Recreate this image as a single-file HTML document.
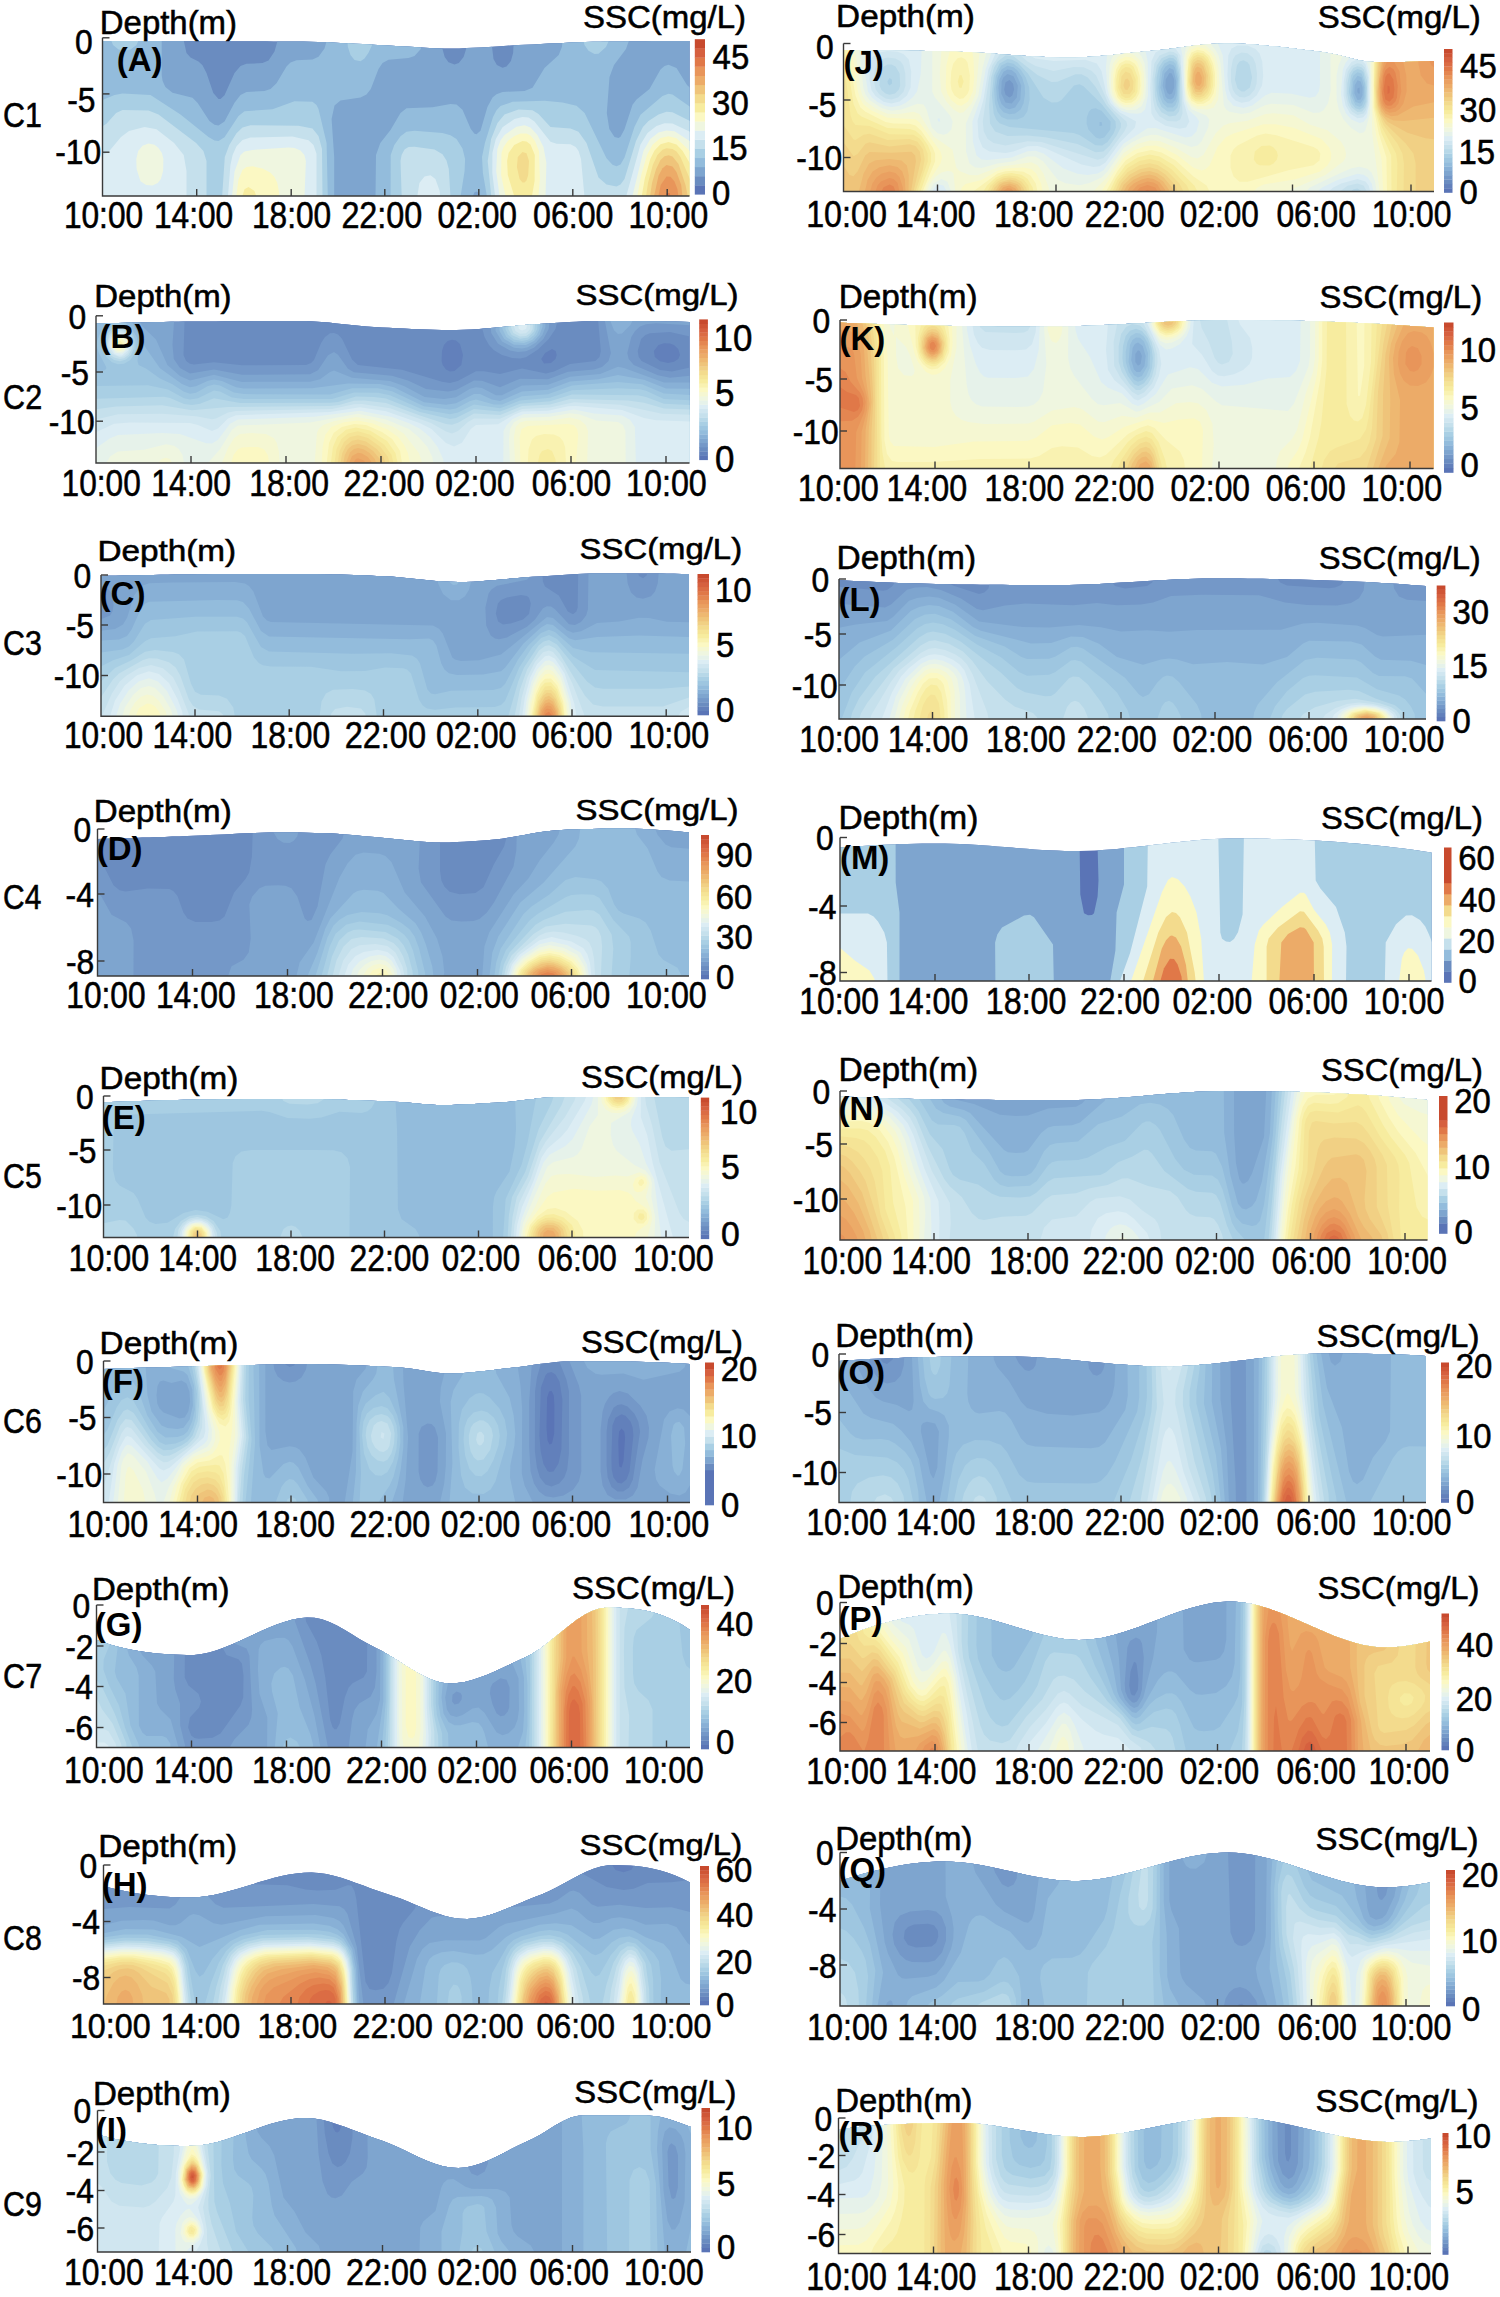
<!DOCTYPE html><html><head><meta charset="utf-8"><style>html,body{margin:0;padding:0;background:#fff}svg{display:block}text{font-family:"Liberation Sans",sans-serif}</style></head><body><svg width="1500" height="2297" viewBox="0 0 1500 2297" font-family="Liberation Sans, sans-serif" fill="#000"><clipPath id="cA"><path d="M102.5 41 109.9 41 117.4 41 124.8 41 132.2 41 139.7 41 147.1 41 154.5 41 161.9 41 169.4 41.1 176.8 41.1 184.2 41.1 191.7 41.1 199.1 41.1 206.5 41.1 214 41.1 221.4 41.2 228.8 41.2 236.2 41.2 243.7 41.2 251.1 41.3 258.5 41.3 266 41.3 273.4 41.4 280.8 41.4 288.3 41.4 295.7 41.5 303.1 41.5 310.6 41.7 318 41.9 325.4 42.1 332.8 42.5 340.3 42.9 347.7 43.3 355.1 43.7 362.6 44.1 370 44.5 377.4 44.9 384.9 45.2 392.3 45.7 399.7 46.2 407.1 46.6 414.6 47.1 422 47.6 429.4 48 436.9 48.3 444.3 48.5 451.7 48.5 459.2 48.4 466.6 48.1 474 47.8 481.4 47.4 488.9 46.9 496.3 46.4 503.7 45.9 511.2 45.5 518.6 45.1 526 44.7 533.5 44.4 540.9 44 548.3 43.6 555.8 43.2 563.2 42.9 570.6 42.6 578 42.3 585.5 42 592.9 41.8 600.3 41.7 607.8 41.6 615.2 41.5 622.6 41.4 630.1 41.3 637.5 41.3 644.9 41.2 652.3 41.1 659.8 41.1 667.2 41.1 674.6 41 682.1 41 689.5 41 689.5 196 102.5 196Z"/></clipPath>
<g clip-path="url(#cA)">
<rect x="102.5" y="39.0" width="588.0" height="158.0" fill="#5a74b6"/>
<path fill-rule="evenodd" fill="#6a8cc0" d="M690.5 197 102.5 197 102.5 39 690.5 39 690.5 197Z"/>
<path fill-rule="evenodd" fill="#7ea5cf" d="M690.5 197 102.5 197 102.5 39 183.4 39 186.5 53.1 190.5 57.6 198.5 61.5 202.5 65.3 206.5 72.9 213.3 93 218.5 99.1 220.5 99 224.5 95.2 234.5 73 240.5 66 246.5 63.8 262.5 63.1 268.5 60.5 274.5 51.5 278 39 442 39 442.5 49 444.7 57 448.5 62.3 454.5 64.5 458.8 63 463.6 57 466.1 49 466.8 39 491.1 39 493.5 59 496.9 65 502.5 67.7 506.5 66.6 510.9 61 513.1 53 513.9 39 690.5 39 690.5 197Z"/>
<path fill-rule="evenodd" fill="#93bcdc" d="M332.5 197 102.5 197 102.5 39 161.7 39 161.7 75 162.6 81 165.4 87 172.5 92.7 192.5 97.8 197.7 103 209.4 121 214.5 124.7 218.5 125.4 224.5 121.4 234.5 102.8 240.5 94.9 246.5 91.9 264.5 91.1 270.5 89.1 276.5 83.2 286.5 66.6 290.5 62.4 296.5 60.3 312.5 59.6 318.5 56.7 324.5 48.6 327.2 39 422.5 39 420.8 49 414.5 56.1 408.5 58.1 388.5 59.7 382.5 62.9 378.5 69 370.8 89 366.5 94.5 360.5 97.4 340.5 100.6 334.5 105.4 331.6 119 334.2 157 334.2 197 332.5 197ZM690.5 197 480 197 478.5 192.6 476.5 191.4 474.5 192.3 472.5 197 375.5 197 376 155 380.3 143 390.5 130 400.5 112.9 406.5 108.3 432.5 107.2 450.5 104 456.5 104.6 462.5 109.7 470.8 129 474.5 133.7 476.5 134.3 480.5 130.7 487.4 107 492.5 97.5 496.5 94.2 502.5 91.9 524.5 91 532.5 87.7 544.5 68.1 558.7 55 561.9 47 562.8 39 629.5 39 626 49 614 65 609.5 77 606.8 113 609.3 129 614.5 137 618.5 138.1 620.5 136.8 624.5 129.2 632.5 104.7 636.5 99.4 649.5 89 660.5 69.6 664.5 66 668.5 64.8 676.5 68.1 687 85 690.5 88.2 690.5 197Z"/>
<path fill-rule="evenodd" fill="#a9cfe4" d="M130.5 49.6 124.5 50.7 118.5 49.4 113 45 110.6 39 139.1 39 136.5 45.1 130.5 49.6ZM360.5 61.2 354.5 59.9 350.5 55 347.9 47 347.2 39 373.2 39 372.1 45 368.5 52.8 364.5 58.5 360.5 61.2ZM598.5 53.7 594.5 54.1 588.5 50.8 584.5 45 583 39 609.6 39 606 47 598.5 53.7ZM326.5 197 102.5 197 102.5 99.9 114.5 95.1 122.5 93.5 150.5 95.1 180.5 114.4 208.5 137.1 214.5 140.5 218.5 141 224.5 137.3 238.5 115.9 244.5 111.2 272.5 109.2 294.5 101.3 312.5 101.7 316.5 105 318.5 109 326.6 143 327.8 197 326.5 197ZM690.5 197 487 197 482.9 173 482 157 484.9 143 493 117 496.5 110.2 500.5 106 512.5 101.8 544.5 100.7 562.5 102.5 576.5 105.7 584.6 113 606.5 158.2 612.5 164.8 616.5 166.3 620.5 164.4 624.5 157.4 634.5 126.8 640.5 114.8 662.5 96 668.5 93.8 672.5 94.6 690.5 107.1 690.5 197ZM460.5 197 390.6 197 390.7 155 394.3 145 400.5 136.2 406.5 131.8 414.5 130.7 442.5 133 450.5 135.2 456.5 139 462.5 148.5 465.1 159 464.6 171 460.5 197Z"/>
<path fill-rule="evenodd" fill="#c5e0ec" d="M690.5 197 491.3 197 487.7 161 491.1 139 497.5 123 504.5 114.4 518.5 109.4 532.5 110.2 538.5 114 550.5 126.9 570.5 128.5 578.5 131.7 586.5 143.1 598.5 177.4 606.5 184.5 616.5 186.5 620.5 184.5 624.5 179 636 141 642.9 127 648.5 121 658.5 114.5 666.5 111.8 672.5 112.3 690.5 121.3 690.5 197ZM206.5 197 102.5 197 102.5 126.3 106.5 123.7 116.1 113 122.5 109.9 148.5 110.4 158.5 114.5 196.1 143 203.4 151 206.5 161 206.5 197ZM322.5 197 222.1 197 224.8 157 229.3 145 236.5 133.2 242.5 127.4 250.5 125.3 298.5 125.8 312.5 128.6 318.5 136.1 322 149 322.5 197ZM450.5 197 401.7 197 400.5 161 401.6 155 404.5 149.6 408.5 147 414.5 146.7 434.5 149.6 442.5 154.2 446.5 160.6 448.8 169 450.5 197Z"/>
<path fill-rule="evenodd" fill="#dcedf4" d="M584.5 197 495.2 197 492.3 173 492.4 153 495.8 139 502.5 127.3 514.5 118.9 522.5 117 528.5 117.6 534.5 121.6 550.5 141.7 556.5 143.7 570.5 144.3 575.7 147 578.6 151 581 159 584.5 197ZM690.5 197 626 197 640.5 144.5 647.5 133 656.5 125.9 664.5 123.3 672.5 123.5 690.5 132.1 690.5 197ZM186.5 197 102.5 197 102.5 154.9 108.5 151.9 121 137 129 131 144.5 126.9 156.5 129.3 174.1 143 183.7 155 186.5 171 186.5 197ZM316.5 197 227.9 197 230.4 165 232.6 155 236.5 146.3 242.5 139.9 250.5 137.6 292.5 136.4 308.5 140.2 313.5 145 316.5 153.7 316.5 197ZM438.5 197 417.2 197 419.4 183 424.5 176.4 430.5 175.3 435.4 179 439.7 191 440.2 197 438.5 197Z"/>
<path fill-rule="evenodd" fill="#eff6e0" d="M544.5 197 499.7 197 496.2 171 497.3 149 500.5 140.6 504.5 134.9 516.5 126.8 524.5 125.3 530.5 127.4 537.4 135 543.5 147 546.4 163 545.5 197 544.5 197ZM690.5 197 632.2 197 643.4 151 650.3 139 658.5 132.5 666.5 130.4 674.5 131.3 690.5 141.5 690.5 197ZM152.5 185.4 146.2 185 140.5 181.2 136.6 169 136.3 159 138.2 151 142.5 145.7 148.5 143.4 154.5 144.8 158.5 147.9 161.9 153 163.4 159 163.1 171 160.9 179 157.8 183 152.5 185.4ZM304.5 197 232 197 234.5 171.8 240.5 155.1 244.5 151.6 252.5 149.9 288.5 147.5 294.5 148 300.5 150.5 304.4 155 305.9 161 304.5 197Z"/>
<path fill-rule="evenodd" fill="#fbf8c3" d="M536.5 197 505.7 197 501.1 175 501.5 153 503.6 147 507.8 141 514.5 135.9 520.5 133.4 526.5 133.4 530.5 135.6 535 141 539 151 539.9 179 538.4 197 536.5 197ZM690.5 197 637.1 197 641.2 175 647 155 652.5 144.7 660.5 138 668.5 136.3 676.5 138.3 690.5 151.6 690.5 197ZM278.5 197 236.1 197 238.5 179.6 242.5 170.1 246.5 166.9 252.5 166.3 262.5 168.6 270.5 172.8 274.5 177 277.3 183 279.2 193 278.5 197Z"/>
<path fill-rule="evenodd" fill="#f7ec9f" d="M530.5 197 514.5 197 507.8 175 507.1 161 508.6 153 514.2 145 522.5 141 526.5 141.4 530.5 144.4 534.8 155 534.6 181 531.8 197 530.5 197ZM690.5 197 641.6 197 644.7 179 650.3 159 654.5 150.4 660.5 144.3 668.5 142.1 676.5 144.6 682.5 150.8 690.5 164.4 690.5 197ZM256.5 197 242.1 197 244.5 189.3 248.5 187.1 254.5 191 256.5 197Z"/>
<path fill-rule="evenodd" fill="#f3db8d" d="M690.5 197 645.9 197 648 183 652.8 165 657.4 155 662.5 149.7 666.5 148.2 672.5 149 676.5 151.6 680.5 156.9 690.5 180.5 690.5 197ZM524.5 182.6 522.5 182.5 519.6 179 516.9 167 517.8 157 522.5 152 526.5 153.2 529 161 528.2 175 526.5 180.6 524.5 182.6Z"/>
<path fill-rule="evenodd" fill="#efc47a" d="M686.5 197 650 197 652 183 656.1 169 660.5 160.1 664.5 156.3 668.5 155.3 672.5 156.6 678.5 163.9 685.5 185 687.5 195 687.6 197 686.5 197Z"/>
<path fill-rule="evenodd" fill="#ecab68" d="M682.5 197 653.9 197 658.5 175.8 662.5 168.2 666.5 165 672.5 166.5 676.5 171.9 681.2 185 682.5 197Z"/>
<path fill-rule="evenodd" fill="#e8955a" d="M678.5 197 658.2 197 660.7 185 666.5 176.6 670.5 176.8 674.5 181.6 677.4 189 678.5 197Z"/>
<path fill-rule="evenodd" fill="#e07848" d="M670.5 197 665.2 197 666.5 193.1 669.6 193 670.5 197Z"/>
</g>
<path d="M102.5 37.8V196H689.5" fill="none" stroke="#3a3a3a" stroke-width="1.4"/>
<path d="M102.5 37.8h7" stroke="#3a3a3a" stroke-width="1.4"/>
<path d="M102.5 93.9h7" stroke="#3a3a3a" stroke-width="1.4"/>
<path d="M102.5 152.2h7" stroke="#3a3a3a" stroke-width="1.4"/>
<path d="M196.7 196v-7" stroke="#3a3a3a" stroke-width="1.4"/>
<path d="M291.2 196v-7" stroke="#3a3a3a" stroke-width="1.4"/>
<path d="M384.8 196v-7" stroke="#3a3a3a" stroke-width="1.4"/>
<path d="M478.8 196v-7" stroke="#3a3a3a" stroke-width="1.4"/>
<path d="M572.8 196v-7" stroke="#3a3a3a" stroke-width="1.4"/>
<path d="M667.2 196v-7" stroke="#3a3a3a" stroke-width="1.4"/>
<rect x="694.8" y="185.2" width="10.2" height="9.4" fill="#5a74b6"/>
<rect x="694.8" y="176.1" width="10.2" height="9.4" fill="#6a8cc0"/>
<rect x="694.8" y="166.9" width="10.2" height="9.4" fill="#7ea5cf"/>
<rect x="694.8" y="157.8" width="10.2" height="9.4" fill="#93bcdc"/>
<rect x="694.8" y="148.7" width="10.2" height="9.4" fill="#a9cfe4"/>
<rect x="694.8" y="139.6" width="10.2" height="9.4" fill="#c5e0ec"/>
<rect x="694.8" y="130.4" width="10.2" height="9.4" fill="#dcedf4"/>
<rect x="694.8" y="121.3" width="10.2" height="9.4" fill="#eff6e0"/>
<rect x="694.8" y="112.2" width="10.2" height="9.4" fill="#fbf8c3"/>
<rect x="694.8" y="103.1" width="10.2" height="9.4" fill="#f7ec9f"/>
<rect x="694.8" y="93.9" width="10.2" height="9.4" fill="#f3db8d"/>
<rect x="694.8" y="84.8" width="10.2" height="9.4" fill="#efc47a"/>
<rect x="694.8" y="75.7" width="10.2" height="9.4" fill="#ecab68"/>
<rect x="694.8" y="66.6" width="10.2" height="9.4" fill="#e8955a"/>
<rect x="694.8" y="57.4" width="10.2" height="9.4" fill="#e07848"/>
<rect x="694.8" y="48.3" width="10.2" height="9.4" fill="#d6603f"/>
<rect x="694.8" y="39.2" width="10.2" height="9.4" fill="#c84a2e"/>
<text x="63.9" y="227.9" font-size="36.2" textLength="79.2" lengthAdjust="spacingAndGlyphs" stroke="#000" stroke-width="0.55">10:00</text>
<text x="154.0" y="227.9" font-size="36.2" textLength="79.2" lengthAdjust="spacingAndGlyphs" stroke="#000" stroke-width="0.55">14:00</text>
<text x="252.0" y="227.9" font-size="36.2" textLength="79.2" lengthAdjust="spacingAndGlyphs" stroke="#000" stroke-width="0.55">18:00</text>
<text x="341.4" y="227.9" font-size="36.2" textLength="80.9" lengthAdjust="spacingAndGlyphs" stroke="#000" stroke-width="0.55">22:00</text>
<text x="437.5" y="227.9" font-size="36.2" textLength="79.5" lengthAdjust="spacingAndGlyphs" stroke="#000" stroke-width="0.55">02:00</text>
<text x="533.1" y="227.9" font-size="36.2" textLength="80.4" lengthAdjust="spacingAndGlyphs" stroke="#000" stroke-width="0.55">06:00</text>
<text x="628.6" y="227.9" font-size="36.2" textLength="79.7" lengthAdjust="spacingAndGlyphs" stroke="#000" stroke-width="0.55">10:00</text>
<text x="75.1" y="54.1" font-size="34.2" textLength="17.7" lengthAdjust="spacingAndGlyphs" stroke="#000" stroke-width="0.55">0</text>
<text x="67.2" y="111.6" font-size="34.2" textLength="28.3" lengthAdjust="spacingAndGlyphs" stroke="#000" stroke-width="0.55">-5</text>
<text x="55.3" y="163.7" font-size="34.2" textLength="45.9" lengthAdjust="spacingAndGlyphs" stroke="#000" stroke-width="0.55">-10</text>
<text x="712.6" y="68.5" font-size="34.6" textLength="36.6" lengthAdjust="spacingAndGlyphs" stroke="#000" stroke-width="0.55">45</text>
<text x="712.1" y="114.7" font-size="34.6" textLength="36.6" lengthAdjust="spacingAndGlyphs" stroke="#000" stroke-width="0.55">30</text>
<text x="710.9" y="160.2" font-size="34.6" textLength="36.6" lengthAdjust="spacingAndGlyphs" stroke="#000" stroke-width="0.55">15</text>
<text x="712.1" y="205.4" font-size="34.6" textLength="18.3" lengthAdjust="spacingAndGlyphs" stroke="#000" stroke-width="0.55">0</text>
<text x="99.8" y="33.5" font-size="32.4" textLength="137.2" lengthAdjust="spacingAndGlyphs" stroke="#000" stroke-width="0.55">Depth(m)</text>
<text x="582.9" y="27.6" font-size="31.5" textLength="163.1" lengthAdjust="spacingAndGlyphs" stroke="#000" stroke-width="0.55">SSC(mg/L)</text>
<text x="3.1" y="127.0" font-size="34.2" textLength="38.9" lengthAdjust="spacingAndGlyphs" stroke="#000" stroke-width="0.55">C1</text>
<text x="116.8" y="70.9" font-size="33.0" font-weight="bold">(A)</text>
<clipPath id="cB"><path d="M96 323.5 103.5 323.3 111 323.1 118.5 322.9 126.1 322.7 133.6 322.6 141.1 322.4 148.6 322.2 156.1 322.1 163.6 322 171.1 321.8 178.6 321.7 186.2 321.6 193.7 321.6 201.2 321.5 208.7 321.4 216.2 321.4 223.7 321.3 231.2 321.3 238.7 321.2 246.3 321.2 253.8 321.1 261.3 321.1 268.8 321.1 276.3 321 283.8 321 291.3 321 298.8 321 306.4 321.1 313.9 321.4 321.4 322 328.9 322.6 336.4 323.4 343.9 324.2 351.4 325 358.9 325.8 366.5 326.4 374 326.9 381.5 327.4 389 327.8 396.5 328.2 404 328.6 411.5 329 419 329.3 426.6 329.6 434.1 329.8 441.6 329.9 449.1 330 456.6 329.9 464.1 329.7 471.6 329.4 479.1 328.9 486.7 328.3 494.2 327.7 501.7 327.1 509.2 326.4 516.7 325.7 524.2 325.1 531.7 324.5 539.2 324 546.8 323.6 554.3 323.1 561.8 322.6 569.3 322.1 576.8 321.7 584.3 321.3 591.8 321.1 599.3 321 606.9 321 614.4 321 621.9 321 629.4 321 636.9 321.1 644.4 321.1 651.9 321.2 659.4 321.3 667 321.4 674.5 321.6 682 321.8 689.5 322 689.5 463 96 463Z"/></clipPath>
<g clip-path="url(#cB)">
<rect x="96.0" y="319.0" width="594.0" height="144.0" fill="#5a74b6"/>
<path fill-rule="evenodd" fill="#6280bb" d="M690 463 96 463 96 319 690 319 690 463Z"/>
<path fill-rule="evenodd" fill="#6a8cc0" d="M690 463 96 463 96 319 690 319 690 463ZM454.5 371 461.3 365 463 355 460 343.9 456 340.5 452 339.7 447.6 341 443.9 345 442 351 441.6 361 442.6 365 446 369.5 450 371.4 454.5 371ZM668.2 363 674 361.8 678.3 359 680 355 678.3 349 674 345.1 670 343.6 664 343.3 658.5 345 653.8 351 654.8 357 660 361.3 668.2 363ZM551 363 555.5 359 556.7 355 555.7 351 552 349.1 545.1 353 541.2 359 544 363.4 551 363Z"/>
<path fill-rule="evenodd" fill="#7498c8" d="M690 463 96 463 96 319 184.6 319 183.5 355 186.1 361 190 363.7 194 364.4 214 362.2 242 365.3 306 365 311.1 363 314 359.9 321.1 343 325 337 330 333.2 334 332.9 338 334.6 342 338.8 352 359.6 357.9 365 402 369.8 442 381.8 450 383 457.7 381 476 371.3 484 371.3 500 374.1 522 368.5 546 373.4 554 371.5 570 364.1 595.3 361 599.5 357 600.8 351 598 319 690 319 690 336.6 670 331.9 650 333.2 645.4 335 641.1 339 637.7 351 638.7 357 641.6 361 660 370.1 672 371.5 690 367.6 690 463ZM526 357.3 520 358.6 512 357.9 502 354.9 494 350.2 489 345 484.5 337 482.4 329 482.3 319 557.9 319 555.5 329 548.7 339 538 349.6 526 357.3Z"/>
<path fill-rule="evenodd" fill="#7ea5cf" d="M690 463 96 463 96 319 174.2 319 172.5 345 173.8 359 180 368 190 373.5 214 369.5 242 374.8 310 374.3 318 370.2 328 355.2 334 352.1 338 354.8 348 368.7 354 372.2 392 375.8 408 380.6 426 389 448 391.6 456 390 474 380.5 482 380.7 500 387.2 520 378.7 548 379.3 568 371.8 594 369.4 602 367 608.5 361 610.9 353 604.5 319 690 319 690 325.3 656 323.3 646 324.2 640 326.6 635.1 331 631.3 337 627.3 353 628.7 359 633.8 365 658 375.3 670 377.7 690 375.8 690 463ZM526 351.3 518 352 510 350.5 498 343.7 491.2 333 490.2 319 549.8 319 548.7 329 543.3 339 534 347.7 526 351.3Z"/>
<path fill-rule="evenodd" fill="#88b0d6" d="M690 463 96 463 96 319 138.7 319 142 326.1 156 339.6 167.4 365 180 375.9 190 380.6 214 374.8 242 381.9 310 381.7 320 379.2 330 371.9 334 370.6 352 377.8 390 380.9 404 385.9 424.7 397 444 399 456 397.3 470 388.8 476 387.2 482 388.1 496 395.3 502 395.3 522 385.4 548 384.7 570 376.7 600 373.9 618 366.8 624 367.9 664 382.6 690 382.5 690 463ZM528 347.2 522 348.4 514 347.7 502 341.5 495.6 331 495.4 319 545.6 319 545.4 327 542.4 335 536 342.6 528 347.2ZM622 333.4 618 333.9 614 330.3 609.6 319 633.5 319 630.4 325 622 333.4Z"/>
<path fill-rule="evenodd" fill="#93bcdc" d="M690 463 96 463 96 319 130.5 319 146 348.3 160 368.2 182 383.9 190 387.2 196 386.3 208 380.7 214 379.6 222 381 236 387.3 244 388.4 312 388.3 348 383.4 380 384.1 394 387.2 424 402.2 446 404.7 456 403.3 474 393.9 480 394.1 492 399.6 500 401 522 391.4 548 389.7 570 381.4 598 379.3 618 375.1 644 379.8 666 388.5 690 388.8 690 463ZM526 345.1 514 344.7 504.2 339 499.5 331 499.5 319 542.6 319 542.5 327 539.5 335 534 341.1 526 345.1ZM622 319.3 620 320.5 617.9 319 622 319.3Z"/>
<path fill-rule="evenodd" fill="#9ec6e0" d="M690 463 96 463 96 371.3 104 370.4 106.2 369 106.2 367 98.8 353 97 347 97.1 341 101 331 106 324.7 112.9 319 122 319.1 132 329 136.6 337 138.8 347 137.5 361 138.6 365 146 368.5 160 378.4 172 384 184 391.8 190 393.7 196 392.7 208 386.1 214 384.6 220 385.6 234 392.6 244 394.1 330 394.4 352 388.3 378 388.3 392 391.3 424 406.3 450 409.5 456 408.4 470 401 476 399.4 494 404.5 502 404.5 522 396.2 548 394.2 572 385.6 618 381.9 642 384.2 664 393.6 690 394.9 690 463ZM524 343.1 514 342 506.3 337 502.4 329 503 319 540 319 539.6 329 536.8 335 532 339.9 524 343.1Z"/>
<path fill-rule="evenodd" fill="#a9cfe4" d="M522 341.1 514 339.5 508 334.8 505.4 329 506.2 319 537.7 319 537.3 329 534.2 335 528 339.7 522 341.1ZM124 363.8 118 364.2 112 362.2 106.3 357 102.6 349 102.3 341 105.1 333 110 327.6 116 324.6 122 324.8 128 328.2 133.3 335 135.4 341 135.7 349 133.9 355 130 360.3 124 363.8ZM690 463 96 463 96 386 148 385.3 168 389.4 184 398.2 190 399.6 198 398.2 214 390.5 220 391.6 232 397.4 244 398.9 332 399.1 354 392.6 378 392.8 390 395.3 422 409.3 450 414.2 458 412.4 474 404.6 500 408.3 520 400.5 550 397.8 572 390.2 618 388.3 640 389.3 646 390.7 664 398.9 690 400.2 690 463Z"/>
<path fill-rule="evenodd" fill="#b7d8e8" d="M528 337.4 520 338.8 511.6 335 508.3 329 509.2 319 535.4 319 534.3 331 528 337.4ZM120 361.2 114 360 109.8 357 105.8 351 104.5 345 105.2 339 108.2 333 112 329.3 118 327.1 124 328.1 128 330.8 132.3 337 133.9 343 133.5 349 131 355 126 359.6 120 361.2ZM690 463 96 463 96 398.7 164 396.8 170 398 184 404 192 405 200 403.7 214 398.3 240 403 330 402.8 338 402 356 396.6 374 396.9 386 398.6 420 412.1 450 419.1 456 418.1 474 409.1 500 411.6 520 403.7 550 401.3 572 394.6 638 395.3 646 396.9 664 403.8 690 404.9 690 463Z"/>
<path fill-rule="evenodd" fill="#c5e0ec" d="M526 335.9 520 336.5 513.3 333 510.9 327 512.2 319 532.9 319 532.7 329 530.3 333 526 335.9ZM120 359 114 357.6 110.6 355 107.9 351 106.4 345 109.1 335 113.1 331 118 329.1 124 330.1 127.9 333 130.7 337 132.3 343 131.8 349 128.5 355 124 358.2 120 359ZM690 463 96 463 96 409.3 116 406.5 162 405.3 192 410.3 228 407 330 406 339.2 405 354 400.8 364 400.4 386 403 420 415.5 446 424 452 424.8 458 422.8 474 413.6 500 414.9 522 406.1 550 404.4 570 398.9 628 400.5 644 402.7 664 408.6 690 409.6 690 463Z"/>
<path fill-rule="evenodd" fill="#d0e6f0" d="M526 333.2 520 333.8 515.5 331 514 327 515.6 319 530.1 319 530.1 329 526 333.2ZM120 357.3 112 354.1 108.7 349 107.9 345 108.8 339 111.1 335 116 331.4 120 330.7 124 331.8 128 335.3 131 345 128 353.1 124 356.3 120 357.3ZM690 463 96 463 96 419.6 118 414.3 162 413.7 196 416.3 212 419.3 216 418.6 228 412.5 236 411 332 408.9 354 404.3 362 404 390 408.3 431 423 446 431.6 452 433.4 458 431 468 421.9 474 418.6 500 418.7 522 408.9 550 407.5 574 402.2 620 404.8 662 413.7 690 414.7 690 463Z"/>
<path fill-rule="evenodd" fill="#dcedf4" d="M526 329.1 522 330.6 518.9 329 518.1 325 521 319 525.2 319 526 320.5 527.3 325 526 329.1ZM122 355.4 118 355.6 114 353.8 109.6 347 109.6 341 111.4 337 118 332.4 124 333.5 127.6 337 129.3 341 129.4 347 128 350.6 122 355.4ZM690 463 96 463 96 432.2 114 423.8 130 422.6 190 423.1 197.9 425 212 431.1 218 428.5 228 418.5 236 415.2 330 411.9 360 407.3 386 411.2 419.6 423 431.5 429 446 443.1 454 446.6 462 442.7 470.7 429 476 425.1 498 424.3 514 414.7 522 411.6 548 410.7 568 406.3 576 405.9 622 409.9 644 417.9 656 420.2 690 421.6 690 463Z"/>
<path fill-rule="evenodd" fill="#e6f2ea" d="M122 353.8 115.4 353 111 347 111.7 339 118 333.9 124 335.1 128.1 341 127.4 349 122 353.8ZM442 463 96 463 96 448.2 110 438.3 118 435.1 162 432.9 180 434.1 206 443.3 212 443.6 218 439.8 230 423.7 238 419.6 314 416.7 360 410.7 392 417 408.7 423 420.4 429 430 436.9 437.6 447 443.1 459 443.7 463 442 463ZM634 463 503.3 463 503.5 431 506.7 425 512.7 419 524 414.1 548 413.7 574 409.5 594 413.4 622 415.5 630 419.7 634.9 427 635.9 463 634 463Z"/>
<path fill-rule="evenodd" fill="#eff6e0" d="M124 351.2 118 352.6 113.3 349 112 342.6 116 336.2 122 335.6 126 339.2 127.2 345 124 351.2ZM432 463 207.9 463 220 449.3 232 429.8 238 425.6 310 422.6 358 413.8 386 419.4 408.9 429 418.6 437 427.4 447 432.3 457 433.3 463 432 463ZM624 463 509.9 463 509 439 510 429 514 422.3 522 417.7 550 416.8 570 413.3 580 414.5 596 420.4 618 422.1 622.9 425 625.4 431 625.7 463 624 463ZM184 463 106.3 463 110 456.4 118 451.4 144 449.7 166 444.2 174 445.7 178.7 449 182.5 455 184 463Z"/>
<path fill-rule="evenodd" fill="#f5f7d2" d="M120 351.2 116 350 113.3 345 115 339 120 336.7 124 338.7 125.9 343 124.2 349 120 351.2ZM420 463 314.7 463 316.9 433 318.8 429 323.2 425 334.4 421 356 417.1 374 420 393.8 427 404 433.7 418.9 453 421.6 461 421.8 463 420 463ZM586 463 515 463 513.9 437 515.7 427 520 422.5 526 420.7 550 420.6 570 417.6 580 420 585.7 425 588 431 587.2 463 586 463ZM278 463 221.8 463 228 447.9 234 438.3 240 434.1 252 433.1 266 433.9 274 438.2 276.8 443 278.8 451 279.6 463 278 463ZM172 463 158.3 463 161.5 459 166 457.8 170 459.1 172 463Z"/>
<path fill-rule="evenodd" fill="#fbf8c3" d="M120 349.6 116 347.8 114.8 343 116 340.2 120 338.3 122 339 124.5 343 123.8 347 120 349.6ZM408 463 321.7 463 322.6 447 325.2 435 331.3 427 344 422.3 358 420.4 372 423.2 388 429.7 398.1 437 404.1 445 407.9 453 409.9 463 408 463ZM576 463 520.4 463 519.7 437 521.6 429 528 425.9 568 423.9 574 425.2 577.1 429 578.2 435 576 463ZM268 463 231.2 463 233.5 455 238 449.2 242 447.4 250 446.9 258 447.1 264 449.3 268 455.6 269.1 463 268 463Z"/>
<path fill-rule="evenodd" fill="#f9f2b1" d="M120 347.4 118 347 116.7 343 120 340.5 122.6 343 122 346.1 120 347.4ZM402 463 326.7 463 329 443 333.6 433 341.8 427 354 423.9 366 425.1 382 431.9 392.2 439 400.1 451 402 463ZM566 463 527.8 463 528.6 449 532 439.5 536 436.1 544 434.1 554 434.6 559.6 437 563 441 565.1 447 566 463Z"/>
<path fill-rule="evenodd" fill="#f7ec9f" d="M396 463 330.9 463 332.9 447 337.3 437 346 429.7 356 427.4 370 430.5 387.1 441 395.5 453 397.6 463 396 463ZM554 463 537.9 463 539.5 455 542 451 548 448.9 552 451.1 555.4 459 555.9 463 554 463Z"/>
<path fill-rule="evenodd" fill="#f5e496" d="M392 463 334.5 463 336.5 449 341.4 439 348 433.4 358 431.2 370 434.8 384 444.4 391.6 455 393.4 463 392 463Z"/>
<path fill-rule="evenodd" fill="#f3db8d" d="M388 463 337.7 463 339.6 451 344 442.1 350 437 358 435.2 368 438.1 380.5 447 388 457 389.5 463 388 463Z"/>
<path fill-rule="evenodd" fill="#f1d084" d="M384 463 340.5 463 342.3 453 346 445.7 352 440.7 358 439.4 366 441.5 376.7 449 383.4 457 385.4 463 384 463Z"/>
<path fill-rule="evenodd" fill="#efc47a" d="M380 463 343.3 463 344.8 455 348 449.1 352 445.4 358 443.7 366 445.9 373.1 451 379.8 459 381.1 463 380 463Z"/>
<path fill-rule="evenodd" fill="#eeb871" d="M376 463 346 463 350 452.4 354 449.1 358 448.1 364 449.5 369.5 453 374.9 459 376 463Z"/>
<path fill-rule="evenodd" fill="#ecab68" d="M370 463 349.1 463 352 456 358 452.8 362 453.4 367.9 457 370.9 461 371.5 463 370 463Z"/>
<path fill-rule="evenodd" fill="#eaa061" d="M364 463 353.3 463 355.8 459 358 458.2 364 460.4 365.6 463 364 463Z"/>
</g>
<path d="M96 315.8V463H689.5" fill="none" stroke="#3a3a3a" stroke-width="1.4"/>
<path d="M96 315.8h7" stroke="#3a3a3a" stroke-width="1.4"/>
<path d="M96 372h7" stroke="#3a3a3a" stroke-width="1.4"/>
<path d="M96 421.2h7" stroke="#3a3a3a" stroke-width="1.4"/>
<path d="M191 463v-7" stroke="#3a3a3a" stroke-width="1.4"/>
<path d="M286 463v-7" stroke="#3a3a3a" stroke-width="1.4"/>
<path d="M381 463v-7" stroke="#3a3a3a" stroke-width="1.4"/>
<path d="M476 463v-7" stroke="#3a3a3a" stroke-width="1.4"/>
<path d="M571 463v-7" stroke="#3a3a3a" stroke-width="1.4"/>
<path d="M666 463v-7" stroke="#3a3a3a" stroke-width="1.4"/>
<rect x="699.2" y="455.5" width="8.7" height="4.6" fill="#5a74b6"/>
<rect x="699.2" y="451.3" width="8.7" height="4.6" fill="#6280bb"/>
<rect x="699.2" y="447" width="8.7" height="4.6" fill="#6a8cc0"/>
<rect x="699.2" y="442.8" width="8.7" height="4.6" fill="#7498c8"/>
<rect x="699.2" y="438.5" width="8.7" height="4.6" fill="#7ea5cf"/>
<rect x="699.2" y="434.3" width="8.7" height="4.6" fill="#88b0d6"/>
<rect x="699.2" y="430" width="8.7" height="4.6" fill="#93bcdc"/>
<rect x="699.2" y="425.8" width="8.7" height="4.6" fill="#9ec6e0"/>
<rect x="699.2" y="421.5" width="8.7" height="4.6" fill="#a9cfe4"/>
<rect x="699.2" y="417.3" width="8.7" height="4.6" fill="#b7d8e8"/>
<rect x="699.2" y="413" width="8.7" height="4.6" fill="#c5e0ec"/>
<rect x="699.2" y="408.7" width="8.7" height="4.6" fill="#d0e6f0"/>
<rect x="699.2" y="404.5" width="8.7" height="4.6" fill="#dcedf4"/>
<rect x="699.2" y="400.2" width="8.7" height="4.6" fill="#e6f2ea"/>
<rect x="699.2" y="396" width="8.7" height="4.6" fill="#eff6e0"/>
<rect x="699.2" y="391.7" width="8.7" height="4.6" fill="#f5f7d2"/>
<rect x="699.2" y="387.5" width="8.7" height="4.6" fill="#fbf8c3"/>
<rect x="699.2" y="383.2" width="8.7" height="4.6" fill="#f9f2b1"/>
<rect x="699.2" y="379" width="8.7" height="4.6" fill="#f7ec9f"/>
<rect x="699.2" y="374.7" width="8.7" height="4.6" fill="#f5e496"/>
<rect x="699.2" y="370.5" width="8.7" height="4.6" fill="#f3db8d"/>
<rect x="699.2" y="366.2" width="8.7" height="4.6" fill="#f1d084"/>
<rect x="699.2" y="361.9" width="8.7" height="4.6" fill="#efc47a"/>
<rect x="699.2" y="357.7" width="8.7" height="4.6" fill="#eeb871"/>
<rect x="699.2" y="353.4" width="8.7" height="4.6" fill="#ecab68"/>
<rect x="699.2" y="349.2" width="8.7" height="4.6" fill="#eaa061"/>
<rect x="699.2" y="344.9" width="8.7" height="4.6" fill="#e8955a"/>
<rect x="699.2" y="340.7" width="8.7" height="4.6" fill="#e48651"/>
<rect x="699.2" y="336.4" width="8.7" height="4.6" fill="#e07848"/>
<rect x="699.2" y="332.2" width="8.7" height="4.6" fill="#db6c44"/>
<rect x="699.2" y="327.9" width="8.7" height="4.6" fill="#d6603f"/>
<rect x="699.2" y="323.7" width="8.7" height="4.6" fill="#cf5536"/>
<rect x="699.2" y="319.4" width="8.7" height="4.6" fill="#c84a2e"/>
<text x="61.6" y="495.9" font-size="37.6" textLength="79.2" lengthAdjust="spacingAndGlyphs" stroke="#000" stroke-width="0.55">10:00</text>
<text x="151.2" y="495.9" font-size="37.6" textLength="79.8" lengthAdjust="spacingAndGlyphs" stroke="#000" stroke-width="0.55">14:00</text>
<text x="249.2" y="495.9" font-size="37.6" textLength="79.8" lengthAdjust="spacingAndGlyphs" stroke="#000" stroke-width="0.55">18:00</text>
<text x="343.4" y="495.9" font-size="37.6" textLength="81.2" lengthAdjust="spacingAndGlyphs" stroke="#000" stroke-width="0.55">22:00</text>
<text x="435.2" y="495.9" font-size="37.6" textLength="79.5" lengthAdjust="spacingAndGlyphs" stroke="#000" stroke-width="0.55">02:00</text>
<text x="531.8" y="495.9" font-size="37.6" textLength="79.5" lengthAdjust="spacingAndGlyphs" stroke="#000" stroke-width="0.55">06:00</text>
<text x="626.1" y="495.9" font-size="37.6" textLength="80.7" lengthAdjust="spacingAndGlyphs" stroke="#000" stroke-width="0.55">10:00</text>
<text x="68.6" y="328.5" font-size="34.2" textLength="17.7" lengthAdjust="spacingAndGlyphs" stroke="#000" stroke-width="0.55">0</text>
<text x="60.7" y="384.8" font-size="34.2" textLength="28.3" lengthAdjust="spacingAndGlyphs" stroke="#000" stroke-width="0.55">-5</text>
<text x="48.8" y="434.0" font-size="34.2" textLength="45.9" lengthAdjust="spacingAndGlyphs" stroke="#000" stroke-width="0.55">-10</text>
<text x="713.6" y="350.6" font-size="36.7" textLength="38.8" lengthAdjust="spacingAndGlyphs" stroke="#000" stroke-width="0.55">10</text>
<text x="714.9" y="405.9" font-size="36.7" textLength="19.4" lengthAdjust="spacingAndGlyphs" stroke="#000" stroke-width="0.55">5</text>
<text x="714.9" y="471.6" font-size="36.7" textLength="19.4" lengthAdjust="spacingAndGlyphs" stroke="#000" stroke-width="0.55">0</text>
<text x="94.3" y="307.2" font-size="30.9" textLength="137.3" lengthAdjust="spacingAndGlyphs" stroke="#000" stroke-width="0.55">Depth(m)</text>
<text x="575.5" y="305.4" font-size="29.5" textLength="163.0" lengthAdjust="spacingAndGlyphs" stroke="#000" stroke-width="0.55">SSC(mg/L)</text>
<text x="3.1" y="409.3" font-size="34.2" textLength="39.0" lengthAdjust="spacingAndGlyphs" stroke="#000" stroke-width="0.55">C2</text>
<text x="99.6" y="347.7" font-size="33.0" font-weight="bold">(B)</text>
<clipPath id="cC"><path d="M101 576 108.4 575.8 115.9 575.7 123.3 575.5 130.8 575.3 138.2 575.2 145.7 575.1 153.1 574.9 160.5 574.8 168 574.7 175.4 574.6 182.9 574.5 190.3 574.4 197.8 574.3 205.2 574.2 212.6 574.1 220.1 574.1 227.5 574.1 235 574 242.4 574 249.9 574 257.3 574 264.7 574 272.2 574 279.6 574 287.1 574 294.5 574 302 574 309.4 574 316.8 574.1 324.3 574.2 331.7 574.4 339.2 574.6 346.6 574.8 354.1 575.1 361.5 575.3 368.9 575.6 376.4 575.9 383.8 576.2 391.3 576.6 398.7 577.2 406.2 577.9 413.6 578.7 421.1 579.5 428.5 580.2 435.9 580.9 443.4 581.4 450.8 581.8 458.3 582 465.7 581.9 473.2 581.7 480.6 581.2 488 580.6 495.5 580 502.9 579.3 510.4 578.6 517.8 577.9 525.3 577.3 532.7 576.8 540.1 576.4 547.6 575.9 555 575.4 562.5 574.9 569.9 574.5 577.4 574.1 584.8 573.8 592.2 573.6 599.7 573.5 607.1 573.5 614.6 573.5 622 573.5 629.5 573.5 636.9 573.5 644.3 573.6 651.8 573.6 659.2 573.6 666.7 573.7 674.1 573.8 681.6 573.9 689 574 689 716.2 101 716.2Z"/></clipPath>
<g clip-path="url(#cC)">
<rect x="101.0" y="571.5" width="588.0" height="146.0" fill="#5a74b6"/>
<path fill-rule="evenodd" fill="#6280bb" d="M689 717.5 101 717.5 101 571.5 689 571.5 689 717.5Z"/>
<path fill-rule="evenodd" fill="#6a8cc0" d="M689 717.5 101 717.5 101 571.5 689 571.5 689 717.5Z"/>
<path fill-rule="evenodd" fill="#7498c8" d="M689 717.5 101 717.5 101 571.5 542.3 571.5 542.9 581.5 545 586.6 558.8 595.5 567.8 611.5 573 614.3 576.4 611.5 577.7 607.5 578.2 571.5 637.6 571.5 639 575.9 643 578.3 646.6 575.5 647.8 571.5 689 571.5 689 717.5ZM510.6 623.5 523 619.5 529 614 530.8 603.5 529 597.8 527 595.9 521 595.1 506.8 597.5 501 599.9 497.9 603.5 495.8 613.5 498.1 621.5 503 624.5 510.6 623.5Z"/>
<path fill-rule="evenodd" fill="#7ea5cf" d="M689 717.5 101 717.5 101 619.3 110 615.5 112.5 611.5 113.5 605.5 112.8 597.5 110.5 591.5 106.4 587.5 101 585.9 101 571.5 531.7 571.5 530.8 575.5 527 579.7 497 585.8 491.4 589.5 488.6 593.5 485.4 607.5 486.2 625.5 490.7 635.5 495 638.4 499 639.2 507 637.4 527 626.8 535 619.5 543 608.3 547 606.2 551 606.6 555 609.3 569 624.2 575 625.1 581 622 586.1 615.5 587.9 609.5 588.5 571.5 626.4 571.5 627.7 583.5 631 592.5 636.5 597.5 643 598.8 651 596.3 655 591.5 657.7 583.5 658.9 571.5 689 571.5 689 717.5Z"/>
<path fill-rule="evenodd" fill="#88b0d6" d="M459 600.3 451 600.3 443 593.9 438.1 583.5 437 571.5 471.6 571.5 471.1 581.5 469 589.7 465 596.2 459 600.3ZM689 717.5 101 717.5 101 630.7 115 628.9 123 624.5 127.2 617.5 134 595.5 141 586.2 149 583.3 171 582.6 235 582.1 245 583.5 249 585.9 253.4 591.5 263 616.5 267 620.6 271 622 433 625.4 439 628.8 442.8 633.5 452.3 657.5 455 659.6 461 660.9 479 660.3 501 654.6 547 617.1 553 617.9 567 630.2 573 632.7 581 631.3 597 622.9 619 621.6 639 617.8 649 618.1 667 621.8 689 622.3 689 717.5Z"/>
<path fill-rule="evenodd" fill="#93bcdc" d="M457 584.6 453 585.1 449 581.5 447.3 571.5 461.3 571.5 460.5 579.5 457 584.6ZM689 717.5 101 717.5 101 640.4 119 639.6 127 635.9 131.6 629.5 141 608.4 145 603.8 149 601.7 217 600.1 237 600.2 243 601.9 249 608.4 261 631.1 269 636.5 409 639.3 429 638.6 433 640.6 436.4 645.5 441.3 663.5 444.4 669.5 449 673.2 457 675 483 674.5 501 671.2 505 667.7 523.5 643.5 541 627.4 547 624.1 553 624.9 569 638.3 575 640.3 597 637.1 639 635.4 689 637.1 689 717.5Z"/>
<path fill-rule="evenodd" fill="#9ec6e0" d="M689 717.5 101 717.5 101 652.4 122.4 649.5 129 646.6 133.9 641.5 145 623.8 151 619.9 195 616.7 237 616.7 243 618.5 247 622.2 261 647.1 269 651.6 353 653.8 391 653.2 412.1 655.5 417 658.8 420 663.5 427.4 689.5 431 693.4 435 694.2 451 690.8 493 690 501 687.9 505 683.9 518 659.5 528.3 645.5 541 632.9 549 629.7 555 631.9 573 648 591 652.3 689 653.8 689 717.5Z"/>
<path fill-rule="evenodd" fill="#a9cfe4" d="M689 717.5 101 717.5 101 666.5 113 660.3 129 655 145 641.2 151 638.2 175 636.2 197 631.4 237 631.3 241 632.5 245 636.1 254 657.5 259 663.2 263 665.2 271 666.5 311 666.8 341 671.3 365 671.1 385 667.6 403 668.2 407 669.5 411 673.5 419 699.5 422.7 705.5 427 708.5 435 709.7 455 707.4 495 707 501 705.1 505 701.1 519.2 667.5 532 647.5 541 638.1 549 635 557 639 573 656.4 595 670 689 672.2 689 717.5Z"/>
<path fill-rule="evenodd" fill="#b7d8e8" d="M689 717.5 507.9 717.5 518.2 681.5 524 667.5 538.6 645.5 543.6 641.5 549 640.1 557 644.6 587 681.4 595 687.5 603 688.7 661 688.8 689 686.4 689 717.5ZM235 717.5 101 717.5 101 681.4 115 667.9 131 660.5 145 651.8 155 650 173 651.9 179 654.2 184 659.5 191 683.7 195 691.7 201 694.7 219 695.6 227 698.8 233.3 707.5 235 717.5ZM377 717.5 319.4 717.5 321.5 701.5 325.9 693.5 333 689.8 353 689.1 365 690.4 371 694 374.3 699.5 377 717.5Z"/>
<path fill-rule="evenodd" fill="#c5e0ec" d="M689 717.5 514.3 717.5 520 689.5 527.1 669.5 539 650.6 545 645.9 549 645.2 555 648.2 559.6 653.5 585 695.7 593 704.4 603 706.6 663 706.5 689 697.5 689 717.5ZM223 717.5 101 717.5 101 697.3 112.9 679.5 119 673.4 143 659.9 149 658.2 157 658.5 169 662.2 175.7 667.5 180.2 675.5 188.9 699.5 193 705.8 199 709.4 219 711.2 223 714.6 224.1 717.5 223 717.5ZM365 717.5 330.4 717.5 331.3 713.5 335 708.9 347 706.8 361 708.6 365.2 713.5 366.2 717.5 365 717.5Z"/>
<path fill-rule="evenodd" fill="#d0e6f0" d="M583 717.5 518.7 717.5 521.7 697.5 527.2 677.5 535 661.7 543 652.3 549 650.4 553 651.9 562.5 663.5 572.4 683.5 583.8 713.5 584.6 717.5 583 717.5ZM189 717.5 101.2 717.5 111.9 693.5 119.7 681.5 126.6 675.5 139 667.9 151 664.9 163 668.2 173 677 179 689 188.6 713.5 189 717.5ZM689 717.5 677.5 717.5 681 711.4 689 707.1 689 717.5Z"/>
<path fill-rule="evenodd" fill="#dcedf4" d="M575 717.5 522 717.5 524.8 697.5 530.2 677.5 537 664.2 545 656.2 549 655.4 555 658.7 564.6 673.5 574.3 703.5 576.7 717.5 575 717.5ZM183 717.5 109.6 717.5 115 700.5 124.7 685.5 137 675.3 149 671.3 159 674 169 683 177.7 699.5 182.2 711.5 183 717.5Z"/>
<path fill-rule="evenodd" fill="#e6f2ea" d="M571 717.5 524.6 717.5 526.4 701.5 531.5 681.5 537.1 669.5 545 661.1 549 660.2 553 661.9 558.1 667.5 562.6 675.5 570.6 701.5 572.8 717.5 571 717.5ZM177 717.5 115.6 717.5 120.2 703.5 129 690.1 139 681.2 149 678.2 158 681.5 167 691.1 176.5 709.5 178.5 717.5 177 717.5Z"/>
<path fill-rule="evenodd" fill="#eff6e0" d="M569 717.5 526.6 717.5 528.5 701.5 533.2 683.5 539 671.7 545 665.8 549 664.9 553 666.6 561 677.8 568.3 701.5 570.3 715.5 570.4 717.5 569 717.5ZM173 717.5 121.9 717.5 124.9 707.5 133 695 141 688 149 686 155 688.1 163 696 171 709.4 173 717.5Z"/>
<path fill-rule="evenodd" fill="#f5f7d2" d="M567 717.5 528.3 717.5 529.9 703.5 534 687.5 539 676.7 545 670.3 549 669.4 553 671.2 560.2 681.5 566.7 703.5 568.5 717.5 567 717.5ZM167 717.5 128.3 717.5 130.7 709.5 135 702.6 141 696.8 147 694.4 153 695.7 159 700.9 165.8 711.5 167 717.5Z"/>
<path fill-rule="evenodd" fill="#fbf8c3" d="M565 717.5 529.8 717.5 531.6 703.5 535 690.5 539 681.4 545 674.6 549 673.6 553 675.5 559 684.1 565.8 707.5 566.9 717.5 565 717.5ZM161 717.5 134.9 717.5 139 708.3 147 703.4 151 704 155 706.5 159 711.5 161 717.5Z"/>
<path fill-rule="evenodd" fill="#f9f2b1" d="M565 717.5 531.1 717.5 535.9 693.5 540.6 683.5 545 678.8 551 678.4 557.3 685.5 563.1 701.5 565 717.5ZM151 717.5 144.3 717.5 145.6 715.5 149 714.7 151 717.5Z"/>
<path fill-rule="evenodd" fill="#f7ec9f" d="M563 717.5 532.4 717.5 537 695.3 541 687.1 545 682.8 551 682.3 557 689.3 562.6 705.5 564.3 717.5 563 717.5Z"/>
<path fill-rule="evenodd" fill="#f5e496" d="M563 717.5 533.6 717.5 538 697.5 545 686.6 551 686.1 555.9 691.5 560.7 703.5 563 717.5Z"/>
<path fill-rule="evenodd" fill="#f3db8d" d="M561 717.5 534.7 717.5 538.1 701.5 545 690.2 551 689.7 555 693.9 560.4 707.5 561.8 715.5 561 717.5Z"/>
<path fill-rule="evenodd" fill="#f1d084" d="M559 717.5 535.9 717.5 539.8 701.5 543 695.8 547 692.7 551 693.2 556 699.5 560.4 713.5 560.8 717.5 559 717.5Z"/>
<path fill-rule="evenodd" fill="#efc47a" d="M559 717.5 537 717.5 539.8 705.5 545 697.2 549 695.8 553.8 699.5 558.3 709.5 559 717.5Z"/>
<path fill-rule="evenodd" fill="#eeb871" d="M557 717.5 538.2 717.5 540.5 707.5 545 700.5 549 699 553 701.8 557.5 711.5 558.5 717.5 557 717.5Z"/>
<path fill-rule="evenodd" fill="#ecab68" d="M557 717.5 539.4 717.5 541 710.2 545 703.7 549 702.2 553 705.1 556.1 711.5 557 717.5Z"/>
<path fill-rule="evenodd" fill="#eaa061" d="M555 717.5 540.8 717.5 542.2 711.5 545 706.9 547 705.5 551 706.2 555 712.6 555.9 717.5 555 717.5Z"/>
<path fill-rule="evenodd" fill="#e8955a" d="M553 717.5 542.3 717.5 545 710.2 547 708.6 551 709.4 554.1 715.5 554.4 717.5 553 717.5Z"/>
<path fill-rule="evenodd" fill="#e48651" d="M551 717.5 544.2 717.5 545.6 713.5 549 711.7 552.1 715.5 552.6 717.5 551 717.5Z"/>
</g>
<path d="M101 575V716.2H689" fill="none" stroke="#3a3a3a" stroke-width="1.4"/>
<path d="M101 575h7" stroke="#3a3a3a" stroke-width="1.4"/>
<path d="M101 625h7" stroke="#3a3a3a" stroke-width="1.4"/>
<path d="M101 675.5h7" stroke="#3a3a3a" stroke-width="1.4"/>
<path d="M195 716.2v-7" stroke="#3a3a3a" stroke-width="1.4"/>
<path d="M289.2 716.2v-7" stroke="#3a3a3a" stroke-width="1.4"/>
<path d="M383.5 716.2v-7" stroke="#3a3a3a" stroke-width="1.4"/>
<path d="M477.8 716.2v-7" stroke="#3a3a3a" stroke-width="1.4"/>
<path d="M572 716.2v-7" stroke="#3a3a3a" stroke-width="1.4"/>
<path d="M666.2 716.2v-7" stroke="#3a3a3a" stroke-width="1.4"/>
<rect x="697.5" y="710.7" width="11.5" height="4.6" fill="#5a74b6"/>
<rect x="697.5" y="706.5" width="11.5" height="4.6" fill="#6280bb"/>
<rect x="697.5" y="702.2" width="11.5" height="4.6" fill="#6a8cc0"/>
<rect x="697.5" y="697.9" width="11.5" height="4.6" fill="#7498c8"/>
<rect x="697.5" y="693.6" width="11.5" height="4.6" fill="#7ea5cf"/>
<rect x="697.5" y="689.4" width="11.5" height="4.6" fill="#88b0d6"/>
<rect x="697.5" y="685.1" width="11.5" height="4.6" fill="#93bcdc"/>
<rect x="697.5" y="680.8" width="11.5" height="4.6" fill="#9ec6e0"/>
<rect x="697.5" y="676.5" width="11.5" height="4.6" fill="#a9cfe4"/>
<rect x="697.5" y="672.3" width="11.5" height="4.6" fill="#b7d8e8"/>
<rect x="697.5" y="668" width="11.5" height="4.6" fill="#c5e0ec"/>
<rect x="697.5" y="663.7" width="11.5" height="4.6" fill="#d0e6f0"/>
<rect x="697.5" y="659.5" width="11.5" height="4.6" fill="#dcedf4"/>
<rect x="697.5" y="655.2" width="11.5" height="4.6" fill="#e6f2ea"/>
<rect x="697.5" y="650.9" width="11.5" height="4.6" fill="#eff6e0"/>
<rect x="697.5" y="646.6" width="11.5" height="4.6" fill="#f5f7d2"/>
<rect x="697.5" y="642.4" width="11.5" height="4.6" fill="#fbf8c3"/>
<rect x="697.5" y="638.1" width="11.5" height="4.6" fill="#f9f2b1"/>
<rect x="697.5" y="633.8" width="11.5" height="4.6" fill="#f7ec9f"/>
<rect x="697.5" y="629.5" width="11.5" height="4.6" fill="#f5e496"/>
<rect x="697.5" y="625.3" width="11.5" height="4.6" fill="#f3db8d"/>
<rect x="697.5" y="621" width="11.5" height="4.6" fill="#f1d084"/>
<rect x="697.5" y="616.7" width="11.5" height="4.6" fill="#efc47a"/>
<rect x="697.5" y="612.5" width="11.5" height="4.6" fill="#eeb871"/>
<rect x="697.5" y="608.2" width="11.5" height="4.6" fill="#ecab68"/>
<rect x="697.5" y="603.9" width="11.5" height="4.6" fill="#eaa061"/>
<rect x="697.5" y="599.6" width="11.5" height="4.6" fill="#e8955a"/>
<rect x="697.5" y="595.4" width="11.5" height="4.6" fill="#e48651"/>
<rect x="697.5" y="591.1" width="11.5" height="4.6" fill="#e07848"/>
<rect x="697.5" y="586.8" width="11.5" height="4.6" fill="#db6c44"/>
<rect x="697.5" y="582.5" width="11.5" height="4.6" fill="#d6603f"/>
<rect x="697.5" y="578.3" width="11.5" height="4.6" fill="#cf5536"/>
<rect x="697.5" y="574" width="11.5" height="4.6" fill="#c84a2e"/>
<text x="63.9" y="748.3" font-size="36.9" textLength="79.2" lengthAdjust="spacingAndGlyphs" stroke="#000" stroke-width="0.55">10:00</text>
<text x="152.6" y="748.3" font-size="36.9" textLength="79.7" lengthAdjust="spacingAndGlyphs" stroke="#000" stroke-width="0.55">14:00</text>
<text x="250.6" y="748.3" font-size="36.9" textLength="79.7" lengthAdjust="spacingAndGlyphs" stroke="#000" stroke-width="0.55">18:00</text>
<text x="344.7" y="748.3" font-size="36.9" textLength="81.3" lengthAdjust="spacingAndGlyphs" stroke="#000" stroke-width="0.55">22:00</text>
<text x="436.0" y="748.3" font-size="36.9" textLength="80.4" lengthAdjust="spacingAndGlyphs" stroke="#000" stroke-width="0.55">02:00</text>
<text x="531.7" y="748.3" font-size="36.9" textLength="80.9" lengthAdjust="spacingAndGlyphs" stroke="#000" stroke-width="0.55">06:00</text>
<text x="628.5" y="748.3" font-size="36.9" textLength="80.7" lengthAdjust="spacingAndGlyphs" stroke="#000" stroke-width="0.55">10:00</text>
<text x="73.6" y="587.8" font-size="34.2" textLength="17.7" lengthAdjust="spacingAndGlyphs" stroke="#000" stroke-width="0.55">0</text>
<text x="65.7" y="637.8" font-size="34.2" textLength="28.3" lengthAdjust="spacingAndGlyphs" stroke="#000" stroke-width="0.55">-5</text>
<text x="53.8" y="688.3" font-size="34.2" textLength="45.9" lengthAdjust="spacingAndGlyphs" stroke="#000" stroke-width="0.55">-10</text>
<text x="714.9" y="601.9" font-size="34.6" textLength="36.6" lengthAdjust="spacingAndGlyphs" stroke="#000" stroke-width="0.55">10</text>
<text x="716.1" y="656.9" font-size="34.6" textLength="18.3" lengthAdjust="spacingAndGlyphs" stroke="#000" stroke-width="0.55">5</text>
<text x="716.1" y="721.9" font-size="34.6" textLength="18.3" lengthAdjust="spacingAndGlyphs" stroke="#000" stroke-width="0.55">0</text>
<text x="97.4" y="561.3" font-size="29.7" textLength="138.8" lengthAdjust="spacingAndGlyphs" stroke="#000" stroke-width="0.55">Depth(m)</text>
<text x="579.6" y="559.0" font-size="29.0" textLength="162.5" lengthAdjust="spacingAndGlyphs" stroke="#000" stroke-width="0.55">SSC(mg/L)</text>
<text x="3.1" y="654.8" font-size="34.2" textLength="38.8" lengthAdjust="spacingAndGlyphs" stroke="#000" stroke-width="0.55">C3</text>
<text x="99.6" y="605.2" font-size="33.0" font-weight="bold">(C)</text>
<clipPath id="cD"><path d="M97.5 839 105 838.8 112.5 838.6 120 838.3 127.4 838.1 134.9 837.9 142.4 837.6 149.9 837.4 157.4 837.1 164.9 836.9 172.4 836.6 179.9 836.4 187.3 836.1 194.8 835.8 202.3 835.5 209.8 835.1 217.3 834.8 224.8 834.4 232.3 834 239.8 833.6 247.2 833.3 254.7 833 262.2 832.8 269.7 832.6 277.2 832.5 284.7 832.5 292.2 832.6 299.7 832.6 307.1 832.8 314.6 832.9 322.1 833.1 329.6 833.3 337.1 833.8 344.6 834.4 352.1 835 359.6 835.7 367 836.4 374.5 837 382 837.7 389.5 838.4 397 839.2 404.5 840 412 840.8 419.5 841.5 426.9 842.1 434.4 842.4 441.9 842.5 449.4 842.4 456.9 842.1 464.4 841.7 471.9 841.3 479.4 840.8 486.8 840.2 494.3 839.6 501.8 838.7 509.3 837.6 516.8 836.3 524.3 834.9 531.8 833.5 539.3 832.2 546.7 831.2 554.2 830.4 561.7 829.9 569.2 829.6 576.7 829.4 584.2 829.1 591.7 828.9 599.2 828.7 606.6 828.6 614.1 828.5 621.6 828.5 629.1 828.6 636.6 828.8 644.1 829.1 651.6 829.4 659.1 829.9 666.5 830.5 674 831.1 681.5 831.8 689 832.5 689 976 97.5 976Z"/></clipPath>
<g clip-path="url(#cD)">
<rect x="97.5" y="826.5" width="592.0" height="150.0" fill="#5a74b6"/>
<path fill-rule="evenodd" fill="#6280bb" d="M689.5 976.5 97.5 976.5 97.5 826.5 689.5 826.5 689.5 976.5Z"/>
<path fill-rule="evenodd" fill="#6a8cc0" d="M689.5 976.5 97.5 976.5 97.5 826.5 689.5 826.5 689.5 976.5Z"/>
<path fill-rule="evenodd" fill="#7498c8" d="M689.5 976.5 97.5 976.5 97.5 859.2 103 864.5 113.5 885.2 119.5 890.3 125.5 891.4 147.5 888.5 169.5 889.1 173.5 891.2 177.5 896 183.4 912.5 187.5 918.6 195.5 922.1 211.5 922 219.5 920.5 224.5 916.5 234.1 892.5 245.5 879.1 249.2 872.5 251.9 856.5 252.9 826.5 440 826.5 440 870.5 441.4 880.5 444.3 886.5 449.5 891.7 459.5 894.2 475.5 893 483.5 887.3 493.8 864.5 504.1 846.5 506.3 838.5 506.8 826.5 689.5 826.5 689.5 976.5Z"/>
<path fill-rule="evenodd" fill="#7ea5cf" d="M289.5 843 283.5 842.8 277.5 839 273.6 832.5 272.6 826.5 299.6 826.5 297.2 836.5 293.5 840.9 289.5 843ZM689.5 976.5 227.9 976.5 231.5 966.2 243.5 959.8 248.7 952.5 250.7 938.5 249.3 904.5 252.2 896.5 259.5 888.3 265.5 885.8 277.5 885.3 285.5 885.8 291.5 888.3 297.3 896.5 304.7 918.5 307.5 921.1 311.5 919.9 317.5 906.5 325.5 864.3 330.3 854.5 342.6 838.5 345.6 826.5 420.4 826.5 418.6 868.5 421 882.5 445.5 916.5 451.5 920.4 461.5 921.5 473.5 920.9 479.5 918.9 486.9 912.5 494 902.5 513.5 866.5 516.3 850.5 517 826.5 617.5 826.5 689.5 826.5 689.5 976.5ZM133.5 976.5 97.5 976.5 97.5 892.8 101.5 896.8 111.5 914.8 126.3 922.5 131.1 928.5 133.6 940.5 133.5 976.5Z"/>
<path fill-rule="evenodd" fill="#88b0d6" d="M689.5 976.5 482.2 976.5 484.4 946.5 489.2 932.5 513.5 894.6 528.4 878.5 539.6 860.5 553.8 842.5 558.5 834.5 560.6 826.5 617.5 826.5 654.3 826.5 657.5 834.8 665.5 844.6 671.5 847.3 689.5 848.8 689.5 976.5ZM443.5 976.5 296.3 976.5 299.6 962.5 313.5 942.7 339.5 877.5 347.5 863.6 355.5 854.7 363.5 852.4 379.5 853.7 385.5 855.9 391.5 861.9 404.7 892.5 425 916.5 437 938.5 442.5 956.5 444.3 972.5 443.5 976.5Z"/>
<path fill-rule="evenodd" fill="#93bcdc" d="M689.5 976.5 489.4 976.5 492.3 952.5 498.3 936.5 520.3 902.5 543.7 882.5 575.3 846.5 579 838.5 580.5 826.5 615.5 826.5 634.5 826.5 637 834.5 647.7 848.5 657.5 871.4 661.5 876.9 669.5 880.4 689.5 881.6 689.5 976.5ZM433.5 976.5 307.3 976.5 317.5 952.4 325.3 928.5 330.3 918.5 353.5 893.3 357.5 890.9 363.5 889.8 377.5 890.7 383.5 892.9 398.4 908.5 415.5 923.3 421.2 932.5 425.9 944.5 432.3 966.5 433.5 976.5Z"/>
<path fill-rule="evenodd" fill="#9ec6e0" d="M679.5 976.5 494.3 976.5 496.2 962.5 500.7 948.5 523.5 913.9 531.5 906.4 549.4 894.5 565.5 879.9 575.5 877.1 595.5 879.3 601.5 881.4 608.1 888.5 614.2 904.5 618.4 910.5 623.5 913.5 639.5 918.5 645.7 922.5 650.7 930.5 658.5 954.5 663.5 960 677.5 967.7 681 974.5 681.3 976.5 679.5 976.5ZM423.5 976.5 315.3 976.5 327.5 937.2 333.5 925.6 339.5 919.7 347.5 914.9 361.5 912 379.5 913.2 387.5 915.2 401.5 923 409.5 929.3 414.6 936.5 419.1 948.5 425 972.5 425.4 976.5 423.5 976.5Z"/>
<path fill-rule="evenodd" fill="#a9cfe4" d="M627.5 976.5 498.2 976.5 500.8 962.5 505.7 950.5 529.5 920.4 537.5 914.1 565.5 897.2 571.5 895 581.5 894.3 593.5 894.8 599.5 898 613.5 920.2 629.2 936.5 630.8 942.5 630.8 956.5 629.3 976.5 627.5 976.5ZM417.5 976.5 321.4 976.5 329.5 947 335.5 933.8 346.4 924.5 359.5 921.6 387.5 924.8 395.7 928.5 404 934.5 408.8 940.5 413 950.5 418 970.5 418.6 976.5 417.5 976.5Z"/>
<path fill-rule="evenodd" fill="#b7d8e8" d="M611.5 976.5 501.4 976.5 503.8 964.5 509.5 952.4 535.5 924.8 543.5 920 565.5 911.7 587.5 910 593.5 910.6 599.5 914.5 611.7 934.5 613.3 948.5 611.5 976.5ZM411.5 976.5 326.9 976.5 331.9 956.5 339.1 940.5 347.5 932.4 353.5 929.9 359.5 929.4 385.5 931.9 397.9 938.5 403.5 944.9 408.1 954.5 412.4 970.5 413 976.5 411.5 976.5Z"/>
<path fill-rule="evenodd" fill="#c5e0ec" d="M599.5 976.5 504 976.5 506.1 966.5 511.5 955.5 533.5 933.9 545.5 926.6 565.5 923.7 591.5 925.6 595.5 927.2 598.5 930.5 601.1 936.5 602.1 946.5 600.9 976.5 599.5 976.5ZM407.5 976.5 332.4 976.5 336.4 960.5 343.5 946.5 351.5 939.1 361.5 937 383.5 938.4 393.5 943 398.8 948.5 403.2 956.5 407.1 968.5 407.5 976.5Z"/>
<path fill-rule="evenodd" fill="#d0e6f0" d="M593.5 976.5 506.2 976.5 509.5 964.4 517.5 952.9 539.5 935.4 545.5 932.7 553.5 931.5 563.5 932.4 577.5 935.9 585.5 939.2 589.2 942.5 592 948.5 594 958.5 595.1 976.5 593.5 976.5ZM403.5 976.5 338.2 976.5 343.2 960.5 351.5 949 359.5 945.2 375.5 944 387.5 946.1 395.5 952.5 402.5 966.5 404.2 974.5 403.5 976.5Z"/>
<path fill-rule="evenodd" fill="#dcedf4" d="M589.5 976.5 508.1 976.5 511.9 964.5 519.5 954.8 539.5 940.3 551.5 937.1 571.5 941.5 583.5 948.3 587.4 954.5 589.9 962.5 591.5 976.5 589.5 976.5ZM399.5 976.5 344.2 976.5 348.3 964.5 355.5 955.9 363.5 952 377.5 949.8 387.5 951.9 393.5 956.9 400.1 970.5 401.1 976.5 399.5 976.5Z"/>
<path fill-rule="evenodd" fill="#e6f2ea" d="M587.5 976.5 510 976.5 513.5 965.8 521.5 956.3 539.5 944.2 551.5 941.4 567.5 945.3 580.4 952.5 586.9 964.5 588.7 974.5 588.8 976.5 587.5 976.5ZM397.5 976.5 350.4 976.5 353.3 968.5 359.5 961.6 369.3 956.5 379.5 954.8 385.5 956.1 391.5 960.5 396.3 968.5 397.5 976.5Z"/>
<path fill-rule="evenodd" fill="#eff6e0" d="M585.5 976.5 511.7 976.5 515.3 966.5 522.4 958.5 539.5 947.4 549.5 945 563.5 947.7 577.5 955.1 584.6 966.5 586.4 974.5 586.5 976.5 585.5 976.5ZM395.5 976.5 356.7 976.5 359 970.5 365 964.5 371.5 961 379.5 959.5 385.5 960.8 389.5 963.7 393.5 969.4 395.5 976.5Z"/>
<path fill-rule="evenodd" fill="#f5f7d2" d="M583.5 976.5 513.4 976.5 516.2 968.5 523.5 960.3 537.5 951.1 549.5 948 563.5 951 575.5 957.6 582 966.5 584.3 974.5 583.5 976.5ZM391.5 976.5 362.5 976.5 367.7 968.5 373.5 965.1 379.5 963.8 385.5 965.2 389.4 968.5 392.4 974.5 392.7 976.5 391.5 976.5Z"/>
<path fill-rule="evenodd" fill="#fbf8c3" d="M581.5 976.5 515.1 976.5 518.2 968.5 525.5 961.2 539.5 952.7 549.5 950.6 561.5 953.1 573.5 959.6 580.4 968.5 582.3 974.5 582.5 976.5 581.5 976.5ZM389.5 976.5 368.1 976.5 372.4 970.5 379.5 968 386.4 970.5 389.5 976.5Z"/>
<path fill-rule="evenodd" fill="#f9f2b1" d="M579.5 976.5 516.8 976.5 519.5 969.7 527.5 962 539.5 955 549.5 953 559.5 955 571.5 961.2 578 968.5 580.3 974.5 580.5 976.5 579.5 976.5ZM383.5 976.5 374.6 976.5 379.5 973 383.5 974.1 385.1 976.5 383.5 976.5Z"/>
<path fill-rule="evenodd" fill="#f7ec9f" d="M577.5 976.5 518.5 976.5 521.5 969.8 529.5 962.8 539.5 957.1 549.5 955.2 559.5 957.3 569.5 962.6 576.8 970.5 578.6 976.5 577.5 976.5Z"/>
<path fill-rule="evenodd" fill="#f5e496" d="M575.5 976.5 520.3 976.5 523.2 970.5 531.5 963.5 541.5 958.5 549.5 957.3 559.5 959.6 568.4 964.5 574.4 970.5 576.6 976.5 575.5 976.5Z"/>
<path fill-rule="evenodd" fill="#f3db8d" d="M573.5 976.5 522.3 976.5 525.4 970.5 533.5 964.2 541.5 960.4 549.5 959.2 557.5 960.9 567.5 966.3 573.2 972.5 574.5 976.5 573.5 976.5Z"/>
<path fill-rule="evenodd" fill="#f1d084" d="M571.5 976.5 524.3 976.5 527.5 970.9 533.5 966.2 541.5 962.3 549.5 961.1 557.5 962.9 565.5 967.2 570.8 972.5 571.5 976.5Z"/>
<path fill-rule="evenodd" fill="#efc47a" d="M569.5 976.5 526.4 976.5 528.5 972.5 533.5 968.1 541.5 964.1 547.5 962.9 553.5 963.5 561.5 966.8 568.3 972.5 569.5 976.5Z"/>
<path fill-rule="evenodd" fill="#eeb871" d="M567.5 976.5 528.7 976.5 530.9 972.5 535.5 968.8 547.5 964.7 553.5 965.4 560.8 968.5 565.6 972.5 567.5 976.5Z"/>
<path fill-rule="evenodd" fill="#ecab68" d="M563.5 976.5 531.1 976.5 533.5 972.5 537.5 969.5 547.5 966.5 553.5 967.2 559.5 969.8 564.4 974.5 565.1 976.5 563.5 976.5Z"/>
<path fill-rule="evenodd" fill="#eaa061" d="M561.5 976.5 533.6 976.5 539.3 970.5 547.5 968.2 557.5 970.8 561.7 974.5 562.5 976.5 561.5 976.5Z"/>
<path fill-rule="evenodd" fill="#e8955a" d="M559.5 976.5 536.4 976.5 539.7 972.5 547.5 970.1 555.5 971.9 559.5 976.5Z"/>
<path fill-rule="evenodd" fill="#e48651" d="M555.5 976.5 539.6 976.5 541.5 974.2 547.5 972.2 553.5 973.5 556.4 976.5 555.5 976.5Z"/>
<path fill-rule="evenodd" fill="#e07848" d="M551.5 976.5 544.6 976.5 547.5 975.3 551.5 976.5Z"/>
</g>
<path d="M97.5 829V976H689" fill="none" stroke="#3a3a3a" stroke-width="1.4"/>
<path d="M97.5 829h7" stroke="#3a3a3a" stroke-width="1.4"/>
<path d="M97.5 894h7" stroke="#3a3a3a" stroke-width="1.4"/>
<path d="M97.5 961h7" stroke="#3a3a3a" stroke-width="1.4"/>
<path d="M192.5 976v-7" stroke="#3a3a3a" stroke-width="1.4"/>
<path d="M287.5 976v-7" stroke="#3a3a3a" stroke-width="1.4"/>
<path d="M382.5 976v-7" stroke="#3a3a3a" stroke-width="1.4"/>
<path d="M477.5 976v-7" stroke="#3a3a3a" stroke-width="1.4"/>
<path d="M571.5 976v-7" stroke="#3a3a3a" stroke-width="1.4"/>
<path d="M666.5 976v-7" stroke="#3a3a3a" stroke-width="1.4"/>
<rect x="701" y="974.6" width="8" height="4.7" fill="#5a74b6"/>
<rect x="701" y="970.3" width="8" height="4.7" fill="#6280bb"/>
<rect x="701" y="965.9" width="8" height="4.7" fill="#6a8cc0"/>
<rect x="701" y="961.5" width="8" height="4.7" fill="#7498c8"/>
<rect x="701" y="957.2" width="8" height="4.7" fill="#7ea5cf"/>
<rect x="701" y="952.8" width="8" height="4.7" fill="#88b0d6"/>
<rect x="701" y="948.5" width="8" height="4.7" fill="#93bcdc"/>
<rect x="701" y="944.1" width="8" height="4.7" fill="#9ec6e0"/>
<rect x="701" y="939.7" width="8" height="4.7" fill="#a9cfe4"/>
<rect x="701" y="935.4" width="8" height="4.7" fill="#b7d8e8"/>
<rect x="701" y="931" width="8" height="4.7" fill="#c5e0ec"/>
<rect x="701" y="926.6" width="8" height="4.7" fill="#d0e6f0"/>
<rect x="701" y="922.3" width="8" height="4.7" fill="#dcedf4"/>
<rect x="701" y="917.9" width="8" height="4.7" fill="#e6f2ea"/>
<rect x="701" y="913.5" width="8" height="4.7" fill="#eff6e0"/>
<rect x="701" y="909.2" width="8" height="4.7" fill="#f5f7d2"/>
<rect x="701" y="904.8" width="8" height="4.7" fill="#fbf8c3"/>
<rect x="701" y="900.5" width="8" height="4.7" fill="#f9f2b1"/>
<rect x="701" y="896.1" width="8" height="4.7" fill="#f7ec9f"/>
<rect x="701" y="891.7" width="8" height="4.7" fill="#f5e496"/>
<rect x="701" y="887.4" width="8" height="4.7" fill="#f3db8d"/>
<rect x="701" y="883" width="8" height="4.7" fill="#f1d084"/>
<rect x="701" y="878.6" width="8" height="4.7" fill="#efc47a"/>
<rect x="701" y="874.3" width="8" height="4.7" fill="#eeb871"/>
<rect x="701" y="869.9" width="8" height="4.7" fill="#ecab68"/>
<rect x="701" y="865.5" width="8" height="4.7" fill="#eaa061"/>
<rect x="701" y="861.2" width="8" height="4.7" fill="#e8955a"/>
<rect x="701" y="856.8" width="8" height="4.7" fill="#e48651"/>
<rect x="701" y="852.5" width="8" height="4.7" fill="#e07848"/>
<rect x="701" y="848.1" width="8" height="4.7" fill="#db6c44"/>
<rect x="701" y="843.7" width="8" height="4.7" fill="#d6603f"/>
<rect x="701" y="839.4" width="8" height="4.7" fill="#cf5536"/>
<rect x="701" y="835" width="8" height="4.7" fill="#c84a2e"/>
<text x="66.3" y="1007.9" font-size="36.2" textLength="79.2" lengthAdjust="spacingAndGlyphs" stroke="#000" stroke-width="0.55">10:00</text>
<text x="155.9" y="1007.9" font-size="36.2" textLength="79.7" lengthAdjust="spacingAndGlyphs" stroke="#000" stroke-width="0.55">14:00</text>
<text x="253.9" y="1007.9" font-size="36.2" textLength="79.7" lengthAdjust="spacingAndGlyphs" stroke="#000" stroke-width="0.55">18:00</text>
<text x="348.0" y="1007.9" font-size="36.2" textLength="80.3" lengthAdjust="spacingAndGlyphs" stroke="#000" stroke-width="0.55">22:00</text>
<text x="439.8" y="1007.9" font-size="36.2" textLength="79.1" lengthAdjust="spacingAndGlyphs" stroke="#000" stroke-width="0.55">02:00</text>
<text x="530.4" y="1007.9" font-size="36.2" textLength="79.9" lengthAdjust="spacingAndGlyphs" stroke="#000" stroke-width="0.55">06:00</text>
<text x="626.1" y="1007.9" font-size="36.2" textLength="80.7" lengthAdjust="spacingAndGlyphs" stroke="#000" stroke-width="0.55">10:00</text>
<text x="73.6" y="841.8" font-size="34.2" textLength="17.7" lengthAdjust="spacingAndGlyphs" stroke="#000" stroke-width="0.55">0</text>
<text x="65.6" y="906.8" font-size="34.2" textLength="28.3" lengthAdjust="spacingAndGlyphs" stroke="#000" stroke-width="0.55">-4</text>
<text x="66.0" y="973.8" font-size="34.2" textLength="28.3" lengthAdjust="spacingAndGlyphs" stroke="#000" stroke-width="0.55">-8</text>
<text x="715.9" y="866.9" font-size="34.6" textLength="36.6" lengthAdjust="spacingAndGlyphs" stroke="#000" stroke-width="0.55">90</text>
<text x="715.7" y="909.4" font-size="34.6" textLength="36.6" lengthAdjust="spacingAndGlyphs" stroke="#000" stroke-width="0.55">60</text>
<text x="716.1" y="949.4" font-size="34.6" textLength="36.6" lengthAdjust="spacingAndGlyphs" stroke="#000" stroke-width="0.55">30</text>
<text x="716.1" y="989.4" font-size="34.6" textLength="18.3" lengthAdjust="spacingAndGlyphs" stroke="#000" stroke-width="0.55">0</text>
<text x="93.8" y="822.2" font-size="30.9" textLength="137.9" lengthAdjust="spacingAndGlyphs" stroke="#000" stroke-width="0.55">Depth(m)</text>
<text x="575.5" y="820.4" font-size="29.5" textLength="163.0" lengthAdjust="spacingAndGlyphs" stroke="#000" stroke-width="0.55">SSC(mg/L)</text>
<text x="3.1" y="909.3" font-size="34.2" textLength="38.3" lengthAdjust="spacingAndGlyphs" stroke="#000" stroke-width="0.55">C4</text>
<text x="96.8" y="859.9" font-size="33.0" font-weight="bold">(D)</text>
<clipPath id="cE"><path d="M103.5 1102.5 110.9 1102.1 118.3 1101.8 125.7 1101.5 133.1 1101.2 140.6 1101 148 1100.7 155.4 1100.5 162.8 1100.3 170.2 1100.1 177.6 1100 185 1099.8 192.4 1099.7 199.8 1099.6 207.3 1099.5 214.7 1099.4 222.1 1099.3 229.5 1099.2 236.9 1099.2 244.3 1099.1 251.7 1099.1 259.1 1099.1 266.6 1099 274 1099 281.4 1099 288.8 1099 296.2 1099 303.6 1099 311 1099.1 318.4 1099.1 325.8 1099.3 333.3 1099.4 340.7 1099.6 348.1 1099.9 355.5 1100.1 362.9 1100.4 370.3 1100.7 377.7 1101 385.1 1101.3 392.5 1101.7 400 1102 407.4 1102.5 414.8 1103.2 422.2 1103.9 429.6 1104.6 437 1105 444.4 1105 451.8 1104.9 459.2 1104.6 466.7 1104.3 474.1 1104 481.5 1103.6 488.9 1103.1 496.3 1102.7 503.7 1102.3 511.1 1101.6 518.5 1100.7 525.9 1099.8 533.4 1098.9 540.8 1098.1 548.2 1097.4 555.6 1097.1 563 1097 570.4 1097 577.8 1097 585.2 1097 592.7 1097 600.1 1097 607.5 1097 614.9 1097 622.3 1097.1 629.7 1097.1 637.1 1097.1 644.5 1097.1 651.9 1097.2 659.4 1097.2 666.8 1097.3 674.2 1097.3 681.6 1097.4 689 1097.5 689 1237.5 103.5 1237.5Z"/></clipPath>
<g clip-path="url(#cE)">
<rect x="103.5" y="1095.0" width="586.0" height="144.0" fill="#5a74b6"/>
<path fill-rule="evenodd" fill="#6280bb" d="M689.5 1239 103.5 1239 103.5 1095 689.5 1095 689.5 1239Z"/>
<path fill-rule="evenodd" fill="#6a8cc0" d="M689.5 1239 103.5 1239 103.5 1095 689.5 1095 689.5 1239Z"/>
<path fill-rule="evenodd" fill="#7498c8" d="M689.5 1239 103.5 1239 103.5 1095 689.5 1095 689.5 1239Z"/>
<path fill-rule="evenodd" fill="#7ea5cf" d="M689.5 1239 103.5 1239 103.5 1095 689.5 1095 689.5 1239Z"/>
<path fill-rule="evenodd" fill="#88b0d6" d="M689.5 1239 103.5 1239 103.5 1095 689.5 1095 689.5 1239Z"/>
<path fill-rule="evenodd" fill="#93bcdc" d="M689.5 1239 103.5 1239 103.5 1095 689.5 1095 689.5 1239Z"/>
<path fill-rule="evenodd" fill="#9ec6e0" d="M419.5 1239 103.5 1239 103.5 1095 395.2 1095 397.1 1131 397.9 1209 401.5 1219 415.5 1229.1 419 1235 419.5 1239ZM689.5 1239 492.8 1239 492.9 1207 494.2 1197 496.7 1191 509.5 1171.5 514.6 1147 516 1129 515 1095 689.5 1095 689.5 1239Z"/>
<path fill-rule="evenodd" fill="#a9cfe4" d="M349.5 1239 103.5 1239 103.5 1095 375.7 1095 374.4 1103 371.5 1108 367.5 1111.2 361.5 1113 339.5 1111.8 321.5 1117.5 309.5 1118.8 287.5 1118.1 269.5 1111.9 261.5 1110.8 131.5 1114.6 123.5 1116 119.5 1118.3 115.8 1123 113.5 1130.5 112.9 1169 115.5 1180.8 119.5 1185.6 133.6 1193 137.7 1199 145.5 1217.4 149.5 1221.8 155.5 1223.9 167.5 1222.8 183.5 1213.1 195.5 1210.1 207.5 1211.7 223.5 1219.3 227.5 1217.6 229.9 1213 231.4 1205 232.7 1163 235.5 1156.2 241.5 1151.4 251.5 1150 315.5 1150 333.5 1150.3 341.5 1152.2 347.5 1158.2 350 1167 349.5 1239ZM689.5 1239 503 1239 505.6 1199 521.5 1164.9 527.5 1142.7 536.7 1095 689.5 1095 689.5 1239Z"/>
<path fill-rule="evenodd" fill="#b7d8e8" d="M317.5 1103.3 307.5 1104.5 289.5 1103.7 283.5 1100.9 279.8 1095 325.8 1095 323.5 1099.6 317.5 1103.3ZM689.5 1239 507.5 1239 508.9 1215 512 1197 525.5 1171.2 538.7 1129 551.5 1102.9 554 1095 689.5 1095 689.5 1239ZM221.5 1239 172.7 1239 175 1229 180.8 1221 189.5 1215.9 197.5 1214.7 205.5 1216 213.7 1221 220.4 1231 221.5 1239ZM137.5 1239 103.5 1239 103.5 1223.3 119.5 1220.1 125.5 1220.6 133.5 1228.4 137 1235 137.5 1239ZM301.5 1239 279.4 1239 283.5 1229.1 287.5 1226.3 291.5 1225.6 295.5 1226.8 299.5 1230.4 302.4 1237 302.6 1239 301.5 1239Z"/>
<path fill-rule="evenodd" fill="#c5e0ec" d="M689.5 1239 510.7 1239 512.5 1217 516.8 1197 527.7 1177 539.5 1142.4 561.7 1105 565.4 1095 653.7 1095 662.2 1137 665.5 1146.6 671.5 1150.7 689.5 1149.2 689.5 1239ZM215.5 1239 177 1239 178.6 1229 182.7 1223 189.5 1218.5 197.5 1217.1 207.5 1219.7 213.5 1225 217 1233 217.5 1239 215.5 1239Z"/>
<path fill-rule="evenodd" fill="#d0e6f0" d="M689.5 1239 513.4 1239 514.4 1225 519.1 1203 530.7 1179 539.5 1152.5 545.5 1142.1 565 1117 574.3 1101 576.3 1095 644.9 1095 646.1 1105 652 1125 659.5 1162 679.5 1212.9 683.6 1219 689.5 1222.4 689.5 1239ZM213.5 1239 179.4 1239 179.8 1233 182.1 1227 187.5 1221.6 193.5 1219.2 201.5 1219.3 207.5 1221.9 212.5 1227 215 1235 215.1 1239 213.5 1239Z"/>
<path fill-rule="evenodd" fill="#dcedf4" d="M673.5 1239 515.8 1239 517.1 1225 522 1207 533.5 1181 541.5 1157.4 547.5 1148.4 561 1137 567.5 1129.5 584.6 1101 586.7 1095 640.9 1095 640.8 1117 647.2 1135 652.7 1163 673.5 1239ZM211.5 1239 181.2 1239 182.1 1231 185.5 1225.2 189.5 1222.2 195.5 1220.3 201.5 1220.8 207.5 1223.8 211.6 1229 213.3 1239 211.5 1239Z"/>
<path fill-rule="evenodd" fill="#e6f2ea" d="M661.5 1239 518.2 1239 520.9 1221 543.5 1162.6 549.5 1154.8 565.5 1146.1 572.7 1139 591.5 1104.6 593.7 1095 638.2 1095 637 1105 631.4 1119 630.9 1125 632.5 1131 639.5 1144.1 645.9 1163 654 1179 661.5 1239ZM211.5 1239 182.7 1239 183.1 1233 185.5 1227.4 189.5 1223.7 199.5 1221.7 205.5 1224 208.8 1227 211.4 1233 211.5 1239Z"/>
<path fill-rule="evenodd" fill="#eff6e0" d="M653.5 1239 520.4 1239 523 1223 547.5 1166.4 553.5 1162 573.5 1157 577.5 1154.3 581.4 1149 589.5 1126.2 597.9 1115 597.9 1095 636.1 1095 634.1 1105 629.5 1111.9 611.1 1123 610.7 1135 613.1 1145 616.8 1151 634.3 1165 645.5 1170.6 650.5 1177 651.9 1183 651.3 1197 655.2 1217 654.5 1239 653.5 1239ZM209.5 1239 184.1 1239 185 1231 187.4 1227 191.5 1223.9 195.5 1222.8 201.5 1223.4 208.6 1229 210.3 1235 210.4 1239 209.5 1239Z"/>
<path fill-rule="evenodd" fill="#f5f7d2" d="M619.5 1113.2 611.5 1112.8 605.5 1109.3 601.8 1103 600.8 1095 634.3 1095 633.4 1101 630.2 1107 625.5 1111.1 619.5 1113.2ZM645.5 1239 522.6 1239 523.1 1231 525.5 1223.6 535.1 1207 545.5 1183.4 551.5 1175.9 557.5 1174.4 569.5 1174.1 595.5 1177.1 615.5 1175.5 627.5 1176.4 639.5 1172.3 646.2 1175 649.5 1183 645.9 1197 651.3 1211 652.2 1219 647.1 1239 645.5 1239ZM207.5 1239 185.3 1239 186.3 1231 191.9 1225 197.5 1223.8 201.5 1224.5 205.5 1227 208.2 1231 209.2 1239 207.5 1239Z"/>
<path fill-rule="evenodd" fill="#fbf8c3" d="M623.5 1109.3 615.5 1110.4 609.5 1108.2 604.9 1103 603.1 1095 632.6 1095 630.6 1103 623.5 1109.3ZM641.5 1191.4 637.5 1192.2 634.6 1191 632.8 1185 635.5 1178.3 641.5 1175.6 645.5 1177.8 647.2 1183 645.5 1188 641.5 1191.4ZM633.5 1239 524.7 1239 525.4 1231 527.5 1224.9 547.5 1196.7 553.5 1192.5 573.5 1188.8 595.5 1190.7 619.5 1190 627.5 1192.2 631.5 1194.9 635.7 1201 647.3 1209 649.8 1217 647.5 1224.1 637.5 1231.2 635.5 1234 634.8 1239 633.5 1239ZM207.5 1239 186.5 1239 187.6 1231 193.5 1225.5 201.5 1225.7 206.9 1231 207.5 1239Z"/>
<path fill-rule="evenodd" fill="#f9f2b1" d="M623.5 1107.1 617.5 1108.3 611.5 1106.6 606.5 1101 605.2 1095 631 1095 628.5 1103 623.5 1107.1ZM641.5 1186 639.5 1185.6 638.1 1183 639.5 1179.9 641.5 1179.1 643.5 1180.3 644.2 1183 641.5 1186ZM581.5 1239 526.8 1239 527 1235 530 1225 537.5 1216.2 547.5 1209 555.5 1208 565.5 1211.4 577.8 1221 583.1 1231 583.4 1239 581.5 1239ZM643.5 1223.5 637.5 1223.6 633.6 1219 633.9 1213 637.5 1209.4 643.5 1209.5 646.7 1213 647.1 1219 643.5 1223.5ZM205.5 1239 187.7 1239 188.8 1231 193.5 1226.6 201.5 1226.8 206.4 1233 206.8 1239 205.5 1239Z"/>
<path fill-rule="evenodd" fill="#f7ec9f" d="M623.5 1105.1 617.5 1106.3 612.9 1105 608.8 1101 607.1 1095 629.5 1095 627.8 1101 623.5 1105.1ZM643.5 1219.3 641.5 1220.2 638.8 1219 637.9 1217 639.5 1213.2 643.5 1213.7 644.6 1217 643.5 1219.3ZM573.5 1239 528.9 1239 529 1235 531.3 1227 537.5 1219.7 545.5 1214.9 553.5 1214 563.5 1217.5 572 1225 575.1 1233 575.2 1239 573.5 1239ZM205.5 1239 188.8 1239 190.2 1231 195.5 1227.1 201.5 1228.1 205.2 1233 205.5 1239Z"/>
<path fill-rule="evenodd" fill="#f5e496" d="M623.5 1103 619.5 1104.4 613.5 1103.1 609.9 1099 609 1095 627.9 1095 626.9 1099 623.5 1103ZM569.5 1239 531 1239 531.4 1233 533.7 1227 539.5 1221.1 545.5 1218.1 553.5 1217.6 561.5 1220.5 567.5 1225.7 570.6 1233 570.8 1239 569.5 1239ZM203.5 1239 190 1239 191.6 1231 195.5 1228.3 201.5 1229.5 203.9 1233 204.5 1239 203.5 1239Z"/>
<path fill-rule="evenodd" fill="#f3db8d" d="M621.5 1101.9 617.5 1102.5 614 1101 610.9 1095 626.2 1095 624.9 1099 621.5 1101.9ZM565.5 1239 533 1239 533.4 1233 536.1 1227 541.5 1222.3 547.5 1220.3 553.5 1220.4 559.5 1222.6 564.7 1227 567.4 1235 567.4 1239 565.5 1239ZM201.5 1239 191.3 1239 193.3 1231 197.5 1229.4 201.2 1231 203.2 1237 203.2 1239 201.5 1239Z"/>
<path fill-rule="evenodd" fill="#f1d084" d="M621.5 1099.5 615.5 1099.3 613.1 1095 624.2 1095 621.5 1099.5ZM563.5 1239 535.1 1239 535.6 1233 537.5 1228.6 541.5 1224.8 547.5 1222.6 553.5 1222.8 558.7 1225 562.8 1229 564.5 1235 564.5 1239 563.5 1239ZM201.5 1239 192.8 1239 193.7 1233 197.1 1231 199.5 1231.7 201.6 1235 201.5 1239Z"/>
<path fill-rule="evenodd" fill="#efc47a" d="M619.5 1097 616.3 1095 621.2 1095 619.5 1097ZM561.5 1239 537.3 1239 537.8 1233 539.9 1229 543.5 1226.1 547.5 1224.8 553.5 1225.2 557.5 1227.1 560.8 1231 561.5 1239ZM199.5 1239 195 1239 195.5 1234.6 197.5 1233.5 199.2 1235 199.5 1239Z"/>
<path fill-rule="evenodd" fill="#eeb871" d="M557.5 1239 539.7 1239 540.4 1233 545.5 1227.7 553.5 1227.8 558.5 1233 559 1239 557.5 1239Z"/>
<path fill-rule="evenodd" fill="#ecab68" d="M555.5 1239 542.7 1239 543.6 1233 547.5 1230.1 553.1 1231 555.5 1234.8 555.5 1239Z"/>
</g>
<path d="M103.5 1096V1237.5H689" fill="none" stroke="#3a3a3a" stroke-width="1.4"/>
<path d="M103.5 1096h7" stroke="#3a3a3a" stroke-width="1.4"/>
<path d="M103.5 1150h7" stroke="#3a3a3a" stroke-width="1.4"/>
<path d="M103.5 1205h7" stroke="#3a3a3a" stroke-width="1.4"/>
<path d="M197.5 1237.5v-7" stroke="#3a3a3a" stroke-width="1.4"/>
<path d="M291 1237.5v-7" stroke="#3a3a3a" stroke-width="1.4"/>
<path d="M384.5 1237.5v-7" stroke="#3a3a3a" stroke-width="1.4"/>
<path d="M478.5 1237.5v-7" stroke="#3a3a3a" stroke-width="1.4"/>
<path d="M572 1237.5v-7" stroke="#3a3a3a" stroke-width="1.4"/>
<path d="M666 1237.5v-7" stroke="#3a3a3a" stroke-width="1.4"/>
<rect x="700.8" y="1234.5" width="8.4" height="4.6" fill="#5a74b6"/>
<rect x="700.8" y="1230.2" width="8.4" height="4.6" fill="#6280bb"/>
<rect x="700.8" y="1226" width="8.4" height="4.6" fill="#6a8cc0"/>
<rect x="700.8" y="1221.7" width="8.4" height="4.6" fill="#7498c8"/>
<rect x="700.8" y="1217.4" width="8.4" height="4.6" fill="#7ea5cf"/>
<rect x="700.8" y="1213.1" width="8.4" height="4.6" fill="#88b0d6"/>
<rect x="700.8" y="1208.8" width="8.4" height="4.6" fill="#93bcdc"/>
<rect x="700.8" y="1204.6" width="8.4" height="4.6" fill="#9ec6e0"/>
<rect x="700.8" y="1200.3" width="8.4" height="4.6" fill="#a9cfe4"/>
<rect x="700.8" y="1196" width="8.4" height="4.6" fill="#b7d8e8"/>
<rect x="700.8" y="1191.7" width="8.4" height="4.6" fill="#c5e0ec"/>
<rect x="700.8" y="1187.5" width="8.4" height="4.6" fill="#d0e6f0"/>
<rect x="700.8" y="1183.2" width="8.4" height="4.6" fill="#dcedf4"/>
<rect x="700.8" y="1178.9" width="8.4" height="4.6" fill="#e6f2ea"/>
<rect x="700.8" y="1174.6" width="8.4" height="4.6" fill="#eff6e0"/>
<rect x="700.8" y="1170.3" width="8.4" height="4.6" fill="#f5f7d2"/>
<rect x="700.8" y="1166.1" width="8.4" height="4.6" fill="#fbf8c3"/>
<rect x="700.8" y="1161.8" width="8.4" height="4.6" fill="#f9f2b1"/>
<rect x="700.8" y="1157.5" width="8.4" height="4.6" fill="#f7ec9f"/>
<rect x="700.8" y="1153.2" width="8.4" height="4.6" fill="#f5e496"/>
<rect x="700.8" y="1148.9" width="8.4" height="4.6" fill="#f3db8d"/>
<rect x="700.8" y="1144.7" width="8.4" height="4.6" fill="#f1d084"/>
<rect x="700.8" y="1140.4" width="8.4" height="4.6" fill="#efc47a"/>
<rect x="700.8" y="1136.1" width="8.4" height="4.6" fill="#eeb871"/>
<rect x="700.8" y="1131.8" width="8.4" height="4.6" fill="#ecab68"/>
<rect x="700.8" y="1127.6" width="8.4" height="4.6" fill="#eaa061"/>
<rect x="700.8" y="1123.3" width="8.4" height="4.6" fill="#e8955a"/>
<rect x="700.8" y="1119" width="8.4" height="4.6" fill="#e48651"/>
<rect x="700.8" y="1114.7" width="8.4" height="4.6" fill="#e07848"/>
<rect x="700.8" y="1110.4" width="8.4" height="4.6" fill="#db6c44"/>
<rect x="700.8" y="1106.2" width="8.4" height="4.6" fill="#d6603f"/>
<rect x="700.8" y="1101.9" width="8.4" height="4.6" fill="#cf5536"/>
<rect x="700.8" y="1097.6" width="8.4" height="4.6" fill="#c84a2e"/>
<text x="68.5" y="1270.9" font-size="37.6" textLength="80.7" lengthAdjust="spacingAndGlyphs" stroke="#000" stroke-width="0.55">10:00</text>
<text x="158.2" y="1270.9" font-size="37.6" textLength="78.7" lengthAdjust="spacingAndGlyphs" stroke="#000" stroke-width="0.55">14:00</text>
<text x="255.3" y="1270.9" font-size="37.6" textLength="79.7" lengthAdjust="spacingAndGlyphs" stroke="#000" stroke-width="0.55">18:00</text>
<text x="349.4" y="1270.9" font-size="37.6" textLength="79.9" lengthAdjust="spacingAndGlyphs" stroke="#000" stroke-width="0.55">22:00</text>
<text x="441.8" y="1270.9" font-size="37.6" textLength="78.4" lengthAdjust="spacingAndGlyphs" stroke="#000" stroke-width="0.55">02:00</text>
<text x="537.8" y="1270.9" font-size="37.6" textLength="79.1" lengthAdjust="spacingAndGlyphs" stroke="#000" stroke-width="0.55">06:00</text>
<text x="633.1" y="1270.9" font-size="37.6" textLength="80.7" lengthAdjust="spacingAndGlyphs" stroke="#000" stroke-width="0.55">10:00</text>
<text x="76.1" y="1108.8" font-size="34.2" textLength="17.7" lengthAdjust="spacingAndGlyphs" stroke="#000" stroke-width="0.55">0</text>
<text x="68.2" y="1162.8" font-size="34.2" textLength="28.3" lengthAdjust="spacingAndGlyphs" stroke="#000" stroke-width="0.55">-5</text>
<text x="56.3" y="1217.8" font-size="34.2" textLength="45.9" lengthAdjust="spacingAndGlyphs" stroke="#000" stroke-width="0.55">-10</text>
<text x="719.8" y="1124.1" font-size="35.6" textLength="37.6" lengthAdjust="spacingAndGlyphs" stroke="#000" stroke-width="0.55">10</text>
<text x="721.0" y="1179.1" font-size="35.6" textLength="18.8" lengthAdjust="spacingAndGlyphs" stroke="#000" stroke-width="0.55">5</text>
<text x="721.1" y="1246.3" font-size="35.6" textLength="18.8" lengthAdjust="spacingAndGlyphs" stroke="#000" stroke-width="0.55">0</text>
<text x="99.6" y="1089.0" font-size="30.8" textLength="138.8" lengthAdjust="spacingAndGlyphs" stroke="#000" stroke-width="0.55">Depth(m)</text>
<text x="581.0" y="1087.7" font-size="30.8" textLength="162.0" lengthAdjust="spacingAndGlyphs" stroke="#000" stroke-width="0.55">SSC(mg/L)</text>
<text x="3.1" y="1187.8" font-size="34.2" textLength="38.7" lengthAdjust="spacingAndGlyphs" stroke="#000" stroke-width="0.55">C5</text>
<text x="101.8" y="1128.9" font-size="33.0" font-weight="bold">(E)</text>
<clipPath id="cF"><path d="M103.5 1369 110.9 1368.8 118.3 1368.5 125.8 1368.3 133.2 1368.1 140.6 1367.8 148 1367.6 155.5 1367.4 162.9 1367.2 170.3 1367 177.7 1366.8 185.2 1366.6 192.6 1366.4 200 1366.2 207.4 1366 214.9 1365.8 222.3 1365.6 229.7 1365.5 237.1 1365.3 244.6 1365.1 252 1365 259.4 1364.8 266.8 1364.6 274.3 1364.4 281.7 1364.2 289.1 1364.1 296.5 1364 303.9 1364 311.4 1364.1 318.8 1364.2 326.2 1364.3 333.6 1364.5 341.1 1364.7 348.5 1365 355.9 1365.3 363.3 1365.6 370.8 1365.9 378.2 1366.3 385.6 1366.7 393 1367.1 400.5 1367.5 407.9 1368.2 415.3 1369.3 422.7 1370.5 430.2 1371.7 437.6 1372.7 445 1373.4 452.4 1373.5 459.9 1373.2 467.3 1372.7 474.7 1372.1 482.1 1371.3 489.6 1370.4 497 1369.5 504.4 1368.6 511.8 1367.8 519.2 1366.9 526.7 1365.9 534.1 1364.8 541.5 1363.8 548.9 1362.9 556.4 1362.1 563.8 1361.6 571.2 1361.5 578.6 1361.5 586.1 1361.5 593.5 1361.5 600.9 1361.5 608.3 1361.5 615.8 1361.5 623.2 1361.5 630.6 1361.6 638 1361.7 645.5 1361.9 652.9 1362.2 660.3 1362.5 667.7 1362.8 675.2 1363.2 682.6 1363.6 690 1364 690 1502.5 103.5 1502.5Z"/></clipPath>
<g clip-path="url(#cF)">
<rect x="103.5" y="1359.5" width="588.0" height="144.0" fill="#5a74b6"/>
<path fill-rule="evenodd" fill="#6280bb" d="M691.5 1503.5 103.5 1503.5 103.5 1359.5 691.5 1359.5 691.5 1503.5ZM552 1443.5 554.2 1433.5 554.4 1405.5 553.8 1395.5 551.5 1390.8 549.1 1391.5 547.1 1397.5 546.5 1427.5 547.5 1440.4 549.5 1444.6 552 1443.5ZM621.6 1467.5 623.5 1461 625.1 1437.5 624.3 1431.5 621.5 1428.5 619.1 1431.5 618.3 1441.5 618.9 1463.5 619.5 1466.8 621.6 1467.5Z"/>
<path fill-rule="evenodd" fill="#6a8cc0" d="M691.5 1503.5 103.5 1503.5 103.5 1359.5 691.5 1359.5 691.5 1503.5ZM553.5 1471.5 558.5 1463.5 561.4 1449.5 562.4 1399.5 559.5 1381.5 555.5 1374.5 551.5 1372 547.5 1373.1 545.5 1375.2 540.9 1387.5 539.4 1435.5 540.7 1451.5 543.5 1463.9 547.5 1471 549.5 1472.1 553.5 1471.5ZM621.6 1483.5 626.5 1479.5 629.5 1471.5 633.4 1435.5 632.7 1427.5 630.5 1421.5 625.5 1415.7 621.5 1414.3 615.5 1417.8 612.4 1425.5 611.4 1457.5 611.7 1469.5 613.5 1477.4 617.5 1482.7 621.6 1483.5Z"/>
<path fill-rule="evenodd" fill="#7498c8" d="M691.5 1503.5 103.5 1503.5 103.5 1359.5 283.6 1359.5 285.5 1364.5 289.5 1366.9 294.2 1365.5 296.9 1359.5 542.1 1359.5 537 1377.5 535 1391.5 534.9 1451.5 536.9 1467.5 539.9 1477.5 545.5 1484.6 551.5 1486.5 559.2 1483.5 564.3 1477.5 567.2 1469.5 568.9 1453.5 569 1391.5 566.4 1379.5 558.5 1359.5 691.5 1359.5 691.5 1503.5ZM623.2 1491.5 629.1 1487.5 632.9 1479.5 640.1 1431.5 638.3 1421.5 634.3 1413.5 627.5 1406.5 621.5 1404.2 617.5 1404.9 613.5 1407.8 608.1 1419.5 606.6 1431.5 606.6 1465.5 607.7 1477.5 611.5 1487.1 617.5 1491.5 623.2 1491.5Z"/>
<path fill-rule="evenodd" fill="#7ea5cf" d="M691.5 1503.5 103.5 1503.5 103.5 1359.5 272.9 1359.5 274.3 1369.5 277.5 1376.3 283.5 1381.1 289.5 1382.5 295.5 1381.6 301.5 1377.5 306 1369.5 307.7 1359.5 532.1 1359.5 529.2 1401.5 529.2 1447.5 530.6 1471.5 534 1483.5 539.1 1491.5 545.5 1496.2 553.5 1497.6 563.5 1495.4 573.3 1489.5 578.8 1481.5 581.3 1471.5 581.1 1395.5 578.9 1385.5 568.7 1359.5 691.5 1359.5 691.5 1503.5ZM625.7 1499.5 632.9 1495.5 637.6 1487.5 642.5 1459.5 648.5 1437.5 649 1427.5 646.5 1415.5 640.2 1405.5 627.9 1393.5 619.5 1390.9 613.5 1393 609.5 1396.5 605.1 1403.5 602.6 1411.5 600.6 1429.5 600.6 1471.5 602.6 1485.5 607.5 1495.1 615.5 1499.6 625.7 1499.5ZM432.7 1485.5 435.5 1480.8 437.5 1471.5 438 1437.5 434.9 1427.5 431.5 1424.1 427.5 1423.4 421.5 1426.8 418.7 1433.5 418.6 1471.5 420.3 1479.5 423.5 1485 427.5 1487.3 432.7 1485.5Z"/>
<path fill-rule="evenodd" fill="#88b0d6" d="M329.5 1503.5 103.5 1503.5 103.5 1359.5 265.3 1359.5 265.4 1431.5 267.5 1445.6 271.5 1449.9 289.5 1446.3 295.5 1447.3 299.5 1449.6 305.4 1457.5 313.4 1477.5 326.3 1491.5 329 1497.5 329.5 1503.5ZM401.5 1503.5 344.5 1503.5 352.5 1451.5 353.2 1391.5 356.5 1379.5 365.5 1368.7 368 1359.5 402.8 1359.5 403.5 1383.4 408.1 1437.5 405.7 1479.5 402.5 1503.5 401.5 1503.5ZM533.5 1503.5 439.8 1503.5 444.2 1483.5 445.8 1465.5 446 1433.5 439.9 1401.5 440.8 1387.5 444.8 1371.5 445.5 1359.5 516.6 1359.5 520.5 1385.5 522.2 1409.5 521.8 1473.5 524.6 1485.5 533.5 1503.5ZM643.5 1379.7 623.5 1373.4 601.5 1374.8 595.5 1373.8 587.5 1368 583.1 1359.5 687.2 1359.5 684.6 1367.5 679.5 1371.8 643.5 1379.7ZM184.7 1417.5 188.3 1411.5 190.1 1401.5 189.4 1391.5 186.5 1383.5 181.5 1380.4 171.5 1382.9 163.5 1380.5 159.8 1381.5 157.5 1385.9 156.5 1395.5 157.3 1403.5 159.5 1408.6 163.5 1412.6 179.5 1418.6 184.7 1417.5ZM679.5 1495.6 670.2 1493.5 659.6 1485.5 656.1 1479.5 654.6 1469.5 664 1419.5 669.5 1411.6 677.5 1408.2 683.5 1409.6 691.5 1417.5 691.5 1482.8 685.5 1492.4 679.5 1495.6Z"/>
<path fill-rule="evenodd" fill="#93bcdc" d="M317.5 1503.5 103.5 1503.5 103.5 1359.5 145.2 1359.5 147.5 1395.5 151.5 1411.5 161.5 1425.4 167.5 1428 177.5 1429 183.5 1427.8 189.6 1419.5 192.9 1405.5 192.3 1389.5 187.5 1375.1 183.5 1371.4 171.5 1368.2 169.3 1365.5 167.8 1359.5 259.1 1359.5 259.5 1445.5 263.5 1473.6 265.5 1477.4 269.5 1478.6 283.5 1464 289.5 1461.8 293.5 1462.7 298.3 1467.5 307.5 1485.8 317.4 1499.5 318.7 1503.5 317.5 1503.5ZM391.5 1503.5 352.7 1503.5 355.9 1471.5 356.5 1423.5 358.2 1405.5 362.9 1391.5 372.9 1379.5 376.2 1373.5 378.4 1359.5 392.5 1359.5 394 1379.5 403.4 1427.5 403.3 1447.5 400.7 1469.5 397.5 1485.5 391.5 1503.5ZM515.5 1503.5 449.4 1503.5 452.4 1463.5 450.7 1401.5 453.5 1389.9 463.5 1373.5 464.9 1359.5 494.1 1359.5 496.3 1373.5 509.5 1397.5 513.7 1415.5 515.3 1433.5 514.4 1445.5 510.3 1465.5 510 1477.5 515.5 1503.5ZM677.5 1475.7 674.1 1471.5 672.5 1465.5 671 1435.5 673.5 1425.1 675.5 1422.7 679.5 1421.7 684.1 1427.5 685.2 1443.5 682.4 1469.5 679.5 1475.3 677.5 1475.7Z"/>
<path fill-rule="evenodd" fill="#9ec6e0" d="M249.5 1503.5 103.5 1503.5 103.5 1410.8 116.3 1385.5 121.3 1381.5 125.5 1380.2 129.5 1380.5 133.5 1382.8 137.9 1389.5 147.3 1415.5 157.5 1431.8 165.5 1437.6 177.5 1437.1 183.5 1435.1 187.5 1431.4 192.2 1421.5 194.9 1409.5 194 1385.5 186.2 1359.5 253.3 1359.5 255 1443.5 250.9 1503.5 249.5 1503.5ZM377.5 1503.5 359.5 1503.5 361 1473.5 359.3 1427.5 361.5 1412.4 365.5 1403.8 375.5 1395.3 383.5 1391.7 389.5 1397.8 397.3 1415.5 400 1427.5 400.4 1441.5 398.4 1457.5 393.5 1476.7 389.5 1485.7 377.5 1503.5ZM483.5 1493.9 472.5 1493.5 464.9 1487.5 461.1 1475.5 458.5 1447.5 458.9 1423.5 461.9 1409.5 469.5 1398.3 475.5 1394.1 479.5 1393 483.5 1393.6 489.5 1397.2 499.5 1408.4 504.8 1419.5 507.2 1433.5 505.9 1445.5 495.4 1481.5 490.7 1489.5 483.5 1493.9ZM307.5 1503.5 275.2 1503.5 281.5 1486.8 285.5 1481.4 289.5 1478.9 293.5 1479.8 297.5 1484 307.3 1499.5 308.6 1503.5 307.5 1503.5Z"/>
<path fill-rule="evenodd" fill="#a9cfe4" d="M243.5 1503.5 103.5 1503.5 103.5 1435.1 107.5 1429.5 116.6 1407.5 121.5 1400 127.5 1397.2 133.5 1400.9 149.5 1429 159.5 1442 165.5 1444.7 175.5 1443.5 183.5 1440.3 188.9 1435.5 193.1 1427.5 195.9 1417.5 196.9 1393.5 190.6 1359.5 248.9 1359.5 248.6 1399.5 251.6 1439.5 245.4 1503.5 243.5 1503.5ZM381.5 1475.8 375.5 1475.2 369.5 1469.3 364 1453.5 362 1435.5 363.4 1421.5 366.9 1413.5 373.5 1408.1 381.5 1406.1 387.5 1408.2 393.1 1415.5 396.6 1425.5 397.6 1435.5 396.4 1449.5 393.1 1461.5 387.5 1471.9 381.5 1475.8ZM481.5 1476.3 475.5 1475.8 469.5 1468.9 465.1 1455.5 463.5 1439.5 464.5 1427.5 467.5 1419.1 473.5 1412.6 481.5 1410.5 487.5 1412.3 493.8 1417.5 498.1 1425.5 499.8 1435.5 498.5 1445.5 493.5 1459.9 487.5 1471.2 481.5 1476.3ZM297.5 1503.5 286 1503.5 287.5 1499.3 291.5 1496.8 295.5 1498.7 297.5 1503.5Z"/>
<path fill-rule="evenodd" fill="#b7d8e8" d="M241.5 1503.5 103.5 1503.5 103.5 1450 107.5 1445.3 117.5 1419.9 123.5 1410.9 127.5 1409.3 133.5 1412.8 151.1 1439.5 157.5 1446.6 163.5 1450.2 171.5 1449.8 181.5 1445.5 187.6 1441.5 192.6 1435.5 197.5 1421.8 199 1405.5 197.9 1387.5 193.1 1359.5 246.1 1359.5 245.3 1399.5 248.8 1437.5 244 1475.5 242.5 1503.5 241.5 1503.5ZM383.5 1461.8 377.5 1460.6 371.5 1455.2 367.5 1447.1 365.7 1435.5 366.5 1427.5 369.5 1420.3 375.1 1415.5 381.5 1413.9 387.5 1415.9 390.6 1419.5 393.5 1426.2 394.6 1433.5 394.1 1443.5 391.5 1453.3 387.5 1459.7 383.5 1461.8ZM483.5 1459.5 477.5 1460.6 473.8 1457.5 470.7 1451.5 469 1443.5 468.8 1435.5 470.8 1427.5 473.5 1423.4 479.5 1420.3 483.5 1420.6 488.1 1423.5 491.5 1428.6 493 1435.5 490.4 1449.5 483.5 1459.5Z"/>
<path fill-rule="evenodd" fill="#c5e0ec" d="M239.5 1503.5 103.5 1503.5 103.5 1463.7 109.5 1453.1 120.3 1425.5 125.5 1419.1 131.5 1420 148.9 1443.5 157.5 1452.4 163.5 1455.9 169.5 1455.6 175.5 1452.8 187.5 1445.3 194.7 1437.5 199.4 1425.5 200.7 1409.5 199.8 1391.5 194.9 1359.5 244.1 1359.5 243 1399.5 246.3 1437.5 241.9 1469.5 239.5 1503.5ZM383.5 1452 379.5 1451.3 375.1 1447.5 371.9 1441.5 370.9 1435.5 373.7 1425.5 377.5 1422.2 381.5 1421 387.5 1423.5 391.2 1433.5 389.5 1445.9 387.5 1449.5 383.5 1452ZM481.5 1444.9 479.5 1445.4 477.5 1443.9 476.1 1439.5 477.3 1433.5 479.5 1431.8 481.5 1431.9 484.2 1435.5 483.9 1441.5 481.5 1444.9Z"/>
<path fill-rule="evenodd" fill="#d0e6f0" d="M237.5 1503.5 103.5 1503.5 103.5 1486.4 115.1 1449.5 121.5 1433.3 125.5 1427.8 127.5 1427 131.5 1428.6 144.7 1445.5 157.5 1458.5 163.5 1462.2 167.5 1462 173.5 1458.8 191.3 1445.5 198.6 1437.5 202.1 1427.5 202.5 1411.5 201.4 1393.5 196.5 1359.5 242.6 1359.5 241 1399.5 244.1 1435.5 239.8 1467.5 237.5 1503.5ZM383.5 1438.9 380.6 1437.5 381.5 1432.1 384.5 1433.5 383.5 1438.9Z"/>
<path fill-rule="evenodd" fill="#dcedf4" d="M235.5 1503.5 108.5 1503.5 114.2 1463.5 119.5 1447.7 125.5 1437 127.5 1435.9 131.5 1437.4 159.5 1468.4 163.5 1470.5 169.5 1467.7 203.6 1437.5 205.3 1431.5 205.1 1421.5 197.8 1359.5 241.2 1359.5 239.4 1401.5 242.1 1435.5 237.7 1467.5 236.7 1503.5 235.5 1503.5Z"/>
<path fill-rule="evenodd" fill="#e6f2ea" d="M233.5 1503.5 113.1 1503.5 117.4 1465.5 121.5 1452.4 125.5 1445.9 127.5 1444.7 131.5 1445.8 147.3 1461.5 157.5 1478.6 161.5 1482.4 167.5 1478.6 183.5 1458 204.6 1443.5 207.5 1439.8 208.8 1429.5 199 1359.5 240 1359.5 237.8 1401.5 240 1435.5 235.6 1467.5 235.1 1503.5 233.5 1503.5Z"/>
<path fill-rule="evenodd" fill="#eff6e0" d="M233.5 1503.5 163 1503.5 168.7 1487.5 182 1463.5 193.5 1453.7 207.5 1446.7 211.7 1439.5 211.9 1429.5 207.3 1409.5 200.1 1359.5 238.9 1359.5 236.3 1401.5 237.8 1435.5 233.7 1465.5 233.5 1503.5ZM155.5 1503.5 117.7 1503.5 121.3 1465.5 123.5 1458.6 127.5 1453.6 129.5 1453.4 133.5 1456.1 146 1471.5 154.5 1493.5 156.4 1501.5 156.6 1503.5 155.5 1503.5Z"/>
<path fill-rule="evenodd" fill="#f5f7d2" d="M231.5 1503.5 169 1503.5 173.1 1487.5 183.5 1466 193.5 1457 209.5 1450.4 213.3 1445.5 215.3 1439.5 215.3 1431.5 208.5 1407.5 201.1 1359.5 237.8 1359.5 234.9 1401.5 235.2 1435.5 231.5 1463.5 231.5 1503.5ZM143.5 1503.5 123.8 1503.5 125.5 1475.6 127.5 1467.7 129.5 1466.4 133.5 1470.2 142.9 1489.5 145.3 1501.5 145.4 1503.5 143.5 1503.5Z"/>
<path fill-rule="evenodd" fill="#fbf8c3" d="M229.5 1503.5 172.6 1503.5 177.2 1485.5 185.9 1467.5 195.5 1459.5 207.5 1456.3 212.5 1453.5 217.1 1447.5 219.9 1439.5 219.3 1431.5 209.6 1405.5 202.1 1359.5 236.8 1359.5 232 1429.5 228.9 1453.5 230.7 1503.5 229.5 1503.5Z"/>
<path fill-rule="evenodd" fill="#f9f2b1" d="M225.5 1426.5 219.5 1423.7 212.8 1411.5 204.2 1371.5 203 1359.5 235.9 1359.5 230.9 1413.5 229.2 1421.5 225.5 1426.5ZM227.5 1503.5 175.8 1503.5 181 1483.5 189.5 1468 197.5 1462.6 209.5 1460.4 219.5 1455.2 222.2 1455.5 225.3 1463.5 227.5 1480.9 229.2 1503.5 227.5 1503.5Z"/>
<path fill-rule="evenodd" fill="#f7ec9f" d="M223.5 1420.2 217.5 1416.6 213.1 1407.5 205.1 1371.5 203.9 1359.5 234.9 1359.5 229.6 1409.5 227.5 1416.5 223.5 1420.2ZM227.5 1503.5 178.8 1503.5 183.5 1484.8 191.5 1471.3 199.5 1466.7 215.5 1464.8 219.5 1465.6 223.5 1473.5 227.5 1503.5Z"/>
<path fill-rule="evenodd" fill="#f5e496" d="M221.5 1415.5 217.5 1412.4 213.5 1403.7 206.1 1371.5 204.9 1359.5 234 1359.5 228.6 1405.5 225.5 1413.6 221.5 1415.5ZM225.5 1503.5 181.8 1503.5 185 1489.5 191.5 1477.7 197.5 1472.9 207.5 1471.3 215.5 1472.4 219.5 1475.6 223.8 1487.5 225.5 1503.5Z"/>
<path fill-rule="evenodd" fill="#f3db8d" d="M223.5 1410.7 219.5 1410.5 215.1 1403.5 207.5 1373.5 205.8 1359.5 233 1359.5 228.1 1399.5 225.8 1407.5 223.5 1410.7ZM223.5 1503.5 185.2 1503.5 187.5 1492.8 193.5 1482.6 199.5 1478.5 207.5 1477.2 215.1 1479.5 219.5 1484.4 223.5 1496.4 223.5 1503.5Z"/>
<path fill-rule="evenodd" fill="#f1d084" d="M223.5 1406.1 219.5 1406.4 215.5 1399.7 208.1 1371.5 206.8 1359.5 232.1 1359.5 227.5 1395 223.5 1406.1ZM221.5 1503.5 189.4 1503.5 191.2 1495.5 195.5 1488.7 201.5 1484.5 207.5 1483.3 213.5 1485.1 217.5 1488.8 221.4 1497.5 221.5 1503.5Z"/>
<path fill-rule="evenodd" fill="#efc47a" d="M221.5 1402.6 217.6 1399.5 215.5 1394.6 209.2 1371.5 207.8 1359.5 231.1 1359.5 226.7 1391.5 224.2 1399.5 221.5 1402.6ZM219.5 1503.5 194.9 1503.5 196.6 1497.5 199.4 1493.5 207.5 1489.5 211.5 1490.3 215.5 1493.2 218.2 1497.5 219.5 1503.5Z"/>
<path fill-rule="evenodd" fill="#eeb871" d="M221.5 1397.6 219.5 1397.1 215.5 1389.5 209.8 1369.5 208.8 1359.5 230.1 1359.5 226 1387.5 223.5 1395.4 221.5 1397.6ZM215.5 1503.5 201.2 1503.5 204.6 1497.5 209.5 1496.1 213.5 1498.2 215.5 1503.5Z"/>
<path fill-rule="evenodd" fill="#ecab68" d="M221.5 1392.1 219.5 1391.9 215.5 1384.5 211 1369.5 209.9 1359.5 229 1359.5 225.5 1383.5 221.5 1392.1Z"/>
<path fill-rule="evenodd" fill="#eaa061" d="M221.5 1386.5 219.5 1386.5 215.5 1379.5 211.9 1367.5 211.1 1359.5 227.9 1359.5 225.5 1377.2 221.5 1386.5Z"/>
<path fill-rule="evenodd" fill="#e8955a" d="M221.5 1380.9 219.5 1381.1 215.5 1374.6 212.5 1359.5 226.6 1359.5 225.5 1370.5 221.5 1380.9Z"/>
<path fill-rule="evenodd" fill="#e48651" d="M219.5 1375.6 215.5 1369 214.1 1359.5 225.2 1359.5 223.5 1371.2 221.5 1375.1 219.5 1375.6Z"/>
<path fill-rule="evenodd" fill="#e07848" d="M219.5 1369.5 217.5 1367 216.2 1359.5 223.2 1359.5 221.8 1367.5 219.5 1369.5Z"/>
</g>
<path d="M103.5 1361V1502.5H690" fill="none" stroke="#3a3a3a" stroke-width="1.4"/>
<path d="M103.5 1361h7" stroke="#3a3a3a" stroke-width="1.4"/>
<path d="M103.5 1417.5h7" stroke="#3a3a3a" stroke-width="1.4"/>
<path d="M103.5 1474h7" stroke="#3a3a3a" stroke-width="1.4"/>
<path d="M197.5 1502.5v-7" stroke="#3a3a3a" stroke-width="1.4"/>
<path d="M291 1502.5v-7" stroke="#3a3a3a" stroke-width="1.4"/>
<path d="M385 1502.5v-7" stroke="#3a3a3a" stroke-width="1.4"/>
<path d="M479 1502.5v-7" stroke="#3a3a3a" stroke-width="1.4"/>
<path d="M572.5 1502.5v-7" stroke="#3a3a3a" stroke-width="1.4"/>
<path d="M667.5 1502.5v-7" stroke="#3a3a3a" stroke-width="1.4"/>
<rect x="705" y="1470" width="9" height="35.3" fill="#5a74b6"/>
<rect x="705" y="1463.3" width="9" height="7" fill="#6a8cc0"/>
<rect x="705" y="1456.6" width="9" height="7" fill="#7ea5cf"/>
<rect x="705" y="1449.9" width="9" height="7" fill="#93bcdc"/>
<rect x="705" y="1443.2" width="9" height="7" fill="#a9cfe4"/>
<rect x="705" y="1436.4" width="9" height="7" fill="#c5e0ec"/>
<rect x="705" y="1429.7" width="9" height="7" fill="#dcedf4"/>
<rect x="705" y="1423" width="9" height="7" fill="#eff6e0"/>
<rect x="705" y="1416.3" width="9" height="7" fill="#fbf8c3"/>
<rect x="705" y="1409.6" width="9" height="7" fill="#f7ec9f"/>
<rect x="705" y="1402.8" width="9" height="7" fill="#f3db8d"/>
<rect x="705" y="1396.1" width="9" height="7" fill="#efc47a"/>
<rect x="705" y="1389.4" width="9" height="7" fill="#ecab68"/>
<rect x="705" y="1382.7" width="9" height="7" fill="#e8955a"/>
<rect x="705" y="1375.9" width="9" height="7" fill="#e07848"/>
<rect x="705" y="1369.2" width="9" height="7" fill="#d6603f"/>
<rect x="705" y="1362.5" width="9" height="7" fill="#c84a2e"/>
<text x="67.5" y="1536.9" font-size="37.6" textLength="80.7" lengthAdjust="spacingAndGlyphs" stroke="#000" stroke-width="0.55">10:00</text>
<text x="158.2" y="1536.9" font-size="37.6" textLength="79.8" lengthAdjust="spacingAndGlyphs" stroke="#000" stroke-width="0.55">14:00</text>
<text x="255.3" y="1536.9" font-size="37.6" textLength="79.7" lengthAdjust="spacingAndGlyphs" stroke="#000" stroke-width="0.55">18:00</text>
<text x="349.4" y="1536.9" font-size="37.6" textLength="80.9" lengthAdjust="spacingAndGlyphs" stroke="#000" stroke-width="0.55">22:00</text>
<text x="440.8" y="1536.9" font-size="37.6" textLength="79.5" lengthAdjust="spacingAndGlyphs" stroke="#000" stroke-width="0.55">02:00</text>
<text x="531.8" y="1536.9" font-size="37.6" textLength="79.5" lengthAdjust="spacingAndGlyphs" stroke="#000" stroke-width="0.55">06:00</text>
<text x="628.5" y="1536.9" font-size="37.6" textLength="80.7" lengthAdjust="spacingAndGlyphs" stroke="#000" stroke-width="0.55">10:00</text>
<text x="76.1" y="1373.8" font-size="34.2" textLength="17.7" lengthAdjust="spacingAndGlyphs" stroke="#000" stroke-width="0.55">0</text>
<text x="68.2" y="1430.3" font-size="34.2" textLength="28.3" lengthAdjust="spacingAndGlyphs" stroke="#000" stroke-width="0.55">-5</text>
<text x="56.3" y="1486.8" font-size="34.2" textLength="45.9" lengthAdjust="spacingAndGlyphs" stroke="#000" stroke-width="0.55">-10</text>
<text x="720.7" y="1380.7" font-size="34.6" textLength="36.6" lengthAdjust="spacingAndGlyphs" stroke="#000" stroke-width="0.55">20</text>
<text x="719.9" y="1448.4" font-size="34.6" textLength="36.6" lengthAdjust="spacingAndGlyphs" stroke="#000" stroke-width="0.55">10</text>
<text x="721.1" y="1517.4" font-size="34.6" textLength="18.3" lengthAdjust="spacingAndGlyphs" stroke="#000" stroke-width="0.55">0</text>
<text x="99.6" y="1354.0" font-size="30.8" textLength="138.8" lengthAdjust="spacingAndGlyphs" stroke="#000" stroke-width="0.55">Depth(m)</text>
<text x="581.0" y="1352.7" font-size="30.8" textLength="162.0" lengthAdjust="spacingAndGlyphs" stroke="#000" stroke-width="0.55">SSC(mg/L)</text>
<text x="3.1" y="1432.8" font-size="34.2" textLength="38.8" lengthAdjust="spacingAndGlyphs" stroke="#000" stroke-width="0.55">C6</text>
<text x="101.8" y="1392.9" font-size="33.0" font-weight="bold">(F)</text>
<clipPath id="cG"><path d="M96.5 1640 104 1642.6 111.5 1644.9 119 1647 126.6 1648.7 134.1 1650.3 141.6 1651.5 149.1 1652.6 156.6 1653.4 164.1 1654.1 171.6 1654.6 179.1 1654.8 186.7 1655 194.2 1654.9 201.7 1654 209.2 1652.4 216.7 1650.3 224.2 1647.6 231.7 1644.6 239.2 1641.2 246.8 1637.8 254.3 1634.3 261.8 1630.8 269.3 1627.5 276.8 1624.5 284.3 1621.9 291.8 1619.8 299.3 1618.3 306.9 1617.6 314.4 1617.8 321.9 1619.3 329.4 1622 336.9 1625.6 344.4 1629.8 351.9 1634.3 359.4 1638.9 367 1643.3 374.5 1647.2 382 1651.1 389.5 1655.5 397 1660.1 404.5 1664.9 412 1669.6 419.5 1674 427.1 1677.7 434.6 1680.7 442.1 1682.7 449.6 1683.5 457.1 1683.1 464.6 1681.9 472.1 1680.1 479.6 1677.6 487.2 1674.8 494.7 1671.5 502.2 1668.1 509.7 1664.6 517.2 1661 524.7 1657.6 532.2 1653.8 539.7 1648.9 547.3 1643.3 554.8 1637.3 562.3 1631.2 569.8 1625.2 577.3 1619.6 584.8 1614.8 592.3 1610.9 599.8 1608.4 607.4 1607.5 614.9 1607.6 622.4 1607.9 629.9 1608.4 637.4 1609.3 644.9 1610.6 652.4 1612.3 659.9 1614.6 667.5 1617.4 675 1620.9 682.5 1625.1 690 1630 690 1747.5 96.5 1747.5Z"/></clipPath>
<g clip-path="url(#cG)">
<rect x="96.5" y="1605.5" width="594.0" height="142.0" fill="#5a74b6"/>
<path fill-rule="evenodd" fill="#6280bb" d="M690.5 1747.5 96.5 1747.5 96.5 1605.5 690.5 1605.5 690.5 1747.5Z"/>
<path fill-rule="evenodd" fill="#6a8cc0" d="M690.5 1747.5 96.5 1747.5 96.5 1605.5 690.5 1605.5 690.5 1747.5Z"/>
<path fill-rule="evenodd" fill="#7498c8" d="M690.5 1747.5 96.5 1747.5 96.5 1605.5 185.2 1605.5 184.7 1677.5 188.5 1685.5 198.5 1693.8 201 1701.5 199.1 1707.5 189.9 1717.5 188.1 1727.5 191.2 1735.5 194.5 1738 198.5 1738.8 212.5 1737.7 220.5 1733.5 240.4 1705.5 243.2 1697.5 243.5 1675.5 241.9 1663.5 238.5 1659.3 226.5 1654.9 222.5 1647.5 221.5 1605.5 304 1605.5 306 1621.5 316.7 1641.5 321.4 1655.5 325.3 1677.5 330.1 1719.5 332.5 1727.1 334.5 1729.3 336.5 1729.2 339.7 1723.5 344.8 1697.5 348.5 1687.8 352.5 1683.2 363.5 1677.5 366.9 1671.5 367.7 1605.5 690.5 1605.5 690.5 1747.5Z"/>
<path fill-rule="evenodd" fill="#7ea5cf" d="M184.5 1747.5 96.5 1747.5 96.5 1605.5 175 1605.5 173.8 1679.5 175.3 1689.5 180 1703.5 180.2 1725.5 185.1 1745.5 184.5 1747.5ZM326.5 1747.5 229.6 1747.5 234.3 1739.5 248.5 1724.8 251.3 1717.5 252.1 1709.5 249.4 1655.5 246.5 1648.6 234.6 1643.5 232.5 1639.8 231.8 1605.5 293.7 1605.5 295 1621.5 310.1 1663.5 315.7 1683.5 327.6 1745.5 327.9 1747.5 326.5 1747.5ZM690.5 1747.5 348.6 1747.5 352.1 1719.5 354.5 1710.1 359.1 1703.5 370.5 1696.7 374.9 1687.5 376.5 1671.5 376.5 1605.5 690.5 1605.5 690.5 1747.5ZM504.4 1715.5 507.8 1711.5 509.2 1707.5 509.6 1687.5 506.5 1679.8 500.5 1678.3 492.6 1683.5 490.6 1687.5 489.9 1693.5 492.5 1704.3 496.5 1713.3 500.5 1716.2 504.4 1715.5ZM458.8 1703.5 461.6 1699.5 461.9 1695.5 460.5 1693 456.5 1691.5 452.5 1694.7 452.1 1701.5 454.5 1704.5 458.8 1703.5Z"/>
<path fill-rule="evenodd" fill="#88b0d6" d="M178.5 1747.5 96.5 1747.5 96.5 1605.5 138 1605.5 138.1 1641.5 139.2 1649.5 142.5 1655.6 151.9 1665.5 155.3 1671.5 157 1703.5 160.5 1709.4 170.7 1719.5 178.5 1747.5ZM690.5 1747.5 365.5 1747.5 367.7 1729.5 376.5 1713.9 380 1699.5 380.8 1605.5 449.6 1605.5 449.5 1675.5 445.2 1697.5 446.9 1709.5 450.5 1715.2 456.5 1717 462.5 1715 472.5 1708.5 478.5 1707.6 484.5 1712.8 496.5 1732.2 502.5 1735.2 508.5 1733.3 514.5 1727.5 517.6 1719.5 519 1709.5 518.5 1678.2 510 1657.5 509.7 1605.5 690.5 1605.5 690.5 1747.5ZM320.5 1747.5 267.1 1747.5 267.3 1717.5 259.4 1693.5 257.9 1669.5 258.7 1649.5 260.5 1644.7 264.5 1640.9 276.5 1637.9 284.5 1637.7 288.5 1640.3 292.5 1646.3 304.8 1679.5 314.5 1715.8 320.5 1747.5Z"/>
<path fill-rule="evenodd" fill="#93bcdc" d="M170.5 1747.5 96.5 1747.5 96.5 1605.5 126.6 1605.5 127.2 1649.5 129 1655.5 136.5 1667.5 138.7 1675.5 138.9 1725.5 142.5 1732.8 146.5 1735.9 162.5 1736 166.5 1737.8 170.3 1743.5 170.5 1747.5ZM486.5 1747.5 376.8 1747.5 383.3 1701.5 383.5 1605.5 443.7 1605.5 443.6 1675.5 441.5 1697.5 443.5 1713.5 448.5 1722 454.5 1725.3 460.5 1725.2 472.5 1721.9 478.5 1722.9 482.2 1727.5 484.5 1733.3 487.7 1745.5 488 1747.5 486.5 1747.5ZM690.5 1747.5 517.9 1747.5 523 1731.5 524.2 1711.5 523.9 1677.5 519.4 1653.5 519.3 1605.5 690.5 1605.5 690.5 1747.5ZM312.5 1747.5 274.8 1747.5 277.8 1713.5 272 1691.5 271.3 1683.5 274.2 1673.5 280.5 1667.7 284.5 1666.8 288.5 1668.5 293 1675.5 299.7 1707.5 310.5 1734.5 313.3 1745.5 312.5 1747.5Z"/>
<path fill-rule="evenodd" fill="#9ec6e0" d="M138.5 1747.5 96.5 1747.5 96.5 1605.5 118.3 1605.5 118.1 1643.5 114.8 1671.5 116.5 1678 125.4 1693.5 130.4 1725.5 138.3 1743.5 139.4 1747.5 138.5 1747.5ZM448.5 1747.5 381.9 1747.5 385.7 1701.5 385.7 1605.5 439.8 1605.5 438.5 1703.5 440.5 1716.3 448.1 1733.5 448.5 1747.5ZM690.5 1747.5 525.3 1747.5 527.5 1725.5 527.5 1685.5 525 1653.5 524.8 1605.5 690.5 1605.5 690.5 1747.5ZM298.5 1747.5 282.8 1747.5 286.1 1739.5 290.5 1737.6 297 1741.5 300 1747.5 298.5 1747.5Z"/>
<path fill-rule="evenodd" fill="#a9cfe4" d="M132.5 1747.5 96.5 1747.5 96.5 1605.5 111.3 1605.5 110.9 1641.5 103.7 1659.5 103.4 1669.5 108.5 1684.1 119 1705.5 125 1727.5 132.5 1747.5ZM442.5 1747.5 385.2 1747.5 387.6 1701.5 387.6 1605.5 436.5 1605.5 435.8 1703.5 437 1715.5 442.1 1733.5 442.5 1747.5ZM690.5 1747.5 529.1 1747.5 530.2 1685.5 528.6 1605.5 679.4 1605.5 679.8 1627.5 682.7 1655.5 686.1 1665.5 690.5 1669.3 690.5 1747.5Z"/>
<path fill-rule="evenodd" fill="#b7d8e8" d="M436.5 1747.5 387.8 1747.5 389.4 1701.5 389.4 1605.5 433.7 1605.5 433.3 1703.5 434.1 1715.5 438.1 1735.5 438.4 1747.5 436.5 1747.5ZM652.5 1747.5 531.9 1747.5 531.6 1605.5 655.4 1605.5 654.5 1612.3 651.8 1617.5 636.5 1630 633.8 1637.5 632.9 1647.5 633 1673.5 634.2 1683.5 638.5 1690.9 648.5 1700.2 652.5 1709.5 652.5 1747.5ZM126.5 1747.5 96.5 1747.5 96.5 1680.3 101.3 1685.5 114.7 1713.5 126.3 1743.5 126.5 1747.5Z"/>
<path fill-rule="evenodd" fill="#c5e0ec" d="M434.5 1747.5 390.1 1747.5 391.1 1605.5 431.2 1605.5 431 1705.5 434.3 1731.5 434.5 1747.5ZM628.5 1747.5 534.4 1747.5 534.2 1605.5 628.5 1605.5 624.5 1627.5 623.9 1651.5 624.4 1687.5 629.2 1715.5 628.5 1747.5ZM120.5 1747.5 96.5 1747.5 96.5 1697.8 102.2 1709.5 112.6 1723.5 121 1743.5 121.8 1747.5 120.5 1747.5Z"/>
<path fill-rule="evenodd" fill="#d0e6f0" d="M430.5 1747.5 392.4 1747.5 392.9 1605.5 428.9 1605.5 428.8 1705.5 431.3 1733.5 430.5 1747.5ZM618.5 1747.5 536.7 1747.5 536.5 1605.5 619.8 1605.5 619.8 1747.5 618.5 1747.5ZM114.5 1747.5 96.5 1747.5 96.5 1729.5 104.5 1729.2 108.5 1731.3 115.6 1743.5 116.5 1747.5 114.5 1747.5Z"/>
<path fill-rule="evenodd" fill="#dcedf4" d="M426.5 1747.5 394.6 1747.5 394.6 1605.5 426.7 1605.5 426.7 1707.5 428.6 1735.5 428.4 1747.5 426.5 1747.5ZM614.5 1747.5 538.8 1747.5 538.7 1605.5 616.3 1605.5 616.3 1747.5 614.5 1747.5ZM108.5 1747.5 96.5 1747.5 96.5 1742.5 104.5 1742.6 108.3 1745.5 108.5 1747.5Z"/>
<path fill-rule="evenodd" fill="#e6f2ea" d="M424.5 1747.5 397.1 1747.5 396.5 1605.5 424.6 1605.5 424.6 1707.5 426 1733.5 425.5 1747.5 424.5 1747.5ZM612.5 1747.5 540.9 1747.5 540.8 1605.5 613.8 1605.5 613.8 1747.5 612.5 1747.5Z"/>
<path fill-rule="evenodd" fill="#eff6e0" d="M420.5 1747.5 399.9 1747.5 398.7 1723.5 398.7 1605.5 422.4 1605.5 423.4 1731.5 422.5 1747.5 420.5 1747.5ZM610.5 1747.5 542.8 1747.5 542.8 1605.5 611.7 1605.5 611.7 1747.5 610.5 1747.5Z"/>
<path fill-rule="evenodd" fill="#f5f7d2" d="M418.5 1747.5 403.7 1747.5 402.3 1737.5 401.4 1605.5 419.8 1605.5 420.5 1729.5 418.5 1747.5ZM608.5 1747.5 544.7 1747.5 544.8 1605.5 609.8 1605.5 609.7 1747.5 608.5 1747.5Z"/>
<path fill-rule="evenodd" fill="#fbf8c3" d="M412.5 1738.4 408.5 1737.2 405.7 1725.5 405.6 1605.5 415.8 1605.5 416.2 1727.5 414.7 1735.5 412.5 1738.4ZM606.5 1747.5 546.4 1747.5 546.7 1605.5 608 1605.5 607.9 1747.5 606.5 1747.5Z"/>
<path fill-rule="evenodd" fill="#f9f2b1" d="M604.5 1747.5 548.1 1747.5 548.6 1605.5 606.2 1605.5 606 1747.5 604.5 1747.5Z"/>
<path fill-rule="evenodd" fill="#f7ec9f" d="M602.5 1747.5 549.7 1747.5 550.6 1605.5 604.4 1605.5 604.1 1747.5 602.5 1747.5Z"/>
<path fill-rule="evenodd" fill="#f5e496" d="M600.5 1747.5 551.3 1747.5 552.5 1605.5 602.5 1605.5 602.2 1747.5 600.5 1747.5Z"/>
<path fill-rule="evenodd" fill="#f3db8d" d="M598.5 1747.5 552.8 1747.5 554.5 1605.5 600.4 1605.5 600.3 1747.5 598.5 1747.5Z"/>
<path fill-rule="evenodd" fill="#f1d084" d="M596.5 1747.5 554.3 1747.5 556.5 1605.5 598.1 1605.5 598.4 1747.5 596.5 1747.5Z"/>
<path fill-rule="evenodd" fill="#efc47a" d="M594.5 1747.5 555.9 1747.5 555.9 1693.5 558.6 1661.5 558.7 1605.5 595.4 1605.5 596.4 1747.5 594.5 1747.5Z"/>
<path fill-rule="evenodd" fill="#eeb871" d="M594.5 1747.5 557.4 1747.5 557.6 1691.5 560.9 1657.5 561 1605.5 591.9 1605.5 594.5 1747.5Z"/>
<path fill-rule="evenodd" fill="#ecab68" d="M592.5 1747.5 558.9 1747.5 559.3 1691.5 563.4 1657.5 563.5 1605.5 586.9 1605.5 587.2 1649.5 592.3 1701.5 592.5 1747.5Z"/>
<path fill-rule="evenodd" fill="#eaa061" d="M590.5 1747.5 560.5 1747.5 561.2 1691.5 566.3 1657.5 566.5 1605.5 581.2 1605.5 581.6 1651.5 587.3 1675.5 590.2 1701.5 590.5 1747.5Z"/>
<path fill-rule="evenodd" fill="#e8955a" d="M588.5 1747.5 562.2 1747.5 563.6 1689.5 566.5 1674.7 572.5 1656.5 574.5 1656.8 581 1669.5 586.5 1690.5 588.4 1709.5 588.5 1747.5Z"/>
<path fill-rule="evenodd" fill="#e48651" d="M584.5 1747.5 564 1747.5 564.1 1711.5 565.9 1691.5 570.5 1675.9 574.5 1673.2 580.5 1682 585.3 1701.5 586.4 1747.5 584.5 1747.5Z"/>
<path fill-rule="evenodd" fill="#e07848" d="M582.5 1747.5 566 1747.5 566.5 1707.5 568.5 1694.7 572.5 1686.3 574.5 1686 578.5 1691 582.5 1703.5 583.7 1747.5 582.5 1747.5Z"/>
<path fill-rule="evenodd" fill="#db6c44" d="M578.5 1747.5 568.6 1747.5 569.1 1711.5 570.6 1703.5 572.5 1699.9 574.5 1699.2 578.5 1705.1 580 1713.5 580.3 1747.5 578.5 1747.5Z"/>
</g>
<path d="M96.5 1605V1747.5H690" fill="none" stroke="#3a3a3a" stroke-width="1.4"/>
<path d="M96.5 1605h7" stroke="#3a3a3a" stroke-width="1.4"/>
<path d="M96.5 1646h7" stroke="#3a3a3a" stroke-width="1.4"/>
<path d="M96.5 1686.5h7" stroke="#3a3a3a" stroke-width="1.4"/>
<path d="M96.5 1727.5h7" stroke="#3a3a3a" stroke-width="1.4"/>
<path d="M191.5 1747.5v-7" stroke="#3a3a3a" stroke-width="1.4"/>
<path d="M286.5 1747.5v-7" stroke="#3a3a3a" stroke-width="1.4"/>
<path d="M381.5 1747.5v-7" stroke="#3a3a3a" stroke-width="1.4"/>
<path d="M476.5 1747.5v-7" stroke="#3a3a3a" stroke-width="1.4"/>
<path d="M571.5 1747.5v-7" stroke="#3a3a3a" stroke-width="1.4"/>
<path d="M666.5 1747.5v-7" stroke="#3a3a3a" stroke-width="1.4"/>
<rect x="701" y="1744.6" width="8" height="4.7" fill="#5a74b6"/>
<rect x="701" y="1740.3" width="8" height="4.7" fill="#6280bb"/>
<rect x="701" y="1735.9" width="8" height="4.7" fill="#6a8cc0"/>
<rect x="701" y="1731.5" width="8" height="4.7" fill="#7498c8"/>
<rect x="701" y="1727.2" width="8" height="4.7" fill="#7ea5cf"/>
<rect x="701" y="1722.8" width="8" height="4.7" fill="#88b0d6"/>
<rect x="701" y="1718.5" width="8" height="4.7" fill="#93bcdc"/>
<rect x="701" y="1714.1" width="8" height="4.7" fill="#9ec6e0"/>
<rect x="701" y="1709.7" width="8" height="4.7" fill="#a9cfe4"/>
<rect x="701" y="1705.4" width="8" height="4.7" fill="#b7d8e8"/>
<rect x="701" y="1701" width="8" height="4.7" fill="#c5e0ec"/>
<rect x="701" y="1696.6" width="8" height="4.7" fill="#d0e6f0"/>
<rect x="701" y="1692.3" width="8" height="4.7" fill="#dcedf4"/>
<rect x="701" y="1687.9" width="8" height="4.7" fill="#e6f2ea"/>
<rect x="701" y="1683.5" width="8" height="4.7" fill="#eff6e0"/>
<rect x="701" y="1679.2" width="8" height="4.7" fill="#f5f7d2"/>
<rect x="701" y="1674.8" width="8" height="4.7" fill="#fbf8c3"/>
<rect x="701" y="1670.5" width="8" height="4.7" fill="#f9f2b1"/>
<rect x="701" y="1666.1" width="8" height="4.7" fill="#f7ec9f"/>
<rect x="701" y="1661.7" width="8" height="4.7" fill="#f5e496"/>
<rect x="701" y="1657.4" width="8" height="4.7" fill="#f3db8d"/>
<rect x="701" y="1653" width="8" height="4.7" fill="#f1d084"/>
<rect x="701" y="1648.6" width="8" height="4.7" fill="#efc47a"/>
<rect x="701" y="1644.3" width="8" height="4.7" fill="#eeb871"/>
<rect x="701" y="1639.9" width="8" height="4.7" fill="#ecab68"/>
<rect x="701" y="1635.5" width="8" height="4.7" fill="#eaa061"/>
<rect x="701" y="1631.2" width="8" height="4.7" fill="#e8955a"/>
<rect x="701" y="1626.8" width="8" height="4.7" fill="#e48651"/>
<rect x="701" y="1622.5" width="8" height="4.7" fill="#e07848"/>
<rect x="701" y="1618.1" width="8" height="4.7" fill="#db6c44"/>
<rect x="701" y="1613.7" width="8" height="4.7" fill="#d6603f"/>
<rect x="701" y="1609.4" width="8" height="4.7" fill="#cf5536"/>
<rect x="701" y="1605" width="8" height="4.7" fill="#c84a2e"/>
<text x="63.9" y="1782.9" font-size="37.6" textLength="79.8" lengthAdjust="spacingAndGlyphs" stroke="#000" stroke-width="0.55">10:00</text>
<text x="154.0" y="1782.9" font-size="37.6" textLength="79.2" lengthAdjust="spacingAndGlyphs" stroke="#000" stroke-width="0.55">14:00</text>
<text x="252.0" y="1782.9" font-size="37.6" textLength="79.2" lengthAdjust="spacingAndGlyphs" stroke="#000" stroke-width="0.55">18:00</text>
<text x="346.1" y="1782.9" font-size="37.6" textLength="80.8" lengthAdjust="spacingAndGlyphs" stroke="#000" stroke-width="0.55">22:00</text>
<text x="437.5" y="1782.9" font-size="37.6" textLength="79.5" lengthAdjust="spacingAndGlyphs" stroke="#000" stroke-width="0.55">02:00</text>
<text x="529.4" y="1782.9" font-size="37.6" textLength="79.5" lengthAdjust="spacingAndGlyphs" stroke="#000" stroke-width="0.55">06:00</text>
<text x="623.9" y="1782.9" font-size="37.6" textLength="79.8" lengthAdjust="spacingAndGlyphs" stroke="#000" stroke-width="0.55">10:00</text>
<text x="72.6" y="1617.8" font-size="34.2" textLength="17.7" lengthAdjust="spacingAndGlyphs" stroke="#000" stroke-width="0.55">0</text>
<text x="65.2" y="1658.8" font-size="34.2" textLength="28.3" lengthAdjust="spacingAndGlyphs" stroke="#000" stroke-width="0.55">-2</text>
<text x="64.6" y="1699.3" font-size="34.2" textLength="28.3" lengthAdjust="spacingAndGlyphs" stroke="#000" stroke-width="0.55">-4</text>
<text x="65.0" y="1740.3" font-size="34.2" textLength="28.3" lengthAdjust="spacingAndGlyphs" stroke="#000" stroke-width="0.55">-6</text>
<text x="716.6" y="1635.9" font-size="34.6" textLength="36.6" lengthAdjust="spacingAndGlyphs" stroke="#000" stroke-width="0.55">40</text>
<text x="715.7" y="1692.9" font-size="34.6" textLength="36.6" lengthAdjust="spacingAndGlyphs" stroke="#000" stroke-width="0.55">20</text>
<text x="716.1" y="1754.4" font-size="34.6" textLength="18.3" lengthAdjust="spacingAndGlyphs" stroke="#000" stroke-width="0.55">0</text>
<text x="92.0" y="1600.4" font-size="30.9" textLength="137.5" lengthAdjust="spacingAndGlyphs" stroke="#000" stroke-width="0.55">Depth(m)</text>
<text x="572.0" y="1599.0" font-size="30.8" textLength="163.0" lengthAdjust="spacingAndGlyphs" stroke="#000" stroke-width="0.55">SSC(mg/L)</text>
<text x="3.1" y="1687.8" font-size="34.2" textLength="39.0" lengthAdjust="spacingAndGlyphs" stroke="#000" stroke-width="0.55">C7</text>
<text x="94.8" y="1636.4" font-size="33.0" font-weight="bold">(G)</text>
<clipPath id="cH"><path d="M103.5 1886 110.9 1888 118.3 1889.7 125.8 1891.3 133.2 1892.7 140.6 1893.9 148 1894.9 155.5 1895.8 162.9 1896.4 170.3 1896.9 177.7 1897.3 185.2 1897.5 192.6 1897.5 200 1897 207.4 1896.1 214.9 1894.7 222.3 1893 229.7 1891.1 237.1 1889 244.6 1886.7 252 1884.4 259.4 1882.1 266.8 1879.9 274.3 1877.8 281.7 1876 289.1 1874.5 296.5 1873.4 303.9 1872.7 311.4 1872.5 318.8 1873 326.2 1874.1 333.6 1875.8 341.1 1877.8 348.5 1880.2 355.9 1882.9 363.3 1885.6 370.8 1888.4 378.2 1891.1 385.6 1893.6 393 1896 400.5 1898.6 407.9 1901.6 415.3 1904.7 422.7 1907.8 430.2 1910.9 437.6 1913.6 445 1916 452.4 1917.7 459.9 1918.8 467.3 1919 474.7 1918.3 482.1 1916.9 489.6 1914.9 497 1912.5 504.4 1909.6 511.8 1906.6 519.2 1903.4 526.7 1900.3 534.1 1897.2 541.5 1894.4 548.9 1891.3 556.4 1887.6 563.8 1883.6 571.2 1879.4 578.6 1875.5 586.1 1871.8 593.5 1868.8 600.9 1866.5 608.3 1865.2 615.8 1865 623.2 1865.2 630.6 1865.6 638 1866.3 645.5 1867.3 652.9 1868.7 660.3 1870.5 667.7 1872.7 675.2 1875.4 682.6 1878.7 690 1882.5 690 2004 103.5 2004Z"/></clipPath>
<g clip-path="url(#cH)">
<rect x="103.5" y="1863.0" width="588.0" height="142.0" fill="#5a74b6"/>
<path fill-rule="evenodd" fill="#6280bb" d="M691.5 2005 103.5 2005 103.5 1863 691.5 1863 691.5 2005Z"/>
<path fill-rule="evenodd" fill="#6a8cc0" d="M691.5 2005 103.5 2005 103.5 1863 304.9 1863 306 1867 309.5 1871.2 319.5 1873.8 335.5 1871.7 339.5 1868.3 341.6 1863 539.6 1863 542.2 1869 547.5 1872 553.5 1869.9 557.7 1863 610.8 1863 615.5 1869.9 623.5 1872.2 631.5 1869.8 635 1863 691.5 1863 691.5 2005Z"/>
<path fill-rule="evenodd" fill="#7498c8" d="M691.5 2005 103.5 2005 103.5 1883 129.5 1884.6 163.5 1883.4 171.5 1881.1 183.5 1871.2 193.5 1869.6 205.5 1871.8 221.5 1881.6 235.5 1883.7 287.5 1885.2 305.5 1889.5 317.5 1890.6 335.5 1889.8 347.5 1885.2 351.5 1885.5 354.5 1891 356.3 1899 365.5 1981.8 369.5 1989.1 375.5 1990.3 383.5 1988.8 388.5 1983 391.9 1973 396.4 1941 399.6 1929 403 1923 414.6 1909 424.4 1887 431.5 1880.5 439.5 1879.3 481.5 1879.5 523.5 1884.7 539.5 1889.2 547.5 1889.9 555.5 1886.8 569.5 1873.9 575.5 1872 583.5 1874.2 606.6 1887 623.5 1889.9 633.5 1888.8 647.5 1883 671.5 1882.2 691.5 1879.7 691.5 2005Z"/>
<path fill-rule="evenodd" fill="#7ea5cf" d="M361.5 2005 103.5 2005 103.5 1909.1 129.5 1906.9 169.5 1908.4 175.5 1904.4 185.5 1889.5 193.5 1887 201.5 1889.6 215.5 1904.3 223.5 1907.8 313.5 1904.1 339.5 1906.2 344.1 1909 347.5 1914.1 356.8 1947 363.3 2003 363.4 2005 361.5 2005ZM691.5 2005 393.4 2005 409.6 1947 419.5 1930.4 431.5 1917.8 437.5 1916.3 475.5 1915.7 501.5 1908.1 549.5 1903.4 557.5 1900.1 569.5 1891.5 573.5 1890.5 579.5 1892.8 591.5 1904.3 597.5 1906.7 619.5 1904.7 645.5 1908 671.5 1907.3 691.5 1912.5 691.5 2005Z"/>
<path fill-rule="evenodd" fill="#88b0d6" d="M691.5 2005 403.6 2005 416.9 1959 422.4 1949 429.4 1943 445.5 1940.2 479.5 1940.5 485.5 1938.2 499 1927 505.5 1923.8 555.5 1913.5 571.5 1908.6 577.5 1910.9 587.5 1919.8 593.5 1922.9 599.5 1922.9 611.5 1918.3 619.5 1917.3 631.5 1919.2 645.5 1924.8 667.5 1923.8 676.5 1927 687.5 1943 691.5 1946.2 691.5 2005ZM359.5 2005 103.5 2005 103.5 1925.2 121.5 1920.7 143.5 1920 153.5 1920.5 169.5 1925.2 175.5 1925.3 180.7 1923 189.5 1915.4 193.5 1914.1 199.5 1915.2 213.5 1923.2 221.5 1924.7 265.5 1916.2 315.5 1915.1 333.5 1917.9 339.5 1921.1 343.5 1925.5 354.5 1949 357.3 1965 359.5 2005Z"/>
<path fill-rule="evenodd" fill="#93bcdc" d="M357.5 2005 103.5 2005 103.5 1933.2 125.5 1929 153.5 1929.4 181.5 1936.7 199.5 1947.1 239.5 1930.3 259.5 1924.8 313.5 1923.5 329.5 1925.7 337.5 1929.2 343.5 1934.3 352.2 1949 356 1969 357.5 2005ZM691.5 2005 419.6 2005 425.6 1967 429.4 1959 433.5 1955.4 441.5 1952.3 453.5 1951 475.5 1954.7 483.5 1954.2 491.5 1950.2 505.5 1937.4 513.5 1932.7 539.5 1924.8 555.5 1923.2 571.5 1925.3 593.5 1939.2 599.5 1938.6 613.5 1929.7 623.5 1928.3 633.5 1930.4 645.5 1937.3 663.5 1943.8 669.9 1951 680.6 1979 685.5 1983.4 691.5 1984.8 691.5 2005Z"/>
<path fill-rule="evenodd" fill="#9ec6e0" d="M355.5 2005 103.5 2005 103.5 1937.4 123.5 1934.4 147.5 1934.4 177.5 1940.6 186.7 1949 195.5 1970.9 199.5 1976.7 203.5 1974 212.3 1959 220.8 1949 230.6 1941 241.5 1935.8 267.5 1929.9 313.5 1929.7 329.5 1931.8 337.5 1934.7 343.5 1939 351 1951 354.7 1971 356.5 2003 356.6 2005 355.5 2005ZM659.5 2005 488.3 2005 489.2 1989 492.2 1973 508 1945 513.5 1940 521.5 1936.3 539.5 1931.3 549.5 1930 559.5 1931.3 567.5 1934.4 591.5 1953.7 595.5 1955.3 601.5 1952.8 611.5 1942.6 619.5 1937.7 629.5 1936.3 637.5 1939.6 653.7 1953 658.9 1961 661.1 1979 660.8 2005 659.5 2005ZM471.5 2005 436.8 2005 438.8 1975 440.8 1969 444.4 1965 451.5 1962.3 457.5 1962.4 463.5 1965 467.3 1969 470.3 1977 471.8 1987 472.7 2005 471.5 2005Z"/>
<path fill-rule="evenodd" fill="#a9cfe4" d="M353.5 2005 204.7 2005 210.9 1983 218.7 1963 226.1 1951 233.5 1944.1 243.5 1939.3 261.5 1934.9 307.5 1934 321.5 1934.5 335.5 1937.4 341.5 1940.6 347.1 1947 350.7 1955 353.1 1967 355.2 2003 355.2 2005 353.5 2005ZM653.5 2005 497.5 2005 498.7 1989 502.4 1969 506.2 1957 510.5 1949 515.5 1944 523.5 1940 539.5 1935.9 549.5 1934.9 561.5 1937.7 571.9 1945 580.8 1955 591.5 1972.7 595.5 1976.5 599.5 1974.7 610.9 1955 619.5 1945.3 627.5 1941.7 635.5 1943.5 644.9 1953 651.2 1965 653.1 1979 653.5 2005ZM195.5 2005 103.5 2005 103.5 1940.3 123.5 1937.8 147.5 1938 169.5 1941.5 178.3 1945 184.8 1953 188.4 1963 195.5 2005ZM461.5 2005 447.3 2005 449.2 1991 453.5 1984.6 457.5 1985.6 459.7 1989 461.7 1997 461.5 2005Z"/>
<path fill-rule="evenodd" fill="#b7d8e8" d="M353.5 2005 212.6 2005 216.2 1987 222.8 1965 229.1 1953 235.5 1946.7 245.5 1941.9 261.5 1938.2 307.5 1937.1 333.5 1939.6 339.5 1942 345.5 1947.7 349.5 1956 351.9 1967 353.5 2005ZM589.5 2005 502 2005 506.1 1969 508.9 1959 513.2 1951 517.5 1946.8 523.5 1943.5 541.5 1939 553.5 1939.1 563.5 1943.3 572.8 1953 580.6 1967 588.4 1993 590.2 2003 589.5 2005ZM189.5 2005 103.5 2005 103.5 1942.7 125.5 1940.4 147.5 1940.9 169.5 1944.2 177.5 1947.7 183 1955 186.6 1967 191.1 2001 191.2 2005 189.5 2005ZM647.5 2005 602.2 2005 606.3 1985 613.3 1963 620.5 1951 627.5 1946.2 633.5 1946.6 637.5 1949.5 645.5 1963 649.1 1989 649.5 2005 647.5 2005Z"/>
<path fill-rule="evenodd" fill="#c5e0ec" d="M351.5 2005 217.7 2005 220.6 1987 226.2 1965 231.2 1955 237.5 1948.7 247.5 1944.1 263.5 1940.5 309.5 1939.6 333.5 1942 340.3 1945 345.5 1950.5 349.1 1959 351 1969 353.1 2003 353.1 2005 351.5 2005ZM187.5 2005 103.5 2005 103.5 1944.8 125.5 1942.6 145.5 1943.1 165.5 1945.7 175.5 1949.1 180.7 1955 184.2 1965 188.3 1997 188.7 2005 187.5 2005ZM581.5 2005 504.7 2005 508.7 1969 511.7 1959 515.2 1953 523.5 1946.6 539.5 1942.2 551.5 1941.7 561.5 1945.7 569.9 1955 576.3 1969 582.7 1997 583.4 2005 581.5 2005ZM645.5 2005 609.2 2005 611.2 1989 616.4 1967 621.5 1955.9 627.5 1950.3 631.5 1949.8 635.5 1951.8 642.3 1963 646 1987 646.7 2005 645.5 2005Z"/>
<path fill-rule="evenodd" fill="#d0e6f0" d="M351.5 2005 221.4 2005 224.1 1985 228.2 1967 232.9 1957 238.7 1951 249.5 1945.9 263.5 1942.8 309.5 1941.7 333.5 1944 339.5 1946.6 344 1951 347.9 1959 350 1969 351.5 2005ZM185.5 2005 103.5 2005 103.5 1946.7 125.5 1944.6 145.5 1945.3 167.5 1948.3 175.5 1951.8 179.7 1957 183 1967 186.5 1997 186.9 2005 185.5 2005ZM577.5 2005 506.9 2005 510.5 1971 513.4 1961 517.5 1954.1 527.5 1947.8 543.5 1944.2 553.5 1944.8 561.5 1949.1 567.8 1957 572.7 1969 578.3 1997 578.9 2005 577.5 2005ZM643.5 2005 613.4 2005 615 1989 619.7 1967 623.5 1958.5 629.5 1953.5 635.5 1955.9 640.9 1967 644.1 1991 644.6 2005 643.5 2005Z"/>
<path fill-rule="evenodd" fill="#dcedf4" d="M349.5 2005 224.1 2005 230 1969 234.4 1959 239.9 1953 249.5 1948.2 263.5 1944.9 309.5 1943.6 333.5 1946 339.5 1948.6 343.7 1953 347.3 1961 349.5 1973 351.3 2005 349.5 2005ZM183.5 2005 103.5 2005 103.5 1948.6 123.5 1946.6 139.5 1946.9 163.5 1949.6 173.5 1952.8 178.8 1959 181.9 1969 185.2 2001 185.3 2005 183.5 2005ZM575.5 2005 508.6 2005 512.4 1971 515.5 1961.4 519.5 1955.4 527.5 1950.3 543.5 1946.5 553.5 1947.3 560.1 1951 566.2 1959 570 1969 574.4 1991 575.5 2005ZM641.5 2005 616.3 2005 621.2 1971 625.2 1961 629.5 1957.3 633.5 1958.1 635.5 1960.1 639.3 1969 642.6 1995 642.9 2005 641.5 2005Z"/>
<path fill-rule="evenodd" fill="#e6f2ea" d="M349.5 2005 226.4 2005 228.3 1987 232.2 1969 235.7 1961 241.5 1954.6 251.5 1949.7 263.5 1946.9 309.5 1945.4 333.5 1947.8 339.5 1950.6 343.5 1955 346.8 1963 348.6 1973 350.4 1999 350.5 2005 349.5 2005ZM183.5 2005 103.5 2005 103.5 1950.4 123.5 1948.4 139.5 1948.7 163.5 1951.7 173.5 1955.2 177.5 1960.1 180.5 1969 183.1 1989 183.5 2005ZM571.5 2005 510.2 2005 514.3 1971 516.9 1963 521.1 1957 529.5 1952 543.5 1948.7 553.5 1949.7 559.5 1953.4 564.9 1961 568.9 1973 572.9 1999 573.2 2005 571.5 2005ZM639.5 2005 618.5 2005 623 1973 625.5 1965.8 629.5 1961.3 634.2 1963 638.3 1973 641.3 1999 641.5 2005 639.5 2005Z"/>
<path fill-rule="evenodd" fill="#eff6e0" d="M349.5 2005 228.4 2005 230.2 1987 233.7 1971 237.5 1962.1 243.5 1955.9 253.5 1951.2 265.5 1948.5 309.5 1947.1 331.5 1949 337.5 1951.2 341.8 1955 345.5 1962.3 347.4 1971 349.5 2005ZM181.5 2005 103.5 2005 103.5 1952.2 121.5 1950.2 135.5 1950.3 159.5 1953 171.5 1956.3 176.1 1961 179.5 1971 182.5 1997 182.8 2005 181.5 2005ZM569.5 2005 511.6 2005 515.1 1975 517.5 1966.5 521.5 1959.7 529.5 1954.4 543.5 1950.9 551.5 1951.3 558.3 1955 563.5 1962.3 567 1973 571 1999 571.2 2005 569.5 2005ZM639.5 2005 620.3 2005 623.6 1979 626 1971 629.5 1965.8 633.5 1966.9 636.8 1975 639.6 1993 639.5 2005Z"/>
<path fill-rule="evenodd" fill="#f5f7d2" d="M347.5 2005 230.2 2005 232.1 1987 235.7 1971 239.5 1962.9 245.5 1957.1 255.5 1952.5 265.5 1950.3 309.5 1948.7 331.5 1950.7 337.5 1953 341.7 1957 345.2 1965 347 1975 348.9 2003 348.9 2005 347.5 2005ZM181.5 2005 103.5 2005 103.5 1954 121.5 1951.9 135.5 1952.1 161.5 1955.5 171.5 1958.8 175.5 1963.3 178.1 1971 181.5 2005ZM569.5 2005 513 2005 516.8 1975 519.5 1966.6 523.3 1961 531.5 1955.9 543.5 1952.9 551.5 1953.5 557.5 1956.9 561.9 1963 565.3 1973 569.5 2005ZM637.5 2005 621.9 2005 625.5 1979.4 628.1 1973 631.5 1970.7 634.6 1975 637.1 1985 638.9 2005 637.5 2005Z"/>
<path fill-rule="evenodd" fill="#fbf8c3" d="M347.5 2005 232 2005 233.5 1989 237.2 1973 240.8 1965 246.6 1959 255.5 1954.6 265.5 1952.1 309.5 1950.3 331.5 1952.3 337.5 1954.8 341.5 1959 346.2 1975 347.5 2005ZM179.5 2005 103.5 2005 103.5 1955.9 121.5 1953.7 135.5 1953.9 161.5 1957.7 170.8 1961 175.3 1967 177.5 1974.8 180.2 1997 180.5 2005 179.5 2005ZM567.5 2005 514.3 2005 518 1977 520.6 1969 524.5 1963 531.5 1958.3 543.5 1955 551.5 1955.6 556.9 1959 561 1965 564.2 1975 567.3 1993 567.5 2005ZM637.5 2005 623.4 2005 626.8 1983 629.5 1977.1 631.5 1976.6 635.5 1985.3 637.5 2005Z"/>
<path fill-rule="evenodd" fill="#f9f2b1" d="M345.5 2005 233.7 2005 235.3 1989 238.7 1975 242.2 1967 247.6 1961 255.5 1956.7 265.5 1953.9 311.5 1951.9 333.5 1954.6 337.5 1956.7 341.3 1961 344.2 1969 346.5 1985 347.5 2005 345.5 2005ZM177.5 2005 103.5 2005 103.5 1957.9 121.5 1955.5 133.5 1955.6 159.5 1959.7 169.5 1962.9 173.5 1967.5 176.8 1979 179.3 2003 179.3 2005 177.5 2005ZM565.5 2005 515.6 2005 519.1 1979 521.8 1971 525.7 1965 533.5 1959.9 543.5 1957.1 549.5 1957.2 555.5 1960.3 560.1 1967 563.2 1977 566.6 1999 566.9 2005 565.5 2005ZM635.5 2005 625 2005 627.5 1988.2 629.5 1983.9 631.5 1983.2 635.5 1994.7 635.5 2005Z"/>
<path fill-rule="evenodd" fill="#f7ec9f" d="M345.5 2005 235.5 2005 237.2 1989 241 1975 245 1967 251.5 1961.1 259.5 1957.3 267.5 1955.5 311.5 1953.5 331.5 1955.7 339.7 1961 343.2 1969 345 1979 346.7 2003 346.8 2005 345.5 2005ZM177.5 2005 103.5 2005 103.5 1960.1 119.5 1957.6 131.5 1957.4 153.2 1961 167.5 1965 171.7 1969 175.3 1979 177.7 1995 177.5 2005ZM565.5 2005 516.9 2005 520.3 1981 523.5 1972.2 527.5 1966.5 533.5 1962.4 543.5 1959.3 549.5 1959.4 555.5 1963 559.5 1969.6 562.3 1979 565.5 2005ZM633.5 2005 626.7 2005 628.2 1995 629.5 1991.5 631.5 1990.7 634.2 1999 634.8 2005 633.5 2005Z"/>
<path fill-rule="evenodd" fill="#f5e496" d="M345.5 2005 237.3 2005 238.8 1991 241.9 1979 246.8 1969 252.9 1963 261 1959 269.5 1957.2 311.5 1955.1 331.5 1957.4 339.5 1963 344.1 1979 345.5 2005ZM175.5 2005 103.5 2005 103.5 1962.6 121.5 1959.5 133.5 1959.6 156.9 1965 167.3 1969 171.5 1974.1 174.4 1983 176.7 2001 176.8 2005 175.5 2005ZM563.5 2005 518.2 2005 521.5 1983 525.5 1973.1 529.5 1968.1 535.5 1964.1 543.5 1961.5 549.5 1961.7 554.7 1965 558.3 1971 561.5 1981.3 564.3 1999 564.6 2005 563.5 2005ZM631.5 2005 629.2 2005 629.5 2001.9 631.5 2000.3 631.5 2005Z"/>
<path fill-rule="evenodd" fill="#f3db8d" d="M343.5 2005 239.2 2005 240.5 1993 243.8 1981 248.8 1971 255.5 1964.3 261.9 1961 271.2 1959 311.5 1956.8 331.5 1959.3 335.5 1961.1 339.1 1965 342 1973 344.3 1987 345.3 2005 343.5 2005ZM173.5 2005 103.5 2005 103.5 1965.8 119.5 1962.1 131.5 1961.8 145 1965 164.8 1973 169.5 1977.4 173.5 1987.8 175.4 2005 173.5 2005ZM563.5 2005 519.6 2005 523.5 1982.7 527.1 1975 531.5 1969.7 543.5 1963.9 549.5 1964.2 553.5 1966.7 557.5 1973 560.1 1981 563.5 2005Z"/>
<path fill-rule="evenodd" fill="#f1d084" d="M343.5 2005 241.4 2005 242.8 1993 246.8 1981 252.6 1971 259.3 1965 273 1961 311.5 1958.6 329.5 1960.6 337.5 1965.4 340.9 1973 342.9 1983 344.6 2003 344.6 2005 343.5 2005ZM171.5 2005 103.5 2005 103.5 1970.6 115.5 1965.9 123.5 1964.5 133.1 1965 141.5 1967.9 167.5 1982.9 172.5 1995 173.4 2005 171.5 2005ZM561.5 2005 521 2005 524.8 1985 528.7 1977 533.5 1971.6 539.5 1967.8 545.5 1966.3 549.5 1966.8 553.5 1969.8 559.7 1985 562.3 2001 562.5 2005 561.5 2005Z"/>
<path fill-rule="evenodd" fill="#efc47a" d="M343.5 2005 244 2005 245.5 1993.4 249.3 1983 255.4 1973 261.5 1967.3 273.5 1963.5 311.5 1960.5 329.5 1962.7 334.5 1965 337.5 1968.2 342 1983 343.5 2005ZM169.5 2005 103.5 2005 103.5 1980.4 113.5 1972.1 119.5 1969.2 127.5 1968.3 133.5 1969.6 139 1973 151.5 1986.7 166.1 1993 169.4 1999 169.5 2005ZM559.5 2005 522.5 2005 523.8 1995 527.5 1983.9 531.5 1977.6 537.5 1972.1 543.5 1969.3 547.5 1969.1 553.5 1973.2 557.2 1981 559.8 1991 561.4 2005 559.5 2005Z"/>
<path fill-rule="evenodd" fill="#eeb871" d="M341.5 2005 247.2 2005 248.5 1995 251.5 1986.8 257.5 1976.6 263.5 1970.4 275.5 1966.3 313.5 1962.7 329.5 1965 333.6 1967 337.1 1971 342 1989 343.1 2005 341.5 2005ZM559.5 2005 524.2 2005 527.7 1989 531.5 1982 537.5 1975.6 543.5 1972.5 547.5 1972.2 553.5 1976.9 558.5 1991 559.5 2005ZM143.5 2005 104.1 2005 107.1 1995 113.5 1983.1 119.5 1977.3 125.5 1975.5 131.5 1977.2 137.5 1984.1 142.3 1995 143.5 2005Z"/>
<path fill-rule="evenodd" fill="#ecab68" d="M341.5 2005 251.2 2005 252.2 1997 255.5 1988.2 261.5 1979 267.5 1973.6 281.5 1969.3 313.5 1965.1 327.5 1967 335.5 1972 340.7 1987 341.5 2005ZM557.5 2005 526 2005 530.3 1989 539.5 1977.8 547.5 1975.5 553.5 1980.8 558.5 1997 559.3 2005 557.5 2005ZM133.5 2005 116.2 2005 117.7 1997 121.5 1991.4 125.5 1989.8 129.5 1991.7 132.4 1997 133.5 2005Z"/>
<path fill-rule="evenodd" fill="#eaa061" d="M339.5 2005 256.3 2005 259.9 1991 263.9 1985 269.5 1980 277.5 1976.4 296.6 1971 313.5 1968.2 327.5 1970.2 335.5 1975.9 340.5 1993 341.5 2005 339.5 2005ZM557.5 2005 528 2005 529.5 1996.9 533.5 1988.4 539.5 1981.7 545.5 1978.9 549.5 1979.9 553.5 1984.9 557.2 1997 557.5 2005Z"/>
<path fill-rule="evenodd" fill="#e8955a" d="M339.5 2005 263.4 2005 266.1 1995 273.5 1987.5 302.1 1975 315.5 1972.3 329.5 1974.9 335.5 1980.2 339.5 1993.1 340.4 2005 339.5 2005ZM555.5 2005 530.3 2005 531.5 1998.5 535.5 1990.3 540.4 1985 545.5 1982.6 549.5 1983.7 553.5 1989.3 556.6 2001 556.9 2005 555.5 2005Z"/>
<path fill-rule="evenodd" fill="#e48651" d="M337.5 2005 278.7 2005 283.2 1997 299.5 1984.1 309.5 1978.9 319.5 1977.5 329.5 1979.3 335.5 1985 339 1999 339.4 2005 337.5 2005ZM555.5 2005 532.7 2005 537.1 1993 541.5 1988.3 545.5 1986.5 549.5 1987.7 551.5 1990.1 554.3 1997 555.5 2005Z"/>
<path fill-rule="evenodd" fill="#e07848" d="M337.5 2005 297.3 2005 299.5 1997 306.1 1989 313.5 1984.9 323.5 1983.4 329.5 1984.4 333.5 1987.2 337.3 1997 337.5 2005ZM553.5 2005 535.5 2005 539.5 1995 545.5 1990.7 549.5 1992.1 551.5 1994.8 553.6 2001 553.5 2005Z"/>
<path fill-rule="evenodd" fill="#db6c44" d="M335.5 2005 308.6 2005 310.2 1999 313.3 1995 319.5 1991.3 325.5 1990 329.5 1990.4 333.5 1993.7 335.5 1999 335.5 2005ZM551.5 2005 538.7 2005 540.8 1999 545.5 1995.3 549.5 1997 551.5 2001 551.5 2005Z"/>
<path fill-rule="evenodd" fill="#d6603f" d="M331.5 2005 324.4 2005 327 2001 329.5 2000.6 331.5 2002.5 331.5 2005ZM547.5 2005 543.1 2005 545.5 2001.5 548.3 2003 549 2005 547.5 2005Z"/>
</g>
<path d="M103.5 1865V2004H690" fill="none" stroke="#3a3a3a" stroke-width="1.4"/>
<path d="M103.5 1865h7" stroke="#3a3a3a" stroke-width="1.4"/>
<path d="M103.5 1921.5h7" stroke="#3a3a3a" stroke-width="1.4"/>
<path d="M103.5 1977.5h7" stroke="#3a3a3a" stroke-width="1.4"/>
<path d="M196.5 2004v-7" stroke="#3a3a3a" stroke-width="1.4"/>
<path d="M291 2004v-7" stroke="#3a3a3a" stroke-width="1.4"/>
<path d="M385 2004v-7" stroke="#3a3a3a" stroke-width="1.4"/>
<path d="M479 2004v-7" stroke="#3a3a3a" stroke-width="1.4"/>
<path d="M572.5 2004v-7" stroke="#3a3a3a" stroke-width="1.4"/>
<path d="M666.5 2004v-7" stroke="#3a3a3a" stroke-width="1.4"/>
<rect x="700" y="2000.8" width="9" height="4.5" fill="#5a74b6"/>
<rect x="700" y="1996.6" width="9" height="4.5" fill="#6280bb"/>
<rect x="700" y="1992.4" width="9" height="4.5" fill="#6a8cc0"/>
<rect x="700" y="1988.2" width="9" height="4.5" fill="#7498c8"/>
<rect x="700" y="1983.9" width="9" height="4.5" fill="#7ea5cf"/>
<rect x="700" y="1979.7" width="9" height="4.5" fill="#88b0d6"/>
<rect x="700" y="1975.5" width="9" height="4.5" fill="#93bcdc"/>
<rect x="700" y="1971.3" width="9" height="4.5" fill="#9ec6e0"/>
<rect x="700" y="1967.1" width="9" height="4.5" fill="#a9cfe4"/>
<rect x="700" y="1962.9" width="9" height="4.5" fill="#b7d8e8"/>
<rect x="700" y="1958.7" width="9" height="4.5" fill="#c5e0ec"/>
<rect x="700" y="1954.5" width="9" height="4.5" fill="#d0e6f0"/>
<rect x="700" y="1950.2" width="9" height="4.5" fill="#dcedf4"/>
<rect x="700" y="1946" width="9" height="4.5" fill="#e6f2ea"/>
<rect x="700" y="1941.8" width="9" height="4.5" fill="#eff6e0"/>
<rect x="700" y="1937.6" width="9" height="4.5" fill="#f5f7d2"/>
<rect x="700" y="1933.4" width="9" height="4.5" fill="#fbf8c3"/>
<rect x="700" y="1929.2" width="9" height="4.5" fill="#f9f2b1"/>
<rect x="700" y="1925" width="9" height="4.5" fill="#f7ec9f"/>
<rect x="700" y="1920.8" width="9" height="4.5" fill="#f5e496"/>
<rect x="700" y="1916.5" width="9" height="4.5" fill="#f3db8d"/>
<rect x="700" y="1912.3" width="9" height="4.5" fill="#f1d084"/>
<rect x="700" y="1908.1" width="9" height="4.5" fill="#efc47a"/>
<rect x="700" y="1903.9" width="9" height="4.5" fill="#eeb871"/>
<rect x="700" y="1899.7" width="9" height="4.5" fill="#ecab68"/>
<rect x="700" y="1895.5" width="9" height="4.5" fill="#eaa061"/>
<rect x="700" y="1891.3" width="9" height="4.5" fill="#e8955a"/>
<rect x="700" y="1887.1" width="9" height="4.5" fill="#e48651"/>
<rect x="700" y="1882.8" width="9" height="4.5" fill="#e07848"/>
<rect x="700" y="1878.6" width="9" height="4.5" fill="#db6c44"/>
<rect x="700" y="1874.4" width="9" height="4.5" fill="#d6603f"/>
<rect x="700" y="1870.2" width="9" height="4.5" fill="#cf5536"/>
<rect x="700" y="1866" width="9" height="4.5" fill="#c84a2e"/>
<text x="69.9" y="2037.7" font-size="35.7" textLength="80.7" lengthAdjust="spacingAndGlyphs" stroke="#000" stroke-width="0.55">10:00</text>
<text x="160.6" y="2037.7" font-size="35.7" textLength="79.7" lengthAdjust="spacingAndGlyphs" stroke="#000" stroke-width="0.55">14:00</text>
<text x="257.6" y="2037.7" font-size="35.7" textLength="79.7" lengthAdjust="spacingAndGlyphs" stroke="#000" stroke-width="0.55">18:00</text>
<text x="352.6" y="2037.7" font-size="35.7" textLength="80.4" lengthAdjust="spacingAndGlyphs" stroke="#000" stroke-width="0.55">22:00</text>
<text x="444.5" y="2037.7" font-size="35.7" textLength="79.0" lengthAdjust="spacingAndGlyphs" stroke="#000" stroke-width="0.55">02:00</text>
<text x="536.4" y="2037.7" font-size="35.7" textLength="78.6" lengthAdjust="spacingAndGlyphs" stroke="#000" stroke-width="0.55">06:00</text>
<text x="630.8" y="2037.7" font-size="35.7" textLength="80.7" lengthAdjust="spacingAndGlyphs" stroke="#000" stroke-width="0.55">10:00</text>
<text x="79.6" y="1877.8" font-size="34.2" textLength="17.7" lengthAdjust="spacingAndGlyphs" stroke="#000" stroke-width="0.55">0</text>
<text x="71.6" y="1934.3" font-size="34.2" textLength="28.3" lengthAdjust="spacingAndGlyphs" stroke="#000" stroke-width="0.55">-4</text>
<text x="72.0" y="1990.3" font-size="34.2" textLength="28.3" lengthAdjust="spacingAndGlyphs" stroke="#000" stroke-width="0.55">-8</text>
<text x="715.7" y="1881.9" font-size="34.6" textLength="36.6" lengthAdjust="spacingAndGlyphs" stroke="#000" stroke-width="0.55">60</text>
<text x="716.6" y="1926.9" font-size="34.6" textLength="36.6" lengthAdjust="spacingAndGlyphs" stroke="#000" stroke-width="0.55">40</text>
<text x="715.7" y="1974.4" font-size="34.6" textLength="36.6" lengthAdjust="spacingAndGlyphs" stroke="#000" stroke-width="0.55">20</text>
<text x="716.1" y="2016.9" font-size="34.6" textLength="18.3" lengthAdjust="spacingAndGlyphs" stroke="#000" stroke-width="0.55">0</text>
<text x="98.3" y="1857.0" font-size="30.8" textLength="138.8" lengthAdjust="spacingAndGlyphs" stroke="#000" stroke-width="0.55">Depth(m)</text>
<text x="579.6" y="1854.8" font-size="29.5" textLength="162.5" lengthAdjust="spacingAndGlyphs" stroke="#000" stroke-width="0.55">SSC(mg/L)</text>
<text x="3.1" y="1950.3" font-size="34.2" textLength="38.8" lengthAdjust="spacingAndGlyphs" stroke="#000" stroke-width="0.55">C8</text>
<text x="101.8" y="1896.4" font-size="33.0" font-weight="bold">(H)</text>
<clipPath id="cI"><path d="M97.5 2134.5 105 2136.5 112.5 2138.4 120 2139.9 127.6 2141.3 135.1 2142.5 142.6 2143.4 150.1 2144.2 157.6 2144.9 165.1 2145.4 172.6 2145.7 180.1 2145.9 187.7 2146 195.2 2145.8 202.7 2145.1 210.2 2143.7 217.7 2141.9 225.2 2139.7 232.7 2137.3 240.2 2134.6 247.8 2131.9 255.3 2129.2 262.8 2126.6 270.3 2124.1 277.8 2122 285.3 2120.2 292.8 2118.9 300.3 2118.1 307.9 2118.1 315.4 2118.7 322.9 2120.1 330.4 2122 337.9 2124.4 345.4 2127 352.9 2129.9 360.4 2132.8 368 2135.7 375.5 2138.5 383 2141 390.5 2143.9 398 2147.3 405.5 2150.8 413 2154.4 420.5 2158 428.1 2161.2 435.6 2164 443.1 2166.2 450.6 2167.6 458.1 2168 465.6 2167.4 473.1 2165.8 480.6 2163.4 488.2 2160.4 495.7 2156.9 503.2 2153.2 510.7 2149.3 518.2 2145.5 525.7 2141.9 533.2 2138.5 540.7 2134.4 548.3 2129.8 555.8 2125.1 563.3 2120.9 570.8 2117.6 578.3 2115.7 585.8 2115.5 593.3 2115.5 600.8 2115.5 608.4 2115.5 615.9 2115.5 623.4 2115.5 630.9 2115.5 638.4 2115.5 645.9 2115.5 653.4 2115.9 660.9 2117.1 668.5 2119.1 676 2121.5 683.5 2124.2 691 2127 691 2252 97.5 2252Z"/></clipPath>
<g clip-path="url(#cI)">
<rect x="97.5" y="2113.5" width="594.0" height="140.0" fill="#5a74b6"/>
<path fill-rule="evenodd" fill="#6280bb" d="M691.5 2253.5 97.5 2253.5 97.5 2113.5 691.5 2113.5 691.5 2253.5Z"/>
<path fill-rule="evenodd" fill="#6a8cc0" d="M691.5 2253.5 97.5 2253.5 97.5 2113.5 331.1 2113.5 333 2127.5 335.5 2131.9 337.5 2132.5 339.5 2130.9 341.5 2125.6 342.2 2113.5 691.5 2113.5 691.5 2253.5Z"/>
<path fill-rule="evenodd" fill="#7498c8" d="M691.5 2253.5 97.5 2253.5 97.5 2113.5 323.4 2113.5 324.8 2133.5 328.5 2153.5 332.4 2163.5 337.5 2167.2 341.5 2165.8 345.5 2162.1 349.8 2153.5 352.4 2137.5 352.9 2113.5 691.5 2113.5 691.5 2253.5Z"/>
<path fill-rule="evenodd" fill="#7ea5cf" d="M691.5 2253.5 97.5 2253.5 97.5 2113.5 316.2 2113.5 318.5 2153.5 322.6 2181.5 327.5 2193.9 331.5 2197.4 335.5 2198.3 341.9 2195.5 351.5 2182.1 362.9 2173.5 366.6 2167.5 367.7 2157.5 367.1 2113.5 466.4 2113.5 467.1 2165.5 471.4 2173.5 477.5 2175.8 484.7 2171.5 487.9 2163.5 488.6 2113.5 691.5 2113.5 691.5 2253.5ZM675.4 2197.5 677.9 2187.5 678 2155.5 675.5 2146.2 671.5 2143.3 669.1 2145.5 667.5 2151.6 668.6 2185.5 671.5 2198.2 673.5 2199.1 675.4 2197.5Z"/>
<path fill-rule="evenodd" fill="#88b0d6" d="M319.5 2253.5 97.5 2253.5 97.5 2113.5 255.8 2113.5 257.5 2131.7 261.2 2137.5 269.5 2145.9 274.3 2155.5 283.5 2197.5 294.5 2211.5 305.5 2232.5 318.7 2245.5 321.1 2253.5 319.5 2253.5ZM691.5 2253.5 561.9 2253.5 561.9 2113.5 691.5 2113.5 691.5 2253.5ZM675 2229.5 679.5 2222.6 684.6 2201.5 685.4 2153.5 684.1 2143.5 681.2 2135.5 675.5 2128.9 669.5 2127.2 664.8 2131.5 662 2143.5 663.5 2190.7 667.5 2220.7 671.5 2229.6 675 2229.5ZM533.5 2253.5 419.4 2253.5 420.2 2227.5 423.2 2221.5 435.5 2211.1 441.3 2187.5 443.5 2183.1 447.5 2179.6 453.5 2179.1 465.5 2186.7 471.5 2188.8 497.5 2189 505.5 2192.1 509.7 2197.5 511.5 2225.1 513.5 2231.5 517.5 2236.2 530.8 2245.5 534.1 2251.5 534.5 2253.5 533.5 2253.5Z"/>
<path fill-rule="evenodd" fill="#93bcdc" d="M297.5 2253.5 97.5 2253.5 97.5 2113.5 245.2 2113.5 245.7 2137.5 248.6 2153.5 251.7 2159.5 261.5 2168.4 265.5 2174.1 268.6 2183.5 271.8 2205.5 274.6 2215.5 295.7 2247.5 297.5 2253.5ZM663.5 2253.5 583.4 2253.5 583.4 2149.5 581.6 2113.5 661.1 2113.5 657.9 2131.5 657 2149.5 664.8 2251.5 664.9 2253.5 663.5 2253.5ZM691.5 2134.9 686.6 2123.5 685.2 2113.5 691.5 2113.5 691.5 2134.9ZM509.5 2253.5 441.5 2253.5 441.5 2231.5 449.2 2205.5 452.6 2199.5 457.5 2197 481.5 2196.1 487.5 2196.9 492.2 2199.5 496 2207.5 497.6 2233.5 501.5 2241.5 509.5 2251.5 509.5 2253.5ZM691.5 2253.5 685.8 2253.5 691.5 2224.1 691.5 2253.5Z"/>
<path fill-rule="evenodd" fill="#9ec6e0" d="M273.5 2253.5 97.5 2253.5 97.5 2113.5 234 2113.5 233 2159.5 234.3 2169.5 238 2175.5 248.6 2183.5 251.7 2187.5 253.4 2195.5 252.3 2217.5 253.4 2225.5 257.9 2233.5 271.9 2247.5 274.8 2253.5 273.5 2253.5ZM657.5 2253.5 607.2 2253.5 605.9 2143.5 607.5 2136.9 610.6 2131.5 626.4 2123.5 629.1 2119.5 630.5 2113.5 650.6 2113.5 650.6 2149.5 655.9 2183.5 657.5 2253.5ZM493.5 2253.5 459 2253.5 462.4 2231.5 462.6 2213.5 464.2 2209.5 467.5 2206.6 477.5 2204.1 481.5 2204.9 484.3 2207.5 486.5 2231.5 494.6 2251.5 494.9 2253.5 493.5 2253.5Z"/>
<path fill-rule="evenodd" fill="#a9cfe4" d="M249.5 2253.5 97.5 2253.5 97.5 2113.5 221.9 2113.5 221.4 2165.5 223.1 2183.5 230 2203.5 236.1 2231.5 249.5 2253.5ZM649.5 2253.5 629 2253.5 629.5 2180.1 633.5 2169.9 639.5 2167.1 645.5 2170.2 649.7 2181.5 650.5 2253.5 649.5 2253.5ZM483.5 2253.5 470.6 2253.5 473.5 2247.6 477.5 2246.2 481.5 2248.4 483.5 2253.5Z"/>
<path fill-rule="evenodd" fill="#b7d8e8" d="M231.5 2253.5 97.5 2253.5 97.5 2113.5 212.9 2113.5 214.4 2201.5 216.9 2211.5 231.9 2249.5 232.8 2253.5 231.5 2253.5Z"/>
<path fill-rule="evenodd" fill="#c5e0ec" d="M221.5 2253.5 97.5 2253.5 97.5 2113.5 106.9 2113.5 107 2161.5 110.4 2173.5 115.5 2179.7 121.5 2183.1 141.5 2185.4 151.5 2182.6 155.5 2178.8 158.2 2173.5 159.3 2113.5 207.1 2113.5 207.4 2145.5 210.8 2175.5 208.3 2199.5 208.5 2209.5 211.5 2223.8 221.5 2253.5Z"/>
<path fill-rule="evenodd" fill="#d0e6f0" d="M207.5 2253.5 97.5 2253.5 97.5 2183.3 101.5 2186.5 111.5 2201.4 119.5 2205.8 143.5 2207.5 149.5 2205.8 155.5 2201.6 167.5 2187.8 171.3 2177.5 173.8 2153.5 174 2113.5 203.6 2113.5 204 2145.5 208.7 2175.5 207.9 2185.5 203 2207.5 206.9 2229.5 207.1 2243.5 209 2253.5 207.5 2253.5Z"/>
<path fill-rule="evenodd" fill="#dcedf4" d="M193.5 2253.5 158.6 2253.5 159.6 2223.5 162.1 2217.5 173.5 2201.5 175.3 2195.5 175.8 2173.5 180 2149.5 180.4 2113.5 201.2 2113.5 201.5 2145.5 206.9 2171.5 206.3 2185.5 198.1 2207.5 203.3 2225.5 204 2233.5 200.6 2243.5 194.8 2253.5 193.5 2253.5Z"/>
<path fill-rule="evenodd" fill="#e6f2ea" d="M191.5 2204.5 187.5 2204.8 183.5 2200.3 179.9 2193.5 177.7 2183.5 178 2171.5 183.4 2147.5 183.8 2113.5 199.1 2113.5 199.5 2145.5 205.9 2173.5 205.4 2183.5 202.9 2191.5 197.5 2199.3 191.5 2204.5ZM185.5 2253.5 175.5 2253.5 175.3 2229.5 176.5 2223.5 180.6 2215.5 185.5 2210 189.5 2208.4 199.5 2221.3 202.2 2231.5 199.5 2239.9 187.8 2249.5 185.5 2253.5Z"/>
<path fill-rule="evenodd" fill="#eff6e0" d="M195.5 2198 189.5 2199.1 185.5 2196.9 180.7 2189.5 179 2181.5 179.9 2169.5 185.8 2147.5 186.4 2113.5 197 2113.5 197.6 2145.5 204.9 2173.5 203.3 2187.5 199.5 2194.4 195.5 2198ZM193.5 2242.3 185.5 2242.2 182.7 2239.5 180.5 2233.5 182.1 2223.5 185.5 2219.1 189.5 2217.1 193.5 2218 197.4 2221.5 200.7 2229.5 198.8 2237.5 193.5 2242.3Z"/>
<path fill-rule="evenodd" fill="#f5f7d2" d="M195.5 2195.9 189.5 2196.7 185.5 2194.2 182.3 2189.5 180.1 2181.5 181 2169.5 189 2143.5 189.3 2113.5 194.3 2113.5 194.9 2143.5 202.9 2167.5 204.2 2175.5 202.3 2187.5 195.5 2195.9ZM193.5 2240.1 187.5 2239.8 183.1 2233.5 184 2225.5 189.5 2220.3 195.5 2222 198.9 2227.5 198.3 2235.5 193.5 2240.1Z"/>
<path fill-rule="evenodd" fill="#fbf8c3" d="M195.5 2194.3 189.5 2194.9 185.5 2192.1 182.7 2187.5 180.9 2179.5 182.5 2167.5 191.5 2149.3 193.5 2149.9 197.5 2157 203.3 2173.5 202.1 2185.5 199.5 2190.6 195.5 2194.3ZM193.5 2238.2 187.9 2237.5 185.1 2233.5 185.2 2227.5 189.5 2222.7 193.5 2222.8 197.6 2227.5 197.7 2233.5 193.5 2238.2Z"/>
<path fill-rule="evenodd" fill="#f9f2b1" d="M193.5 2193.7 189.5 2193.4 185.5 2190.3 181.8 2179.5 184.2 2165.5 191.5 2154.3 195.5 2156.5 198.6 2161.5 202.8 2175.5 200.4 2187.5 197.5 2191.5 193.5 2193.7ZM193.5 2236.4 189.5 2236.4 186.4 2231.5 187.5 2226.7 191.5 2224.2 195.5 2226.4 196.8 2229.5 196.2 2233.5 193.5 2236.4Z"/>
<path fill-rule="evenodd" fill="#f7ec9f" d="M195.5 2191.8 191.5 2192.7 187.5 2191 183.8 2185.5 182.5 2179.5 184.3 2167.5 187.5 2161.3 191.5 2157.2 193.5 2157.3 197.5 2161.6 202 2173.5 200.5 2185.5 195.5 2191.8ZM193.5 2234.4 189.5 2234.1 188.1 2231.5 189.2 2227.5 191.5 2226.2 195.3 2229.5 193.5 2234.4Z"/>
<path fill-rule="evenodd" fill="#f5e496" d="M191.5 2191.6 187.5 2189.7 184.6 2185.5 183.1 2175.5 187.5 2163.1 191.5 2159.3 193.5 2159.4 199.5 2167 201.5 2177.5 198.7 2187.5 195.5 2190.7 191.5 2191.6ZM191.5 2232.1 191.5 2229.1 192.7 2231.5 191.5 2232.1Z"/>
<path fill-rule="evenodd" fill="#f3db8d" d="M195.5 2189.6 191.5 2190.6 187.5 2188.5 183.8 2179.5 185.5 2168.5 191.5 2161 193.5 2161 197.5 2164.8 200.7 2173.5 199.9 2183.5 195.5 2189.6Z"/>
<path fill-rule="evenodd" fill="#f1d084" d="M193.5 2189.6 187.5 2187.3 184.4 2179.5 185.8 2169.5 191.5 2162.4 193.5 2162.4 197.5 2166.2 200.4 2175.5 198.3 2185.5 193.5 2189.6Z"/>
<path fill-rule="evenodd" fill="#efc47a" d="M195.5 2187.7 189.5 2188 187.1 2185.5 185 2179.5 186.5 2169.5 191.5 2163.7 195.5 2165 199.6 2173.5 199.3 2181.5 195.5 2187.7Z"/>
<path fill-rule="evenodd" fill="#eeb871" d="M193.5 2187.8 188 2185.5 185.6 2179.5 187.2 2169.5 191.5 2164.9 193.5 2164.9 196.5 2167.5 199.3 2175.5 197.9 2183.5 193.5 2187.8Z"/>
<path fill-rule="evenodd" fill="#ecab68" d="M195.5 2185.8 193.5 2186.9 189.5 2186 186.2 2179.5 187 2171.5 191.5 2166 195.5 2167.3 198.5 2173.5 198.6 2179.5 195.5 2185.8Z"/>
<path fill-rule="evenodd" fill="#eaa061" d="M193.5 2186 189.5 2185 186.8 2179.5 187.5 2172 191.5 2167.1 195.5 2168.5 198.2 2175.5 197.5 2181.5 193.5 2186Z"/>
<path fill-rule="evenodd" fill="#e8955a" d="M195.5 2183.7 191.5 2185.2 187.5 2180 187.6 2173.5 191.5 2168.2 195.5 2169.7 197.3 2173.5 197.5 2179.5 195.5 2183.7Z"/>
<path fill-rule="evenodd" fill="#e48651" d="M193.5 2184.2 189.5 2182.8 187.8 2177.5 189.2 2171.5 191.5 2169.3 195.5 2171 197 2175.5 196.1 2181.5 193.5 2184.2Z"/>
<path fill-rule="evenodd" fill="#e07848" d="M193.5 2183.1 191.5 2183.2 188.8 2179.5 189.1 2173.5 191.5 2170.4 194.7 2171.5 196.4 2175.5 195.5 2181.1 193.5 2183.1Z"/>
<path fill-rule="evenodd" fill="#db6c44" d="M193.5 2182 191.5 2182 189.5 2179.5 189.5 2174.6 191.5 2171.7 193.5 2171.7 195.7 2175.5 195.4 2179.5 193.5 2182Z"/>
<path fill-rule="evenodd" fill="#d6603f" d="M193.5 2180.5 191.5 2180.6 190.1 2177.5 191.5 2173.2 193.5 2173.2 194.7 2175.5 193.5 2180.5Z"/>
<path fill-rule="evenodd" fill="#cf5536" d="M193.5 2178 191.5 2178.1 191.5 2175.5 193.5 2175.5 193.5 2178Z"/>
</g>
<path d="M97.5 2110.5V2252H691" fill="none" stroke="#3a3a3a" stroke-width="1.4"/>
<path d="M97.5 2110.5h7" stroke="#3a3a3a" stroke-width="1.4"/>
<path d="M97.5 2152h7" stroke="#3a3a3a" stroke-width="1.4"/>
<path d="M97.5 2190.5h7" stroke="#3a3a3a" stroke-width="1.4"/>
<path d="M97.5 2228h7" stroke="#3a3a3a" stroke-width="1.4"/>
<path d="M192.5 2252v-7" stroke="#3a3a3a" stroke-width="1.4"/>
<path d="M287.5 2252v-7" stroke="#3a3a3a" stroke-width="1.4"/>
<path d="M382.5 2252v-7" stroke="#3a3a3a" stroke-width="1.4"/>
<path d="M477.5 2252v-7" stroke="#3a3a3a" stroke-width="1.4"/>
<path d="M572.5 2252v-7" stroke="#3a3a3a" stroke-width="1.4"/>
<path d="M667.5 2252v-7" stroke="#3a3a3a" stroke-width="1.4"/>
<rect x="701.5" y="2247.6" width="8.5" height="4.7" fill="#5a74b6"/>
<rect x="701.5" y="2243.3" width="8.5" height="4.7" fill="#6280bb"/>
<rect x="701.5" y="2238.9" width="8.5" height="4.7" fill="#6a8cc0"/>
<rect x="701.5" y="2234.5" width="8.5" height="4.7" fill="#7498c8"/>
<rect x="701.5" y="2230.2" width="8.5" height="4.7" fill="#7ea5cf"/>
<rect x="701.5" y="2225.8" width="8.5" height="4.7" fill="#88b0d6"/>
<rect x="701.5" y="2221.5" width="8.5" height="4.7" fill="#93bcdc"/>
<rect x="701.5" y="2217.1" width="8.5" height="4.7" fill="#9ec6e0"/>
<rect x="701.5" y="2212.7" width="8.5" height="4.7" fill="#a9cfe4"/>
<rect x="701.5" y="2208.4" width="8.5" height="4.7" fill="#b7d8e8"/>
<rect x="701.5" y="2204" width="8.5" height="4.7" fill="#c5e0ec"/>
<rect x="701.5" y="2199.6" width="8.5" height="4.7" fill="#d0e6f0"/>
<rect x="701.5" y="2195.3" width="8.5" height="4.7" fill="#dcedf4"/>
<rect x="701.5" y="2190.9" width="8.5" height="4.7" fill="#e6f2ea"/>
<rect x="701.5" y="2186.5" width="8.5" height="4.7" fill="#eff6e0"/>
<rect x="701.5" y="2182.2" width="8.5" height="4.7" fill="#f5f7d2"/>
<rect x="701.5" y="2177.8" width="8.5" height="4.7" fill="#fbf8c3"/>
<rect x="701.5" y="2173.5" width="8.5" height="4.7" fill="#f9f2b1"/>
<rect x="701.5" y="2169.1" width="8.5" height="4.7" fill="#f7ec9f"/>
<rect x="701.5" y="2164.7" width="8.5" height="4.7" fill="#f5e496"/>
<rect x="701.5" y="2160.4" width="8.5" height="4.7" fill="#f3db8d"/>
<rect x="701.5" y="2156" width="8.5" height="4.7" fill="#f1d084"/>
<rect x="701.5" y="2151.6" width="8.5" height="4.7" fill="#efc47a"/>
<rect x="701.5" y="2147.3" width="8.5" height="4.7" fill="#eeb871"/>
<rect x="701.5" y="2142.9" width="8.5" height="4.7" fill="#ecab68"/>
<rect x="701.5" y="2138.5" width="8.5" height="4.7" fill="#eaa061"/>
<rect x="701.5" y="2134.2" width="8.5" height="4.7" fill="#e8955a"/>
<rect x="701.5" y="2129.8" width="8.5" height="4.7" fill="#e48651"/>
<rect x="701.5" y="2125.5" width="8.5" height="4.7" fill="#e07848"/>
<rect x="701.5" y="2121.1" width="8.5" height="4.7" fill="#db6c44"/>
<rect x="701.5" y="2116.7" width="8.5" height="4.7" fill="#d6603f"/>
<rect x="701.5" y="2112.4" width="8.5" height="4.7" fill="#cf5536"/>
<rect x="701.5" y="2108" width="8.5" height="4.7" fill="#c84a2e"/>
<text x="63.9" y="2284.9" font-size="37.6" textLength="79.8" lengthAdjust="spacingAndGlyphs" stroke="#000" stroke-width="0.55">10:00</text>
<text x="154.0" y="2284.9" font-size="37.6" textLength="79.2" lengthAdjust="spacingAndGlyphs" stroke="#000" stroke-width="0.55">14:00</text>
<text x="252.0" y="2284.9" font-size="37.6" textLength="79.2" lengthAdjust="spacingAndGlyphs" stroke="#000" stroke-width="0.55">18:00</text>
<text x="346.1" y="2284.9" font-size="37.6" textLength="80.8" lengthAdjust="spacingAndGlyphs" stroke="#000" stroke-width="0.55">22:00</text>
<text x="437.5" y="2284.9" font-size="37.6" textLength="79.5" lengthAdjust="spacingAndGlyphs" stroke="#000" stroke-width="0.55">02:00</text>
<text x="529.4" y="2284.9" font-size="37.6" textLength="79.5" lengthAdjust="spacingAndGlyphs" stroke="#000" stroke-width="0.55">06:00</text>
<text x="623.9" y="2284.9" font-size="37.6" textLength="79.8" lengthAdjust="spacingAndGlyphs" stroke="#000" stroke-width="0.55">10:00</text>
<text x="73.6" y="2123.3" font-size="34.2" textLength="17.7" lengthAdjust="spacingAndGlyphs" stroke="#000" stroke-width="0.55">0</text>
<text x="66.2" y="2164.8" font-size="34.2" textLength="28.3" lengthAdjust="spacingAndGlyphs" stroke="#000" stroke-width="0.55">-2</text>
<text x="65.6" y="2203.3" font-size="34.2" textLength="28.3" lengthAdjust="spacingAndGlyphs" stroke="#000" stroke-width="0.55">-4</text>
<text x="66.0" y="2240.8" font-size="34.2" textLength="28.3" lengthAdjust="spacingAndGlyphs" stroke="#000" stroke-width="0.55">-6</text>
<text x="715.9" y="2140.4" font-size="34.6" textLength="36.6" lengthAdjust="spacingAndGlyphs" stroke="#000" stroke-width="0.55">10</text>
<text x="717.1" y="2196.4" font-size="34.6" textLength="18.3" lengthAdjust="spacingAndGlyphs" stroke="#000" stroke-width="0.55">5</text>
<text x="717.1" y="2258.9" font-size="34.6" textLength="18.3" lengthAdjust="spacingAndGlyphs" stroke="#000" stroke-width="0.55">0</text>
<text x="92.9" y="2105.4" font-size="32.7" textLength="137.9" lengthAdjust="spacingAndGlyphs" stroke="#000" stroke-width="0.55">Depth(m)</text>
<text x="574.3" y="2102.7" font-size="30.8" textLength="162.0" lengthAdjust="spacingAndGlyphs" stroke="#000" stroke-width="0.55">SSC(mg/L)</text>
<text x="3.1" y="2216.3" font-size="34.2" textLength="38.9" lengthAdjust="spacingAndGlyphs" stroke="#000" stroke-width="0.55">C9</text>
<text x="95.8" y="2140.9" font-size="33.0" font-weight="bold">(I)</text>
<clipPath id="cJ"><path d="M843.5 50 851 50 858.4 50 865.9 50.1 873.4 50.2 880.9 50.2 888.3 50.3 895.8 50.4 903.3 50.6 910.8 50.7 918.2 50.8 925.7 51 933.2 51.1 940.7 51.3 948.1 51.5 955.6 51.6 963.1 51.9 970.6 52.3 978 52.7 985.5 53.1 993 53.6 1000.5 54.2 1007.9 54.7 1015.4 55.2 1022.9 55.7 1030.4 56.2 1037.8 56.6 1045.3 56.9 1052.8 57.2 1060.3 57.4 1067.7 57.5 1075.2 57.4 1082.7 57.2 1090.2 56.8 1097.6 56.3 1105.1 55.6 1112.6 54.9 1120.1 54.1 1127.5 53.3 1135 52.5 1142.5 51.7 1150 51 1157.4 50.3 1164.9 49.4 1172.4 48.4 1179.9 47.4 1187.3 46.4 1194.8 45.5 1202.3 44.7 1209.8 44.1 1217.2 43.7 1224.7 43.5 1232.2 43.6 1239.7 43.8 1247.1 44.1 1254.6 44.6 1262.1 45.2 1269.6 45.9 1277 46.6 1284.5 47.4 1292 48.3 1299.5 49.2 1306.9 50.2 1314.4 51.1 1321.9 52.1 1329.4 53.2 1336.8 54.7 1344.3 56.6 1351.8 58.5 1359.3 60.2 1366.7 61.5 1374.2 62 1381.7 62 1389.2 62 1396.6 62 1404.1 61.9 1411.6 61.8 1419.1 61.6 1426.5 61.3 1434 61 1434 191.5 843.5 191.5Z"/></clipPath>
<g clip-path="url(#cJ)">
<rect x="843.5" y="41.5" width="592.0" height="150.0" fill="#5a74b6"/>
<path fill-rule="evenodd" fill="#6280bb" d="M1435.5 191.5 843.5 191.5 843.5 41.5 1435.5 41.5 1435.5 191.5Z"/>
<path fill-rule="evenodd" fill="#6a8cc0" d="M1435.5 191.5 843.5 191.5 843.5 41.5 1435.5 41.5 1435.5 191.5Z"/>
<path fill-rule="evenodd" fill="#7498c8" d="M1435.5 191.5 843.5 191.5 843.5 41.5 1435.5 41.5 1435.5 191.5Z"/>
<path fill-rule="evenodd" fill="#7ea5cf" d="M1435.5 191.5 843.5 191.5 843.5 41.5 1435.5 41.5 1435.5 191.5ZM1009.5 97.5 1012.3 95.5 1014.1 89.5 1013 83.5 1009.5 79.9 1005.5 82.2 1004.2 89.5 1005.5 94.8 1009.5 97.5Z"/>
<path fill-rule="evenodd" fill="#88b0d6" d="M1435.5 191.5 843.5 191.5 843.5 41.5 1435.5 41.5 1435.5 191.5ZM1172 93.5 1174.2 87.5 1174.1 79.5 1171.8 73.5 1169.5 73 1165.7 79.5 1165.4 87.5 1167.5 92.9 1169.5 94.4 1172 93.5ZM1011.7 103.5 1016.8 97.5 1017.8 85.5 1013.5 76.2 1007.5 73.9 1003.5 77.2 1001.7 81.5 1001.2 93.5 1005.5 102.5 1011.7 103.5ZM1359.8 93.5 1359.5 87.4 1357.5 88.6 1357.3 91.5 1358.1 93.5 1359.8 93.5Z"/>
<path fill-rule="evenodd" fill="#93bcdc" d="M1435.5 191.5 843.5 191.5 843.5 41.5 1435.5 41.5 1435.5 191.5ZM1015.1 107.5 1020.3 99.5 1021.2 85.5 1015.9 73.5 1011.5 70 1007.5 69.5 1003.5 71.7 999.5 79.5 998.4 87.5 999.2 97.5 1001.5 103.9 1005.5 108.1 1009.5 109.2 1015.1 107.5ZM1170.9 99.5 1173.5 97.7 1175.3 93.5 1176.2 81.5 1173.5 69.7 1169.5 67.9 1164.5 73.5 1162.6 85.5 1165.5 96.5 1167.5 98.7 1170.9 99.5ZM1360.6 99.5 1362.4 95.5 1362.6 87.5 1360.7 81.5 1357.5 80.2 1354.7 85.5 1354.4 93.5 1357.5 99.9 1360.6 99.5Z"/>
<path fill-rule="evenodd" fill="#9ec6e0" d="M1435.5 191.5 843.5 191.5 843.5 41.5 1435.5 41.5 1435.5 191.5ZM1172.1 103.5 1175.5 99.7 1176.7 95.5 1177.5 79 1175 67.5 1173.5 65.2 1169.5 64 1165.5 66.5 1162.5 71.5 1160.4 87.5 1163.8 99.5 1167.5 103.2 1172.1 103.5ZM1015.2 113.5 1020.6 109.5 1023.5 103.5 1025.1 93.5 1024.6 85.5 1022.1 77.5 1017.5 70.5 1013.5 67.2 1007.5 65.8 1001.5 69.4 997.6 77.5 996.2 87.5 997 99.5 999.5 107.4 1003.5 112.2 1009.5 114.3 1015.2 113.5ZM1360.3 103.5 1363.5 99 1364.2 87.5 1361.5 77.3 1357.5 75.7 1353.4 81.5 1352.4 93.5 1355.5 101.9 1360.3 103.5ZM1102.3 125.5 1101.5 122 1099.5 121.9 1099.5 126 1102.3 125.5Z"/>
<path fill-rule="evenodd" fill="#a9cfe4" d="M1435.5 191.5 843.5 191.5 843.5 41.5 1435.5 41.5 1435.5 191.5ZM1172.8 107.5 1175.5 105.1 1177.6 99.5 1178.5 77.5 1175.5 63.7 1173.5 61.5 1169.5 60.7 1164.4 63.5 1160.7 69.5 1158.4 87.5 1159.5 95.7 1162.9 103.5 1167.5 107.4 1172.8 107.5ZM1017.3 119.5 1023.5 116.9 1027.3 111.5 1029.6 99.5 1029.2 87.5 1025.8 77.5 1020.6 69.5 1013.5 63.7 1007.5 62.5 1001.3 65.5 996 75.5 994.1 89.5 995 103.5 997.5 111.7 1001.5 116.9 1007.5 119.6 1017.3 119.5ZM1362 105.5 1365.2 97.5 1365 83.5 1361.5 73.5 1357.5 72.2 1353.5 75.4 1351.8 79.5 1350.9 95.5 1355.5 105.2 1359.5 106.8 1362 105.5ZM1104.2 137.5 1110.3 129.5 1110.6 121.5 1101.5 110.7 1095.5 108.2 1091.5 109.1 1089 111.5 1086.8 117.5 1086.6 123.5 1088.4 129.5 1095.9 137.5 1099.5 138.7 1104.2 137.5Z"/>
<path fill-rule="evenodd" fill="#b7d8e8" d="M1435.5 191.5 843.5 191.5 843.5 41.5 1435.5 41.5 1435.5 191.5ZM1102.2 145.5 1107.5 141.9 1113.5 133.5 1115.9 127.5 1115.5 121.5 1101.5 103.9 1083.5 86.3 1079.5 84.3 1074 85.5 1061.5 100 1057.5 102.2 1051.5 102.5 1043.5 97.8 1027.9 73.5 1017.5 62.5 1011.5 59.5 1007.5 59.1 999.5 63.5 993.8 75.5 991.9 95.5 993.7 113.5 996.2 119.5 999.5 123.3 1009.5 127 1073.5 133.1 1079.5 135 1095.5 145.2 1102.2 145.5ZM1173.8 111.5 1177.4 107.5 1179 101.5 1179.5 75.1 1176.6 61.5 1173.5 58.2 1169.5 57.7 1163.5 60.5 1158.8 67.5 1156.7 77.5 1156.4 89.5 1158.1 99.5 1161.5 106.9 1167.5 111.6 1173.8 111.5ZM1359.8 109.5 1363.5 107.2 1365.5 102.5 1366.5 87.5 1363.5 72.5 1361.5 70.2 1357.5 69.1 1353.5 71.3 1351 75.5 1348.8 91.5 1351.6 103.5 1355.5 108.2 1359.8 109.5ZM892.1 83.5 891.8 79.5 889.5 78.1 887.5 81.3 887.8 83.5 889.5 85.5 892.1 83.5Z"/>
<path fill-rule="evenodd" fill="#c5e0ec" d="M1435.5 191.5 1361.9 191.5 1357.5 188.6 1353.5 189.3 1350.8 191.5 843.5 191.5 843.5 41.5 1435.5 41.5 1435.5 191.5ZM1103.4 151.5 1109.5 145.8 1116.7 135.5 1120.8 127.5 1121 123.5 1119 119.5 1106.7 105.5 1095.5 86.7 1087.8 77.5 1081.5 74.3 1075.5 74.2 1057.5 81.8 1051.5 82 1037.5 75 1013.5 56.2 1005.5 55.5 997.6 61.5 994.1 67.5 991.2 77.5 989.1 105.5 990 123.5 995.1 131.5 1007.5 136 1027.5 135.6 1045.5 137.2 1077.5 144.1 1095.5 152.3 1103.4 151.5ZM1175.8 115.5 1179 111.5 1180.4 105.5 1180 69.5 1176.6 57.5 1173.5 55.1 1169.5 54.7 1161.5 58.3 1156.8 65.5 1154.5 79.5 1154.9 95.5 1157.2 105.5 1161.5 112.2 1169.5 116.5 1175.8 115.5ZM1244.4 91.5 1249.9 87.5 1252.1 77.5 1249.5 65 1247.5 62.2 1243.5 60.3 1239.5 61.6 1236.9 65.5 1234.9 79.5 1237.5 88.3 1241.5 91.4 1244.4 91.5ZM895.1 93.5 898.9 89.5 900.2 85.5 899.6 73.5 895.5 66.4 891.5 64.5 887.5 64.6 883.5 66.7 880.5 71.5 879.5 85.5 881.5 89.9 885.5 93.5 889.5 94.7 895.1 93.5ZM1362 111.5 1365.3 107.5 1366.9 101.5 1367.1 81.5 1363.8 69.5 1361.5 67.2 1357.5 66.2 1353.5 67.8 1349.5 73.5 1347.4 83.5 1347.2 93.5 1348.7 101.5 1351.7 107.5 1357.5 112 1362 111.5Z"/>
<path fill-rule="evenodd" fill="#d0e6f0" d="M1435.5 191.5 1366.9 191.5 1363.5 185.4 1357.5 183.4 1347.5 185.8 1339.9 191.5 843.5 191.5 843.5 41.5 1004.8 41.5 1003.2 49.5 992.3 65.5 989.1 77.5 982.8 121.5 983.8 131.5 987.5 138.8 993.5 142.9 1005.5 145.6 1027.5 141.2 1041.5 141.9 1097.5 159.8 1103.5 157.9 1107.5 154.1 1124.3 131.5 1127.3 125.5 1126.4 121.5 1113.5 110.1 1108.3 103.5 1096.2 75.5 1091.5 70.7 1083.5 67.2 1073.5 67.1 1053.5 70.9 1035.5 66 1027.5 61.4 1018.4 53.5 1014.8 47.5 1014.1 41.5 1435.5 41.5 1435.5 191.5ZM1176.5 121.5 1180.3 119.5 1182.5 113.5 1180.9 67.5 1177.5 54.6 1173.5 51.9 1169.5 51.6 1159.5 55.6 1154.4 63.5 1152.4 79.5 1153 99.5 1155.1 109.5 1159.5 116.2 1167.5 120.9 1176.5 121.5ZM1244.5 97.5 1249.6 95.5 1254.7 89.5 1256.6 83.5 1257 73.5 1255.6 63.5 1252.9 57.5 1247.5 53.3 1241.5 52.6 1235.5 55.3 1232.9 59.5 1231 69.5 1231 81.5 1232.7 89.5 1235.5 94.1 1239.5 96.9 1244.5 97.5ZM898 97.5 903.5 91.8 905.5 85.5 905.3 73.5 903.4 65.5 900.7 61.5 895.5 58.4 887.5 57.6 881.5 59.2 877.5 62.5 874.8 69.5 874 81.5 875.7 89.5 879.5 94.6 885.5 98.5 891.5 99.5 898 97.5ZM1363.6 113.5 1366.1 109.5 1367.9 101.5 1367.7 77.5 1364.9 67.5 1361.5 64.1 1357.5 63.2 1351.5 65.9 1347.9 71.5 1345.7 81.5 1345.6 95.5 1348.1 105.5 1352 111.5 1357.5 114.9 1363.6 113.5Z"/>
<path fill-rule="evenodd" fill="#dcedf4" d="M1435.5 191.5 1370.3 191.5 1368.6 185.5 1365.5 181.6 1357.5 178.9 1341.2 183.5 1333.2 187.5 1328.8 191.5 843.5 191.5 843.5 41.5 997.8 41.5 996.4 51.5 988.4 69.5 983.5 99.5 977.5 120.8 978.5 137.5 982.7 147.5 989.5 151.6 1005.5 153.1 1013.5 151.5 1027.5 146.2 1037.5 146 1045.5 148.3 1081.5 164.4 1093.5 167.1 1099.5 166.3 1105.5 162.5 1119.5 143.1 1134.9 127.5 1136.1 121.5 1119.5 112.3 1110.8 103.5 1106.2 93.5 1101.5 70.9 1096.8 63.5 1085.5 59.8 1053.5 61.1 1035.5 58.4 1029.5 55.5 1026 51.5 1024.6 41.5 1435.5 41.5 1435.5 191.5ZM1249.1 101.5 1256.6 95.5 1262 85.5 1263.2 75.5 1262.2 61.5 1259.6 53.5 1255.5 48.9 1247.5 45.6 1237.5 45.6 1231.5 48.6 1228.3 55.5 1227.4 75.5 1228.7 89.5 1231.5 96.6 1235.5 100.6 1241.5 102.7 1249.1 101.5ZM1186.1 127.5 1189.3 121.5 1183.6 101.5 1180.4 55.5 1175.5 48.4 1169.5 47.1 1163.5 48.2 1155.5 52.4 1151.5 60.9 1150.3 87.5 1151.4 113.5 1155 119.5 1165.5 125.7 1179.5 128.7 1186.1 127.5ZM899.6 101.5 906.9 95.5 910.6 87.5 911.2 71.5 908.8 59.5 903.5 53.9 897.5 51.8 887.5 51 877.5 52.8 872 57.5 870.1 63.5 869.5 79.5 871.5 90.2 875.5 96.1 883.5 101.7 891.5 103.4 899.6 101.5ZM1363 117.5 1366.4 113.5 1368.5 105.5 1368.7 77.5 1365.5 64.2 1361.5 60.2 1357.5 59.5 1351.5 61.9 1346 69.5 1343.7 81.5 1343.6 95.5 1345.6 105.5 1350.1 113.5 1357.5 118.2 1363 117.5Z"/>
<path fill-rule="evenodd" fill="#e6f2ea" d="M1435.5 191.5 1373.4 191.5 1371.7 183.5 1367.8 177.5 1363.5 174.7 1357.5 173.8 1337.5 180 1322.1 187.5 1317.4 191.5 946.8 191.5 943.5 185.5 939.5 184.4 935.5 186.2 932.3 191.5 843.5 191.5 843.5 41.5 864.4 41.5 865.1 73.5 868 91.5 871.9 97.5 877.5 102.1 885.5 106.1 891.5 107.1 899.5 105.8 905.5 103.1 912.6 97.5 917 91.5 920.8 73.5 921.9 41.5 992.7 41.5 991.8 51.5 985.6 69.5 980.9 97.5 972.4 121.5 972.9 141.5 976.5 155.5 981.4 159.5 987.5 160 1011.5 157.6 1027.5 151.3 1035.5 150.7 1043.6 153.5 1063.5 168.5 1077.5 173.8 1087.5 175.1 1097.5 173.5 1103.5 170.3 1123.5 143.7 1147.5 128.3 1155.5 128.1 1185.5 137.6 1191.5 136.4 1196.5 131.5 1199.2 121.5 1196.8 117.5 1188.2 109.5 1184.7 99.5 1182.4 55.5 1179.6 41.5 1217.1 41.5 1222.8 55.5 1225.2 89.5 1227.5 99 1233.5 105.7 1243.5 108 1252.3 105.5 1265.5 95.3 1271.5 92.8 1291.5 93.7 1309.5 97.8 1315.5 96.6 1318.8 91.5 1319.9 85.5 1320.1 41.5 1355 41.5 1354.3 51.5 1345.5 63 1342.8 69.5 1340.9 93.5 1342.7 105.5 1346 113.5 1351.5 119.6 1359.5 122.9 1363.5 121.9 1367 117.5 1369.8 101.5 1369.2 71.5 1363.9 53.5 1363.2 41.5 1435.5 41.5 1435.5 191.5ZM1137.5 113.7 1129.5 113.3 1121.5 110.8 1114.7 105.5 1109.7 97.5 1107.2 87.5 1105.9 67.5 1108.4 41.5 1143.2 41.5 1147.7 61.5 1148 95.5 1145 109.5 1141.5 112.8 1137.5 113.7ZM940.2 121.5 939.5 118.2 937.5 118.8 938.2 121.5 940.2 121.5Z"/>
<path fill-rule="evenodd" fill="#eff6e0" d="M1435.5 191.5 1376.5 191.5 1375.1 181.5 1371.5 172.6 1367.5 168.7 1359.5 166.7 1351.5 168.3 1341.5 172.4 1309.9 187.5 1305.8 191.5 951 191.5 947.5 181.7 941.5 179.1 933.5 183.4 929.3 191.5 843.5 191.5 843.5 41.5 858.2 41.5 863.3 87.5 865.5 94.4 869.5 100.1 881.5 108 891.5 110.7 901.5 109.5 917.5 103.7 923.5 104.5 926.5 109.5 931.8 127.5 937.5 133.3 943.5 134.7 947.5 133.5 951.4 129.5 952.7 121.5 950 115.5 934.9 97.5 932.2 91.5 932.3 41.5 987.4 41.5 986.7 51.5 982.7 67.5 978.4 95.5 965.9 123.5 966 151.5 969.5 163.5 975.1 167.5 981.5 168.1 997.5 163.6 1013.5 161.3 1027.5 156.6 1035.5 156.4 1043.3 161.5 1057.5 179.6 1065.5 183.2 1079.5 185.3 1089.5 183 1101.5 177.5 1107.5 171.6 1123.5 148.3 1131.5 142.5 1143.5 136.7 1151.5 134.7 1157.5 134.9 1191.5 146.9 1197.5 145.5 1201.5 141.4 1208.2 127.5 1209.3 119.5 1206.2 115.5 1191.5 109.2 1186 99.5 1184.3 85.5 1184.1 57.5 1187.2 41.5 1208.6 41.5 1215.2 49.5 1218.5 55.5 1220.5 63.5 1223.8 105.5 1226.2 109.5 1229.5 111.8 1241.5 114 1249.5 112.8 1265.5 104.9 1271.5 103.7 1293.5 105.1 1313.5 112.9 1319.5 112.5 1323.5 110.3 1327.9 103.5 1330.6 91.5 1330.4 41.5 1344.5 41.5 1343.5 53.5 1338.5 65.5 1336.5 75.5 1336.6 99.5 1338.8 109.5 1343.5 119.5 1351.5 128.3 1359.5 133.3 1363.5 132.4 1365.5 130.1 1370 113.5 1370.7 79.5 1368.3 41.5 1435.5 41.5 1435.5 191.5ZM1135.5 109.8 1127.5 110.3 1119.5 107.2 1113.9 101.5 1110.3 93.5 1108.9 81.5 1109.6 65.5 1111.5 59.1 1117.9 47.5 1118.7 41.5 1132.9 41.5 1134.3 47.5 1141.5 56.3 1144.6 63.5 1146.3 81.5 1145.3 97.5 1141.5 106.3 1135.5 109.8Z"/>
<path fill-rule="evenodd" fill="#f5f7d2" d="M1047.5 191.5 955.2 191.5 953.5 173.5 951.5 171.6 947.5 171.1 941.5 172.6 935.5 176.8 929.5 184.5 926.9 191.5 843.5 191.5 843.5 41.5 854.1 41.5 860.1 87.5 862.4 95.5 866 101.5 875.5 108.6 887.5 113.8 897.5 114.3 913.5 111.8 919.5 113.9 933.5 136.4 952.4 149.5 956.3 167.5 959.5 171 969.5 174.9 977.5 175.3 999.5 166.8 1031.5 162.3 1037.5 165.3 1043.4 173.5 1048.7 187.5 1049.3 191.5 1047.5 191.5ZM963.5 112.2 959.5 113 953.5 109.6 946.3 101.5 941.1 91.5 939.8 73.5 942 41.5 980.4 41.5 975.8 93.5 971.5 103.5 963.5 112.2ZM1435.5 191.5 1379.7 191.5 1372.2 133.5 1370.8 41.5 1435.5 41.5 1435.5 191.5ZM1207.5 109.5 1197.5 109 1191.5 106.1 1188.2 101.5 1185.9 93.5 1184.9 71.5 1186.3 53.5 1189.5 47.3 1197.5 42.7 1205.5 45.6 1212.6 51.5 1216 57.5 1218.4 67.5 1219.4 83.5 1218.1 99.5 1213.8 107.5 1207.5 109.5ZM1131.5 107.7 1123.5 106.9 1117.5 103.1 1112.7 95.5 1111.1 87.5 1111.1 73.5 1113.1 63.5 1117.5 56.9 1125.5 52.5 1133.5 54.5 1139.3 59.5 1142.2 65.5 1143.8 73.5 1144.3 87.5 1142.7 97.5 1139.5 103.5 1131.5 107.7ZM1283.5 191.5 1093.1 191.5 1107.5 176.8 1123.5 153 1137.5 144 1149.5 140.5 1159.5 141 1175.3 147.5 1191.5 157 1197.5 158.5 1203.5 154.8 1215.5 133.6 1223.5 125.5 1229.5 123.2 1247.5 120.8 1265.5 114 1273.5 113.3 1293.5 115.3 1309.5 124.4 1327.5 130.3 1340.9 141.5 1344.5 147.5 1346 153.5 1345.6 157.5 1343.2 161.5 1325.5 175 1289.5 190.3 1283.5 191.5Z"/>
<path fill-rule="evenodd" fill="#fbf8c3" d="M923.5 191.5 843.5 191.5 843.5 41.5 850.4 41.5 857.5 89.7 859.6 97.5 863.5 104.4 871.5 110.4 887.5 117.8 915.5 119.2 919.5 122.5 940.5 151.5 942.1 157.5 940.5 163.5 927.5 183.4 924.7 191.5 923.5 191.5ZM961.5 105.7 957.5 105 951.5 100.2 947.4 93.5 945.8 87.5 946.3 65.5 952.2 41.5 970.7 41.5 973.5 59.5 974.2 77.5 972.8 91.5 968 101.5 961.5 105.7ZM1435.5 191.5 1383.1 191.5 1381.6 159.5 1376.2 135.5 1372.8 111.5 1372.6 41.5 1435.5 41.5 1435.5 191.5ZM1205.5 106.1 1197.5 106.4 1191.5 103.3 1188.1 97.5 1186.3 89.5 1185.9 69.5 1187.5 55.9 1191.5 49.5 1197.5 47.1 1205.5 49.1 1210.7 53.5 1214 59.5 1216.5 69.5 1217.2 83.5 1215.6 95.5 1211.5 102.9 1205.5 106.1ZM1133.5 104.3 1125.5 105.2 1119.5 102.4 1115.5 97.5 1113 89.5 1113 75.5 1115.1 65.5 1119.5 59.5 1125.5 56.8 1131.5 57.6 1136.9 61.5 1141.5 73.5 1141.5 93.5 1139.1 99.5 1133.5 104.3ZM1253.5 191.5 1101.3 191.5 1123.5 157.7 1133.5 150.4 1145.5 146 1155.5 145.5 1163.5 147.9 1177.5 155.2 1193.5 167.8 1201.5 170.4 1205.5 169.3 1209.5 165.6 1217.5 147.1 1225.5 137.6 1233.5 133.5 1263.5 124.3 1275.5 124.2 1293.5 127.7 1321.5 139.1 1329.2 147.5 1331.3 153.5 1330.9 159.5 1327.4 165.5 1320 171.5 1295.5 179.2 1263.5 184.5 1257.5 187.4 1253.5 191.5ZM1041.5 191.5 960.8 191.5 961.8 187.5 965.5 184 981.5 180 997.5 170.7 1005.5 168.6 1023.5 167.5 1031.5 169.2 1036.2 173.5 1041.1 183.5 1042.6 191.5 1041.5 191.5Z"/>
<path fill-rule="evenodd" fill="#f9f2b1" d="M921.5 191.5 843.5 191.5 843.5 41.5 846.2 41.5 855.5 95.5 860.4 107.5 865.5 111.8 885.5 121.9 893.5 123.5 909.5 123.8 915.5 125.6 921.5 131 932.7 147.5 935.1 153.5 935.1 161.5 922.6 191.5 921.5 191.5ZM1435.5 191.5 1387 191.5 1386.4 157.5 1378.8 133.5 1373.6 107.5 1374.1 41.5 1435.5 41.5 1435.5 191.5ZM1203.5 103.7 1197.5 104 1191.5 100.7 1188.7 95.5 1187 87.5 1188.1 59.5 1191.5 52.6 1197.5 49.8 1203.5 50.9 1209.5 55.8 1213.1 63.5 1215 73.5 1215 85.5 1213.5 93.5 1209.5 100.3 1203.5 103.7ZM963.5 98.3 959.5 98.9 954.5 95.5 951.5 89.8 950.6 83.5 951.2 71.5 953.3 63.5 957.5 58.3 961.5 57.2 965.5 59.4 967.5 62.5 969.9 75.5 969.3 89.5 967.5 94.1 963.5 98.3ZM1131.5 102.4 1125.5 103 1121.5 101.4 1117.5 97.4 1114.7 89.5 1114.5 79.5 1116.1 69.5 1119.5 63.4 1125.5 60.2 1129.5 60.4 1134.7 63.5 1137.5 67.8 1139.7 75.5 1140.4 85.5 1139.2 93.5 1135.9 99.5 1131.5 102.4ZM1247.5 181.8 1239.5 181.8 1233.5 176.6 1230.5 167.5 1230.5 155.5 1233.3 149.5 1237.6 145.5 1257.2 135.5 1265.5 133.6 1275.5 134.9 1313.5 146.9 1317.8 149.5 1320.3 153.5 1319.5 160.5 1313.5 165.3 1289.5 170 1247.5 181.8ZM1209.5 191.5 1106 191.5 1117.5 171 1125.5 160.5 1137.5 152.9 1151.5 150 1161.5 152.4 1175.5 160.3 1193.5 176.5 1206.6 185.5 1209.5 191.5ZM1037.5 191.5 973.1 191.5 997.5 173.6 1005.5 171.2 1013.5 170.7 1023.5 171.7 1030.5 175.5 1035.8 183.5 1037.5 191.5Z"/>
<path fill-rule="evenodd" fill="#f7ec9f" d="M1435.5 191.5 1391.5 191.5 1391.2 155.5 1381.5 133.3 1374.6 107.5 1373.9 85.5 1375.4 41.5 1435.5 41.5 1435.5 191.5ZM1201.5 101.7 1195.5 101.3 1191.5 98.1 1187.7 85.5 1187.7 71.5 1189.5 59.7 1193.5 53.7 1197.5 52.2 1203.5 53.5 1208 57.5 1211.6 65.5 1213.3 75.5 1213.1 85.5 1211 93.5 1207.5 98.6 1201.5 101.7ZM919.5 191.5 843.5 191.5 843.5 57.9 848.1 69.5 853.5 104 857.7 113.5 861.5 116.4 887.5 127.9 909.5 129.1 915.5 130.8 921.5 136 928 145.5 931.1 153.5 931.1 161.5 920.5 191.5 919.5 191.5ZM1131.5 99.7 1125.5 100.6 1121.5 98.8 1118.6 95.5 1116.5 89.5 1116.3 79.5 1117.9 71.5 1121.4 65.5 1125.5 63.4 1129.5 63.7 1133.5 66.6 1137.8 77.5 1137.5 91.5 1135.5 96 1131.5 99.7ZM961.5 88.1 959.2 87.5 957.8 81.5 959.5 75.3 961.5 74.9 963.6 81.5 961.5 88.1ZM1269.5 165.5 1259.5 165.3 1256.4 163.5 1253.8 159.5 1254.8 151.5 1261.5 145.9 1269.8 145.5 1273.6 147.5 1276.9 151.5 1277.9 155.5 1276.9 159.5 1273.5 163.5 1269.5 165.5ZM1197.5 191.5 1109.5 191.5 1115.5 178.9 1125.5 165.2 1137.5 157.4 1149.5 154.5 1159.5 156.6 1173.5 164.9 1194.3 185.5 1197.5 191.5ZM1031.5 191.5 983.3 191.5 987 185.5 995.7 177.5 1003.5 173.9 1011.5 173.1 1021.5 174.8 1027.5 178.7 1032.7 187.5 1033.4 191.5 1031.5 191.5Z"/>
<path fill-rule="evenodd" fill="#f5e496" d="M1435.5 191.5 1396.8 191.5 1397.4 163.5 1396.1 153.5 1381.5 126.5 1375.5 107.1 1374.6 85.5 1376.6 41.5 1435.5 41.5 1435.5 191.5ZM1199.5 99.7 1195.5 99.1 1191.5 95.4 1188.4 81.5 1190.5 61.5 1193.5 56.4 1197.5 54.6 1203.5 56.2 1207.5 60.6 1210.2 67.5 1211.7 77.5 1210.9 87.5 1208.6 93.5 1205.1 97.5 1199.5 99.7ZM1129.5 97.7 1125.5 98 1121.5 95.8 1118.1 87.5 1119.7 73.5 1121.9 69.5 1125.5 67.1 1129.5 67.6 1131.8 69.5 1135.7 79.5 1135.1 91.5 1129.5 97.7ZM917.5 191.5 843.5 191.5 843.5 72.7 846.2 81.5 850.6 115.5 852.7 121.5 855.5 125 869.5 125.9 889.5 134.2 913.5 134.7 919.5 138.6 923.5 143.7 927.6 153.5 927.8 161.5 917.5 191.5ZM1189.5 191.5 1112.4 191.5 1117.5 180.2 1127.5 167.9 1139.5 161 1149.5 159 1159.5 161.3 1171.5 169.2 1186.9 185.5 1189.5 191.5ZM1029.5 191.5 987.5 191.5 990.5 185.5 996.7 179.5 1003.5 176.2 1009.5 175.4 1017.5 176.5 1023.5 179.6 1028.3 185.5 1029.5 191.5Z"/>
<path fill-rule="evenodd" fill="#f3db8d" d="M1435.5 191.5 1403.6 191.5 1403.9 163.5 1402.4 153.5 1397.3 143.5 1383.5 125.3 1376.6 107.5 1375.4 87.5 1377.8 41.5 1435.5 41.5 1435.5 191.5ZM1199.5 97.5 1195.5 96.9 1192.1 93.5 1189.4 81.5 1191.3 63.5 1193.5 59.4 1197.5 57 1201.5 57.7 1205.6 61.5 1208.3 67.5 1210 77.5 1209.5 85.5 1207.5 91.4 1203.5 96 1199.5 97.5ZM1129.5 94.2 1123.5 93.9 1120.4 87.5 1121.5 76.6 1125.5 71.6 1130.3 73.5 1133.4 81.5 1132.9 89.5 1129.5 94.2ZM915.5 191.5 843.5 191.5 843.5 125 853.5 139.5 855.5 139.9 863.5 134.8 869.5 133.7 887.5 140 909.5 138.9 917.5 141.8 923 149.5 924.7 159.5 922.8 169.5 915.5 191.5ZM1183.5 191.5 1115.1 191.5 1119.5 181.6 1127.5 172.3 1139.5 165.2 1149.5 163.2 1157.5 164.9 1167.5 171.2 1179.4 183.5 1183.5 191.5ZM1025.5 191.5 990.4 191.5 993.3 185.5 997.5 181.5 1003.5 178.3 1009.5 177.5 1015.5 178.4 1021.5 181.5 1026.1 187.5 1027.1 191.5 1025.5 191.5Z"/>
<path fill-rule="evenodd" fill="#f1d084" d="M1435.5 191.5 1415.7 191.5 1415.6 163.5 1413.4 153.5 1405.7 143.5 1385.5 123.8 1379.5 113.6 1376.9 103.5 1376.1 91.5 1379 41.5 1435.5 41.5 1435.5 191.5ZM1201.5 94.6 1197.5 95.3 1193.5 92.8 1190.6 83.5 1191.7 67.5 1193.5 62.8 1197.5 59.7 1201.5 60.7 1204.2 63.5 1208.1 75.5 1207.1 87.5 1201.5 94.6ZM1127.5 90.1 1125 89.5 1123.4 85.5 1125 79.5 1127.5 78.5 1129.5 81.2 1130 85.5 1127.5 90.1ZM913.5 191.5 843.5 191.5 843.5 142.2 853.5 156.2 857.5 153.9 865.5 143.7 869.5 142.3 889.5 146.5 909.5 144.2 915.5 145.9 919.8 151.5 921.1 159.5 913.5 191.5ZM1177.5 191.5 1117.8 191.5 1121.5 183.1 1129.5 174.8 1139.5 169.2 1149.5 167.2 1157.5 169.2 1165.5 174.5 1175.6 185.5 1177.5 191.5ZM1023.5 191.5 992.9 191.5 994.5 187.5 999.5 182.4 1009.5 179.5 1015.5 180.7 1020.2 183.5 1023.5 187.9 1024.5 191.5 1023.5 191.5Z"/>
<path fill-rule="evenodd" fill="#efc47a" d="M1435.5 139.4 1425.5 138.2 1407.5 132.8 1387.5 121.8 1381.5 114.6 1378.2 105.5 1377 93.5 1380.2 41.5 1435.5 41.5 1435.5 139.4ZM1201.5 91.9 1195.5 92 1191.8 83.5 1192.8 69.5 1195.5 64 1197.5 62.9 1200.5 63.5 1203.5 66.6 1206.2 75.5 1205.7 85.5 1201.5 91.9ZM909.5 191.5 843.5 191.5 843.5 165.5 849.5 175 853.5 176.3 857.5 171.4 865.2 155.5 869.5 152 891.5 152.8 911.5 151.8 915.2 155.5 915.9 161.5 911.1 191.5 909.5 191.5ZM1171.5 191.5 1120.6 191.5 1123.5 184.9 1131.5 177.4 1141.5 172.2 1149.5 171 1157.5 173.2 1163.7 177.5 1172.1 187.5 1173.4 191.5 1171.5 191.5ZM1021.5 191.5 995.2 191.5 999.5 184.8 1003.5 182.5 1009.5 181.5 1017.5 184.2 1020.7 187.5 1021.5 191.5Z"/>
<path fill-rule="evenodd" fill="#eeb871" d="M1417.5 119.5 1403.5 121 1393.5 120.4 1385.5 116.8 1381.5 111.4 1378.9 103.5 1377.8 91.5 1381.3 57.5 1381.5 41.5 1435.5 41.5 1435.5 117.6 1417.5 119.5ZM1199.5 89.9 1195.5 88.8 1193 81.5 1193.5 73.5 1195.5 68.2 1197.5 66.6 1201.5 68.4 1204.4 77.5 1203.5 85.5 1199.5 89.9ZM907.5 191.5 858.8 191.5 863.6 173.5 869.1 163.5 875.5 160.3 889.5 159.1 901.5 160.6 906.9 165.5 908.8 175.5 908.5 191.5 907.5 191.5ZM1167.5 191.5 1123.7 191.5 1126.8 185.5 1133.5 179.8 1141.5 175.9 1149.5 174.6 1155.5 176.1 1163.2 181.5 1168.8 189.5 1169.2 191.5 1167.5 191.5ZM1019.5 191.5 997.4 191.5 1001.5 185.7 1009.5 183.5 1015.6 185.5 1019.5 191.5Z"/>
<path fill-rule="evenodd" fill="#ecab68" d="M1397.5 115.6 1391.5 116.3 1385.5 113.8 1381.5 108.1 1379.5 101.6 1379 81.5 1382.7 59.5 1383.1 41.5 1435.5 41.5 1435.5 102 1413.5 106.5 1397.5 115.6ZM1199.5 85.9 1196.8 85.5 1195.1 81.5 1195.5 74.9 1197.5 71.8 1199.5 72 1201.9 77.5 1201.5 82.9 1199.5 85.9ZM905.5 191.5 864.9 191.5 867.5 180 872.6 171.5 879.5 167.2 889.5 165.3 897.5 166.9 902.3 171.5 904.9 179.5 905.5 191.5ZM1163.5 191.5 1127.4 191.5 1129.3 187.5 1133.7 183.5 1141.5 179.4 1147.5 178.1 1153.5 178.9 1159.5 182.3 1165 189.5 1165.5 191.5 1163.5 191.5ZM1015.5 191.5 999.9 191.5 1003.5 186.9 1009.5 185.6 1015.5 188.4 1017.2 191.5 1015.5 191.5Z"/>
<path fill-rule="evenodd" fill="#eaa061" d="M1395.5 111.7 1389.5 112.7 1385.5 110.8 1381.9 105.5 1380.3 99.5 1380 81.5 1384.9 57.5 1385.2 41.5 1401.9 41.5 1402.3 57.5 1406.3 75.5 1406.6 91.5 1403.4 103.5 1399.5 108.9 1395.5 111.7ZM1435.5 85.8 1427 83.5 1420.8 75.5 1418.4 63.5 1418.1 41.5 1435.5 41.5 1435.5 85.8ZM901.5 191.5 870.2 191.5 872.3 183.5 876.4 177.5 881.8 173.5 889.5 171.6 895.5 173.1 899.5 177 902.8 187.5 903.1 191.5 901.5 191.5ZM1161.5 191.5 1131.7 191.5 1137.5 184.9 1147.5 181.5 1153.5 182.4 1157.5 184.8 1161.5 191.5ZM1013.5 191.5 1002.9 191.5 1007.5 188.1 1011.5 188.7 1013.5 191.5Z"/>
<path fill-rule="evenodd" fill="#e8955a" d="M1435.5 68.2 1431.5 65.5 1429.5 61.2 1428.6 41.5 1435.5 41.5 1435.5 68.2ZM1389.5 109.5 1385.5 107.8 1382.7 103.5 1380.8 87.5 1383.5 69.3 1387.5 60.5 1389.5 57.5 1391.5 57.4 1399.5 71.5 1401.3 91.5 1398.4 103.5 1395.1 107.5 1389.5 109.5ZM899.5 191.5 875.5 191.5 877.5 185.6 880.9 181.5 889.5 177.9 893.5 178.9 897.5 182.8 899.5 191.5ZM1157.5 191.5 1136.7 191.5 1140 187.5 1147.5 185 1155.4 187.5 1157.5 191.5Z"/>
<path fill-rule="evenodd" fill="#e48651" d="M1391.5 105.5 1387.5 105.8 1385.5 104.4 1383.5 101.1 1382.1 93.5 1383.5 75.5 1385.5 70.1 1389.5 66.7 1393.5 69.3 1395.5 73.1 1397.7 85.5 1397 97.5 1395.4 101.5 1391.5 105.5ZM895.5 191.5 881.4 191.5 883.5 187.2 889.5 184.5 893.5 186.2 895.5 191.5ZM1151.5 191.5 1144 191.5 1147.5 189.7 1151.5 191.5Z"/>
<path fill-rule="evenodd" fill="#e07848" d="M1389.5 101.8 1385.3 99.5 1383.6 89.5 1385.5 76.9 1387.5 73.8 1389.5 73.3 1393.3 79.5 1394.4 89.5 1393.3 97.5 1389.5 101.8Z"/>
<path fill-rule="evenodd" fill="#db6c44" d="M1387.5 93.9 1387.5 85.5 1389.5 86.5 1389.8 89.5 1389.5 93.1 1387.5 93.9Z"/>
</g>
<path d="M843.5 43.5V191.5H1434" fill="none" stroke="#3a3a3a" stroke-width="1.4"/>
<path d="M843.5 43.5h7" stroke="#3a3a3a" stroke-width="1.4"/>
<path d="M843.5 100h7" stroke="#3a3a3a" stroke-width="1.4"/>
<path d="M843.5 157.5h7" stroke="#3a3a3a" stroke-width="1.4"/>
<path d="M937.5 191.5v-7" stroke="#3a3a3a" stroke-width="1.4"/>
<path d="M1056 191.5v-7" stroke="#3a3a3a" stroke-width="1.4"/>
<path d="M1174 191.5v-7" stroke="#3a3a3a" stroke-width="1.4"/>
<path d="M1292.5 191.5v-7" stroke="#3a3a3a" stroke-width="1.4"/>
<path d="M1411 191.5v-7" stroke="#3a3a3a" stroke-width="1.4"/>
<rect x="1444" y="188.2" width="8.5" height="4.6" fill="#5a74b6"/>
<rect x="1444" y="183.8" width="8.5" height="4.6" fill="#6280bb"/>
<rect x="1444" y="179.5" width="8.5" height="4.6" fill="#6a8cc0"/>
<rect x="1444" y="175.1" width="8.5" height="4.6" fill="#7498c8"/>
<rect x="1444" y="170.8" width="8.5" height="4.6" fill="#7ea5cf"/>
<rect x="1444" y="166.4" width="8.5" height="4.6" fill="#88b0d6"/>
<rect x="1444" y="162.1" width="8.5" height="4.6" fill="#93bcdc"/>
<rect x="1444" y="157.7" width="8.5" height="4.6" fill="#9ec6e0"/>
<rect x="1444" y="153.4" width="8.5" height="4.6" fill="#a9cfe4"/>
<rect x="1444" y="149" width="8.5" height="4.6" fill="#b7d8e8"/>
<rect x="1444" y="144.7" width="8.5" height="4.6" fill="#c5e0ec"/>
<rect x="1444" y="140.3" width="8.5" height="4.6" fill="#d0e6f0"/>
<rect x="1444" y="136" width="8.5" height="4.6" fill="#dcedf4"/>
<rect x="1444" y="131.6" width="8.5" height="4.6" fill="#e6f2ea"/>
<rect x="1444" y="127.3" width="8.5" height="4.6" fill="#eff6e0"/>
<rect x="1444" y="122.9" width="8.5" height="4.6" fill="#f5f7d2"/>
<rect x="1444" y="118.6" width="8.5" height="4.6" fill="#fbf8c3"/>
<rect x="1444" y="114.2" width="8.5" height="4.6" fill="#f9f2b1"/>
<rect x="1444" y="109.9" width="8.5" height="4.6" fill="#f7ec9f"/>
<rect x="1444" y="105.5" width="8.5" height="4.6" fill="#f5e496"/>
<rect x="1444" y="101.2" width="8.5" height="4.6" fill="#f3db8d"/>
<rect x="1444" y="96.8" width="8.5" height="4.6" fill="#f1d084"/>
<rect x="1444" y="92.5" width="8.5" height="4.6" fill="#efc47a"/>
<rect x="1444" y="88.1" width="8.5" height="4.6" fill="#eeb871"/>
<rect x="1444" y="83.8" width="8.5" height="4.6" fill="#ecab68"/>
<rect x="1444" y="79.4" width="8.5" height="4.6" fill="#eaa061"/>
<rect x="1444" y="75.1" width="8.5" height="4.6" fill="#e8955a"/>
<rect x="1444" y="70.7" width="8.5" height="4.6" fill="#e48651"/>
<rect x="1444" y="66.4" width="8.5" height="4.6" fill="#e07848"/>
<rect x="1444" y="62" width="8.5" height="4.6" fill="#db6c44"/>
<rect x="1444" y="57.7" width="8.5" height="4.6" fill="#d6603f"/>
<rect x="1444" y="53.3" width="8.5" height="4.6" fill="#cf5536"/>
<rect x="1444" y="49" width="8.5" height="4.6" fill="#c84a2e"/>
<text x="806.2" y="226.9" font-size="37.6" textLength="80.7" lengthAdjust="spacingAndGlyphs" stroke="#000" stroke-width="0.55">10:00</text>
<text x="895.9" y="226.9" font-size="37.6" textLength="79.7" lengthAdjust="spacingAndGlyphs" stroke="#000" stroke-width="0.55">14:00</text>
<text x="993.9" y="226.9" font-size="37.6" textLength="79.7" lengthAdjust="spacingAndGlyphs" stroke="#000" stroke-width="0.55">18:00</text>
<text x="1084.7" y="226.9" font-size="37.6" textLength="79.9" lengthAdjust="spacingAndGlyphs" stroke="#000" stroke-width="0.55">22:00</text>
<text x="1179.8" y="226.9" font-size="37.6" textLength="79.1" lengthAdjust="spacingAndGlyphs" stroke="#000" stroke-width="0.55">02:00</text>
<text x="1276.4" y="226.9" font-size="37.6" textLength="79.5" lengthAdjust="spacingAndGlyphs" stroke="#000" stroke-width="0.55">06:00</text>
<text x="1371.8" y="226.9" font-size="37.6" textLength="79.8" lengthAdjust="spacingAndGlyphs" stroke="#000" stroke-width="0.55">10:00</text>
<text x="816.1" y="59.3" font-size="34.2" textLength="17.7" lengthAdjust="spacingAndGlyphs" stroke="#000" stroke-width="0.55">0</text>
<text x="808.2" y="116.6" font-size="34.2" textLength="28.3" lengthAdjust="spacingAndGlyphs" stroke="#000" stroke-width="0.55">-5</text>
<text x="796.3" y="169.7" font-size="34.2" textLength="45.9" lengthAdjust="spacingAndGlyphs" stroke="#000" stroke-width="0.55">-10</text>
<text x="1460.1" y="77.9" font-size="34.6" textLength="36.6" lengthAdjust="spacingAndGlyphs" stroke="#000" stroke-width="0.55">45</text>
<text x="1459.6" y="121.9" font-size="34.6" textLength="36.6" lengthAdjust="spacingAndGlyphs" stroke="#000" stroke-width="0.55">30</text>
<text x="1458.4" y="164.4" font-size="34.6" textLength="36.6" lengthAdjust="spacingAndGlyphs" stroke="#000" stroke-width="0.55">15</text>
<text x="1459.6" y="204.4" font-size="34.6" textLength="18.3" lengthAdjust="spacingAndGlyphs" stroke="#000" stroke-width="0.55">0</text>
<text x="836.1" y="26.8" font-size="32.0" textLength="138.7" lengthAdjust="spacingAndGlyphs" stroke="#000" stroke-width="0.55">Depth(m)</text>
<text x="1317.8" y="27.7" font-size="32.0" textLength="163.0" lengthAdjust="spacingAndGlyphs" stroke="#000" stroke-width="0.55">SSC(mg/L)</text>
<text x="843.4" y="73.9" font-size="33.0" font-weight="bold">(J)</text>
<clipPath id="cK"><path d="M840 322.5 847.5 322.9 855 323.2 862.5 323.5 870.1 323.8 877.6 324.1 885.1 324.3 892.6 324.6 900.1 324.8 907.6 325 915.1 325.2 922.6 325.4 930.2 325.5 937.7 325.7 945.2 325.8 952.7 325.9 960.2 326 967.7 326.1 975.2 326.2 982.7 326.2 990.3 326.3 997.8 326.4 1005.3 326.4 1012.8 326.4 1020.3 326.5 1027.8 326.5 1035.3 326.5 1042.8 326.5 1050.4 326.5 1057.9 326.5 1065.4 326.4 1072.9 326.2 1080.4 326 1087.9 325.8 1095.4 325.5 1102.9 325.1 1110.5 324.8 1118 324.4 1125.5 324 1133 323.6 1140.5 323.2 1148 322.8 1155.5 322.4 1163 322 1170.6 321.7 1178.1 321.3 1185.6 321 1193.1 320.7 1200.6 320.5 1208.1 320.3 1215.6 320.1 1223.1 320 1230.7 320 1238.2 320 1245.7 320 1253.2 320.1 1260.7 320.2 1268.2 320.3 1275.7 320.4 1283.2 320.5 1290.8 320.6 1298.3 320.8 1305.8 321 1313.3 321.2 1320.8 321.5 1328.3 321.7 1335.8 322 1343.3 322.3 1350.9 322.6 1358.4 322.9 1365.9 323.3 1373.4 323.7 1380.9 324.1 1388.4 324.5 1395.9 324.9 1403.4 325.4 1411 325.9 1418.5 326.4 1426 326.9 1433.5 327.5 1433.5 468.5 840 468.5Z"/></clipPath>
<g clip-path="url(#cK)">
<rect x="840.0" y="318.0" width="594.0" height="152.0" fill="#5a74b6"/>
<path fill-rule="evenodd" fill="#6280bb" d="M1434 470 840 470 840 318 1434 318 1434 470Z"/>
<path fill-rule="evenodd" fill="#6a8cc0" d="M1434 470 840 470 840 318 1434 318 1434 470Z"/>
<path fill-rule="evenodd" fill="#7498c8" d="M1434 470 840 470 840 318 1434 318 1434 470Z"/>
<path fill-rule="evenodd" fill="#7ea5cf" d="M1434 470 840 470 840 318 1434 318 1434 470Z"/>
<path fill-rule="evenodd" fill="#88b0d6" d="M1434 470 840 470 840 318 1434 318 1434 470ZM1140.6 364 1141.9 356 1140 351.2 1138 350.2 1135.3 354 1135.3 362 1138 365.8 1140.6 364Z"/>
<path fill-rule="evenodd" fill="#93bcdc" d="M1434 470 840 470 840 318 1434 318 1434 470ZM1140.2 372 1144.5 366 1145.7 356 1142.7 346 1138 342.4 1134.9 344 1132.6 348 1131.2 360 1134 369.6 1136.5 372 1140.2 372Z"/>
<path fill-rule="evenodd" fill="#9ec6e0" d="M1434 470 840 470 840 318 1434 318 1434 470ZM1141.9 376 1147.5 366 1148 352.9 1144 341.6 1140 337.8 1136 337.4 1132.5 340 1130 345.1 1128.6 362 1130.8 370 1134 375.2 1138 377.5 1141.9 376Z"/>
<path fill-rule="evenodd" fill="#a9cfe4" d="M1434 470 840 470 840 318 1434 318 1434 470ZM1142.6 380 1146.2 376 1149.6 368 1150.2 352 1148 343.8 1144 336.7 1140 333.6 1136 333 1130.6 336 1127.5 342 1125.7 352 1125.8 362 1128.7 372 1134 379.9 1138 381.8 1142.6 380Z"/>
<path fill-rule="evenodd" fill="#b7d8e8" d="M1434 470 840 470 840 318 1434 318 1434 470ZM1138.3 386 1144 383.3 1149.4 376 1152 368 1152.8 358 1151.5 348 1147.7 338 1142 330.9 1136 328.8 1130 330.8 1125.7 336 1123 346 1122.4 358 1123.4 366 1127.7 376 1134 384.3 1138.3 386Z"/>
<path fill-rule="evenodd" fill="#c5e0ec" d="M1434 470 840 470 840 318 1434 318 1434 470ZM1140.3 390 1147.8 384 1152 376.7 1154.7 366 1154.7 354 1151.6 342 1146 331.3 1140 325.6 1132 324 1126 326.9 1121.1 334 1118.7 346 1118.7 362 1121.8 372 1129.6 384 1136 389.9 1140.3 390Z"/>
<path fill-rule="evenodd" fill="#d0e6f0" d="M1434 470 840 470 840 318 978.3 318 980 327.2 985.4 332 1016 333 1024 332.6 1028 330.5 1030.4 326 1031.2 318 1118.4 318 1113.6 342 1114.2 366 1120.6 378 1132 391.7 1138 395.2 1144 392.5 1152 383.6 1155.8 374 1157.6 362 1157.2 354 1154.4 344 1140.4 318 1199.5 318 1201.7 328 1208.9 342 1214.7 358 1218 362.8 1222 364.5 1228.9 362 1232.7 354 1231.9 342 1226.7 318 1434 318 1434 470Z"/>
<path fill-rule="evenodd" fill="#dcedf4" d="M1434 470 840 470 840 318 971.4 318 974 334.8 978 343.2 982 347.7 990 350 1016 350.2 1026 349.5 1032 344.2 1035.7 332 1036.6 318 1108.4 318 1106 350 1108 370 1114.3 380 1124 388 1134 399.1 1138 400.4 1146 396.1 1154 387.6 1158.9 376 1161.3 364 1159.2 350 1144.7 318 1193.9 318 1192.2 344 1202 354.7 1212 371.1 1218 375.4 1224 376.3 1234 374.2 1243.1 370 1249.6 364 1252 358 1252.3 348 1250.1 338 1240 324.5 1237.6 318 1434 318 1434 470Z"/>
<path fill-rule="evenodd" fill="#e6f2ea" d="M1434 470 840 470 840 318 966.3 318 967 330 970 345.2 976 364.5 980 372.6 984 376.4 988 377.7 1016 378.1 1028 376.5 1034 368.8 1038.7 350 1040.1 318 1074.6 318 1075.5 330 1078 338.7 1090 357.1 1101.1 382 1108 387.8 1122 393.6 1132 403.7 1138 406 1144 403.4 1155.9 394 1168 374.4 1190 367.3 1198 369 1212 382.7 1222 386.6 1244 384.7 1268 378.6 1290 376.9 1296 371 1300 360.8 1300.7 318 1434 318 1434 470ZM1172 348.6 1166 349.5 1160 344.9 1150.4 328 1147.4 318 1191 318 1190 328 1186.7 336 1180 343.9 1172 348.6Z"/>
<path fill-rule="evenodd" fill="#eff6e0" d="M1434 470 840 470 840 318 961.4 318 966.6 384 968.5 394 971.3 400 976 404.3 982 406.4 1018 407.1 1028 406.6 1034 404.4 1038.9 400 1042.9 392 1046.4 364 1043.4 318 1068.3 318 1068.1 358 1070.2 368 1074.2 376 1092 399 1098 404.2 1104 405.3 1120 403 1136 411.8 1140 411.1 1159.2 402 1172 388.5 1192 385.2 1202 388.7 1216 401.6 1222 405.3 1288 411 1294 403.5 1308.6 366 1310 355.7 1310.1 318 1434 318 1434 470ZM1172 342.5 1166 343.6 1160 340.8 1153 330 1149.4 318 1188.8 318 1187.4 328 1184.2 334 1180 338.4 1172 342.5Z"/>
<path fill-rule="evenodd" fill="#f5f7d2" d="M1212 470 840 470 840 318 888.7 318 890 327.3 894 335.4 895.1 318 956.5 318 956.5 348 950.3 380 950.3 402 952.3 410 956 415.8 962 419.9 968.4 422 984 423.9 1028 423.6 1034 421.7 1052 410.4 1074 407 1082 409.1 1098 421.5 1104 422.3 1122 415.7 1136 417.7 1150 412.6 1160 412.4 1176 403.3 1190 402.1 1198 403.2 1206.3 410 1212.5 424 1213.7 444 1212 470ZM1056 342.9 1052 341.4 1050 338 1047.7 330 1046.9 318 1063.3 318 1061.6 334 1059 340 1056 342.9ZM1168 340 1162 339.1 1158 335.5 1152.8 326 1151.1 318 1186.9 318 1185.8 326 1182 333 1176 337.6 1168 340ZM1434 470 1275.7 470 1276.9 460 1280 451.3 1292 439.1 1297 430 1305.6 394 1313 372 1315 358 1315.2 318 1434 318 1434 470ZM911.6 376 914 374 914.6 370 910 355.3 906 347 896 336.7 896.1 356 898 368 904 375.3 911.6 376Z"/>
<path fill-rule="evenodd" fill="#fbf8c3" d="M1202 470 840 470 840 318 883 318 887.6 356 888.8 434 890 441 894 446.1 934 447.1 974 441.5 1028 440.8 1036 437.7 1052 425.2 1070 423.1 1080 424.5 1094 436.5 1102 439.4 1108 437.3 1124 426.9 1148 419.3 1164 423.1 1178 419.7 1194 418.2 1200 421.8 1203 430 1202 470ZM936 374.6 932 374.7 926 371.9 918.1 362 914.7 354 906.1 318 951.8 318 952.6 344 951 356 945 368 940 372.8 936 374.6ZM1054 321.5 1053.6 318 1055.9 318 1054 321.5ZM1172 336.7 1166 337.6 1160 335.1 1155.1 328 1152.6 318 1185.2 318 1184.5 324 1181.9 330 1178 333.9 1172 336.7ZM1434 470 1287 470 1288.7 464 1298 450 1302.1 440 1316.7 376 1318.7 360 1318.8 318 1434 318 1434 470Z"/>
<path fill-rule="evenodd" fill="#f9f2b1" d="M1184 470 840 470 840 318 879.7 318 883.9 356 884.4 440 887 454 892 460.9 898 462 934 462.1 980 459.1 1030 458.6 1039.2 456 1052 448 1062 446.3 1078 447.5 1092 455.9 1100 457.5 1106 454.8 1128 433.9 1140 427.7 1148 425.3 1154.7 428 1166 440 1180 451.5 1184 460.2 1185.1 470 1184 470ZM938 368.5 932 369.5 928 368.2 922.8 364 918.9 358 915.7 346 915.2 318 947.3 318 949.8 340 949.2 352 945.1 362 938 368.5ZM1172 334.6 1166 335.4 1160 332.7 1155.7 326 1154 318 1183.6 318 1181.1 328 1177.3 332 1172 334.6ZM1434 470 1298.3 470 1305.7 452 1309.8 438 1320.5 378 1322.2 360 1322.3 318 1356.6 318 1358 396 1360 395.7 1364.2 366 1364.4 318 1434 318 1434 470Z"/>
<path fill-rule="evenodd" fill="#f7ec9f" d="M884 470 840 470 840 318 877 318 881 354 881.3 436 882.3 452 885.5 470 884 470ZM936 366.1 932 366.5 926 363.9 921.1 358 918.6 352 917.9 338 922.7 318 942.4 318 947.5 338 947.6 350 943.8 360 936 366.1ZM1172 332.7 1166 333.5 1160 330.4 1156.4 324 1155.3 318 1182.1 318 1179.1 328 1172 332.7ZM1434 470 1309.5 470 1318.5 438 1321.4 422 1326.6 368 1327 318 1346 318 1346.6 404 1350.1 416 1354 420.4 1358 421.4 1362.3 418 1366 405 1371 362 1371.7 318 1434 318 1434 470ZM1166 470 1109.5 470 1114 460 1127.8 442 1136 435.2 1146 431.1 1152 432.9 1158.6 442 1165.2 460 1166.9 468 1167 470 1166 470Z"/>
<path fill-rule="evenodd" fill="#f5e496" d="M880 470 840 470 840 318 874.3 318 878.7 356 880 470ZM1174 330.1 1168 331.7 1162 330 1158 324.5 1156.7 318 1180.6 318 1178.4 326 1174 330.1ZM1434 470 1321.2 470 1324 460 1330 451.3 1336 447.7 1360 439.1 1366 429.6 1368.5 418 1374.8 364 1377.2 318 1434 318 1434 470ZM934 364.3 928 362.9 924 359.4 920.2 352 919.1 344 920.3 336 924 327.2 930 320.8 934 319.7 938 322.5 942.9 330 945.6 338 946.5 346 943 358 938 363 934 364.3ZM1160 470 1117.2 470 1121.1 460 1130.7 446 1138 439.4 1146 436.4 1152 439.3 1157 448 1161.4 464 1162 470 1160 470Z"/>
<path fill-rule="evenodd" fill="#f3db8d" d="M876 470 840 470 840 318 871.5 318 876.3 358 877.4 470 876 470ZM1174 328.1 1168 329.9 1164 329.1 1160 325.2 1158.1 318 1179 318 1177.6 324 1174 328.1ZM1434 470 1333.5 470 1338 463.6 1360 457.4 1366 450.1 1369.4 442 1372 428.6 1374.1 392 1382.8 318 1434 318 1434 470ZM934 362.4 930 361.9 924.8 358 921.6 352 920.6 346 921.4 338 924 332 928 327.4 932 325.7 936 326.4 940 329.9 943.3 336 945 344 942.5 356 938 360.9 934 362.4ZM1158 470 1122.6 470 1125.2 462 1132.6 450 1140 443.4 1146 441.6 1150 443.3 1154.5 450 1158.7 464 1159.3 470 1158 470Z"/>
<path fill-rule="evenodd" fill="#f1d084" d="M874 470 840 470 840 318 868.5 318 873.9 358 875.2 404 874 470ZM1172 327 1168 328 1164 326.9 1161.3 324 1159.7 318 1177.3 318 1175.5 324 1172 327ZM1434 470 1366.1 470 1376.3 438 1378 391.7 1383.3 344 1388.2 318 1434 318 1434 470ZM936 360.1 932 360.7 926.7 358 923.8 354 922 348 922 342 924 335.7 928 330.6 932 328.9 936 329.6 938.9 332 943.5 342 943.7 348 942 354 936 360.1ZM1156 470 1126.8 470 1129.2 462 1134.2 454 1140 448.5 1146 446.7 1150 448.8 1154 455.6 1156.8 466 1157.2 470 1156 470Z"/>
<path fill-rule="evenodd" fill="#efc47a" d="M870 470 840 470 840 318 865.2 318 870.7 350 873.3 400 871.5 432 871.4 470 870 470ZM1172 324.5 1168 325.8 1164 324.2 1161.5 318 1175.3 318 1172 324.5ZM1434 470 1372.4 470 1382.6 436 1383.1 394 1385.5 354 1393.2 318 1434 318 1434 470ZM936 358.5 932 359.1 928 357.3 925.2 354 923.1 348 924.5 338 928 333.2 932 331.4 938 333.6 942.2 342 941.5 352 936 358.5ZM1154 470 1130.3 470 1131.9 464 1136 457.4 1142 452.3 1146 451.6 1150 454.1 1152.3 458 1155.1 468 1155.3 470 1154 470Z"/>
<path fill-rule="evenodd" fill="#eeb871" d="M868 470 840 470 840 318 861.3 318 866.8 344 871.5 402 868.7 430 868 470ZM1170 322.3 1166 322.1 1164 318 1172.6 318 1170 322.3ZM1434 470 1377.7 470 1389.7 438 1390.3 400 1388.9 358 1390.9 344 1397.1 326 1398.3 318 1434 318 1434 470ZM936 356.8 932 357.6 928.6 356 924.3 348 926 338.1 932 333.5 938 336 941.3 344 940.2 352 936 356.8ZM1152 470 1133.6 470 1138 460.5 1142 457.2 1146 456.4 1151.4 462 1153.3 470 1152 470Z"/>
<path fill-rule="evenodd" fill="#ecab68" d="M864 470 840 470 840 318 855.7 318 864 348.3 865.5 376 869.6 404 865.6 430 865 470 864 470ZM1434 470 1384.6 470 1386 465.8 1395.6 454 1399.4 442 1400 400 1393.9 374 1393 358 1395.4 344 1403.1 326 1404.8 318 1434 318 1434 470ZM932 356 926.9 352 925.3 346 927.8 338 932 335.4 938 338.5 940.3 346 938 353.2 932 356ZM1150 470 1137.2 470 1140 463.9 1146 461.3 1150 465.3 1151.1 470 1150 470Z"/>
<path fill-rule="evenodd" fill="#eaa061" d="M860 470 840 470 840 330.1 848 330.1 852 332.1 857.9 342 860.6 354 862 378 867.3 398 867.1 410 861.6 432 861 470 860 470ZM1418 386 1410 385.5 1404 380.9 1400 373.6 1398 364 1398.6 352 1402 341.2 1408 333.1 1414 330.9 1422 332.5 1426.8 336 1430.4 342 1434 353.6 1434 366.8 1430.5 376 1426 382.5 1418 386ZM934 354.3 930 353.6 926.7 348 928 340.3 932 337.3 936 338.6 938.8 344 938 350.7 934 354.3ZM1146 470 1142.4 470 1144 467.7 1146 467.7 1147.3 470 1146 470Z"/>
<path fill-rule="evenodd" fill="#e8955a" d="M934 352.5 930 351.5 928.1 348 928.9 342 932 339.4 936 341.1 937.4 344 936.7 350 934 352.5ZM1418 370.1 1414 371.7 1410 371 1405.3 364 1406 352.7 1408 348.7 1412 345.9 1418 348.2 1421.6 356 1421.6 364 1418 370.1ZM854 470 840 470 840 348.1 848 347 852 349.2 854 353.3 856.9 378 864 393.7 865.6 402 864.3 412 856.2 432 855.3 470 854 470Z"/>
<path fill-rule="evenodd" fill="#e48651" d="M934 350.1 932 350.3 929.9 348 929.9 344 932 341.8 934 342.1 936 346 934 350.1ZM852 420.8 840 421.2 840 368 845.6 372 850.8 382 860 392.4 862.6 398 863.3 404 862 410.5 858 416.8 852 420.8Z"/>
<path fill-rule="evenodd" fill="#e07848" d="M854 412.1 840 407.4 840 387 847.1 392 856 394.9 858.8 398 860 406 858 409.9 854 412.1Z"/>
</g>
<path d="M840 320V468.5H1433.5" fill="none" stroke="#3a3a3a" stroke-width="1.4"/>
<path d="M840 320h7" stroke="#3a3a3a" stroke-width="1.4"/>
<path d="M840 379h7" stroke="#3a3a3a" stroke-width="1.4"/>
<path d="M840 431h7" stroke="#3a3a3a" stroke-width="1.4"/>
<path d="M935 468.5v-7" stroke="#3a3a3a" stroke-width="1.4"/>
<path d="M1029 468.5v-7" stroke="#3a3a3a" stroke-width="1.4"/>
<path d="M1124 468.5v-7" stroke="#3a3a3a" stroke-width="1.4"/>
<path d="M1219 468.5v-7" stroke="#3a3a3a" stroke-width="1.4"/>
<path d="M1314 468.5v-7" stroke="#3a3a3a" stroke-width="1.4"/>
<path d="M1410 468.5v-7" stroke="#3a3a3a" stroke-width="1.4"/>
<rect x="1444" y="468" width="9.5" height="4.8" fill="#5a74b6"/>
<rect x="1444" y="463.4" width="9.5" height="4.8" fill="#6280bb"/>
<rect x="1444" y="458.9" width="9.5" height="4.8" fill="#6a8cc0"/>
<rect x="1444" y="454.3" width="9.5" height="4.8" fill="#7498c8"/>
<rect x="1444" y="449.8" width="9.5" height="4.8" fill="#7ea5cf"/>
<rect x="1444" y="445.2" width="9.5" height="4.8" fill="#88b0d6"/>
<rect x="1444" y="440.7" width="9.5" height="4.8" fill="#93bcdc"/>
<rect x="1444" y="436.1" width="9.5" height="4.8" fill="#9ec6e0"/>
<rect x="1444" y="431.6" width="9.5" height="4.8" fill="#a9cfe4"/>
<rect x="1444" y="427" width="9.5" height="4.8" fill="#b7d8e8"/>
<rect x="1444" y="422.5" width="9.5" height="4.8" fill="#c5e0ec"/>
<rect x="1444" y="418" width="9.5" height="4.8" fill="#d0e6f0"/>
<rect x="1444" y="413.4" width="9.5" height="4.8" fill="#dcedf4"/>
<rect x="1444" y="408.9" width="9.5" height="4.8" fill="#e6f2ea"/>
<rect x="1444" y="404.3" width="9.5" height="4.8" fill="#eff6e0"/>
<rect x="1444" y="399.8" width="9.5" height="4.8" fill="#f5f7d2"/>
<rect x="1444" y="395.2" width="9.5" height="4.8" fill="#fbf8c3"/>
<rect x="1444" y="390.7" width="9.5" height="4.8" fill="#f9f2b1"/>
<rect x="1444" y="386.1" width="9.5" height="4.8" fill="#f7ec9f"/>
<rect x="1444" y="381.6" width="9.5" height="4.8" fill="#f5e496"/>
<rect x="1444" y="377" width="9.5" height="4.8" fill="#f3db8d"/>
<rect x="1444" y="372.5" width="9.5" height="4.8" fill="#f1d084"/>
<rect x="1444" y="368" width="9.5" height="4.8" fill="#efc47a"/>
<rect x="1444" y="363.4" width="9.5" height="4.8" fill="#eeb871"/>
<rect x="1444" y="358.9" width="9.5" height="4.8" fill="#ecab68"/>
<rect x="1444" y="354.3" width="9.5" height="4.8" fill="#eaa061"/>
<rect x="1444" y="349.8" width="9.5" height="4.8" fill="#e8955a"/>
<rect x="1444" y="345.2" width="9.5" height="4.8" fill="#e48651"/>
<rect x="1444" y="340.7" width="9.5" height="4.8" fill="#e07848"/>
<rect x="1444" y="336.1" width="9.5" height="4.8" fill="#db6c44"/>
<rect x="1444" y="331.6" width="9.5" height="4.8" fill="#d6603f"/>
<rect x="1444" y="327" width="9.5" height="4.8" fill="#cf5536"/>
<rect x="1444" y="322.5" width="9.5" height="4.8" fill="#c84a2e"/>
<text x="797.8" y="500.9" font-size="37.6" textLength="81.1" lengthAdjust="spacingAndGlyphs" stroke="#000" stroke-width="0.55">10:00</text>
<text x="886.5" y="500.9" font-size="37.6" textLength="80.7" lengthAdjust="spacingAndGlyphs" stroke="#000" stroke-width="0.55">14:00</text>
<text x="984.6" y="500.9" font-size="37.6" textLength="79.7" lengthAdjust="spacingAndGlyphs" stroke="#000" stroke-width="0.55">18:00</text>
<text x="1074.0" y="500.9" font-size="37.6" textLength="80.3" lengthAdjust="spacingAndGlyphs" stroke="#000" stroke-width="0.55">22:00</text>
<text x="1170.5" y="500.9" font-size="37.6" textLength="79.5" lengthAdjust="spacingAndGlyphs" stroke="#000" stroke-width="0.55">02:00</text>
<text x="1265.8" y="500.9" font-size="37.6" textLength="79.9" lengthAdjust="spacingAndGlyphs" stroke="#000" stroke-width="0.55">06:00</text>
<text x="1361.5" y="500.9" font-size="37.6" textLength="80.7" lengthAdjust="spacingAndGlyphs" stroke="#000" stroke-width="0.55">10:00</text>
<text x="812.6" y="332.8" font-size="34.2" textLength="17.7" lengthAdjust="spacingAndGlyphs" stroke="#000" stroke-width="0.55">0</text>
<text x="804.7" y="391.8" font-size="34.2" textLength="28.3" lengthAdjust="spacingAndGlyphs" stroke="#000" stroke-width="0.55">-5</text>
<text x="792.8" y="443.8" font-size="34.2" textLength="45.9" lengthAdjust="spacingAndGlyphs" stroke="#000" stroke-width="0.55">-10</text>
<text x="1459.4" y="361.9" font-size="34.6" textLength="36.6" lengthAdjust="spacingAndGlyphs" stroke="#000" stroke-width="0.55">10</text>
<text x="1460.6" y="420.4" font-size="34.6" textLength="18.3" lengthAdjust="spacingAndGlyphs" stroke="#000" stroke-width="0.55">5</text>
<text x="1460.6" y="476.9" font-size="34.6" textLength="18.3" lengthAdjust="spacingAndGlyphs" stroke="#000" stroke-width="0.55">0</text>
<text x="838.7" y="308.4" font-size="32.7" textLength="138.8" lengthAdjust="spacingAndGlyphs" stroke="#000" stroke-width="0.55">Depth(m)</text>
<text x="1319.6" y="308.4" font-size="30.9" textLength="162.5" lengthAdjust="spacingAndGlyphs" stroke="#000" stroke-width="0.55">SSC(mg/L)</text>
<text x="839.4" y="349.9" font-size="33.0" font-weight="bold">(K)</text>
<clipPath id="cL"><path d="M839 580 846.4 580.4 853.9 580.9 861.3 581.3 868.7 581.6 876.2 582 883.6 582.3 891 582.6 898.4 582.9 905.9 583.1 913.3 583.3 920.7 583.6 928.2 583.7 935.6 583.9 943 584.1 950.5 584.2 957.9 584.4 965.3 584.5 972.7 584.6 980.2 584.7 987.6 584.7 995 584.8 1002.5 584.8 1009.9 584.9 1017.3 584.9 1024.8 585 1032.2 585 1039.6 585 1047.1 585 1054.5 585 1061.9 585 1069.3 584.9 1076.8 584.8 1084.2 584.5 1091.6 584.3 1099.1 583.9 1106.5 583.5 1113.9 583.1 1121.4 582.6 1128.8 582.2 1136.2 581.7 1143.6 581.2 1151.1 580.7 1158.5 580.3 1165.9 579.9 1173.4 579.5 1180.8 579.1 1188.2 578.9 1195.7 578.7 1203.1 578.5 1210.5 578.5 1217.9 578.5 1225.4 578.5 1232.8 578.6 1240.2 578.6 1247.7 578.7 1255.1 578.7 1262.5 578.8 1270 578.9 1277.4 579.1 1284.8 579.2 1292.3 579.4 1299.7 579.5 1307.1 579.7 1314.5 580 1322 580.2 1329.4 580.5 1336.8 580.7 1344.3 581 1351.7 581.4 1359.1 581.7 1366.6 582.1 1374 582.5 1381.4 582.9 1388.8 583.4 1396.3 583.8 1403.7 584.3 1411.1 584.9 1418.6 585.4 1426 586 1426 719 839 719Z"/></clipPath>
<g clip-path="url(#cL)">
<rect x="839.0" y="576.5" width="588.0" height="144.0" fill="#5a74b6"/>
<path fill-rule="evenodd" fill="#6280bb" d="M1427 720.5 839 720.5 839 576.5 1427 576.5 1427 720.5Z"/>
<path fill-rule="evenodd" fill="#6a8cc0" d="M1427 720.5 839 720.5 839 576.5 1427 576.5 1427 720.5Z"/>
<path fill-rule="evenodd" fill="#7498c8" d="M1427 720.5 839 720.5 839 586.8 883 590.8 887 589.9 892 586.5 895 582.5 896.7 576.5 946.1 576.5 948.7 582.5 953 585.5 979 593.9 984.4 592.5 988.5 588.5 991.1 576.5 1110.5 576.5 1112 582.5 1115 586 1125 588.6 1147 586.1 1152.2 582.5 1154.9 576.5 1276.4 576.5 1280.2 582.5 1287 585.4 1329 588.2 1335 587.6 1341 584.9 1344.4 580.5 1345.4 576.5 1427 576.5 1427 720.5Z"/>
<path fill-rule="evenodd" fill="#7ea5cf" d="M1427 720.5 839 720.5 839 603.8 885 607.5 891 604.6 907 589.8 915 587.5 927 587 941 590 961 598.5 977 608.9 983 610.3 1005 605.5 1025 603.6 1073 605.2 1097 603.1 1117 605.3 1141 604.4 1153 602.4 1171 595.9 1201 594.7 1259 595.2 1285 602.4 1307 605 1337 605.6 1351 602.9 1359 598.3 1363.6 590.5 1365.3 576.5 1392.6 576.5 1394 588.5 1399 596.6 1407 599.8 1427 601.1 1427 720.5Z"/>
<path fill-rule="evenodd" fill="#88b0d6" d="M1427 720.5 839 720.5 839 627.8 855.5 624.5 887 621 893 616.9 909 600.7 917 597.9 929 596.5 939 597.8 955.1 604.5 979 621.4 1023 627.1 1049 627.4 1079 625 1101 627.2 1121 631.6 1147 630.2 1169 631.7 1197 629.9 1281 629.8 1303 623.5 1317 622.8 1357 625.5 1365 628.1 1377 635 1383 636.4 1427 634.7 1427 720.5Z"/>
<path fill-rule="evenodd" fill="#93bcdc" d="M1427 720.5 839 720.5 839 659.7 859.5 642.5 891 630.5 911 610.7 919 607.1 929 605.1 939 606.1 953 611.8 973 626.9 981 630.7 1031 643.4 1051 642.9 1071 636.5 1083 637.1 1099 643.7 1117 657.1 1143 664.7 1161 659.4 1169 658.5 1177 659.5 1193 664.2 1227 661.9 1263 664.4 1287 657.1 1303 643.5 1309 640.8 1351 641.4 1361.7 644.5 1375 656.6 1381 659.7 1411 660.8 1427 665.2 1427 720.5Z"/>
<path fill-rule="evenodd" fill="#9ec6e0" d="M1201 720.5 839 720.5 839 690.2 854.7 666.5 864.6 656.5 893 639.8 915 619 925 614.6 935 613.8 951 619.2 975 635.7 1004.7 646.5 1021 656.7 1027 659 1049 658.8 1055 656.7 1071 647.2 1077 646.8 1083 648.5 1125 677.7 1139 694.4 1143 696.9 1149 694.2 1157.3 682.5 1163 677.1 1167 675.6 1172.5 676.5 1179 681.9 1197 704.6 1201 713.7 1201.9 720.5 1201 720.5ZM1427 720.5 1253 720.5 1254.1 712.5 1257.7 704.5 1277 682.3 1305 660.1 1317 657.7 1355 659.4 1361 662.2 1373 672.9 1379 675.9 1405 676.2 1412.1 678.5 1427 694.8 1427 720.5Z"/>
<path fill-rule="evenodd" fill="#a9cfe4" d="M1129 720.5 841 720.5 851.7 692.5 865 672.5 897 646.8 917 628.5 925 623.9 933 622.4 943 624.3 955 629.8 977 644.6 1001 657.2 1019 671.9 1027 675.7 1049 674.7 1055 672.3 1071 660.6 1075 659.9 1081 661.5 1104.8 680.5 1117 692.6 1127.8 710.5 1130.8 720.5 1129 720.5ZM1415 720.5 1269 720.5 1274.9 706.5 1287 691.2 1303 678 1309 675.7 1315 675.2 1357 677.6 1377 689.2 1399 695.6 1405 699.3 1411 706.5 1414.8 714.5 1415 720.5ZM1181 720.5 1156.7 720.5 1161.7 706.5 1165 702.2 1169 700.7 1173 703 1177 708.5 1180.9 716.5 1181 720.5Z"/>
<path fill-rule="evenodd" fill="#b7d8e8" d="M1109 720.5 850.3 720.5 852.2 712.5 859 698.5 875.5 676.5 919 637.5 927 632.8 933 631.5 945 633.8 961 641.7 1001 672.8 1017 688.1 1025 692.2 1045 696.3 1051 696 1055 693.5 1069 678.3 1073 676.4 1079 677.1 1087.9 684.5 1101.4 702.5 1108.2 714.5 1109 720.5ZM1405 720.5 1280.6 720.5 1282.8 714.5 1287 709 1305 694.4 1315 691.7 1349 689.8 1359 690.9 1375.5 698.5 1395 705.2 1403.7 712.5 1405.8 718.5 1405 720.5Z"/>
<path fill-rule="evenodd" fill="#c5e0ec" d="M1037 720.5 858.8 720.5 861 713.3 867 703.2 893.4 668.5 921 645.2 929 641.1 935 640.3 949 643.8 963 651.5 972 660.5 987 681.1 1005 699.6 1015 706.7 1033 712.9 1037 717.2 1038.1 720.5 1037 720.5ZM1399 720.5 1298.5 720.5 1303 714.2 1315 707.2 1337 701.1 1355 698.8 1379 703.1 1391 707.1 1396.4 710.5 1399.7 714.5 1401 720.5 1399 720.5ZM1087 720.5 1062.4 720.5 1067 707.1 1071 702.3 1075 700.7 1079 702.3 1084.1 708.5 1087.5 716.5 1088.1 720.5 1087 720.5Z"/>
<path fill-rule="evenodd" fill="#d0e6f0" d="M987 720.5 869.5 720.5 871.6 714.5 890.5 682.5 899.3 670.5 921 652.7 929 648.8 935 648 945 649.9 955 654.2 961.4 658.5 967.1 664.5 972.7 674.5 987.3 712.5 988.9 720.5 987 720.5ZM1397 720.5 1321.4 720.5 1325.4 714.5 1335 708.3 1347 704 1359 702.6 1373 703.9 1387 707.6 1394.6 712.5 1397 716.5 1397 720.5Z"/>
<path fill-rule="evenodd" fill="#dcedf4" d="M975 720.5 881.2 720.5 891.9 692.5 901 676.5 909 668.1 921 658.6 929 654.9 935 654.2 943 655.6 953 659.7 959.7 664.5 964.5 670.5 969.7 684.5 975 720.5ZM1395 720.5 1331.4 720.5 1334 714.5 1341 709.2 1351 705.6 1361 704.5 1375 705.8 1387 709.4 1393.4 714.5 1395 720.5Z"/>
<path fill-rule="evenodd" fill="#e6f2ea" d="M965 720.5 888.8 720.5 895.8 696.5 905.6 678.5 921 663.8 929 659.9 935 659.3 943 660.8 951 664.5 957 669.2 961 674.7 963.8 682.5 965.2 692.5 966.7 720.5 965 720.5ZM1391 720.5 1336.3 720.5 1338.6 714.5 1343.4 710.5 1351 707.4 1363 705.8 1377 707.3 1386.1 710.5 1392.1 716.5 1392.9 720.5 1391 720.5Z"/>
<path fill-rule="evenodd" fill="#eff6e0" d="M959 720.5 894 720.5 899.2 700.5 909.7 680.5 923 667.2 929 664.4 935 663.8 941 664.9 948.6 668.5 953.3 672.5 957.2 678.5 959.8 694.5 960.3 720.5 959 720.5ZM1389 720.5 1339.6 720.5 1341.9 714.5 1347.1 710.5 1355 707.8 1365 706.9 1375 707.9 1385 711.3 1390.1 716.5 1390.9 720.5 1389 720.5Z"/>
<path fill-rule="evenodd" fill="#f5f7d2" d="M955 720.5 898.5 720.5 901.8 706.5 908.9 690.5 916.5 678.5 925 670.6 931 668.3 939 668.8 946.3 672.5 951.6 678.5 954.6 690.5 955 720.5ZM1389 720.5 1342.2 720.5 1344.6 714.5 1349 711.2 1355 709 1365 707.8 1375 708.9 1383 711.5 1387 714.5 1389 720.5Z"/>
<path fill-rule="evenodd" fill="#fbf8c3" d="M951 720.5 903 720.5 905.8 708.5 913.9 690.5 920 680.5 927 674.3 931 672.7 937 672.9 943 675.8 947.2 680.5 950.3 692.5 951 720.5ZM1387 720.5 1344.4 720.5 1345.5 716.5 1349.3 712.5 1357 709.5 1365 708.7 1375 709.7 1382.6 712.5 1386.6 716.5 1387 720.5Z"/>
<path fill-rule="evenodd" fill="#f9f2b1" d="M947 720.5 907.7 720.5 910 710.5 917.8 692.5 923 683.7 929 678.5 937 678.1 941 680.7 943.7 684.5 947.1 700.5 948 720.5 947 720.5ZM1385 720.5 1346.4 720.5 1347.5 716.5 1351.8 712.5 1365 709.5 1380.4 712.5 1384.9 716.5 1386 720.5 1385 720.5Z"/>
<path fill-rule="evenodd" fill="#f7ec9f" d="M943 720.5 913.1 720.5 915.3 710.5 921 696.6 925.9 688.5 931 684.4 937 685.4 941.3 692.5 944.3 710.5 944.6 720.5 943 720.5ZM1383 720.5 1348.2 720.5 1349.4 716.5 1353 713.2 1365 710.3 1379 712.9 1383.3 716.5 1384.5 720.5 1383 720.5Z"/>
<path fill-rule="evenodd" fill="#f5e496" d="M939 720.5 919 720.5 923 705.1 927 698 931 694.5 935 695.3 939 703.2 940.9 720.5 939 720.5ZM1381 720.5 1350 720.5 1351.2 716.5 1355 713.3 1367 711 1375 712.2 1379.8 714.5 1382.6 718.5 1383 720.5 1381 720.5Z"/>
<path fill-rule="evenodd" fill="#f3db8d" d="M935 720.5 926.8 720.5 928.1 714.5 931 710.5 933.6 712.5 935 720.5ZM1381 720.5 1351.7 720.5 1355.1 714.5 1367 711.8 1377.9 714.5 1380.1 716.5 1381 720.5Z"/>
<path fill-rule="evenodd" fill="#f1d084" d="M1379 720.5 1353.3 720.5 1354.8 716.5 1357.3 714.5 1367 712.5 1375.8 714.5 1379.5 718.5 1380 720.5 1379 720.5Z"/>
<path fill-rule="evenodd" fill="#efc47a" d="M1377 720.5 1355 720.5 1356.8 716.5 1359 715 1367 713.4 1373 714.4 1376.6 716.5 1378.4 720.5 1377 720.5Z"/>
<path fill-rule="evenodd" fill="#eeb871" d="M1375 720.5 1356.8 720.5 1359 716.4 1367 714.3 1374.5 716.5 1376.7 720.5 1375 720.5Z"/>
<path fill-rule="evenodd" fill="#ecab68" d="M1373 720.5 1358.8 720.5 1361.7 716.5 1367 715.5 1373 717.4 1374.8 720.5 1373 720.5Z"/>
<path fill-rule="evenodd" fill="#eaa061" d="M1371 720.5 1361.2 720.5 1363 718 1367 716.9 1371.4 718.5 1372.4 720.5 1371 720.5Z"/>
</g>
<path d="M839 579V719H1426" fill="none" stroke="#3a3a3a" stroke-width="1.4"/>
<path d="M839 579h7" stroke="#3a3a3a" stroke-width="1.4"/>
<path d="M839 634h7" stroke="#3a3a3a" stroke-width="1.4"/>
<path d="M839 685h7" stroke="#3a3a3a" stroke-width="1.4"/>
<path d="M932.5 719v-7" stroke="#3a3a3a" stroke-width="1.4"/>
<path d="M1026.5 719v-7" stroke="#3a3a3a" stroke-width="1.4"/>
<path d="M1121 719v-7" stroke="#3a3a3a" stroke-width="1.4"/>
<path d="M1215 719v-7" stroke="#3a3a3a" stroke-width="1.4"/>
<path d="M1309 719v-7" stroke="#3a3a3a" stroke-width="1.4"/>
<path d="M1403.5 719v-7" stroke="#3a3a3a" stroke-width="1.4"/>
<rect x="1436.7" y="716.9" width="8.7" height="4.4" fill="#5a74b6"/>
<rect x="1436.7" y="712.8" width="8.7" height="4.4" fill="#6280bb"/>
<rect x="1436.7" y="708.7" width="8.7" height="4.4" fill="#6a8cc0"/>
<rect x="1436.7" y="704.6" width="8.7" height="4.4" fill="#7498c8"/>
<rect x="1436.7" y="700.5" width="8.7" height="4.4" fill="#7ea5cf"/>
<rect x="1436.7" y="696.4" width="8.7" height="4.4" fill="#88b0d6"/>
<rect x="1436.7" y="692.3" width="8.7" height="4.4" fill="#93bcdc"/>
<rect x="1436.7" y="688.2" width="8.7" height="4.4" fill="#9ec6e0"/>
<rect x="1436.7" y="684" width="8.7" height="4.4" fill="#a9cfe4"/>
<rect x="1436.7" y="679.9" width="8.7" height="4.4" fill="#b7d8e8"/>
<rect x="1436.7" y="675.8" width="8.7" height="4.4" fill="#c5e0ec"/>
<rect x="1436.7" y="671.7" width="8.7" height="4.4" fill="#d0e6f0"/>
<rect x="1436.7" y="667.6" width="8.7" height="4.4" fill="#dcedf4"/>
<rect x="1436.7" y="663.5" width="8.7" height="4.4" fill="#e6f2ea"/>
<rect x="1436.7" y="659.4" width="8.7" height="4.4" fill="#eff6e0"/>
<rect x="1436.7" y="655.3" width="8.7" height="4.4" fill="#f5f7d2"/>
<rect x="1436.7" y="651.2" width="8.7" height="4.4" fill="#fbf8c3"/>
<rect x="1436.7" y="647.1" width="8.7" height="4.4" fill="#f9f2b1"/>
<rect x="1436.7" y="643" width="8.7" height="4.4" fill="#f7ec9f"/>
<rect x="1436.7" y="638.9" width="8.7" height="4.4" fill="#f5e496"/>
<rect x="1436.7" y="634.8" width="8.7" height="4.4" fill="#f3db8d"/>
<rect x="1436.7" y="630.7" width="8.7" height="4.4" fill="#f1d084"/>
<rect x="1436.7" y="626.6" width="8.7" height="4.4" fill="#efc47a"/>
<rect x="1436.7" y="622.5" width="8.7" height="4.4" fill="#eeb871"/>
<rect x="1436.7" y="618.3" width="8.7" height="4.4" fill="#ecab68"/>
<rect x="1436.7" y="614.2" width="8.7" height="4.4" fill="#eaa061"/>
<rect x="1436.7" y="610.1" width="8.7" height="4.4" fill="#e8955a"/>
<rect x="1436.7" y="606" width="8.7" height="4.4" fill="#e48651"/>
<rect x="1436.7" y="601.9" width="8.7" height="4.4" fill="#e07848"/>
<rect x="1436.7" y="597.8" width="8.7" height="4.4" fill="#db6c44"/>
<rect x="1436.7" y="593.7" width="8.7" height="4.4" fill="#d6603f"/>
<rect x="1436.7" y="589.6" width="8.7" height="4.4" fill="#cf5536"/>
<rect x="1436.7" y="585.5" width="8.7" height="4.4" fill="#c84a2e"/>
<text x="799.3" y="751.9" font-size="37.6" textLength="79.7" lengthAdjust="spacingAndGlyphs" stroke="#000" stroke-width="0.55">10:00</text>
<text x="887.8" y="751.9" font-size="37.6" textLength="80.7" lengthAdjust="spacingAndGlyphs" stroke="#000" stroke-width="0.55">14:00</text>
<text x="985.9" y="751.9" font-size="37.6" textLength="79.8" lengthAdjust="spacingAndGlyphs" stroke="#000" stroke-width="0.55">18:00</text>
<text x="1076.8" y="751.9" font-size="37.6" textLength="79.9" lengthAdjust="spacingAndGlyphs" stroke="#000" stroke-width="0.55">22:00</text>
<text x="1172.4" y="751.9" font-size="37.6" textLength="79.9" lengthAdjust="spacingAndGlyphs" stroke="#000" stroke-width="0.55">02:00</text>
<text x="1268.5" y="751.9" font-size="37.6" textLength="79.5" lengthAdjust="spacingAndGlyphs" stroke="#000" stroke-width="0.55">06:00</text>
<text x="1363.8" y="751.9" font-size="37.6" textLength="80.7" lengthAdjust="spacingAndGlyphs" stroke="#000" stroke-width="0.55">10:00</text>
<text x="811.6" y="591.8" font-size="34.2" textLength="17.7" lengthAdjust="spacingAndGlyphs" stroke="#000" stroke-width="0.55">0</text>
<text x="803.7" y="646.8" font-size="34.2" textLength="28.3" lengthAdjust="spacingAndGlyphs" stroke="#000" stroke-width="0.55">-5</text>
<text x="791.8" y="697.8" font-size="34.2" textLength="45.9" lengthAdjust="spacingAndGlyphs" stroke="#000" stroke-width="0.55">-10</text>
<text x="1452.5" y="623.7" font-size="34.6" textLength="36.6" lengthAdjust="spacingAndGlyphs" stroke="#000" stroke-width="0.55">30</text>
<text x="1451.3" y="678.0" font-size="34.6" textLength="36.6" lengthAdjust="spacingAndGlyphs" stroke="#000" stroke-width="0.55">15</text>
<text x="1452.5" y="733.4" font-size="34.6" textLength="18.3" lengthAdjust="spacingAndGlyphs" stroke="#000" stroke-width="0.55">0</text>
<text x="836.5" y="569.2" font-size="33.4" textLength="139.6" lengthAdjust="spacingAndGlyphs" stroke="#000" stroke-width="0.55">Depth(m)</text>
<text x="1318.7" y="569.2" font-size="32.0" textLength="162.1" lengthAdjust="spacingAndGlyphs" stroke="#000" stroke-width="0.55">SSC(mg/L)</text>
<text x="838.4" y="611.4" font-size="33.0" font-weight="bold">(L)</text>
<clipPath id="cM"><path d="M840 847.5 847.5 846.9 855 846.4 862.5 845.9 869.9 845.5 877.4 845.1 884.9 844.7 892.4 844.4 899.9 844.1 907.4 843.9 914.9 843.7 922.4 843.6 929.8 843.5 937.3 843.5 944.8 843.5 952.3 843.7 959.8 843.9 967.3 844.3 974.8 844.7 982.3 845.2 989.7 845.8 997.2 846.4 1004.7 847 1012.2 847.6 1019.7 848.3 1027.2 848.8 1034.7 849.4 1042.2 849.9 1049.6 850.3 1057.1 850.6 1064.6 850.9 1072.1 851 1079.6 851 1087.1 850.8 1094.6 850.5 1102.1 850 1109.5 849.5 1117 848.9 1124.5 848.1 1132 847.4 1139.5 846.5 1147 845.7 1154.5 844.8 1162 843.9 1169.4 843.1 1176.9 842.2 1184.4 841.5 1191.9 840.7 1199.4 840.1 1206.9 839.5 1214.4 839.1 1221.9 838.7 1229.3 838.5 1236.8 838.5 1244.3 838.5 1251.8 838.6 1259.3 838.7 1266.8 838.8 1274.3 839 1281.8 839.2 1289.2 839.4 1296.7 839.7 1304.2 840.1 1311.7 840.4 1319.2 840.8 1326.7 841.3 1334.2 841.8 1341.7 842.3 1349.1 842.9 1356.6 843.5 1364.1 844.2 1371.6 844.9 1379.1 845.7 1386.6 846.5 1394.1 847.4 1401.6 848.3 1409 849.3 1416.5 850.3 1424 851.4 1431.5 852.5 1431.5 981 840 981Z"/></clipPath>
<g clip-path="url(#cM)">
<rect x="840.0" y="836.5" width="592.0" height="146.0" fill="#5a74b6"/>
<path fill-rule="evenodd" fill="#7ea5cf" d="M1432 982.5 840 982.5 840 836.5 1079.5 836.5 1080.3 894.5 1084 913.3 1088 915.3 1092 915 1094 913.2 1097.6 896.5 1098.5 880.5 1097.3 836.5 1432 836.5 1432 982.5Z"/>
<path fill-rule="evenodd" fill="#a9cfe4" d="M898 982.5 840 982.5 840 836.5 895.6 836.5 895.7 882.5 899.5 912.5 899.5 982.5 898 982.5ZM1432 982.5 1110 982.5 1115.4 950.5 1116.6 912.5 1124 884.5 1124 836.5 1432 836.5 1432 982.5ZM1052 982.5 995.4 982.5 995.1 942.5 997.3 934.5 1002 927.6 1024 915.6 1030 914.7 1034 917.2 1053 944.5 1053.8 982.5 1052 982.5Z"/>
<path fill-rule="evenodd" fill="#dcedf4" d="M1346 982.5 1119.4 982.5 1130 953.2 1147.2 886.5 1147.9 836.5 1218.3 836.5 1220.3 932.5 1222 938.8 1226 941.5 1230 941.9 1234 939.1 1238 932.3 1242.6 914.5 1243.9 836.5 1314.7 836.5 1315.7 880.5 1320.4 888.5 1336 907.1 1344.8 932.5 1346.5 946.5 1346 982.5ZM886 982.5 840 982.5 840 913.6 868 913.4 873.6 916.5 878 921.5 884.3 932.5 886.9 942.5 887.5 982.5 886 982.5ZM1432 982.5 1384.8 982.5 1385.7 942.5 1396 924.3 1406 915.4 1412 915.3 1420 919.9 1425.3 926.5 1429 934.5 1432 942.3 1432 982.5ZM1030 982.5 1027.7 982.5 1028 979.1 1030 979.3 1030 982.5Z"/>
<path fill-rule="evenodd" fill="#fbf8c3" d="M1204 982.5 1130.5 982.5 1162 892 1168 880.1 1172 877.1 1178 879.3 1184.7 886.5 1190.4 896.5 1196.5 912.5 1201.2 938.5 1204 982.5ZM1332 982.5 1251.5 982.5 1254.7 944.5 1258.9 930.5 1263.4 924.5 1282.6 906.5 1300 892.8 1304 892.8 1306 894.8 1314 909.8 1325.8 924.5 1329.8 932.5 1332.1 944.5 1332 982.5ZM874 982.5 840 982.5 840 947.8 854.8 960.5 869.4 970.5 874.3 978.5 875.1 982.5 874 982.5ZM1426 982.5 1398.9 982.5 1401.9 958.5 1404.2 952.5 1408 948.2 1412 948.7 1418 955.4 1423.9 970.5 1426 982.5Z"/>
<path fill-rule="evenodd" fill="#f3db8d" d="M1194 982.5 1142.6 982.5 1158.3 932.5 1166 917 1172 911.9 1176 913.1 1180 917.2 1187 932.5 1194.7 972.5 1195.8 982.5 1194 982.5ZM1324 982.5 1266.6 982.5 1266.6 946.5 1268.6 938.5 1278 927.5 1300 911.2 1304 911.8 1318.1 930.5 1322.3 938.5 1323.7 946.5 1324 982.5Z"/>
<path fill-rule="evenodd" fill="#ecab68" d="M1314 982.5 1279.3 982.5 1281.3 942.5 1288 933.9 1300 927.2 1304 927.8 1306 929.5 1313.7 942.5 1314 982.5ZM1188 982.5 1152.5 982.5 1161.8 948.5 1166 940.2 1170 936.1 1172 935.5 1176 937.5 1181.1 946.5 1186 965.1 1188 982.5Z"/>
<path fill-rule="evenodd" fill="#e07848" d="M1182 982.5 1159.9 982.5 1164 968.2 1170 958.8 1174 959 1177.6 964.5 1181.5 976.5 1182 982.5Z"/>
</g>
<path d="M840 837.5V981H1431.5" fill="none" stroke="#3a3a3a" stroke-width="1.4"/>
<path d="M840 837.5h7" stroke="#3a3a3a" stroke-width="1.4"/>
<path d="M840 906h7" stroke="#3a3a3a" stroke-width="1.4"/>
<path d="M840 972.5h7" stroke="#3a3a3a" stroke-width="1.4"/>
<path d="M935 981v-7" stroke="#3a3a3a" stroke-width="1.4"/>
<path d="M1029 981v-7" stroke="#3a3a3a" stroke-width="1.4"/>
<path d="M1124 981v-7" stroke="#3a3a3a" stroke-width="1.4"/>
<path d="M1219 981v-7" stroke="#3a3a3a" stroke-width="1.4"/>
<path d="M1314 981v-7" stroke="#3a3a3a" stroke-width="1.4"/>
<path d="M1409 981v-7" stroke="#3a3a3a" stroke-width="1.4"/>
<rect x="1444" y="971.4" width="7.5" height="11.4" fill="#5a74b6"/>
<rect x="1444" y="960.4" width="7.5" height="11.4" fill="#6a8cc0"/>
<rect x="1444" y="949.3" width="7.5" height="11.4" fill="#93bcdc"/>
<rect x="1444" y="938.2" width="7.5" height="11.4" fill="#c5e0ec"/>
<rect x="1444" y="927.2" width="7.5" height="11.4" fill="#eff6e0"/>
<rect x="1444" y="916.1" width="7.5" height="11.4" fill="#fbf8c3"/>
<rect x="1444" y="905" width="7.5" height="11.4" fill="#f3db8d"/>
<rect x="1444" y="894" width="7.5" height="11.4" fill="#ecab68"/>
<rect x="1444" y="882.9" width="7.5" height="11.4" fill="#e07848"/>
<rect x="1444" y="847.5" width="7.5" height="35.7" fill="#c84a2e"/>
<text x="799.3" y="1013.9" font-size="37.6" textLength="79.7" lengthAdjust="spacingAndGlyphs" stroke="#000" stroke-width="0.55">10:00</text>
<text x="887.8" y="1013.9" font-size="37.6" textLength="80.7" lengthAdjust="spacingAndGlyphs" stroke="#000" stroke-width="0.55">14:00</text>
<text x="985.8" y="1013.9" font-size="37.6" textLength="80.7" lengthAdjust="spacingAndGlyphs" stroke="#000" stroke-width="0.55">18:00</text>
<text x="1080.0" y="1013.9" font-size="37.6" textLength="79.9" lengthAdjust="spacingAndGlyphs" stroke="#000" stroke-width="0.55">22:00</text>
<text x="1172.4" y="1013.9" font-size="37.6" textLength="79.9" lengthAdjust="spacingAndGlyphs" stroke="#000" stroke-width="0.55">02:00</text>
<text x="1268.5" y="1013.9" font-size="37.6" textLength="79.5" lengthAdjust="spacingAndGlyphs" stroke="#000" stroke-width="0.55">06:00</text>
<text x="1363.8" y="1013.9" font-size="37.6" textLength="80.7" lengthAdjust="spacingAndGlyphs" stroke="#000" stroke-width="0.55">10:00</text>
<text x="816.1" y="850.3" font-size="34.2" textLength="17.7" lengthAdjust="spacingAndGlyphs" stroke="#000" stroke-width="0.55">0</text>
<text x="808.1" y="918.8" font-size="34.2" textLength="28.3" lengthAdjust="spacingAndGlyphs" stroke="#000" stroke-width="0.55">-4</text>
<text x="808.5" y="985.3" font-size="34.2" textLength="28.3" lengthAdjust="spacingAndGlyphs" stroke="#000" stroke-width="0.55">-8</text>
<text x="1458.2" y="870.4" font-size="34.6" textLength="36.6" lengthAdjust="spacingAndGlyphs" stroke="#000" stroke-width="0.55">60</text>
<text x="1459.1" y="911.9" font-size="34.6" textLength="36.6" lengthAdjust="spacingAndGlyphs" stroke="#000" stroke-width="0.55">40</text>
<text x="1458.2" y="953.4" font-size="34.6" textLength="36.6" lengthAdjust="spacingAndGlyphs" stroke="#000" stroke-width="0.55">20</text>
<text x="1458.6" y="993.4" font-size="34.6" textLength="18.3" lengthAdjust="spacingAndGlyphs" stroke="#000" stroke-width="0.55">0</text>
<text x="838.6" y="829.2" font-size="33.4" textLength="139.7" lengthAdjust="spacingAndGlyphs" stroke="#000" stroke-width="0.55">Depth(m)</text>
<text x="1321.0" y="829.2" font-size="32.0" textLength="162.0" lengthAdjust="spacingAndGlyphs" stroke="#000" stroke-width="0.55">SSC(mg/L)</text>
<text x="839.9" y="868.9" font-size="33.0" font-weight="bold">(M)</text>
<clipPath id="cN"><path d="M840 1096.5 847.4 1096.8 854.9 1097.1 862.3 1097.4 869.7 1097.7 877.2 1097.9 884.6 1098.2 892.1 1098.4 899.5 1098.6 906.9 1098.8 914.4 1098.9 921.8 1099.1 929.2 1099.2 936.7 1099.3 944.1 1099.4 951.6 1099.5 959 1099.6 966.4 1099.7 973.9 1099.7 981.3 1099.8 988.7 1099.8 996.2 1099.9 1003.6 1099.9 1011 1099.9 1018.5 1100 1025.9 1100 1033.4 1100 1040.8 1100 1048.2 1100 1055.7 1100 1063.1 1100 1070.5 1100 1078 1099.9 1085.4 1099.8 1092.8 1099.5 1100.3 1099.1 1107.7 1098.7 1115.2 1098.2 1122.6 1097.6 1130 1097 1137.5 1096.4 1144.9 1095.7 1152.3 1095.1 1159.8 1094.4 1167.2 1093.8 1174.7 1093.2 1182.1 1092.7 1189.5 1092.2 1197 1091.8 1204.4 1091.4 1211.8 1091.2 1219.3 1091 1226.7 1091 1234.1 1091 1241.6 1091 1249 1091.1 1256.5 1091.2 1263.9 1091.2 1271.3 1091.4 1278.8 1091.5 1286.2 1091.6 1293.6 1091.8 1301.1 1092 1308.5 1092.3 1315.9 1092.5 1323.4 1092.8 1330.8 1093.1 1338.3 1093.4 1345.7 1093.8 1353.1 1094.2 1360.6 1094.6 1368 1095.1 1375.4 1095.6 1382.9 1096.1 1390.3 1096.7 1397.8 1097.3 1405.2 1097.9 1412.6 1098.6 1420.1 1099.3 1427.5 1100 1427.5 1240 840 1240Z"/></clipPath>
<g clip-path="url(#cN)">
<rect x="840.0" y="1089.0" width="588.0" height="152.0" fill="#5a74b6"/>
<path fill-rule="evenodd" fill="#6280bb" d="M1428 1241 840 1241 840 1089 1428 1089 1428 1241Z"/>
<path fill-rule="evenodd" fill="#6a8cc0" d="M1428 1241 840 1241 840 1089 1428 1089 1428 1241Z"/>
<path fill-rule="evenodd" fill="#7498c8" d="M1428 1241 840 1241 840 1089 1428 1089 1428 1241Z"/>
<path fill-rule="evenodd" fill="#7ea5cf" d="M1428 1241 840 1241 840 1089 1428 1089 1428 1241Z"/>
<path fill-rule="evenodd" fill="#88b0d6" d="M1428 1241 840 1241 840 1089 949.9 1089 952 1097 956 1099.7 974 1104.1 1000 1114.8 1016 1116.1 1028 1115.4 1048 1108.6 1076 1106.8 1082 1103.6 1086.1 1099 1088.4 1089 1234 1089 1234.1 1133 1236 1163.3 1239.3 1179 1242 1183.2 1244 1183.8 1248 1181.1 1252 1173.6 1264 1137.1 1266.3 1089 1428 1089 1428 1241Z"/>
<path fill-rule="evenodd" fill="#93bcdc" d="M1428 1241 840 1241 840 1089 939.4 1089 940.3 1097 944 1103 950 1106.6 964 1110 970.1 1113 1004 1150 1008 1152.3 1016 1153.1 1024 1152.5 1028 1150.5 1041.1 1133 1048 1127.5 1054 1125.9 1072 1125.2 1080 1122.4 1104.5 1101 1107.3 1095 1107.8 1089 1223.8 1089 1224.2 1133 1230.3 1175 1238 1203.7 1242 1208.6 1246 1209.4 1252 1206.2 1256 1200.6 1262 1180.9 1269.9 1133 1271.9 1089 1428 1089 1428 1241Z"/>
<path fill-rule="evenodd" fill="#9ec6e0" d="M1428 1241 840 1241 840 1089 928.7 1089 930 1099 936 1108.6 943.4 1113 960 1116.5 966 1119.9 989.8 1153 1000 1171.3 1004.8 1175 1012 1176.3 1026 1175.7 1031.4 1173 1035.9 1167 1044 1151.2 1050 1145.1 1056 1143.3 1078 1141.4 1098 1124.3 1122 1116.6 1140 1104.3 1150 1102.7 1160 1104.5 1167.9 1109 1173.3 1115 1184 1139.6 1190 1148 1196 1150.5 1212 1151.3 1216 1153.8 1222 1166.4 1232 1206.3 1236 1217 1242 1223.5 1252 1225.9 1256.3 1225 1260 1220.8 1264 1204.7 1272.9 1135 1275.7 1089 1428 1089 1428 1241Z"/>
<path fill-rule="evenodd" fill="#a9cfe4" d="M1246 1241 840 1241 840 1089 917 1089 919.2 1099 932 1120.6 938 1124.6 954 1125 960 1127.1 964.6 1133 972 1151.4 984 1163.3 994 1179.4 1000 1184.8 1008 1186.9 1030 1185.7 1036.7 1181 1048 1165.4 1052 1162.2 1058 1160.7 1078 1160.1 1088 1157.5 1107.2 1147 1124.7 1141 1142 1123.2 1146 1121.4 1150 1121.6 1155.7 1125 1160 1130 1175.2 1159 1184 1169.8 1194 1174.7 1212 1175.6 1218 1179.8 1222.4 1189 1232.1 1223 1236 1229.7 1246 1241ZM1428 1241 1264 1241 1275.8 1133 1279 1089 1428 1089 1428 1241Z"/>
<path fill-rule="evenodd" fill="#b7d8e8" d="M1232 1241 840 1241 840 1089 905.3 1089 907.4 1097 918.5 1111 930 1134.6 942.6 1149 949.6 1169 953 1175 960 1179.8 978 1184.4 992 1193.8 1000 1196.7 1020 1197.6 1030 1196.4 1036 1193.1 1048 1181.6 1054 1178.3 1100.4 1175 1106 1172.2 1118 1162.2 1132 1156.8 1144 1149.7 1148 1150 1152 1153.4 1164.3 1171 1188 1189 1196 1191.8 1212 1192.7 1216 1195.1 1220 1202.3 1226.8 1225 1232.7 1239 1233.1 1241 1232 1241ZM1428 1241 1268.4 1241 1282.1 1089 1428 1089 1428 1241Z"/>
<path fill-rule="evenodd" fill="#c5e0ec" d="M1222 1241 840 1241 840 1089 893.7 1089 896.5 1097 910 1109.3 916 1117.5 928 1146.7 944.2 1179 950 1186.4 961.8 1197 972 1213.3 978.6 1219 984 1220 1002 1216.7 1026 1215.8 1032 1213 1045.8 1199 1052 1195.2 1076 1193.2 1090 1188.3 1107.5 1185 1122 1178.5 1128 1178.3 1148 1186.1 1170 1191.1 1177.5 1197 1186 1210.2 1190 1214 1196 1216.4 1210 1217.2 1214 1219 1218 1224.7 1222 1234.3 1223.6 1241 1222 1241ZM1428 1241 1271 1241 1275.6 1177 1285.3 1089 1428 1089 1428 1241Z"/>
<path fill-rule="evenodd" fill="#d0e6f0" d="M948 1241 840 1241 840 1089 882.9 1089 885.9 1097 902 1109 910 1117.5 916 1128.9 932 1171.3 949.9 1203 950.8 1223 949.5 1241 948 1241ZM1428 1241 1273.2 1241 1278.2 1173 1288.5 1089 1428 1089 1428 1241ZM1160 1241 1039.9 1241 1044 1227.7 1052 1219.6 1076 1216.3 1090 1201.9 1096 1198.5 1120 1196.3 1130 1199.6 1142 1210.3 1154.8 1219 1158 1223.8 1160.3 1231 1161.5 1241 1160 1241Z"/>
<path fill-rule="evenodd" fill="#dcedf4" d="M938 1241 840 1241 840 1089 872.7 1089 876.4 1097 898 1111.9 907.6 1123 913.4 1135 924.6 1169 938.5 1201 939.5 1221 939.1 1241 938 1241ZM1428 1241 1275.2 1241 1280.3 1175 1291.7 1089 1428 1089 1428 1241ZM1150 1241 1089.5 1241 1091.8 1229 1098 1218.1 1106 1213.2 1118 1211.2 1126 1212.7 1134 1218.7 1147.1 1233 1150 1241Z"/>
<path fill-rule="evenodd" fill="#e6f2ea" d="M1428 1241 1277.1 1241 1282.3 1177 1294.8 1089 1428 1089 1428 1241ZM930 1241 840 1241 840 1097.3 860 1097.8 870 1100.4 892 1113.2 903.1 1125 909 1137 918.3 1167 930.4 1199 931.4 1225 931.2 1241 930 1241ZM1138 1241 1104.6 1241 1106 1235 1110 1229 1114 1226 1120 1224.3 1126 1225.4 1132 1229.4 1138.3 1237 1139.7 1241 1138 1241Z"/>
<path fill-rule="evenodd" fill="#eff6e0" d="M1428 1241 1278.9 1241 1284 1183.2 1292.4 1117 1298 1089 1428 1089 1428 1241ZM924 1241 840 1241 840 1104.1 862 1104.3 872 1106.7 890 1117.6 899.8 1129 905.2 1141 913.5 1169 924.1 1197 925.4 1213 924 1241ZM1128 1241 1117 1241 1118 1238.9 1122 1236.9 1126 1238.1 1128 1241Z"/>
<path fill-rule="evenodd" fill="#f5f7d2" d="M1428 1241 1280.7 1241 1284 1203.3 1294.2 1121 1301.6 1089 1397.3 1089 1398.7 1097 1404 1103.9 1420 1112.2 1428 1114.7 1428 1241ZM918 1241 840 1241 840 1109.8 862 1109.5 870 1111 886 1120.6 895.2 1131 900.7 1143 908.6 1171 918.9 1199 919.7 1225 919.2 1241 918 1241Z"/>
<path fill-rule="evenodd" fill="#fbf8c3" d="M1428 1241 1282.7 1241 1296.9 1119 1300 1105.4 1306.4 1089 1386.8 1089 1389.5 1101 1398 1115 1422 1140.4 1428 1144.9 1428 1241ZM912 1241 840 1241 840 1115.6 862 1115 870 1116.5 883 1125 892 1136.4 897.4 1149 904.6 1177 913.1 1201 913.6 1241 912 1241Z"/>
<path fill-rule="evenodd" fill="#f9f2b1" d="M1428 1241 1284.8 1241 1288 1211.1 1295.6 1165 1299.5 1119 1302.7 1107 1308 1098.3 1316 1094.7 1334 1094.7 1337.2 1093 1339.4 1089 1377.1 1089 1379.1 1099 1388.6 1117 1398 1131.6 1415.6 1153 1428 1176.1 1428 1241ZM906 1241 840 1241 840 1121.8 862 1121.1 870 1122.9 880 1130.5 888 1141.7 894.3 1157 905.6 1207 907.8 1237 907.8 1241 906 1241Z"/>
<path fill-rule="evenodd" fill="#f7ec9f" d="M1428 1241 1287.1 1241 1291.8 1205 1298.7 1169 1301.9 1121 1304 1112.9 1308 1105.8 1314 1102.8 1330 1104.1 1338 1103.3 1347.2 1097 1350.3 1089 1367 1089 1369.6 1099 1383.1 1125 1390.8 1137 1405.1 1155 1409.3 1163 1416.5 1207 1422 1216.5 1428 1219.4 1428 1241ZM900 1241 840 1241 840 1128.6 860 1128.6 868 1130.3 875.8 1137 885.1 1151 890 1165.9 893.2 1203 901.3 1235 901.7 1241 900 1241Z"/>
<path fill-rule="evenodd" fill="#f5e496" d="M1400 1241 1289.8 1241 1295.5 1203 1302.8 1169 1304.6 1125 1306 1118.9 1310 1112.3 1316 1110.7 1338 1112.6 1358 1105.3 1362 1107.3 1366 1111.9 1380 1136.4 1394.9 1157 1398.4 1165 1399.5 1175 1399.1 1209 1401.1 1241 1400 1241ZM894 1241 840 1241 840 1136.3 856 1138 864 1140.6 870 1145.7 878 1157.9 882.3 1171 885.3 1209 894.5 1235 895.5 1241 894 1241Z"/>
<path fill-rule="evenodd" fill="#f3db8d" d="M1394 1241 1293 1241 1299.1 1203 1307.4 1171 1309 1131 1312 1122.5 1316 1121.1 1334 1123.4 1356 1122.1 1362 1125.2 1368 1132.7 1382.6 1155 1386.9 1165 1387.7 1205 1394 1241ZM888 1241 840 1241 840 1144.6 849.4 1147 858 1152.1 864 1158.6 870.5 1169 874.7 1181 880.6 1215 888.6 1237 889.3 1241 888 1241Z"/>
<path fill-rule="evenodd" fill="#f1d084" d="M1388 1241 1296.6 1241 1304 1200 1313.2 1173 1318 1149 1320.7 1143 1324 1139.8 1334 1137.4 1356 1138.5 1364 1143 1370.4 1151 1374.6 1159 1376.6 1167 1376.8 1207 1387.4 1233 1388.9 1241 1388 1241ZM882 1241 840 1241 840 1154 846 1156.2 852 1161.2 859.8 1171 865.6 1181 882.8 1237 883.5 1241 882 1241Z"/>
<path fill-rule="evenodd" fill="#efc47a" d="M1382 1241 1300.6 1241 1304 1219.7 1309.7 1199 1324 1167 1328 1161 1332 1157.8 1356 1154.3 1360 1155.7 1364 1160 1366.5 1171 1364.5 1199 1365.5 1209 1369.8 1219 1381.2 1235 1382.9 1241 1382 1241ZM878 1241 840 1241 840 1165 844 1166.9 849.9 1173 862 1192.4 878 1241Z"/>
<path fill-rule="evenodd" fill="#eeb871" d="M1372 1241 1304.8 1241 1308 1222.5 1313.9 1205 1324 1187.8 1332 1178.8 1340 1177.7 1347.1 1183 1358 1216.2 1363.9 1227 1371.9 1237 1373.6 1241 1372 1241ZM872 1241 840 1241 840 1179.4 848 1186.5 858.3 1203 870 1231.4 872 1241Z"/>
<path fill-rule="evenodd" fill="#ecab68" d="M866 1241 840 1241 840 1197.4 846 1201.7 854 1212.8 863.2 1231 866 1241ZM1362 1241 1308.9 1241 1311 1229 1315.1 1217 1320 1208.2 1326 1201.3 1334 1197.2 1338 1198 1342 1201.2 1350 1214.1 1362 1241Z"/>
<path fill-rule="evenodd" fill="#eaa061" d="M1354 1241 1312.7 1241 1314.7 1231 1320.1 1219 1326 1212.2 1334 1209 1340 1211.4 1346 1218.2 1354.3 1235 1355.7 1241 1354 1241ZM856 1241 840 1241 840 1215.3 846 1219.3 852 1227.4 856.9 1237 857.8 1241 856 1241Z"/>
<path fill-rule="evenodd" fill="#e8955a" d="M1350 1241 1316.2 1241 1318 1233 1322.1 1225 1328 1218.9 1334 1217 1340 1219.4 1344.9 1225 1350.7 1237 1351.4 1241 1350 1241ZM846 1241 840 1241 840 1233.6 844 1236.3 846 1241Z"/>
<path fill-rule="evenodd" fill="#e48651" d="M1346 1241 1319.7 1241 1321.1 1235 1324.6 1229 1330 1224.4 1334 1223.5 1340 1226.1 1344 1230.7 1347.6 1239 1347.9 1241 1346 1241Z"/>
<path fill-rule="evenodd" fill="#e07848" d="M1344 1241 1323.4 1241 1326.9 1233 1334 1229.4 1340.7 1233 1344 1241Z"/>
<path fill-rule="evenodd" fill="#db6c44" d="M1338 1241 1327.9 1241 1330 1236.9 1334 1235.2 1338 1237 1339.9 1241 1338 1241Z"/>
</g>
<path d="M840 1091V1240H1427.5" fill="none" stroke="#3a3a3a" stroke-width="1.4"/>
<path d="M840 1091h7" stroke="#3a3a3a" stroke-width="1.4"/>
<path d="M840 1144h7" stroke="#3a3a3a" stroke-width="1.4"/>
<path d="M840 1199h7" stroke="#3a3a3a" stroke-width="1.4"/>
<path d="M934 1240v-7" stroke="#3a3a3a" stroke-width="1.4"/>
<path d="M1028 1240v-7" stroke="#3a3a3a" stroke-width="1.4"/>
<path d="M1122.5 1240v-7" stroke="#3a3a3a" stroke-width="1.4"/>
<path d="M1216.5 1240v-7" stroke="#3a3a3a" stroke-width="1.4"/>
<path d="M1310.5 1240v-7" stroke="#3a3a3a" stroke-width="1.4"/>
<path d="M1405 1240v-7" stroke="#3a3a3a" stroke-width="1.4"/>
<rect x="1439" y="1223.2" width="8.5" height="10.6" fill="#5a74b6"/>
<rect x="1439" y="1216.3" width="8.5" height="7.2" fill="#6a8cc0"/>
<rect x="1439" y="1209.4" width="8.5" height="7.2" fill="#7ea5cf"/>
<rect x="1439" y="1202.6" width="8.5" height="7.2" fill="#93bcdc"/>
<rect x="1439" y="1195.7" width="8.5" height="7.2" fill="#a9cfe4"/>
<rect x="1439" y="1188.8" width="8.5" height="7.2" fill="#c5e0ec"/>
<rect x="1439" y="1181.9" width="8.5" height="7.2" fill="#dcedf4"/>
<rect x="1439" y="1175.1" width="8.5" height="7.2" fill="#eff6e0"/>
<rect x="1439" y="1168.2" width="8.5" height="7.2" fill="#fbf8c3"/>
<rect x="1439" y="1161.3" width="8.5" height="7.2" fill="#f7ec9f"/>
<rect x="1439" y="1154.4" width="8.5" height="7.2" fill="#f3db8d"/>
<rect x="1439" y="1147.6" width="8.5" height="7.2" fill="#efc47a"/>
<rect x="1439" y="1140.7" width="8.5" height="7.2" fill="#ecab68"/>
<rect x="1439" y="1133.8" width="8.5" height="7.2" fill="#e8955a"/>
<rect x="1439" y="1126.9" width="8.5" height="7.2" fill="#e07848"/>
<rect x="1439" y="1120.1" width="8.5" height="7.2" fill="#d6603f"/>
<rect x="1439" y="1096" width="8.5" height="24.4" fill="#c84a2e"/>
<text x="802.6" y="1274.3" font-size="38.1" textLength="79.7" lengthAdjust="spacingAndGlyphs" stroke="#000" stroke-width="0.55">10:00</text>
<text x="891.2" y="1274.3" font-size="38.1" textLength="79.8" lengthAdjust="spacingAndGlyphs" stroke="#000" stroke-width="0.55">14:00</text>
<text x="989.2" y="1274.3" font-size="38.1" textLength="79.7" lengthAdjust="spacingAndGlyphs" stroke="#000" stroke-width="0.55">18:00</text>
<text x="1082.4" y="1274.3" font-size="38.1" textLength="81.3" lengthAdjust="spacingAndGlyphs" stroke="#000" stroke-width="0.55">22:00</text>
<text x="1175.2" y="1274.3" font-size="38.1" textLength="79.5" lengthAdjust="spacingAndGlyphs" stroke="#000" stroke-width="0.55">02:00</text>
<text x="1271.8" y="1274.3" font-size="38.1" textLength="79.5" lengthAdjust="spacingAndGlyphs" stroke="#000" stroke-width="0.55">06:00</text>
<text x="1367.2" y="1274.3" font-size="38.1" textLength="79.7" lengthAdjust="spacingAndGlyphs" stroke="#000" stroke-width="0.55">10:00</text>
<text x="812.6" y="1103.8" font-size="34.2" textLength="17.7" lengthAdjust="spacingAndGlyphs" stroke="#000" stroke-width="0.55">0</text>
<text x="804.7" y="1156.8" font-size="34.2" textLength="28.3" lengthAdjust="spacingAndGlyphs" stroke="#000" stroke-width="0.55">-5</text>
<text x="792.8" y="1211.8" font-size="34.2" textLength="45.9" lengthAdjust="spacingAndGlyphs" stroke="#000" stroke-width="0.55">-10</text>
<text x="1454.2" y="1113.4" font-size="34.6" textLength="36.6" lengthAdjust="spacingAndGlyphs" stroke="#000" stroke-width="0.55">20</text>
<text x="1453.4" y="1179.4" font-size="34.6" textLength="36.6" lengthAdjust="spacingAndGlyphs" stroke="#000" stroke-width="0.55">10</text>
<text x="1454.6" y="1244.4" font-size="34.6" textLength="18.3" lengthAdjust="spacingAndGlyphs" stroke="#000" stroke-width="0.55">0</text>
<text x="838.6" y="1081.3" font-size="33.9" textLength="139.7" lengthAdjust="spacingAndGlyphs" stroke="#000" stroke-width="0.55">Depth(m)</text>
<text x="1321.0" y="1081.3" font-size="32.2" textLength="162.0" lengthAdjust="spacingAndGlyphs" stroke="#000" stroke-width="0.55">SSC(mg/L)</text>
<text x="838.4" y="1120.4" font-size="33.0" font-weight="bold">(N)</text>
<clipPath id="cO"><path d="M839 1361 846.4 1360.5 853.9 1360 861.3 1359.5 868.7 1359.1 876.2 1358.8 883.6 1358.4 891 1358.1 898.4 1357.9 905.9 1357.6 913.3 1357.4 920.7 1357.3 928.2 1357.1 935.6 1357 943 1356.8 950.5 1356.8 957.9 1356.7 965.3 1356.6 972.7 1356.6 980.2 1356.5 987.6 1356.5 995 1356.5 1002.5 1356.5 1009.9 1356.5 1017.3 1356.6 1024.8 1356.8 1032.2 1357.1 1039.6 1357.5 1047.1 1357.9 1054.5 1358.5 1061.9 1359.1 1069.3 1359.8 1076.8 1360.5 1084.2 1361.2 1091.6 1361.9 1099.1 1362.6 1106.5 1363.3 1113.9 1364 1121.4 1364.6 1128.8 1365.1 1136.2 1365.6 1143.6 1366 1151.1 1366.3 1158.5 1366.4 1165.9 1366.5 1173.4 1366.4 1180.8 1366.1 1188.2 1365.8 1195.7 1365.3 1203.1 1364.6 1210.5 1363.9 1217.9 1363.2 1225.4 1362.3 1232.8 1361.5 1240.2 1360.6 1247.7 1359.7 1255.1 1358.8 1262.5 1357.9 1270 1357.1 1277.4 1356.3 1284.8 1355.5 1292.3 1354.9 1299.7 1354.4 1307.1 1354 1314.5 1353.7 1322 1353.5 1329.4 1353.5 1336.8 1353.5 1344.3 1353.5 1351.7 1353.6 1359.1 1353.7 1366.6 1353.8 1374 1353.9 1381.4 1354.1 1388.8 1354.3 1396.3 1354.5 1403.7 1354.8 1411.1 1355.1 1418.6 1355.5 1426 1356 1426 1502.5 839 1502.5Z"/></clipPath>
<g clip-path="url(#cO)">
<rect x="839.0" y="1351.5" width="588.0" height="152.0" fill="#5a74b6"/>
<path fill-rule="evenodd" fill="#6280bb" d="M1427 1503.5 839 1503.5 839 1351.5 1427 1351.5 1427 1503.5Z"/>
<path fill-rule="evenodd" fill="#6a8cc0" d="M1427 1503.5 839 1503.5 839 1351.5 1427 1351.5 1427 1503.5Z"/>
<path fill-rule="evenodd" fill="#7498c8" d="M1427 1503.5 839 1503.5 839 1351.5 879 1351.5 881 1360.1 883 1362.5 887 1364 892.7 1359.5 894.3 1351.5 1427 1351.5 1427 1503.5Z"/>
<path fill-rule="evenodd" fill="#7ea5cf" d="M1235 1503.5 839 1503.5 839 1351.5 868.3 1351.5 869.5 1361.5 875 1374.2 881 1381.3 887 1383.5 895 1381.7 900.8 1375.5 903.7 1365.5 904.6 1351.5 1014.5 1351.5 1015.8 1357.5 1019 1363.6 1025 1370 1029 1371.1 1033 1369 1035.4 1365.5 1038.1 1351.5 1086.8 1351.5 1089 1368.8 1093 1374.6 1097 1375.8 1101 1373.5 1103.3 1369.5 1105 1363.3 1105.5 1351.5 1230.4 1351.5 1230.8 1399.5 1235.6 1483.5 1236 1503.5 1235 1503.5ZM1427 1503.5 1246.5 1503.5 1245.8 1351.5 1427 1351.5 1427 1503.5Z"/>
<path fill-rule="evenodd" fill="#88b0d6" d="M1229 1503.5 839 1503.5 839 1351.5 853.6 1351.5 854.5 1359.5 857.7 1367.5 867.9 1387.5 875.7 1397.5 883 1401.6 897 1405 909 1411.3 912.1 1409.5 913.6 1401.5 911.8 1351.5 993 1351.5 993.9 1359.5 997 1366.8 1009 1381.1 1021 1401.4 1027 1408.1 1047 1413.8 1073 1415.5 1099 1412.2 1105 1408.2 1108.7 1403.5 1112.3 1395.5 1114.4 1385.5 1116.1 1351.5 1220.1 1351.5 1220.5 1399.5 1226.7 1447.5 1229 1503.5ZM1427 1503.5 1254.1 1503.5 1253.8 1351.5 1328.2 1351.5 1331 1362.2 1335 1365.8 1340.4 1361.5 1343.3 1351.5 1427 1351.5 1427 1503.5ZM934 1477.5 937.3 1467.5 938.9 1431.5 935.1 1423.5 927 1421.7 923 1423.1 921.3 1425.5 920.9 1431.5 930.3 1473.5 933 1478.2 934 1477.5Z"/>
<path fill-rule="evenodd" fill="#93bcdc" d="M1225 1503.5 939.1 1503.5 944.7 1473.5 948.8 1437.5 948.8 1425.5 944.4 1415.5 939 1411.9 929 1408.4 923.3 1401.5 920 1385.5 917.3 1351.5 968.4 1351.5 967.3 1393.5 968.3 1401.5 971 1408.2 975 1412.2 979 1413.6 999 1411.1 1005 1412.6 1011 1419.6 1021 1438.5 1027 1444.6 1035 1446.5 1091 1448.3 1099 1447 1105 1442.4 1125.4 1409.5 1127.8 1395.5 1127.3 1351.5 1212.4 1351.5 1211.8 1401.5 1221 1448.5 1225 1503.5ZM1427 1503.5 1257.9 1503.5 1258.8 1351.5 1320.8 1351.5 1327 1387.9 1342 1427.5 1349 1471.5 1353 1481.6 1357 1484.3 1363 1479.8 1372.9 1457.5 1385.4 1441.5 1390 1431.5 1391 1351.5 1427 1351.5 1427 1503.5ZM927 1503.5 839 1503.5 839 1381 845 1385.6 863.4 1413.5 871 1418.1 893 1423.7 901 1430.3 911 1441.9 919.1 1459.5 927 1503.5Z"/>
<path fill-rule="evenodd" fill="#9ec6e0" d="M943 1398 935 1399.1 931 1397 928.6 1393.5 924.6 1377.5 922.3 1351.5 951.7 1351.5 949.5 1385.5 947.2 1393.5 943 1398ZM1221 1503.5 946.7 1503.5 952.7 1465.5 956.3 1453.5 963 1444.8 975 1440.1 989 1440.4 1001 1445 1007 1452 1019 1474.4 1027 1481.5 1035 1482.8 1089 1483.5 1097 1482.7 1101 1480.8 1107 1474.8 1115 1461.5 1137.2 1411.5 1139.2 1397.5 1139.1 1351.5 1169 1351.5 1206.2 1351.5 1203.9 1403.5 1216 1455.5 1221 1503.5ZM1345 1503.5 1260.2 1503.5 1262.3 1351.5 1316.2 1351.5 1323 1404.3 1345.8 1499.5 1346.5 1503.5 1345 1503.5ZM919 1503.5 839 1503.5 839 1419 850.4 1433.5 855.5 1437.5 863 1439.5 881 1439 889 1440.2 895 1443.4 905 1451.8 910.7 1459.5 913.8 1467.5 918.3 1491.5 919 1503.5ZM1427 1503.5 1369.2 1503.5 1393 1458 1397.9 1451.5 1403 1447.7 1409 1446.3 1427 1446.5 1427 1503.5Z"/>
<path fill-rule="evenodd" fill="#a9cfe4" d="M937 1374.1 935 1375.1 933 1373.8 931 1369.7 928.8 1351.5 941.2 1351.5 940.2 1365.5 937 1374.1ZM1217 1503.5 1112.8 1503.5 1131 1460 1145 1414.7 1146.9 1397.5 1146.4 1351.5 1200.6 1351.5 1200.1 1365.5 1196.4 1391.5 1196.4 1403.5 1212.5 1471.5 1217 1503.5ZM1335 1503.5 1262 1503.5 1265 1351.5 1312.5 1351.5 1319 1414.7 1336.2 1497.5 1336.9 1503.5 1335 1503.5ZM911 1503.5 839 1503.5 839 1448.4 855 1455.1 887 1457.4 897 1462.2 903.8 1469.5 908.5 1479.5 912.7 1499.5 912.9 1503.5 911 1503.5ZM1011 1503.5 953.4 1503.5 958.4 1479.5 965.1 1465.5 971 1460.2 977 1457.9 985 1458.5 991 1462.1 997 1469.3 1002.5 1479.5 1011.3 1499.5 1012.2 1503.5 1011 1503.5Z"/>
<path fill-rule="evenodd" fill="#b7d8e8" d="M1211 1503.5 1129 1503.5 1143 1453.8 1151.4 1411.5 1152.4 1395.5 1151.2 1351.5 1194.9 1351.5 1194.4 1365.5 1189.5 1391.5 1189.5 1405.5 1210.4 1491.5 1212.2 1503.5 1211 1503.5ZM1329 1503.5 1263.3 1503.5 1267.1 1401.5 1267.3 1351.5 1309.5 1351.5 1315.2 1419.5 1328.5 1493.5 1329 1503.5ZM903 1503.5 850 1503.5 852 1491.5 857.3 1483.5 869 1477.6 883 1475.3 891 1477.2 897.7 1483.5 903.4 1495.5 904.7 1503.5 903 1503.5ZM997 1503.5 961.6 1503.5 963.9 1493.5 968.9 1483.5 973 1478.8 979 1476.1 985 1477.8 991 1484.7 996.7 1497.5 997 1503.5Z"/>
<path fill-rule="evenodd" fill="#c5e0ec" d="M1205 1503.5 1140 1503.5 1156.9 1407.5 1155.2 1351.5 1188.9 1351.5 1188.3 1365.5 1183 1391.5 1182.9 1405.5 1194.5 1461.5 1205.8 1497.5 1206.6 1503.5 1205 1503.5ZM1323 1503.5 1264.5 1503.5 1269.2 1399.5 1269.4 1351.5 1307 1351.5 1311 1412.1 1323.7 1497.5 1324.2 1503.5 1323 1503.5ZM893 1503.5 873.2 1503.5 877 1497.1 885 1494.3 891 1497.2 893.5 1501.5 893 1503.5ZM985 1503.5 972.4 1503.5 975 1497.7 979 1495.3 983 1496.5 985 1498.6 986.9 1503.5 985 1503.5Z"/>
<path fill-rule="evenodd" fill="#d0e6f0" d="M1199 1503.5 1146.9 1503.5 1163.7 1403.5 1159.4 1351.5 1182.7 1351.5 1182.1 1365.5 1175.8 1389.5 1175.1 1403.5 1188.8 1467.5 1200.1 1499.5 1200.6 1503.5 1199 1503.5ZM1319 1503.5 1265.5 1503.5 1271.2 1399.5 1271.4 1351.5 1304.8 1351.5 1307 1399.5 1319.5 1497.5 1320 1503.5 1319 1503.5Z"/>
<path fill-rule="evenodd" fill="#dcedf4" d="M1171 1370.1 1169 1370.4 1166.7 1367.5 1165.3 1351.5 1174.8 1351.5 1174.2 1363.5 1171 1370.1ZM1315 1503.5 1266.5 1503.5 1268.3 1459.5 1273.3 1397.5 1273.5 1351.5 1302.6 1351.5 1303.9 1393.5 1316.1 1495.5 1316.7 1503.5 1315 1503.5ZM1193 1503.5 1151.6 1503.5 1163 1438.7 1165.3 1431.5 1169 1427 1172.1 1429.5 1175 1436 1183.4 1471.5 1193.6 1499.5 1194.3 1503.5 1193 1503.5Z"/>
<path fill-rule="evenodd" fill="#e6f2ea" d="M1313 1503.5 1267.4 1503.5 1269.6 1457.5 1275.4 1397.5 1275.7 1351.5 1300.3 1351.5 1301.3 1393.5 1310.4 1461.5 1314 1499.5 1314.2 1503.5 1313 1503.5ZM1187 1503.5 1155.7 1503.5 1163 1471.1 1167 1462.1 1169 1460.7 1171 1461.7 1175 1468.9 1186.6 1497.5 1187.9 1503.5 1187 1503.5Z"/>
<path fill-rule="evenodd" fill="#eff6e0" d="M1311 1503.5 1268.2 1503.5 1270.9 1455.5 1277.9 1395.5 1278.1 1351.5 1297.7 1351.5 1298.5 1393.5 1308.1 1455.5 1312.1 1499.5 1312.2 1503.5 1311 1503.5ZM1181 1503.5 1160 1503.5 1163 1491.1 1167 1484.4 1171 1483.8 1175 1488.1 1180 1497.5 1181 1503.5Z"/>
<path fill-rule="evenodd" fill="#f5f7d2" d="M1309 1503.5 1269 1503.5 1272.4 1451.5 1280.7 1395.5 1281 1351.5 1294.4 1351.5 1294.9 1391.5 1301.6 1421.5 1306.2 1451.5 1310.5 1499.5 1310.6 1503.5 1309 1503.5ZM1171 1503.5 1167.4 1503.5 1169 1500.8 1171.3 1501.5 1172.2 1503.5 1171 1503.5Z"/>
<path fill-rule="evenodd" fill="#fbf8c3" d="M1309 1503.5 1269.8 1503.5 1272.3 1463.5 1277 1427.7 1281 1409.3 1287 1393.3 1289 1394.5 1295 1407.4 1301 1427.9 1306.1 1461.5 1309 1503.5Z"/>
<path fill-rule="evenodd" fill="#f9f2b1" d="M1307 1503.5 1270.6 1503.5 1273 1466.8 1277 1437.5 1281 1418.6 1283 1413.1 1287 1407.9 1291 1409.4 1295 1415.6 1301 1436.5 1305.7 1469.5 1307.9 1499.5 1308 1503.5 1307 1503.5Z"/>
<path fill-rule="evenodd" fill="#f7ec9f" d="M1305 1503.5 1271.4 1503.5 1273.6 1471.5 1277 1445.8 1281.5 1425.5 1287 1416 1291 1417 1295 1423.1 1301 1444.2 1306.2 1489.5 1306.9 1503.5 1305 1503.5Z"/>
<path fill-rule="evenodd" fill="#f5e496" d="M1305 1503.5 1272.2 1503.5 1277 1453.5 1282.9 1429.5 1287 1423.3 1289 1423.1 1293 1426.6 1300.2 1447.5 1304 1475.5 1305 1503.5Z"/>
<path fill-rule="evenodd" fill="#f3db8d" d="M1303 1503.5 1272.9 1503.5 1278 1455.5 1283 1436.8 1287 1430.6 1289 1430.2 1293 1433.7 1299.5 1451.5 1304.4 1493.5 1304.8 1503.5 1303 1503.5Z"/>
<path fill-rule="evenodd" fill="#f1d084" d="M1303 1503.5 1273.8 1503.5 1279 1457.5 1283 1443.6 1285 1439.7 1289 1437.1 1295 1443.7 1299 1455.9 1302.8 1485.5 1303 1503.5Z"/>
<path fill-rule="evenodd" fill="#efc47a" d="M1301 1503.5 1274.6 1503.5 1277 1477.4 1280.6 1457.5 1285 1446.1 1289 1443.4 1293 1446.3 1295 1449.7 1299 1463.3 1302.8 1499.5 1302.9 1503.5 1301 1503.5Z"/>
<path fill-rule="evenodd" fill="#eeb871" d="M1301 1503.5 1275.4 1503.5 1281 1462.7 1285 1452.2 1289 1449.3 1293 1452.2 1297.4 1463.5 1301 1488.4 1301.9 1503.5 1301 1503.5Z"/>
<path fill-rule="evenodd" fill="#ecab68" d="M1299 1503.5 1276.3 1503.5 1281 1469.5 1285 1458.3 1289 1455.3 1293 1458.3 1297 1469.2 1300.8 1499.5 1301 1503.5 1299 1503.5Z"/>
<path fill-rule="evenodd" fill="#eaa061" d="M1299 1503.5 1277.2 1503.5 1282.4 1471.5 1285 1464.5 1289 1461.3 1293 1464.7 1296.6 1475.5 1299.5 1495.5 1299 1503.5Z"/>
<path fill-rule="evenodd" fill="#e8955a" d="M1297 1503.5 1278.3 1503.5 1283 1475.9 1285 1471 1289 1467.6 1293 1471.6 1296.1 1481.5 1298.8 1501.5 1298.8 1503.5 1297 1503.5Z"/>
<path fill-rule="evenodd" fill="#e48651" d="M1297 1503.5 1279.3 1503.5 1283 1482.6 1285 1477.5 1289 1474.2 1293 1478.8 1295 1484.9 1297 1503.5Z"/>
<path fill-rule="evenodd" fill="#e07848" d="M1295 1503.5 1280.6 1503.5 1283 1489.4 1287 1481.4 1289 1480.8 1291 1482.4 1293 1486.2 1295.9 1499.5 1296.2 1503.5 1295 1503.5Z"/>
<path fill-rule="evenodd" fill="#db6c44" d="M1293 1503.5 1282.1 1503.5 1283.3 1495.5 1287 1488 1289 1487.6 1291 1489.5 1293 1494 1294.6 1503.5 1293 1503.5Z"/>
<path fill-rule="evenodd" fill="#d6603f" d="M1291 1503.5 1284 1503.5 1287 1494.9 1289 1494.7 1291 1497.2 1292.3 1503.5 1291 1503.5Z"/>
</g>
<path d="M839 1354V1502.5H1426" fill="none" stroke="#3a3a3a" stroke-width="1.4"/>
<path d="M839 1354h7" stroke="#3a3a3a" stroke-width="1.4"/>
<path d="M839 1412.5h7" stroke="#3a3a3a" stroke-width="1.4"/>
<path d="M839 1472.5h7" stroke="#3a3a3a" stroke-width="1.4"/>
<path d="M933.5 1502.5v-7" stroke="#3a3a3a" stroke-width="1.4"/>
<path d="M1027.5 1502.5v-7" stroke="#3a3a3a" stroke-width="1.4"/>
<path d="M1121 1502.5v-7" stroke="#3a3a3a" stroke-width="1.4"/>
<path d="M1215 1502.5v-7" stroke="#3a3a3a" stroke-width="1.4"/>
<path d="M1309 1502.5v-7" stroke="#3a3a3a" stroke-width="1.4"/>
<path d="M1403.5 1502.5v-7" stroke="#3a3a3a" stroke-width="1.4"/>
<rect x="1441" y="1498.3" width="8" height="4.5" fill="#5a74b6"/>
<rect x="1441" y="1494" width="8" height="4.5" fill="#6280bb"/>
<rect x="1441" y="1489.8" width="8" height="4.5" fill="#6a8cc0"/>
<rect x="1441" y="1485.5" width="8" height="4.5" fill="#7498c8"/>
<rect x="1441" y="1481.3" width="8" height="4.5" fill="#7ea5cf"/>
<rect x="1441" y="1477" width="8" height="4.5" fill="#88b0d6"/>
<rect x="1441" y="1472.8" width="8" height="4.5" fill="#93bcdc"/>
<rect x="1441" y="1468.6" width="8" height="4.5" fill="#9ec6e0"/>
<rect x="1441" y="1464.3" width="8" height="4.5" fill="#a9cfe4"/>
<rect x="1441" y="1460.1" width="8" height="4.5" fill="#b7d8e8"/>
<rect x="1441" y="1455.8" width="8" height="4.5" fill="#c5e0ec"/>
<rect x="1441" y="1451.6" width="8" height="4.5" fill="#d0e6f0"/>
<rect x="1441" y="1447.3" width="8" height="4.5" fill="#dcedf4"/>
<rect x="1441" y="1443.1" width="8" height="4.5" fill="#e6f2ea"/>
<rect x="1441" y="1438.9" width="8" height="4.5" fill="#eff6e0"/>
<rect x="1441" y="1434.6" width="8" height="4.5" fill="#f5f7d2"/>
<rect x="1441" y="1430.4" width="8" height="4.5" fill="#fbf8c3"/>
<rect x="1441" y="1426.1" width="8" height="4.5" fill="#f9f2b1"/>
<rect x="1441" y="1421.9" width="8" height="4.5" fill="#f7ec9f"/>
<rect x="1441" y="1417.7" width="8" height="4.5" fill="#f5e496"/>
<rect x="1441" y="1413.4" width="8" height="4.5" fill="#f3db8d"/>
<rect x="1441" y="1409.2" width="8" height="4.5" fill="#f1d084"/>
<rect x="1441" y="1404.9" width="8" height="4.5" fill="#efc47a"/>
<rect x="1441" y="1400.7" width="8" height="4.5" fill="#eeb871"/>
<rect x="1441" y="1396.4" width="8" height="4.5" fill="#ecab68"/>
<rect x="1441" y="1392.2" width="8" height="4.5" fill="#eaa061"/>
<rect x="1441" y="1388" width="8" height="4.5" fill="#e8955a"/>
<rect x="1441" y="1383.7" width="8" height="4.5" fill="#e48651"/>
<rect x="1441" y="1379.5" width="8" height="4.5" fill="#e07848"/>
<rect x="1441" y="1375.2" width="8" height="4.5" fill="#db6c44"/>
<rect x="1441" y="1371" width="8" height="4.5" fill="#d6603f"/>
<rect x="1441" y="1366.7" width="8" height="4.5" fill="#cf5536"/>
<rect x="1441" y="1362.5" width="8" height="4.5" fill="#c84a2e"/>
<text x="806.2" y="1534.9" font-size="37.6" textLength="80.7" lengthAdjust="spacingAndGlyphs" stroke="#000" stroke-width="0.55">10:00</text>
<text x="895.9" y="1534.9" font-size="37.6" textLength="79.7" lengthAdjust="spacingAndGlyphs" stroke="#000" stroke-width="0.55">14:00</text>
<text x="993.9" y="1534.9" font-size="37.6" textLength="79.7" lengthAdjust="spacingAndGlyphs" stroke="#000" stroke-width="0.55">18:00</text>
<text x="1084.7" y="1534.9" font-size="37.6" textLength="79.9" lengthAdjust="spacingAndGlyphs" stroke="#000" stroke-width="0.55">22:00</text>
<text x="1179.8" y="1534.9" font-size="37.6" textLength="79.1" lengthAdjust="spacingAndGlyphs" stroke="#000" stroke-width="0.55">02:00</text>
<text x="1276.4" y="1534.9" font-size="37.6" textLength="79.5" lengthAdjust="spacingAndGlyphs" stroke="#000" stroke-width="0.55">06:00</text>
<text x="1371.8" y="1534.9" font-size="37.6" textLength="79.8" lengthAdjust="spacingAndGlyphs" stroke="#000" stroke-width="0.55">10:00</text>
<text x="811.6" y="1366.8" font-size="34.2" textLength="17.7" lengthAdjust="spacingAndGlyphs" stroke="#000" stroke-width="0.55">0</text>
<text x="803.7" y="1425.3" font-size="34.2" textLength="28.3" lengthAdjust="spacingAndGlyphs" stroke="#000" stroke-width="0.55">-5</text>
<text x="791.8" y="1485.3" font-size="34.2" textLength="45.9" lengthAdjust="spacingAndGlyphs" stroke="#000" stroke-width="0.55">-10</text>
<text x="1455.7" y="1378.4" font-size="34.6" textLength="36.6" lengthAdjust="spacingAndGlyphs" stroke="#000" stroke-width="0.55">20</text>
<text x="1454.9" y="1447.9" font-size="34.6" textLength="36.6" lengthAdjust="spacingAndGlyphs" stroke="#000" stroke-width="0.55">10</text>
<text x="1456.1" y="1514.4" font-size="34.6" textLength="18.3" lengthAdjust="spacingAndGlyphs" stroke="#000" stroke-width="0.55">0</text>
<text x="835.2" y="1346.5" font-size="32.7" textLength="138.8" lengthAdjust="spacingAndGlyphs" stroke="#000" stroke-width="0.55">Depth(m)</text>
<text x="1316.5" y="1346.5" font-size="30.8" textLength="162.9" lengthAdjust="spacingAndGlyphs" stroke="#000" stroke-width="0.55">SSC(mg/L)</text>
<text x="837.4" y="1383.9" font-size="33.0" font-weight="bold">(O)</text>
<clipPath id="cP"><path d="M840 1639 847.5 1635.9 854.9 1632.9 862.4 1630.1 869.9 1627.5 877.3 1625.1 884.8 1623 892.3 1621 899.7 1619.2 907.2 1617.7 914.7 1616.4 922.2 1615.3 929.6 1614.5 937.1 1613.9 944.6 1613.6 952 1613.5 959.5 1613.9 967 1614.7 974.4 1616 981.9 1617.5 989.4 1619.3 996.8 1621.3 1004.3 1623.5 1011.8 1625.8 1019.2 1628 1026.7 1630.3 1034.2 1632.4 1041.6 1634.4 1049.1 1636.2 1056.6 1637.7 1064.1 1638.9 1071.5 1639.7 1079 1640 1086.5 1639.8 1093.9 1639.1 1101.4 1637.9 1108.9 1636.3 1116.3 1634.3 1123.8 1632.1 1131.3 1629.6 1138.7 1626.9 1146.2 1624.1 1153.7 1621.3 1161.1 1618.4 1168.6 1615.6 1176.1 1612.8 1183.5 1610.3 1191 1608 1198.5 1605.9 1205.9 1604.2 1213.4 1602.8 1220.9 1601.9 1228.4 1601.5 1235.8 1601.7 1243.3 1602.5 1250.8 1603.8 1258.2 1605.5 1265.7 1607.7 1273.2 1610.2 1280.6 1613 1288.1 1616 1295.6 1619.2 1303 1622.5 1310.5 1625.8 1318 1629.1 1325.4 1632.3 1332.9 1635.4 1340.4 1638.3 1347.8 1640.8 1355.3 1643.1 1362.8 1644.9 1370.3 1646.3 1377.7 1647.2 1385.2 1647.5 1392.7 1647.3 1400.1 1646.7 1407.6 1645.8 1415.1 1644.6 1422.5 1643.1 1430 1641.5 1430 1751 840 1751Z"/></clipPath>
<g clip-path="url(#cP)">
<rect x="840.0" y="1599.5" width="590.0" height="152.0" fill="#5a74b6"/>
<path fill-rule="evenodd" fill="#6280bb" d="M1430 1751.5 840 1751.5 840 1599.5 1430 1599.5 1430 1751.5Z"/>
<path fill-rule="evenodd" fill="#6a8cc0" d="M1430 1751.5 840 1751.5 840 1599.5 1430 1599.5 1430 1751.5Z"/>
<path fill-rule="evenodd" fill="#7498c8" d="M1430 1751.5 840 1751.5 840 1599.5 1430 1599.5 1430 1751.5ZM1134.7 1695.5 1137.9 1689.5 1138.4 1679.5 1136.8 1665.5 1136 1662.7 1134 1661.7 1130.5 1671.5 1129.2 1685.5 1130.8 1693.5 1132 1695.2 1134.7 1695.5Z"/>
<path fill-rule="evenodd" fill="#7ea5cf" d="M1430 1751.5 840 1751.5 840 1599.5 1430 1599.5 1430 1751.5ZM1136.9 1701.5 1140 1696.6 1141.9 1689.5 1143.8 1657.5 1142 1643.5 1140 1639.6 1136 1637.4 1130 1641.1 1127.4 1647.5 1124.7 1683.5 1125.3 1691.5 1128 1698 1132 1702.2 1134 1702.8 1136.9 1701.5Z"/>
<path fill-rule="evenodd" fill="#88b0d6" d="M1430 1751.5 840 1751.5 840 1599.5 1115.1 1599.5 1115.3 1631.5 1118.9 1657.5 1121 1689.5 1124.9 1699.5 1130 1705.6 1134 1708 1138 1706.6 1143.3 1697.5 1153.2 1657.5 1157 1631.5 1157.6 1599.5 1182.7 1599.5 1183.7 1649.5 1189.4 1659.5 1194 1662 1198 1662.3 1216 1659.8 1220 1657.5 1224 1651.6 1226.3 1639.5 1226.4 1599.5 1430 1599.5 1430 1751.5Z"/>
<path fill-rule="evenodd" fill="#93bcdc" d="M1430 1751.5 840 1751.5 840 1599.5 1104.7 1599.5 1105.2 1637.5 1113.1 1667.5 1117.3 1691.5 1119.7 1697.5 1125.7 1705.5 1132 1711.9 1136 1713.1 1142 1707.7 1158 1679.9 1164 1673.6 1168 1671.5 1172 1671.4 1176 1673.6 1190 1689.9 1196 1694.2 1202 1694.7 1216 1693 1226 1686.2 1232 1676.6 1234.6 1663.5 1236 1599.5 1430 1599.5 1430 1751.5Z"/>
<path fill-rule="evenodd" fill="#9ec6e0" d="M1430 1751.5 840 1751.5 840 1599.5 991 1599.5 991.8 1655.5 998 1667.5 1002 1670.6 1006 1671.7 1010 1670.6 1014 1667 1032.7 1635.5 1034.7 1627.5 1034.9 1599.5 1094.9 1599.5 1095 1633.5 1096.4 1643.5 1113.6 1693.5 1118.1 1701.5 1132 1716.7 1136 1718.5 1140 1716.6 1150 1703.9 1156 1698.7 1166 1693.5 1172 1693.2 1176 1695.3 1181.2 1701.5 1194 1728.1 1198 1730.6 1204 1731.2 1214 1730.3 1220 1726.7 1234 1704.9 1238 1696 1240.2 1675.5 1240.6 1599.5 1430 1599.5 1430 1751.5Z"/>
<path fill-rule="evenodd" fill="#a9cfe4" d="M1184 1751.5 840 1751.5 840 1599.5 976.9 1599.5 976.4 1645.5 978 1658.7 983 1671.5 994 1691.2 1000 1698.7 1004 1700.6 1010 1698.4 1018 1690.4 1024.9 1681.5 1030 1671.5 1044.5 1633.5 1045.1 1599.5 1084.7 1599.5 1084.8 1633.5 1086.5 1643.5 1094.8 1665.5 1111.9 1699.5 1132 1722.2 1136 1724.5 1140.1 1723.5 1154 1711.9 1166 1708.6 1172 1709.7 1176 1714.2 1180 1724.7 1185.3 1747.5 1185.8 1751.5 1184 1751.5ZM1430 1751.5 1229.6 1751.5 1238 1731 1242 1704.8 1243.2 1599.5 1430 1599.5 1430 1751.5Z"/>
<path fill-rule="evenodd" fill="#b7d8e8" d="M1174 1751.5 840 1751.5 840 1599.5 968.5 1599.5 967.7 1643.5 969 1657.5 986 1709.2 990.3 1717.5 996 1723.9 1002 1726.5 1008 1724.9 1032 1695.1 1037.5 1685.5 1045.2 1661.5 1050 1654.2 1054 1652.3 1072 1653.9 1076 1655.1 1080 1658.6 1090.4 1677.5 1107.6 1701.5 1122.6 1715.5 1132 1728.3 1138 1731.2 1152 1726.8 1166 1729.1 1170 1732.6 1172.6 1737.5 1175.3 1749.5 1175.4 1751.5 1174 1751.5ZM1430 1751.5 1241.8 1751.5 1244.6 1697.5 1244.9 1599.5 1430 1599.5 1430 1751.5Z"/>
<path fill-rule="evenodd" fill="#c5e0ec" d="M1154 1751.5 840 1751.5 840 1599.5 961.7 1599.5 961.6 1641.5 963.1 1657.5 980.4 1725.5 984 1734.5 990 1740.4 1002 1743.2 1010 1739.9 1026 1717 1042.2 1699.5 1053.4 1679.5 1058 1676.3 1064 1675.5 1073.8 1679.5 1084.9 1691.5 1120 1718.6 1132 1734.7 1146 1740.4 1150.5 1743.5 1155.2 1749.5 1155.8 1751.5 1154 1751.5ZM1430 1751.5 1244.7 1751.5 1246.2 1703.5 1246.4 1599.5 1430 1599.5 1430 1751.5Z"/>
<path fill-rule="evenodd" fill="#d0e6f0" d="M976 1751.5 840 1751.5 840 1599.5 955.7 1599.5 958.1 1651.5 972.7 1721.5 977.6 1749.5 977.7 1751.5 976 1751.5ZM1430 1751.5 1246.5 1751.5 1247.6 1599.5 1430 1599.5 1430 1751.5ZM1142 1751.5 1015.4 1751.5 1019 1743.5 1030 1726.9 1046 1709.4 1057.9 1693.5 1064 1690.8 1069.4 1693.5 1082 1705.8 1118 1725.1 1130 1739.7 1140.8 1747.5 1142 1751.5Z"/>
<path fill-rule="evenodd" fill="#dcedf4" d="M972 1751.5 840 1751.5 840 1599.5 949.2 1599.5 949.7 1615.5 954.5 1649.5 967.1 1715.5 972 1751.5ZM1430 1751.5 1248 1751.5 1248.6 1599.5 1430 1599.5 1430 1751.5ZM1132 1751.5 1025.4 1751.5 1030 1741.9 1046 1722.9 1056 1708.1 1060 1703.9 1064 1702.5 1068 1704.2 1082 1719.6 1096 1730.9 1104 1734.7 1118 1737.9 1132 1751.5Z"/>
<path fill-rule="evenodd" fill="#e6f2ea" d="M968 1751.5 840 1751.5 840 1599.5 896.5 1599.5 898 1618 901.7 1621.5 910 1625 914 1629.3 922 1655.1 926 1658.5 930 1656.8 934 1651.7 941.7 1633.5 944 1632.7 946 1634.3 950 1645 957 1675.5 968 1751.5ZM1430 1751.5 1249.2 1751.5 1249.7 1599.5 1430 1599.5 1430 1751.5ZM1082 1751.5 1037 1751.5 1058 1716.5 1064 1712.4 1070 1716.7 1074.8 1725.5 1083.2 1747.5 1083.8 1751.5 1082 1751.5Z"/>
<path fill-rule="evenodd" fill="#eff6e0" d="M964 1751.5 840 1751.5 840 1599.5 889.8 1599.5 890 1615.5 892 1623.2 909.1 1639.5 918 1666.2 922 1671.7 928 1669.9 934 1663.7 942 1652.1 944 1650.6 946 1651 950 1658.4 954.9 1677.5 964.4 1743.5 965 1751.5 964 1751.5ZM1430 1751.5 1250.3 1751.5 1250.6 1599.5 1430 1599.5 1430 1751.5ZM1074 1751.5 1048.2 1751.5 1056.6 1731.5 1062 1723.7 1066 1724 1070 1730.4 1073.8 1743.5 1074 1751.5Z"/>
<path fill-rule="evenodd" fill="#f5f7d2" d="M962 1751.5 840 1751.5 840 1599.5 884.3 1599.5 884.4 1615.5 886 1623.5 892 1632.7 906 1647.5 915.7 1675.5 920 1681.8 922 1682.5 926 1680.9 942 1661.7 946 1660.9 948 1663.3 953.3 1681.5 962 1751.5ZM1430 1751.5 1251.3 1751.5 1251.5 1599.5 1430 1599.5 1430 1751.5ZM1068 1751.5 1055.5 1751.5 1058 1742.9 1062 1737.1 1064 1736.7 1067.5 1741.5 1069.6 1751.5 1068 1751.5Z"/>
<path fill-rule="evenodd" fill="#fbf8c3" d="M958 1751.5 840 1751.5 840 1599.5 878.5 1599.5 878.7 1617.5 880.1 1623.5 890 1638.2 903 1653.5 913.1 1681.5 918 1688.5 922 1690.2 926 1688.7 942 1669.3 944 1668.4 946.4 1669.5 950 1677.3 952 1687.8 959.2 1747.5 959.5 1751.5 958 1751.5ZM1430 1751.5 1252.2 1751.5 1252.4 1599.5 1430 1599.5 1430 1751.5Z"/>
<path fill-rule="evenodd" fill="#f9f2b1" d="M956 1751.5 840 1751.5 840 1599.5 872.7 1599.5 872.9 1619.5 874.7 1625.5 900 1657.8 910.6 1685.5 918 1694.6 922 1696 926 1694.8 940 1678.6 944 1676.3 946 1677.5 948.5 1683.5 950.7 1695.5 956.6 1745.5 957 1751.5 956 1751.5ZM1430 1751.5 1253.2 1751.5 1253.3 1599.5 1430 1599.5 1430 1751.5Z"/>
<path fill-rule="evenodd" fill="#f7ec9f" d="M954 1751.5 840 1751.5 840 1599.5 866.9 1599.5 867.1 1621.5 868.5 1627.5 880 1637.8 898 1662.5 908 1688.1 916 1698.2 920 1700.7 924 1701 929.5 1697.5 940 1686.8 944 1685.7 945.4 1687.5 950 1707.9 954.4 1745.5 954 1751.5ZM1430 1751.5 1254.1 1751.5 1254.3 1599.5 1430 1599.5 1430 1751.5Z"/>
<path fill-rule="evenodd" fill="#f5e496" d="M952 1751.5 840 1751.5 840 1599.5 861.4 1599.5 861.6 1625.5 863.9 1633.5 868 1637.2 876 1640 880 1643.8 896.8 1667.5 906 1691.5 912 1699.6 918 1704.5 924 1705.9 940 1695.2 944 1696.7 948.7 1715.5 952 1751.5ZM1430 1751.5 1255.1 1751.5 1255.2 1599.5 1430 1599.5 1430 1751.5ZM1407.9 1705.5 1412 1702.9 1413.7 1697.5 1410 1693.4 1404 1693.2 1400 1697.5 1400.1 1701.5 1404 1705.4 1407.9 1705.5Z"/>
<path fill-rule="evenodd" fill="#f3db8d" d="M950 1751.5 840 1751.5 840 1599.5 854.9 1599.5 855.2 1627.5 858.8 1639.5 864 1645.8 874 1645.2 880 1649.9 895.3 1671.5 903.2 1693.5 908.4 1701.5 918 1709.5 922 1711.1 926 1710.2 936 1703.9 940 1703.4 942 1704.8 947.2 1721.5 950.4 1745.5 950 1751.5ZM1430 1751.5 1256.1 1751.5 1256.2 1599.5 1430 1599.5 1430 1751.5ZM1408.3 1717.5 1414 1714.6 1421.1 1707.5 1424.6 1701.5 1425.2 1695.5 1421.7 1689.5 1414 1683.5 1406 1681 1398 1681.7 1392 1685.1 1389.4 1689.5 1388 1697.5 1388.8 1707.5 1391.6 1713.5 1396 1716.9 1402 1718.3 1408.3 1717.5Z"/>
<path fill-rule="evenodd" fill="#f1d084" d="M1430 1751.5 1257.2 1751.5 1257.3 1599.5 1399.8 1599.5 1399.7 1643.5 1397.7 1655.5 1392 1662.4 1378 1666 1374.3 1673.5 1378 1725.5 1380 1730.4 1384 1733.1 1406 1730.1 1414 1725.6 1426 1713.3 1430 1710.9 1430 1751.5ZM1430 1684.6 1420.3 1677.5 1417.3 1673.5 1415.3 1667.5 1416.1 1599.5 1430 1599.5 1430 1684.6ZM948 1751.5 840 1751.5 840 1644 850 1643.7 862 1657.9 864 1658 872 1652.2 878 1653.8 893.9 1675.5 904 1703.1 918 1715 924 1716.3 934 1710.8 940 1711.6 943.2 1717.5 945.8 1727.5 948.6 1747.5 948 1751.5Z"/>
<path fill-rule="evenodd" fill="#efc47a" d="M1430 1751.5 1258.3 1751.5 1258.6 1599.5 1389.6 1599.5 1388.5 1645.5 1384 1650.5 1374 1652.8 1368.8 1655.5 1366 1659.5 1364.4 1665.5 1364.5 1695.5 1372 1732.5 1374.7 1739.5 1380 1744.8 1386 1746.1 1402 1744.3 1412 1740.2 1426 1724.3 1430 1721.8 1430 1751.5ZM1430 1672.3 1427.4 1669.5 1426.3 1663.5 1427.4 1599.5 1430 1599.5 1430 1672.3ZM946 1751.5 840 1751.5 840 1658.4 850 1658.6 862 1671.5 872 1659.9 874 1658.9 878 1660.2 892 1678.8 899.9 1705.5 904 1711.7 920 1722.2 924 1721.9 934 1716.7 938 1717.6 940 1719.8 945 1735.5 946.9 1749.5 946 1751.5Z"/>
<path fill-rule="evenodd" fill="#eeb871" d="M1370 1751.5 1259.6 1751.5 1260 1599.5 1357.2 1599.5 1356.7 1663.5 1358 1686.1 1359.8 1701.5 1364.7 1719.5 1370.9 1751.5 1370 1751.5ZM944 1751.5 840 1751.5 840 1672.6 850 1673.1 860 1685 862 1685.5 872 1668 874 1666.2 878 1666.5 884.6 1673.5 890 1682 898 1714.6 901.6 1721.5 920 1728.8 932 1723.2 936 1723.2 939.8 1727.5 942 1733.3 944.8 1747.5 945.1 1751.5 944 1751.5ZM1430 1751.5 1417.4 1751.5 1424 1739.8 1430 1734.7 1430 1751.5Z"/>
<path fill-rule="evenodd" fill="#ecab68" d="M1362 1751.5 1261 1751.5 1261.8 1599.5 1349.4 1599.5 1350.2 1667.5 1361.1 1721.5 1363.4 1749.5 1363.5 1751.5 1362 1751.5ZM942 1751.5 840 1751.5 840 1686.7 850 1687.6 860 1699.7 862 1700 866 1693.3 872 1676.8 874 1674 878 1673.1 884 1678.9 888.6 1687.5 896 1726.2 900 1736.3 904 1738.4 918 1736.3 934 1728.9 937.6 1731.5 940 1736 942.9 1747.5 943.2 1751.5 942 1751.5Z"/>
<path fill-rule="evenodd" fill="#eaa061" d="M1358 1751.5 1262.7 1751.5 1262.8 1639.5 1264.4 1599.5 1286.4 1599.5 1288 1626.8 1290 1645.2 1292 1651.3 1300.9 1633.5 1306 1631 1312 1632.5 1316 1636.4 1318.4 1641.5 1324.7 1667.5 1328.7 1671.5 1342 1677.3 1346.4 1681.5 1350 1689.4 1357.4 1719.5 1358 1751.5ZM894 1751.5 840 1751.5 840 1700.3 850 1702 860 1714.8 862 1715.2 866 1707.8 874 1683 876 1680.9 880 1681.6 885.3 1689.5 888.8 1701.5 895.5 1749.5 895.6 1751.5 894 1751.5ZM940 1751.5 914.8 1751.5 919.5 1743.5 932 1734.9 936 1736.3 938 1739.1 940.7 1747.5 941.1 1751.5 940 1751.5Z"/>
<path fill-rule="evenodd" fill="#e8955a" d="M1354 1751.5 1264.9 1751.5 1265.1 1637.5 1269.7 1599.5 1278.3 1599.5 1283 1631.5 1286 1670.5 1290 1688.4 1292 1690.9 1294 1691 1298.7 1685.5 1301.5 1677.5 1305.7 1653.5 1308 1650.1 1310 1650.3 1312.1 1653.5 1316.8 1673.5 1320 1678.8 1328 1684.3 1342 1689.5 1348 1697.7 1354.6 1721.5 1355.1 1751.5 1354 1751.5ZM888 1751.5 840 1751.5 840 1713.3 850 1716.4 862 1731.3 864 1730 866 1725.4 874 1694.1 878 1690.1 882.9 1695.5 886.9 1709.5 889.7 1749.5 889.8 1751.5 888 1751.5ZM938 1751.5 921.8 1751.5 924.9 1745.5 932 1740.8 936.3 1743.5 938.1 1747.5 938 1751.5Z"/>
<path fill-rule="evenodd" fill="#e48651" d="M1350 1751.5 1267.8 1751.5 1268 1642 1269.5 1629.5 1272 1623.5 1274 1622.7 1276 1624.4 1278.9 1633.5 1283.6 1697.5 1288 1719.4 1290 1721.2 1292 1720.3 1302 1706.2 1308 1702.2 1312 1701.9 1315.3 1703.5 1322 1713.4 1324 1714.1 1332 1701.6 1336 1700.3 1342 1701.5 1348 1709.3 1351 1719.5 1351.6 1751.5 1350 1751.5ZM884 1751.5 864.1 1751.5 868.2 1739.5 874 1707.7 878 1702.2 882 1707.4 883.7 1715.5 884 1751.5ZM862 1751.5 840 1751.5 840 1737.5 846 1732.3 850 1732.3 854 1736.3 863.4 1751.5 862 1751.5ZM934 1751.5 928 1751.5 932 1747.5 934.5 1749.5 935.1 1751.5 934 1751.5Z"/>
<path fill-rule="evenodd" fill="#e07848" d="M1282 1751.5 1273.4 1751.5 1274 1717.6 1276 1706 1282 1751.5ZM1346 1751.5 1291.4 1751.5 1298.7 1729.5 1306 1718 1310 1716.9 1312 1717.9 1322 1736.5 1326 1739.2 1330 1734.7 1334.5 1717.5 1336 1715 1340 1713.2 1344 1715.5 1346.4 1721.5 1347 1751.5 1346 1751.5Z"/>
<path fill-rule="evenodd" fill="#db6c44" d="M1320 1751.5 1298.1 1751.5 1302 1737.9 1308 1730.4 1312 1731.4 1316 1737.4 1321.3 1749.5 1321.7 1751.5 1320 1751.5Z"/>
<path fill-rule="evenodd" fill="#d6603f" d="M1316 1751.5 1303.4 1751.5 1306 1744 1310 1741.6 1314 1745 1316 1751.5Z"/>
</g>
<path d="M840 1602.5V1751H1430" fill="none" stroke="#3a3a3a" stroke-width="1.4"/>
<path d="M840 1602.5h7" stroke="#3a3a3a" stroke-width="1.4"/>
<path d="M840 1643.5h7" stroke="#3a3a3a" stroke-width="1.4"/>
<path d="M840 1682.5h7" stroke="#3a3a3a" stroke-width="1.4"/>
<path d="M840 1722.5h7" stroke="#3a3a3a" stroke-width="1.4"/>
<path d="M935 1751v-7" stroke="#3a3a3a" stroke-width="1.4"/>
<path d="M1029 1751v-7" stroke="#3a3a3a" stroke-width="1.4"/>
<path d="M1123 1751v-7" stroke="#3a3a3a" stroke-width="1.4"/>
<path d="M1217.5 1751v-7" stroke="#3a3a3a" stroke-width="1.4"/>
<path d="M1311.5 1751v-7" stroke="#3a3a3a" stroke-width="1.4"/>
<path d="M1406 1751v-7" stroke="#3a3a3a" stroke-width="1.4"/>
<rect x="1441.5" y="1745.9" width="7.5" height="4.4" fill="#5a74b6"/>
<rect x="1441.5" y="1741.7" width="7.5" height="4.4" fill="#6280bb"/>
<rect x="1441.5" y="1737.6" width="7.5" height="4.4" fill="#6a8cc0"/>
<rect x="1441.5" y="1733.5" width="7.5" height="4.4" fill="#7498c8"/>
<rect x="1441.5" y="1729.3" width="7.5" height="4.4" fill="#7ea5cf"/>
<rect x="1441.5" y="1725.2" width="7.5" height="4.4" fill="#88b0d6"/>
<rect x="1441.5" y="1721" width="7.5" height="4.4" fill="#93bcdc"/>
<rect x="1441.5" y="1716.9" width="7.5" height="4.4" fill="#9ec6e0"/>
<rect x="1441.5" y="1712.8" width="7.5" height="4.4" fill="#a9cfe4"/>
<rect x="1441.5" y="1708.6" width="7.5" height="4.4" fill="#b7d8e8"/>
<rect x="1441.5" y="1704.5" width="7.5" height="4.4" fill="#c5e0ec"/>
<rect x="1441.5" y="1700.4" width="7.5" height="4.4" fill="#d0e6f0"/>
<rect x="1441.5" y="1696.2" width="7.5" height="4.4" fill="#dcedf4"/>
<rect x="1441.5" y="1692.1" width="7.5" height="4.4" fill="#e6f2ea"/>
<rect x="1441.5" y="1688" width="7.5" height="4.4" fill="#eff6e0"/>
<rect x="1441.5" y="1683.8" width="7.5" height="4.4" fill="#f5f7d2"/>
<rect x="1441.5" y="1679.7" width="7.5" height="4.4" fill="#fbf8c3"/>
<rect x="1441.5" y="1675.5" width="7.5" height="4.4" fill="#f9f2b1"/>
<rect x="1441.5" y="1671.4" width="7.5" height="4.4" fill="#f7ec9f"/>
<rect x="1441.5" y="1667.3" width="7.5" height="4.4" fill="#f5e496"/>
<rect x="1441.5" y="1663.1" width="7.5" height="4.4" fill="#f3db8d"/>
<rect x="1441.5" y="1659" width="7.5" height="4.4" fill="#f1d084"/>
<rect x="1441.5" y="1654.9" width="7.5" height="4.4" fill="#efc47a"/>
<rect x="1441.5" y="1650.7" width="7.5" height="4.4" fill="#eeb871"/>
<rect x="1441.5" y="1646.6" width="7.5" height="4.4" fill="#ecab68"/>
<rect x="1441.5" y="1642.5" width="7.5" height="4.4" fill="#eaa061"/>
<rect x="1441.5" y="1638.3" width="7.5" height="4.4" fill="#e8955a"/>
<rect x="1441.5" y="1634.2" width="7.5" height="4.4" fill="#e48651"/>
<rect x="1441.5" y="1630" width="7.5" height="4.4" fill="#e07848"/>
<rect x="1441.5" y="1625.9" width="7.5" height="4.4" fill="#db6c44"/>
<rect x="1441.5" y="1621.8" width="7.5" height="4.4" fill="#d6603f"/>
<rect x="1441.5" y="1617.6" width="7.5" height="4.4" fill="#cf5536"/>
<rect x="1441.5" y="1613.5" width="7.5" height="4.4" fill="#c84a2e"/>
<text x="806.2" y="1783.9" font-size="37.6" textLength="80.7" lengthAdjust="spacingAndGlyphs" stroke="#000" stroke-width="0.55">10:00</text>
<text x="895.8" y="1783.9" font-size="37.6" textLength="80.7" lengthAdjust="spacingAndGlyphs" stroke="#000" stroke-width="0.55">14:00</text>
<text x="993.9" y="1783.9" font-size="37.6" textLength="79.7" lengthAdjust="spacingAndGlyphs" stroke="#000" stroke-width="0.55">18:00</text>
<text x="1083.4" y="1783.9" font-size="37.6" textLength="80.3" lengthAdjust="spacingAndGlyphs" stroke="#000" stroke-width="0.55">22:00</text>
<text x="1179.8" y="1783.9" font-size="37.6" textLength="79.5" lengthAdjust="spacingAndGlyphs" stroke="#000" stroke-width="0.55">02:00</text>
<text x="1276.4" y="1783.9" font-size="37.6" textLength="79.5" lengthAdjust="spacingAndGlyphs" stroke="#000" stroke-width="0.55">06:00</text>
<text x="1368.5" y="1783.9" font-size="37.6" textLength="80.7" lengthAdjust="spacingAndGlyphs" stroke="#000" stroke-width="0.55">10:00</text>
<text x="816.1" y="1615.3" font-size="34.2" textLength="17.7" lengthAdjust="spacingAndGlyphs" stroke="#000" stroke-width="0.55">0</text>
<text x="808.7" y="1656.3" font-size="34.2" textLength="28.3" lengthAdjust="spacingAndGlyphs" stroke="#000" stroke-width="0.55">-2</text>
<text x="808.1" y="1695.3" font-size="34.2" textLength="28.3" lengthAdjust="spacingAndGlyphs" stroke="#000" stroke-width="0.55">-4</text>
<text x="808.5" y="1735.3" font-size="34.2" textLength="28.3" lengthAdjust="spacingAndGlyphs" stroke="#000" stroke-width="0.55">-6</text>
<text x="1456.6" y="1656.9" font-size="34.6" textLength="36.6" lengthAdjust="spacingAndGlyphs" stroke="#000" stroke-width="0.55">40</text>
<text x="1455.7" y="1710.9" font-size="34.6" textLength="36.6" lengthAdjust="spacingAndGlyphs" stroke="#000" stroke-width="0.55">20</text>
<text x="1456.1" y="1761.9" font-size="34.6" textLength="18.3" lengthAdjust="spacingAndGlyphs" stroke="#000" stroke-width="0.55">0</text>
<text x="837.4" y="1598.4" font-size="32.7" textLength="136.5" lengthAdjust="spacingAndGlyphs" stroke="#000" stroke-width="0.55">Depth(m)</text>
<text x="1317.4" y="1599.3" font-size="32.2" textLength="162.0" lengthAdjust="spacingAndGlyphs" stroke="#000" stroke-width="0.55">SSC(mg/L)</text>
<text x="838.4" y="1629.9" font-size="33.0" font-weight="bold">(P)</text>
<clipPath id="cQ"><path d="M840 1881 847.5 1878.6 854.9 1876.2 862.4 1874.1 869.9 1872 877.3 1870.2 884.8 1868.4 892.3 1866.9 899.7 1865.5 907.2 1864.3 914.7 1863.3 922.2 1862.6 929.6 1862 937.1 1861.6 944.6 1861.5 952 1861.7 959.5 1862.2 967 1863 974.4 1864 981.9 1865.3 989.4 1866.8 996.8 1868.3 1004.3 1870 1011.8 1871.6 1019.2 1873.3 1026.7 1874.9 1034.2 1876.4 1041.6 1877.8 1049.1 1879 1056.6 1879.9 1064.1 1880.6 1071.5 1881 1079 1880.9 1086.5 1880.5 1093.9 1879.8 1101.4 1878.7 1108.9 1877.4 1116.3 1875.9 1123.8 1874.1 1131.3 1872.2 1138.7 1870.2 1146.2 1868.2 1153.7 1866.1 1161.1 1864 1168.6 1862 1176.1 1860 1183.5 1858.2 1191 1856.6 1198.5 1855.2 1205.9 1854 1213.4 1853.2 1220.9 1852.7 1228.4 1852.5 1235.8 1852.8 1243.3 1853.5 1250.8 1854.6 1258.2 1856 1265.7 1857.7 1273.2 1859.6 1280.6 1861.8 1288.1 1864.1 1295.6 1866.5 1303 1868.9 1310.5 1871.4 1318 1873.9 1325.4 1876.3 1332.9 1878.5 1340.4 1880.7 1347.8 1882.6 1355.3 1884.2 1362.8 1885.6 1370.3 1886.6 1377.7 1887.3 1385.2 1887.5 1392.7 1887.3 1400.1 1886.8 1407.6 1886 1415.1 1885 1422.5 1883.8 1430 1882.5 1430 2006 840 2006Z"/></clipPath>
<g clip-path="url(#cQ)">
<rect x="840.0" y="1850.5" width="590.0" height="156.0" fill="#5a74b6"/>
<path fill-rule="evenodd" fill="#6280bb" d="M1430 2006.5 840 2006.5 840 1850.5 1430 1850.5 1430 2006.5Z"/>
<path fill-rule="evenodd" fill="#6a8cc0" d="M1430 2006.5 840 2006.5 840 1850.5 1430 1850.5 1430 2006.5Z"/>
<path fill-rule="evenodd" fill="#7498c8" d="M1430 2006.5 1245.2 2006.5 1242 2003.8 1238.6 2004.5 1237.2 2006.5 840 2006.5 840 1850.5 1430 1850.5 1430 2006.5ZM931.5 1946.5 936 1942.9 938.3 1936.5 937.8 1930.5 934 1925.3 928 1923.8 914 1924.6 908 1926.9 904.8 1930.5 903.8 1938.5 908 1945 916 1947.4 931.5 1946.5Z"/>
<path fill-rule="evenodd" fill="#7ea5cf" d="M1430 2006.5 1258 2006.5 1256 2000.4 1250 1992.3 1246 1989 1240 1987.1 1234 1988.5 1229.2 1992.5 1225.6 1998.5 1223.8 2006.5 840 2006.5 840 1850.5 992 1850.5 992.5 1864.5 995 1872.5 1002 1884.2 1008 1887.2 1013.7 1884.5 1016.7 1878.5 1018.2 1850.5 1228 1850.5 1230.5 1932.5 1234.5 1942.5 1238 1945.3 1242 1946 1246 1944.8 1251 1940.5 1255 1930.5 1255.2 1850.5 1376.7 1850.5 1377 1890.5 1378.1 1896.5 1380 1899.6 1382 1900 1386 1895 1387.9 1886.5 1388.2 1850.5 1430 1850.5 1430 2006.5ZM934.9 1960.5 942 1952.5 946 1940.5 946 1927.7 941.7 1916.5 936 1911.4 928 1909.9 910 1911.4 900 1915.5 894.7 1922.5 892.5 1934.5 894.2 1944.5 900 1954.7 906 1960 912 1962 928 1962.3 934.9 1960.5Z"/>
<path fill-rule="evenodd" fill="#88b0d6" d="M1204 2006.5 893.4 2006.5 892 2001.2 890 2000.2 887.1 2002.5 885.5 2006.5 840 2006.5 840 1850.5 881 1850.5 880 1904.5 884.7 1942.5 888 1953.4 898 1975.1 902 1978.3 906 1978.7 928 1976.7 936 1974.2 944 1964.8 951.2 1948.5 953.3 1938.5 953.6 1928.5 951.8 1916.5 945.7 1896.5 945.4 1850.5 972.6 1850.5 973.1 1864.5 975.3 1872.5 995.8 1904.5 1004 1911.5 1024 1922 1028 1922.8 1032 1919.3 1034.5 1910.5 1039.3 1874.5 1039.5 1850.5 1169.3 1850.5 1169.3 1900.5 1171.4 1910.5 1178.9 1928.5 1180.3 1972.5 1182.2 1978.5 1186 1984.5 1204 2000.5 1206 2006.5 1204 2006.5ZM1196 1868.8 1190 1868.6 1186 1865.8 1182.2 1858.5 1181.2 1850.5 1208 1850.5 1204.2 1862.5 1196 1868.8ZM1430 2006.5 1267.7 2006.5 1257.5 1978.5 1255.8 1968.5 1257 1962.5 1264 1946.3 1265.8 1936.5 1266.9 1850.5 1365.2 1850.5 1365.3 1888.5 1367.4 1908.5 1370 1916.7 1376 1919.8 1382 1918.2 1386 1914.4 1394.3 1896.5 1396.5 1884.5 1396.7 1850.5 1430 1850.5 1430 2006.5Z"/>
<path fill-rule="evenodd" fill="#93bcdc" d="M876 2006.5 840 2006.5 840 1850.5 870.7 1850.5 869.8 1908.5 883.1 1972.5 877.5 2006.5 876 2006.5ZM1178 2006.5 906.1 2006.5 908 2000.5 912 1996.2 936 1987.5 944 1980.5 960.9 1952.5 968.9 1924.5 972 1919.3 976 1916.1 980 1915.2 984 1916.2 996 1924.5 1010 1931.4 1026 1949.4 1030 1950.3 1036 1946.6 1041.8 1934.5 1047.8 1898.5 1058 1884.5 1060.5 1878.5 1061.2 1850.5 1144 1850.5 1163.6 1850.5 1163.8 1902.5 1166.7 1934.5 1167.3 1976.5 1170 1988.8 1178.6 2004.5 1179.2 2006.5 1178 2006.5ZM1430 2006.5 1276.8 2006.5 1269.5 1968.5 1271 1936.5 1270.6 1888.5 1272.8 1850.5 1354 1850.5 1354.2 1884.5 1356.8 1898.5 1363.6 1918.5 1368 1924.1 1374 1926.5 1382 1924.8 1388 1920.8 1392.4 1914.5 1398.8 1900.5 1402.8 1884.5 1403 1850.5 1430 1850.5 1430 2006.5Z"/>
<path fill-rule="evenodd" fill="#9ec6e0" d="M1164 2006.5 1044.5 2006.5 1040.1 1978.5 1040.9 1970.5 1043.9 1964.5 1052 1958.6 1072 1957.8 1080 1954.6 1085.3 1948.5 1104 1919.7 1106.9 1910.5 1112.8 1876.5 1113.5 1850.5 1160.1 1850.5 1159.7 1972.5 1164 2006.5ZM1430 2006.5 1284 2006.5 1276.7 1962.5 1275.1 1942.5 1274.1 1890.5 1277.8 1850.5 1305.5 1850.5 1306.3 1868.5 1312 1880.2 1342 1895.6 1362.3 1924.5 1368 1929.5 1374 1931 1384 1928.6 1390.4 1924.5 1396.6 1916.5 1404.8 1900.5 1410 1884.5 1410.4 1850.5 1430 1850.5 1430 2006.5ZM872 2006.5 840 2006.5 840 1896.4 846 1898.3 852.1 1904.5 864 1927.5 870 1944.2 875.4 1970.5 872 2006.5ZM1020 2006.5 926.4 2006.5 930.5 2002.5 942 1995.8 958 1982.1 978 1981.5 984 1979.7 989.7 1974.5 998 1960.6 1004 1957.1 1008 1959.1 1012 1963.4 1019.1 1976.5 1021.1 1992.5 1021.1 2006.5 1020 2006.5Z"/>
<path fill-rule="evenodd" fill="#a9cfe4" d="M1154 2006.5 1086.9 2006.5 1087.9 1972.5 1092 1964 1106.1 1946.5 1113.7 1928.5 1120.1 1894.5 1125.8 1872.5 1126.4 1850.5 1156.9 1850.5 1156.6 1908.5 1152.3 1942.5 1154 2006.5ZM1430 2006.5 1289.4 2006.5 1286.4 1980.5 1279.4 1946.5 1277.6 1916.5 1278 1884.5 1283.6 1860.5 1284.2 1850.5 1295.1 1850.5 1297.2 1868.5 1304 1886 1310 1895.2 1316 1899 1336 1906.1 1350 1920.7 1366 1932.8 1372 1935 1384 1932.4 1392 1928.2 1399.5 1920.5 1410.8 1904.5 1416.9 1894.5 1420.2 1884.5 1420.8 1850.5 1430 1850.5 1430 2006.5ZM866 2006.5 840 2006.5 840 1928.2 846 1930.7 853.8 1938.5 862 1951.5 865.8 1960.5 868.1 1976.5 866 2006.5ZM1016 2006.5 949.9 2006.5 952.5 2002.5 958 1998.5 984 1991.8 1000 1982.5 1004 1981.5 1008 1982.7 1012.7 1988.5 1015.9 1998.5 1016 2006.5Z"/>
<path fill-rule="evenodd" fill="#b7d8e8" d="M1144 1925.6 1138 1925.8 1134 1923.9 1130 1918.6 1128.3 1912.5 1128.3 1898.5 1133.2 1870.5 1133.5 1850.5 1153.4 1850.5 1152.7 1908.5 1150 1919 1144 1925.6ZM1430 2006.5 1293.7 2006.5 1290.4 1974.5 1283.5 1946.5 1281.9 1932.5 1281.2 1892.5 1282.8 1882.5 1286 1875.5 1288 1874.4 1292 1876.7 1303.4 1900.5 1310 1907.7 1316 1910.6 1336 1915.8 1349.9 1928.5 1370 1938.6 1376 1938.1 1392.3 1932.5 1424 1906.3 1430 1903.4 1430 2006.5ZM858 2006.5 840 2006.5 840 1958.6 848 1962.2 855 1972.5 858.4 1990.5 859 2006.5 858 2006.5ZM1012 2006.5 976.1 2006.5 981.2 2002.5 1002 1993.4 1006 1994.2 1008.6 1996.5 1012 2006.5Z"/>
<path fill-rule="evenodd" fill="#c5e0ec" d="M1144 1910 1142 1910 1139.1 1906.5 1138.2 1894.5 1141.1 1870.5 1141.5 1850.5 1147.8 1850.5 1148 1900.1 1146.7 1906.5 1144 1910ZM1430 2006.5 1297.3 2006.5 1293.8 1968.5 1286.4 1934.5 1286.1 1906.5 1288 1894.8 1290 1894.1 1299.4 1908.5 1308 1915.7 1318 1919.8 1336 1922.7 1348 1934.6 1358 1937.3 1368 1942.2 1374 1942 1390 1937.5 1412 1925.4 1430 1919.9 1430 2006.5ZM846 2006.5 840 2006.5 840 1992.3 844 1995.5 846 1999.4 847.4 2006.5 846 2006.5ZM1004 2006.5 998.2 2006.5 1002 2005 1004 2006.5Z"/>
<path fill-rule="evenodd" fill="#d0e6f0" d="M1430 2006.5 1300.6 2006.5 1297.5 1964.5 1292.9 1938.5 1294.4 1924.5 1296 1922.4 1300 1921.6 1320 1927.7 1334 1927.6 1340 1931.9 1350 1944.2 1358 1944.1 1368 1946.3 1394 1940.1 1414 1932.5 1430 1929.8 1430 2006.5Z"/>
<path fill-rule="evenodd" fill="#dcedf4" d="M1430 2006.5 1303.7 2006.5 1301.2 1950.5 1301.7 1940.5 1303.2 1936.5 1308 1934.1 1320 1935.3 1334 1933 1340 1938 1348 1953.1 1352 1957.1 1362 1951.7 1382 1945.8 1430 1939.1 1430 2006.5Z"/>
<path fill-rule="evenodd" fill="#e6f2ea" d="M1350 2006.5 1306.8 2006.5 1306 1962.5 1308 1951.7 1312 1946 1332 1938.3 1336 1939.5 1340 1944.5 1349.7 1972.5 1351.7 2004.5 1351.7 2006.5 1350 2006.5ZM1430 2006.5 1355 2006.5 1356.4 1974.5 1360.7 1960.5 1366.9 1954.5 1384 1948.3 1396 1948.4 1410 1950.8 1430 1950.8 1430 2006.5Z"/>
<path fill-rule="evenodd" fill="#eff6e0" d="M1346 2006.5 1310 2006.5 1309.8 1974.5 1312 1960.9 1316.6 1954.5 1332 1944 1336 1945.2 1338.6 1948.5 1344.9 1966.5 1347.6 1998.5 1347.8 2006.5 1346 2006.5ZM1430 2006.5 1359.2 2006.5 1360.6 1972.5 1364.9 1960.5 1376 1953.2 1388 1950.9 1398 1953.3 1412 1962.8 1430 1965.8 1430 2006.5Z"/>
<path fill-rule="evenodd" fill="#f5f7d2" d="M1344 2006.5 1313.1 2006.5 1313.7 1982.5 1316 1968.5 1322.1 1958.5 1332 1949.8 1336 1951 1338 1953.7 1343 1968.5 1345.7 2000.5 1345.8 2006.5 1344 2006.5ZM1408 2006.5 1361.4 2006.5 1363 1972.5 1365.5 1964.5 1370 1959.2 1378 1954.9 1386 1953.5 1394 1955.3 1400.8 1960.5 1405.4 1968.5 1407.5 1976.5 1408 2006.5ZM1430 2006.5 1419 2006.5 1422.4 1990.5 1426 1985.9 1430 1984.3 1430 2006.5Z"/>
<path fill-rule="evenodd" fill="#fbf8c3" d="M1344 2006.5 1316.1 2006.5 1317.3 1986.5 1320.1 1972.5 1326 1961 1332 1955.5 1336 1956.9 1340.8 1968.5 1343.1 1984.5 1344 2006.5ZM1404 2006.5 1363 2006.5 1364.9 1972.5 1368 1964.6 1372 1960.5 1380 1956.6 1386 1956 1393.7 1958.5 1398.2 1962.5 1401.5 1968.5 1403.3 1976.5 1404 2006.5Z"/>
<path fill-rule="evenodd" fill="#f9f2b1" d="M1402 2006.5 1364.4 2006.5 1366.8 1972.5 1370 1965.4 1375.9 1960.5 1382 1958.5 1388 1958.9 1394 1962.1 1397.6 1966.5 1401 1978.5 1402 2006.5ZM1342 2006.5 1318.9 2006.5 1320.1 1990.5 1323 1976.5 1327.1 1966.5 1332 1961.3 1336 1962.9 1340 1974 1342.5 1996.5 1342 2006.5Z"/>
<path fill-rule="evenodd" fill="#f7ec9f" d="M1400 2006.5 1365.8 2006.5 1368 1974.5 1370.3 1968.5 1376 1962.9 1382 1960.8 1388 1961.5 1392.9 1964.5 1396 1968.5 1399.4 1982.5 1400 2006.5ZM1340 2006.5 1321.5 2006.5 1325.2 1980.5 1328.1 1972.5 1332 1967.5 1334 1967.5 1336 1969.6 1338.8 1978.5 1341.5 2002.5 1341.6 2006.5 1340 2006.5Z"/>
<path fill-rule="evenodd" fill="#f5e496" d="M1398 2006.5 1367 2006.5 1369.7 1974.5 1372.7 1968.5 1378 1964.2 1384 1963.1 1388 1964.1 1394.4 1970.5 1398 1986.5 1398.9 2006.5 1398 2006.5ZM1340 2006.5 1323.8 2006.5 1326.6 1986.5 1332 1974.6 1334 1974.6 1336 1977.3 1338 1984.2 1340 2006.5Z"/>
<path fill-rule="evenodd" fill="#f3db8d" d="M1396 2006.5 1368.2 2006.5 1370.5 1978.5 1373.7 1970.5 1378 1966.8 1386 1966 1390 1968.4 1393 1972.5 1396.7 1990.5 1397.4 2006.5 1396 2006.5ZM1338 2006.5 1326.1 2006.5 1328 1992.3 1332 1982.8 1334 1982.7 1336.1 1986.5 1338.3 1998.5 1338 2006.5Z"/>
<path fill-rule="evenodd" fill="#f1d084" d="M1394 2006.5 1369.5 2006.5 1372.2 1978.5 1375 1972.5 1380 1968.5 1384 1968.2 1388 1970 1392.3 1976.5 1395.7 1998.5 1395.9 2006.5 1394 2006.5ZM1336 2006.5 1328.4 2006.5 1330 1996.5 1332 1992.1 1334 1992 1336 1996.7 1337.1 2006.5 1336 2006.5Z"/>
<path fill-rule="evenodd" fill="#efc47a" d="M1394 2006.5 1370.8 2006.5 1373.6 1980.5 1376 1975 1380 1971.5 1386 1972 1390.7 1978.5 1393.7 1992.5 1394 2006.5ZM1334 2006.5 1332 2006.5 1334 2005.4 1334 2006.5Z"/>
<path fill-rule="evenodd" fill="#eeb871" d="M1392 2006.5 1372.1 2006.5 1374.1 1986.5 1376 1980.2 1380 1975.1 1384 1974.7 1386 1976 1389.7 1982.5 1392.5 1996.5 1393 2006.5 1392 2006.5Z"/>
<path fill-rule="evenodd" fill="#ecab68" d="M1390 2006.5 1373.6 2006.5 1376 1987.1 1378 1982.2 1382 1978.9 1386 1981 1389.2 1988.5 1391.2 2002.5 1391.4 2006.5 1390 2006.5Z"/>
<path fill-rule="evenodd" fill="#eaa061" d="M1388 2006.5 1375.3 2006.5 1377.5 1990.5 1382 1984.4 1386 1987.4 1388 1992.7 1389.6 2006.5 1388 2006.5Z"/>
<path fill-rule="evenodd" fill="#e8955a" d="M1386 2006.5 1377.4 2006.5 1378.7 1996.5 1382 1991.2 1384 1992 1386.2 1996.5 1387.4 2006.5 1386 2006.5Z"/>
<path fill-rule="evenodd" fill="#e48651" d="M1382 2006.5 1382 2003.1 1383.5 2006.5 1382 2006.5Z"/>
</g>
<path d="M840 1852.5V2006H1430" fill="none" stroke="#3a3a3a" stroke-width="1.4"/>
<path d="M840 1852.5h7" stroke="#3a3a3a" stroke-width="1.4"/>
<path d="M840 1909h7" stroke="#3a3a3a" stroke-width="1.4"/>
<path d="M840 1965h7" stroke="#3a3a3a" stroke-width="1.4"/>
<path d="M935 2006v-7" stroke="#3a3a3a" stroke-width="1.4"/>
<path d="M1028.5 2006v-7" stroke="#3a3a3a" stroke-width="1.4"/>
<path d="M1123 2006v-7" stroke="#3a3a3a" stroke-width="1.4"/>
<path d="M1217.5 2006v-7" stroke="#3a3a3a" stroke-width="1.4"/>
<path d="M1311.5 2006v-7" stroke="#3a3a3a" stroke-width="1.4"/>
<path d="M1406 2006v-7" stroke="#3a3a3a" stroke-width="1.4"/>
<rect x="1446" y="2001.9" width="9" height="4.4" fill="#5a74b6"/>
<rect x="1446" y="1997.8" width="9" height="4.4" fill="#6280bb"/>
<rect x="1446" y="1993.6" width="9" height="4.4" fill="#6a8cc0"/>
<rect x="1446" y="1989.5" width="9" height="4.4" fill="#7498c8"/>
<rect x="1446" y="1985.4" width="9" height="4.4" fill="#7ea5cf"/>
<rect x="1446" y="1981.3" width="9" height="4.4" fill="#88b0d6"/>
<rect x="1446" y="1977.2" width="9" height="4.4" fill="#93bcdc"/>
<rect x="1446" y="1973" width="9" height="4.4" fill="#9ec6e0"/>
<rect x="1446" y="1968.9" width="9" height="4.4" fill="#a9cfe4"/>
<rect x="1446" y="1964.8" width="9" height="4.4" fill="#b7d8e8"/>
<rect x="1446" y="1960.7" width="9" height="4.4" fill="#c5e0ec"/>
<rect x="1446" y="1956.5" width="9" height="4.4" fill="#d0e6f0"/>
<rect x="1446" y="1952.4" width="9" height="4.4" fill="#dcedf4"/>
<rect x="1446" y="1948.3" width="9" height="4.4" fill="#e6f2ea"/>
<rect x="1446" y="1944.2" width="9" height="4.4" fill="#eff6e0"/>
<rect x="1446" y="1940.1" width="9" height="4.4" fill="#f5f7d2"/>
<rect x="1446" y="1935.9" width="9" height="4.4" fill="#fbf8c3"/>
<rect x="1446" y="1931.8" width="9" height="4.4" fill="#f9f2b1"/>
<rect x="1446" y="1927.7" width="9" height="4.4" fill="#f7ec9f"/>
<rect x="1446" y="1923.6" width="9" height="4.4" fill="#f5e496"/>
<rect x="1446" y="1919.5" width="9" height="4.4" fill="#f3db8d"/>
<rect x="1446" y="1915.3" width="9" height="4.4" fill="#f1d084"/>
<rect x="1446" y="1911.2" width="9" height="4.4" fill="#efc47a"/>
<rect x="1446" y="1907.1" width="9" height="4.4" fill="#eeb871"/>
<rect x="1446" y="1903" width="9" height="4.4" fill="#ecab68"/>
<rect x="1446" y="1898.8" width="9" height="4.4" fill="#eaa061"/>
<rect x="1446" y="1894.7" width="9" height="4.4" fill="#e8955a"/>
<rect x="1446" y="1890.6" width="9" height="4.4" fill="#e48651"/>
<rect x="1446" y="1886.5" width="9" height="4.4" fill="#e07848"/>
<rect x="1446" y="1882.4" width="9" height="4.4" fill="#db6c44"/>
<rect x="1446" y="1878.2" width="9" height="4.4" fill="#d6603f"/>
<rect x="1446" y="1874.1" width="9" height="4.4" fill="#cf5536"/>
<rect x="1446" y="1870" width="9" height="4.4" fill="#c84a2e"/>
<text x="807.1" y="2039.9" font-size="37.6" textLength="80.7" lengthAdjust="spacingAndGlyphs" stroke="#000" stroke-width="0.55">10:00</text>
<text x="897.3" y="2039.9" font-size="37.6" textLength="79.7" lengthAdjust="spacingAndGlyphs" stroke="#000" stroke-width="0.55">14:00</text>
<text x="994.3" y="2039.9" font-size="37.6" textLength="80.2" lengthAdjust="spacingAndGlyphs" stroke="#000" stroke-width="0.55">18:00</text>
<text x="1084.7" y="2039.9" font-size="37.6" textLength="79.9" lengthAdjust="spacingAndGlyphs" stroke="#000" stroke-width="0.55">22:00</text>
<text x="1180.8" y="2039.9" font-size="37.6" textLength="79.5" lengthAdjust="spacingAndGlyphs" stroke="#000" stroke-width="0.55">02:00</text>
<text x="1277.8" y="2039.9" font-size="37.6" textLength="79.1" lengthAdjust="spacingAndGlyphs" stroke="#000" stroke-width="0.55">06:00</text>
<text x="1370.8" y="2039.9" font-size="37.6" textLength="80.7" lengthAdjust="spacingAndGlyphs" stroke="#000" stroke-width="0.55">10:00</text>
<text x="816.1" y="1865.3" font-size="34.2" textLength="17.7" lengthAdjust="spacingAndGlyphs" stroke="#000" stroke-width="0.55">0</text>
<text x="808.1" y="1921.8" font-size="34.2" textLength="28.3" lengthAdjust="spacingAndGlyphs" stroke="#000" stroke-width="0.55">-4</text>
<text x="808.5" y="1977.8" font-size="34.2" textLength="28.3" lengthAdjust="spacingAndGlyphs" stroke="#000" stroke-width="0.55">-8</text>
<text x="1461.7" y="1886.9" font-size="34.6" textLength="36.6" lengthAdjust="spacingAndGlyphs" stroke="#000" stroke-width="0.55">20</text>
<text x="1460.9" y="1953.4" font-size="34.6" textLength="36.6" lengthAdjust="spacingAndGlyphs" stroke="#000" stroke-width="0.55">10</text>
<text x="1462.1" y="2020.9" font-size="34.6" textLength="18.3" lengthAdjust="spacingAndGlyphs" stroke="#000" stroke-width="0.55">0</text>
<text x="835.2" y="1850.4" font-size="32.7" textLength="137.3" lengthAdjust="spacingAndGlyphs" stroke="#000" stroke-width="0.55">Depth(m)</text>
<text x="1315.6" y="1850.4" font-size="30.9" textLength="162.9" lengthAdjust="spacingAndGlyphs" stroke="#000" stroke-width="0.55">SSC(mg/L)</text>
<text x="838.4" y="1881.4" font-size="33.0" font-weight="bold">(Q)</text>
<clipPath id="cR"><path d="M838.5 2129.5 846 2128.5 853.5 2127.6 861 2126.8 868.5 2126.1 876 2125.5 883.5 2125 891 2124.6 898.5 2124.2 906 2123.9 913.5 2123.6 921 2123.4 928.5 2123.2 936 2123.1 943.5 2123.1 951 2123 958.5 2123 966 2123.1 973.5 2123.5 981 2124.1 988.5 2125 996 2126 1003.5 2127.2 1011 2128.4 1018.5 2129.7 1026 2131 1033.5 2132.3 1041 2133.5 1048.5 2134.6 1056 2135.5 1063.5 2136.3 1071 2136.8 1078.5 2137 1086 2136.9 1093.5 2136.5 1101 2135.9 1108.5 2135.1 1116 2134.1 1123.5 2132.9 1131 2131.6 1138.5 2130.2 1146 2128.8 1153.5 2127.3 1161 2125.8 1168.5 2124.3 1176 2122.9 1183.5 2121.6 1191 2120.4 1198.5 2119.3 1206 2118.4 1213.5 2117.7 1221 2117.2 1228.5 2117 1236 2117.1 1243.5 2117.5 1251 2118.2 1258.5 2119.1 1266 2120.2 1273.5 2121.5 1281 2123 1288.5 2124.6 1296 2126.3 1303.5 2128 1311 2129.7 1318.5 2131.5 1326 2133.2 1333.5 2134.8 1341 2136.4 1348.5 2137.8 1356 2139.1 1363.5 2140.2 1371 2141 1378.5 2141.6 1386 2142 1393.5 2142 1401 2141.7 1408.5 2141.1 1416 2140.4 1423.5 2139.5 1431 2138.5 1431 2253.5 838.5 2253.5Z"/></clipPath>
<g clip-path="url(#cR)">
<rect x="838.5" y="2115.0" width="594.0" height="140.0" fill="#5a74b6"/>
<path fill-rule="evenodd" fill="#6280bb" d="M1432.5 2255 838.5 2255 838.5 2115 1432.5 2115 1432.5 2255Z"/>
<path fill-rule="evenodd" fill="#6a8cc0" d="M1432.5 2255 838.5 2255 838.5 2115 1432.5 2115 1432.5 2255Z"/>
<path fill-rule="evenodd" fill="#7498c8" d="M1432.5 2255 838.5 2255 838.5 2115 1284.8 2115 1285 2153 1286.5 2160.4 1288.5 2161.7 1290.9 2155 1291.1 2115 1432.5 2115 1432.5 2255Z"/>
<path fill-rule="evenodd" fill="#7ea5cf" d="M1432.5 2255 838.5 2255 838.5 2115 1277.3 2115 1278.1 2161 1282.5 2174.1 1288.5 2179.2 1292.4 2177 1294.5 2173.9 1297.9 2163 1298.6 2115 1432.5 2115 1432.5 2255Z"/>
<path fill-rule="evenodd" fill="#88b0d6" d="M1432.5 2255 838.5 2255 838.5 2115 1272.4 2115 1272.4 2153 1273.8 2165 1280.5 2182.6 1284.5 2187.2 1288.5 2188.7 1292.5 2187.5 1296.4 2183 1303 2167 1304.3 2115 1432.5 2115 1432.5 2255Z"/>
<path fill-rule="evenodd" fill="#93bcdc" d="M1432.5 2255 838.5 2255 838.5 2115 1268.2 2115 1268.4 2155 1270.5 2169 1274.5 2181 1278.5 2188.4 1282.5 2192.2 1288.5 2194.5 1294.4 2193 1298.7 2189 1304.7 2179 1308.4 2169 1309.7 2157 1309.8 2115 1432.5 2115 1432.5 2255Z"/>
<path fill-rule="evenodd" fill="#9ec6e0" d="M1432.5 2255 838.5 2255 838.5 2115 1019.6 2115 1020.6 2137 1024.1 2145 1028.5 2147.9 1032.6 2147 1036.6 2141 1038.2 2115 1143.6 2115 1144 2161 1146.5 2168 1150.5 2169.5 1157.1 2165 1161 2157 1161.7 2115 1264.5 2115 1264.8 2157 1268.5 2176.1 1272.5 2186.6 1276.5 2192.4 1282.9 2197 1290.5 2198.7 1296.5 2196.8 1303.3 2191 1308.6 2183 1312.5 2173.4 1314.5 2159.1 1314.6 2115 1432.5 2115 1432.5 2255Z"/>
<path fill-rule="evenodd" fill="#a9cfe4" d="M1432.5 2255 838.5 2255 838.5 2115 1009.4 2115 1009.8 2141 1012.7 2157 1014.9 2161 1019.5 2165 1030.5 2167.9 1040.5 2165.4 1044.5 2160 1046.9 2145 1047.2 2115 1137.6 2115 1138.3 2167 1142.5 2179.1 1148.5 2183.2 1154.5 2181.2 1160.5 2176.5 1166.5 2170.2 1170.9 2163 1172.8 2153 1173 2115 1261.4 2115 1261.8 2159 1266.5 2182 1270.5 2191 1274.5 2195.7 1282.5 2200.6 1290.5 2202.3 1298.5 2199.9 1306.5 2194.2 1310.8 2189 1315.4 2179 1318.4 2163 1318.6 2115 1432.5 2115 1432.5 2255Z"/>
<path fill-rule="evenodd" fill="#b7d8e8" d="M1432.5 2255 838.5 2255 838.5 2115 1001.7 2115 1001.8 2155 1004.2 2167 1006.7 2171 1012.5 2175.1 1030.5 2178.7 1044.5 2176 1050.2 2169 1051.7 2157 1051.9 2115 1133.7 2115 1134.7 2171 1140.5 2187.1 1144.5 2191 1148.5 2191.9 1154.5 2190.2 1162.5 2184.2 1170.5 2175.4 1175.4 2167 1178 2155 1178.2 2115 1258.6 2115 1259.1 2161 1264.4 2187 1267.3 2193 1272.7 2199 1282.5 2204.2 1290.5 2205.8 1298.5 2203.7 1309.5 2197 1314.5 2191.2 1318.2 2183 1321.8 2165 1322 2115 1432.5 2115 1432.5 2255Z"/>
<path fill-rule="evenodd" fill="#c5e0ec" d="M1432.5 2255 1272.8 2255 1270.5 2250.8 1266.5 2249.8 1264.4 2251 1262.6 2255 838.5 2255 838.5 2115 996 2115 996.1 2159 1000.5 2176 1004.5 2181.7 1008.5 2184.4 1030.5 2187.6 1038.5 2186.7 1046.5 2183.7 1052.8 2175 1054.8 2163 1054.9 2115 1130.5 2115 1130.6 2161 1132.5 2177 1138.5 2192.5 1142.5 2196.1 1148.5 2197.5 1156.5 2195.4 1164.5 2190.1 1172.5 2181.3 1178.5 2170.5 1181.8 2155 1182 2115 1256.1 2115 1256.5 2161.5 1261.4 2189 1265.4 2197 1270.5 2202.2 1280.5 2207.1 1290.5 2209.2 1298.5 2207.1 1310.5 2200.7 1316.5 2195 1320.5 2187 1324.8 2167 1325.1 2115 1432.5 2115 1432.5 2255Z"/>
<path fill-rule="evenodd" fill="#d0e6f0" d="M1432.5 2255 1277.6 2255 1274.5 2246.8 1268.5 2242.9 1262.5 2245.8 1259.1 2255 838.5 2255 838.5 2170.4 846.5 2167.1 852.4 2159 864.5 2132.9 866.6 2125 867.1 2115 991.7 2115 992.2 2163 994.8 2175 1000.5 2188 1004.5 2192.4 1010.5 2194.6 1028.5 2195.8 1038.5 2194.9 1048.5 2190.3 1052.5 2184.8 1055.9 2175 1057.2 2163 1057.2 2115 1127.8 2115 1127.9 2163 1130.5 2181.7 1134.5 2193 1138.5 2198.2 1144.5 2201.4 1150.5 2201.7 1159.6 2199 1168.5 2193.3 1174.5 2186.3 1180.6 2175 1184.8 2157 1185.1 2115 1253.8 2115 1254.3 2165 1256.5 2182.9 1259.2 2193 1263.5 2201 1268.5 2206.2 1278.5 2210.6 1290.5 2212.9 1298.5 2210.6 1313 2203 1318.5 2198 1322.5 2190.9 1327.7 2167 1327.9 2115 1422.5 2115 1423 2169 1426.5 2177.9 1432.5 2181.8 1432.5 2255Z"/>
<path fill-rule="evenodd" fill="#dcedf4" d="M1432.5 2255 1281.3 2255 1280.1 2247 1276.5 2239 1272.5 2235.1 1268.5 2234 1264.5 2236 1260.5 2241.6 1256.5 2255 838.5 2255 838.5 2184.2 854.5 2180.5 859.3 2177 862.5 2172.3 872.1 2137 874.1 2115 988.2 2115 989 2165 992.5 2180.5 998.5 2194.7 1002.5 2199.3 1008.5 2202 1028.5 2203.1 1040.5 2201.7 1046.5 2199.7 1050.5 2196.4 1054.5 2188.7 1057.9 2177 1059.2 2163 1059.2 2115 1125.5 2115 1125.7 2167 1129.6 2189 1133.2 2197 1138.5 2202.6 1144.5 2205.2 1152.5 2205.2 1162.5 2202.3 1171.1 2197 1176.5 2190.9 1182.5 2179.2 1187.4 2159 1187.8 2115 1251.5 2115 1252.1 2167 1254 2185 1256.5 2195 1262.5 2206.9 1268.5 2213.1 1276.5 2216.2 1288.5 2217.7 1296.5 2215.1 1314.5 2205.7 1320.5 2200.5 1324.9 2193 1330.1 2169 1330.5 2115 1412.8 2115 1413.4 2173 1416.5 2184.2 1422.5 2196.8 1428.5 2205.9 1432.5 2208.3 1432.5 2255Z"/>
<path fill-rule="evenodd" fill="#e6f2ea" d="M1252.5 2255 838.5 2255 838.5 2198.5 862.5 2197.4 866.7 2195 870.5 2189.6 874.1 2173 879 2115 985.4 2115 985.9 2163 988.5 2178.2 993 2193 998.5 2202.6 1004.5 2207.8 1010.5 2209.4 1026.5 2210.2 1046.5 2206.9 1050.5 2204.2 1054.5 2197.6 1060.7 2171 1061 2115 1123.4 2115 1123.6 2167 1127 2189 1129.9 2197 1134.5 2203.3 1140.5 2207.4 1148.5 2209.1 1160.5 2207.1 1170.5 2202.9 1176.9 2197 1182.5 2187.7 1187.1 2175 1189.7 2161 1190.2 2115 1249.4 2115 1250.9 2183 1253.4 2195 1262.4 2221 1254.2 2255 1252.5 2255ZM1432.5 2255 1284.5 2255 1284.1 2237 1287.1 2227 1293.8 2221 1320.4 2205 1324.5 2200.2 1327.9 2193 1332.5 2168.7 1332.8 2115 1406.9 2115 1407 2167 1408.3 2181 1420.5 2220.7 1426.5 2229 1432.5 2231.7 1432.5 2255Z"/>
<path fill-rule="evenodd" fill="#eff6e0" d="M1250.5 2255 1053.6 2255 1052.5 2249.4 1048.5 2245.3 1044.9 2249 1043.6 2255 838.5 2255 838.5 2214 858.5 2213.5 864.5 2211.9 872.5 2205.4 878.5 2196.4 881.6 2181 883.2 2115 983.1 2115 983.6 2165 986.5 2182.1 990.9 2197 996.5 2207.1 1004.5 2215.3 1010.5 2217.3 1028.5 2218.1 1042.5 2216.3 1048.5 2214.2 1052.5 2209.9 1056.5 2201.1 1062.4 2171 1062.7 2115 1121.5 2115 1121.7 2167 1125.7 2193 1129.2 2201 1134.5 2207.2 1140.5 2210.9 1148.5 2212.5 1162.5 2210.7 1172.1 2207 1178.5 2201.2 1184.5 2191.3 1188.8 2179 1191.7 2163 1192.4 2115 1247.3 2115 1248.5 2184.6 1257.4 2221 1252.1 2255 1250.5 2255ZM1432.5 2255 1287.3 2255 1289 2237 1293.9 2227 1300.5 2220.8 1322.5 2207.1 1326.5 2202.4 1329.9 2195 1334.6 2169 1334.8 2115 1402.9 2115 1403.3 2175 1408.9 2211 1412.5 2224.2 1418.5 2235.9 1424.5 2242.6 1432.5 2246.3 1432.5 2255Z"/>
<path fill-rule="evenodd" fill="#f5f7d2" d="M1036.5 2255 838.5 2255 838.5 2229.6 856.5 2229.1 864.5 2226.7 878.5 2211.2 886.5 2197.2 888.2 2185 886.8 2115 981 2115 981.5 2165 984.5 2185.3 988.5 2199.9 998.5 2217.7 1006.5 2226.2 1012.5 2227.9 1028.5 2229.1 1034.5 2232.2 1037.1 2237 1038.1 2243 1038.1 2255 1036.5 2255ZM1248.5 2255 1056.9 2255 1052.6 2225 1059.7 2199 1063.5 2177 1064.2 2115 1119.8 2115 1120.1 2169 1124.1 2195 1127.5 2203 1132.5 2209.2 1140.5 2214.5 1148.5 2216.1 1164.5 2214.5 1172.5 2211.8 1180.2 2205 1186.5 2194.7 1190.5 2182.9 1193.6 2165 1194.3 2115 1245.2 2115 1246.1 2185 1253.7 2221 1250 2255 1248.5 2255ZM1420.5 2255 1289.8 2255 1291.5 2241 1296.5 2229.9 1303.5 2223 1324.5 2209.3 1328.5 2204.4 1331.8 2197 1336.5 2169 1336.7 2115 1399.8 2115 1400 2175 1404.5 2216.6 1408.7 2233 1420.5 2255Z"/>
<path fill-rule="evenodd" fill="#fbf8c3" d="M1030.5 2255 838.5 2255 838.5 2245.2 858.5 2244.7 866.5 2240.6 876.5 2227.9 890.5 2204.8 893.5 2187 889.8 2115 979.2 2115 979.7 2167 982.7 2189 986.5 2203.7 1004.5 2237.8 1010.5 2241.7 1026.5 2243.9 1030.5 2248.9 1031.5 2255 1030.5 2255ZM1246.5 2255 1059.1 2255 1057 2225 1065.3 2175 1065.8 2115 1118.1 2115 1118.4 2169 1122.7 2197 1126.5 2206 1132.6 2213 1140.5 2218.2 1150.5 2220 1166.5 2218.7 1174.5 2215.9 1182.5 2208 1188.8 2197 1192.5 2185.5 1195.3 2167 1196.1 2115 1243.2 2115 1243.8 2187 1250.4 2221 1247.8 2255 1246.5 2255ZM1410.5 2255 1292.2 2255 1293.9 2243 1298.5 2233 1304.5 2226.7 1326.5 2211.5 1332.8 2201 1338.2 2169 1338.5 2115 1397 2115 1397.2 2175 1400.1 2215 1402.7 2231 1410.4 2251 1410.5 2255Z"/>
<path fill-rule="evenodd" fill="#f9f2b1" d="M1000.5 2255 870.1 2255 873.5 2247 890.8 2221 895 2211 897.9 2199 898.4 2185 894.4 2153 892.6 2115 977.5 2115 977.7 2163 980.6 2191 986.5 2213.8 1001 2249 1002.1 2255 1000.5 2255ZM1244.5 2255 1061.1 2255 1059.9 2225 1066.9 2175 1067.3 2115 1116.5 2115 1116.8 2169 1121.9 2201 1126.5 2210.3 1134.5 2218.5 1142.5 2223.1 1152.5 2224.3 1168.5 2223.4 1174.5 2221.3 1182.5 2213.9 1190.5 2200.8 1194.5 2187.6 1197 2169 1197.7 2115 1241.2 2115 1241.6 2187 1247.1 2223 1244.5 2255ZM1404.5 2255 1294.4 2255 1296.1 2245 1300.5 2236 1307.5 2229 1326.5 2215.9 1330.8 2211 1334.5 2203 1339.7 2171 1340.1 2115 1394.3 2115 1394.5 2175 1396.7 2217 1398.5 2231 1404.5 2251 1404.5 2255Z"/>
<path fill-rule="evenodd" fill="#f7ec9f" d="M994.5 2255 880.4 2255 882.5 2250.1 892.5 2240.2 897 2233 901.3 2219 904.2 2203 904.6 2187 898.1 2157 895.1 2115 975.8 2115 976 2163 978.6 2193 985.9 2229 994.5 2255ZM1240.5 2255 1063 2255 1062.6 2221 1068.6 2173 1068.8 2115 1114.9 2115 1115.2 2169 1120.6 2203 1125.4 2213 1134.5 2222.8 1142.5 2227.6 1152.5 2229 1168.5 2228.6 1176.5 2225.7 1184.5 2217.4 1192.5 2203.7 1196.2 2191 1198.6 2171 1199.4 2115 1239.3 2115 1239.5 2189 1243.4 2225 1242.5 2255 1240.5 2255ZM1400.5 2255 1296.7 2255 1298.5 2246 1302.5 2238.9 1308.5 2233 1328.5 2218.7 1335.5 2207 1341.4 2171 1341.7 2115 1391.6 2115 1391.7 2175 1393.4 2219 1395.1 2233 1400.5 2255Z"/>
<path fill-rule="evenodd" fill="#f5e496" d="M914.5 2171.4 912.5 2172.7 908.5 2171.6 902.5 2159.4 898.7 2135 897.6 2115 922.5 2115 919.7 2157 917.3 2167 914.5 2171.4ZM980.5 2255 924.3 2255 924.6 2185 925.5 2177 931.1 2157 933.2 2115 974.2 2115 974.5 2167 980.2 2225 981.4 2249 980.5 2255ZM1238.5 2255 1064.8 2255 1064.8 2221 1070.2 2173 1070.4 2115 1113.3 2115 1113.7 2171 1116.9 2195 1120.7 2209 1128.5 2221.7 1138.5 2230.6 1146.5 2233.5 1164.5 2234.1 1172.5 2233.2 1180.5 2228.2 1190.5 2215 1195.9 2203 1198.5 2191 1200.4 2171 1201 2115 1237.3 2115 1238.5 2255ZM1396.5 2255 1299.2 2255 1300.5 2248.6 1304.5 2241.9 1328.5 2223.9 1332.7 2219 1336.5 2211 1343 2171 1343.3 2115 1388.8 2115 1390 2221 1391.3 2233 1396.5 2255Z"/>
<path fill-rule="evenodd" fill="#f3db8d" d="M910.5 2155.5 908.5 2155.5 906.5 2153 904.5 2147.7 901 2129 900.3 2115 917.5 2115 915.1 2143 912.5 2152.8 910.5 2155.5ZM974.5 2255 930.2 2255 930.6 2187 935.4 2159 938 2115 972.6 2115 972.9 2167 976.6 2229 976.5 2255 974.5 2255ZM1232.5 2255 1066.7 2255 1066.8 2221 1071.8 2177 1072.1 2115 1111.5 2115 1112.1 2173 1115.9 2199 1120.5 2214.2 1128.5 2226.9 1138.5 2235.8 1146.5 2238.7 1164.5 2239.4 1174.5 2238 1182.5 2232.2 1192.5 2219.1 1197.8 2207 1200.3 2195 1202 2175 1202.7 2115 1235.2 2115 1235.1 2191 1233.5 2255 1232.5 2255ZM1392.5 2255 1302.1 2255 1303.9 2249 1308.5 2243.3 1331.1 2227 1335.2 2221 1338.3 2213 1344.8 2169 1345 2115 1385.6 2115 1386.3 2223 1392.5 2255Z"/>
<path fill-rule="evenodd" fill="#f1d084" d="M910.5 2135 908.5 2136.3 906.5 2134 904.5 2127 903.7 2115 913.6 2115 912.8 2127 910.5 2135ZM972.5 2255 934 2255 934.7 2187 938 2161 941.2 2115 971 2115 971.1 2163 973.5 2221 972.5 2255ZM1226.5 2255 1068.6 2255 1068.9 2221 1073.6 2181 1073.9 2115 1109.6 2115 1110.1 2173 1114 2199 1119.1 2217 1127 2231 1138.5 2241.4 1146.5 2244.2 1164.5 2245 1174.5 2243.6 1182.5 2238.3 1194.1 2225 1199.6 2213 1202.2 2201 1203.7 2183 1204.6 2115 1232.9 2115 1232.7 2189 1228.1 2219 1227.9 2255 1226.5 2255ZM1388.5 2255 1306.1 2255 1310.9 2247 1332.5 2231.8 1339.1 2219 1346.7 2169 1346.9 2115 1381.9 2115 1382.2 2225 1383.7 2235 1388.8 2251 1388.5 2255Z"/>
<path fill-rule="evenodd" fill="#efc47a" d="M968.5 2255 937.3 2255 938 2187 943.9 2115 969.2 2115 970.7 2219 969.9 2255 968.5 2255ZM1220.5 2255 1070.6 2255 1071 2221 1075.7 2189 1076.2 2115 1107.3 2115 1108 2175 1113.1 2205 1118.5 2222.5 1126.5 2236.9 1136.5 2246.4 1146.5 2250.9 1162.5 2252.1 1170.5 2251.3 1178.5 2247.4 1195.1 2233 1201.2 2225 1204 2217 1205.7 2203 1206.8 2115 1230.3 2115 1229.9 2189 1228.5 2198.3 1221.9 2219 1220.5 2255ZM1384.5 2255 1312.2 2255 1316.5 2249.1 1328.5 2241.6 1334.5 2236.2 1341.4 2221 1348.9 2169 1349.2 2115 1377.7 2115 1377.7 2225 1379.2 2235 1384.7 2251 1384.5 2255Z"/>
<path fill-rule="evenodd" fill="#eeb871" d="M964.5 2255 940.6 2255 941 2185 946.5 2115 967.2 2115 968.3 2209 966.3 2255 964.5 2255ZM1134.5 2255 1072.9 2255 1073.4 2221 1078.8 2191 1079.2 2115 1104.6 2115 1104.9 2171 1109 2199 1118.6 2231 1122.8 2239 1134.5 2255ZM1218.5 2205.1 1214.5 2205.8 1212.5 2203.8 1209.9 2193 1209.8 2115 1227 2115 1226.6 2187 1224.3 2197 1218.5 2205.1ZM1380.5 2255 1322.2 2255 1336.5 2241 1341 2233 1344.1 2223 1351.8 2169 1352.1 2115 1372.9 2115 1372.8 2225 1380.5 2255ZM1202.5 2255 1180.8 2255 1188.5 2246.3 1196.5 2242.6 1200.5 2244.1 1202.4 2247 1204.1 2255 1202.5 2255Z"/>
<path fill-rule="evenodd" fill="#ecab68" d="M960.5 2255 945.1 2255 943.7 2185 949.2 2115 964.9 2115 966.4 2201 964.2 2233 960.5 2255ZM1124.5 2255 1075.6 2255 1076.1 2221 1084.1 2191 1084.2 2115 1100.2 2115 1100.3 2167 1102.1 2189 1115.6 2233 1125.6 2253 1126.1 2255 1124.5 2255ZM1218.5 2188.5 1216.5 2187.4 1215.6 2181 1215.4 2115 1221 2115 1220.9 2179 1220.5 2184.6 1218.5 2188.5ZM1376.5 2255 1333.4 2255 1344.7 2235 1348.9 2221 1351.2 2195 1357.2 2169 1357.5 2115 1365.9 2115 1366.1 2223 1367.5 2231 1376.5 2255Z"/>
<path fill-rule="evenodd" fill="#eaa061" d="M954.5 2241 952.5 2240.1 950.5 2236.1 948.5 2225.3 946.5 2199 946.7 2179 952.5 2115 961.9 2115 964.3 2199 960.5 2229.6 958.5 2236.4 954.5 2241ZM1118.5 2255 1079.1 2255 1079.6 2221 1082.5 2212.5 1088.5 2206 1096.5 2205.6 1100.5 2208.1 1104.5 2213.6 1118.5 2251 1118.5 2255ZM1370.5 2255 1340.4 2255 1342.6 2249 1348.5 2240.6 1352.5 2237.5 1356.5 2236.9 1362.5 2239.7 1366.5 2244.1 1370.4 2251 1370.5 2255Z"/>
<path fill-rule="evenodd" fill="#e8955a" d="M956.5 2218.9 954.5 2218.9 951.9 2213 949.3 2189 951.6 2167 954.5 2157.6 956.5 2157.2 960.5 2170.4 962.3 2189 960.5 2208.4 956.5 2218.9ZM1112.5 2255 1084 2255 1084.2 2227 1086 2221 1088.5 2218.2 1096.5 2218.2 1102.5 2223.5 1112.5 2249 1113.7 2255 1112.5 2255ZM1362.5 2255 1347.9 2255 1350.5 2250.8 1356.5 2249.2 1361.1 2251 1363.6 2255 1362.5 2255Z"/>
<path fill-rule="evenodd" fill="#e48651" d="M956.5 2200.8 954.5 2199.2 953.1 2189 954.5 2179 956.5 2177.5 958.5 2181.9 959 2189 958.5 2196.1 956.5 2200.8ZM1106.5 2255 1089.9 2255 1091.1 2243 1094.5 2235.3 1098.5 2234.7 1102.5 2238.7 1107.7 2251 1108.3 2255 1106.5 2255Z"/>
</g>
<path d="M838.5 2118V2253.5H1431" fill="none" stroke="#3a3a3a" stroke-width="1.4"/>
<path d="M838.5 2118h7" stroke="#3a3a3a" stroke-width="1.4"/>
<path d="M838.5 2155.5h7" stroke="#3a3a3a" stroke-width="1.4"/>
<path d="M838.5 2194.5h7" stroke="#3a3a3a" stroke-width="1.4"/>
<path d="M838.5 2234.5h7" stroke="#3a3a3a" stroke-width="1.4"/>
<path d="M933.5 2253.5v-7" stroke="#3a3a3a" stroke-width="1.4"/>
<path d="M1028.5 2253.5v-7" stroke="#3a3a3a" stroke-width="1.4"/>
<path d="M1124 2253.5v-7" stroke="#3a3a3a" stroke-width="1.4"/>
<path d="M1218.5 2253.5v-7" stroke="#3a3a3a" stroke-width="1.4"/>
<path d="M1313.5 2253.5v-7" stroke="#3a3a3a" stroke-width="1.4"/>
<path d="M1408 2253.5v-7" stroke="#3a3a3a" stroke-width="1.4"/>
<rect x="1442.5" y="2250.8" width="6" height="4" fill="#5a74b6"/>
<rect x="1442.5" y="2247.1" width="6" height="4" fill="#6280bb"/>
<rect x="1442.5" y="2243.5" width="6" height="4" fill="#6a8cc0"/>
<rect x="1442.5" y="2239.8" width="6" height="4" fill="#7498c8"/>
<rect x="1442.5" y="2236.1" width="6" height="4" fill="#7ea5cf"/>
<rect x="1442.5" y="2232.4" width="6" height="4" fill="#88b0d6"/>
<rect x="1442.5" y="2228.7" width="6" height="4" fill="#93bcdc"/>
<rect x="1442.5" y="2225" width="6" height="4" fill="#9ec6e0"/>
<rect x="1442.5" y="2221.4" width="6" height="4" fill="#a9cfe4"/>
<rect x="1442.5" y="2217.7" width="6" height="4" fill="#b7d8e8"/>
<rect x="1442.5" y="2214" width="6" height="4" fill="#c5e0ec"/>
<rect x="1442.5" y="2210.3" width="6" height="4" fill="#d0e6f0"/>
<rect x="1442.5" y="2206.6" width="6" height="4" fill="#dcedf4"/>
<rect x="1442.5" y="2203" width="6" height="4" fill="#e6f2ea"/>
<rect x="1442.5" y="2199.3" width="6" height="4" fill="#eff6e0"/>
<rect x="1442.5" y="2195.6" width="6" height="4" fill="#f5f7d2"/>
<rect x="1442.5" y="2191.9" width="6" height="4" fill="#fbf8c3"/>
<rect x="1442.5" y="2188.2" width="6" height="4" fill="#f9f2b1"/>
<rect x="1442.5" y="2184.5" width="6" height="4" fill="#f7ec9f"/>
<rect x="1442.5" y="2180.9" width="6" height="4" fill="#f5e496"/>
<rect x="1442.5" y="2177.2" width="6" height="4" fill="#f3db8d"/>
<rect x="1442.5" y="2173.5" width="6" height="4" fill="#f1d084"/>
<rect x="1442.5" y="2169.8" width="6" height="4" fill="#efc47a"/>
<rect x="1442.5" y="2166.1" width="6" height="4" fill="#eeb871"/>
<rect x="1442.5" y="2162.5" width="6" height="4" fill="#ecab68"/>
<rect x="1442.5" y="2158.8" width="6" height="4" fill="#eaa061"/>
<rect x="1442.5" y="2155.1" width="6" height="4" fill="#e8955a"/>
<rect x="1442.5" y="2151.4" width="6" height="4" fill="#e48651"/>
<rect x="1442.5" y="2147.7" width="6" height="4" fill="#e07848"/>
<rect x="1442.5" y="2144" width="6" height="4" fill="#db6c44"/>
<rect x="1442.5" y="2140.4" width="6" height="4" fill="#d6603f"/>
<rect x="1442.5" y="2136.7" width="6" height="4" fill="#cf5536"/>
<rect x="1442.5" y="2133" width="6" height="4" fill="#c84a2e"/>
<text x="806.2" y="2290.3" font-size="39.5" textLength="80.7" lengthAdjust="spacingAndGlyphs" stroke="#000" stroke-width="0.55">10:00</text>
<text x="895.8" y="2290.3" font-size="39.5" textLength="80.7" lengthAdjust="spacingAndGlyphs" stroke="#000" stroke-width="0.55">14:00</text>
<text x="993.9" y="2290.3" font-size="39.5" textLength="79.7" lengthAdjust="spacingAndGlyphs" stroke="#000" stroke-width="0.55">18:00</text>
<text x="1083.4" y="2290.3" font-size="39.5" textLength="81.2" lengthAdjust="spacingAndGlyphs" stroke="#000" stroke-width="0.55">22:00</text>
<text x="1179.8" y="2290.3" font-size="39.5" textLength="79.5" lengthAdjust="spacingAndGlyphs" stroke="#000" stroke-width="0.55">02:00</text>
<text x="1276.4" y="2290.3" font-size="39.5" textLength="79.5" lengthAdjust="spacingAndGlyphs" stroke="#000" stroke-width="0.55">06:00</text>
<text x="1368.5" y="2290.3" font-size="39.5" textLength="80.7" lengthAdjust="spacingAndGlyphs" stroke="#000" stroke-width="0.55">10:00</text>
<text x="814.6" y="2130.8" font-size="34.2" textLength="17.7" lengthAdjust="spacingAndGlyphs" stroke="#000" stroke-width="0.55">0</text>
<text x="807.2" y="2168.3" font-size="34.2" textLength="28.3" lengthAdjust="spacingAndGlyphs" stroke="#000" stroke-width="0.55">-2</text>
<text x="806.6" y="2207.3" font-size="34.2" textLength="28.3" lengthAdjust="spacingAndGlyphs" stroke="#000" stroke-width="0.55">-4</text>
<text x="807.0" y="2247.3" font-size="34.2" textLength="28.3" lengthAdjust="spacingAndGlyphs" stroke="#000" stroke-width="0.55">-6</text>
<text x="1454.4" y="2147.9" font-size="34.6" textLength="36.6" lengthAdjust="spacingAndGlyphs" stroke="#000" stroke-width="0.55">10</text>
<text x="1455.6" y="2203.9" font-size="34.6" textLength="18.3" lengthAdjust="spacingAndGlyphs" stroke="#000" stroke-width="0.55">5</text>
<text x="835.2" y="2112.4" font-size="32.7" textLength="137.3" lengthAdjust="spacingAndGlyphs" stroke="#000" stroke-width="0.55">Depth(m)</text>
<text x="1315.6" y="2112.4" font-size="30.9" textLength="162.9" lengthAdjust="spacingAndGlyphs" stroke="#000" stroke-width="0.55">SSC(mg/L)</text>
<text x="838.4" y="2144.9" font-size="33.0" font-weight="bold">(R)</text></svg></body></html>
